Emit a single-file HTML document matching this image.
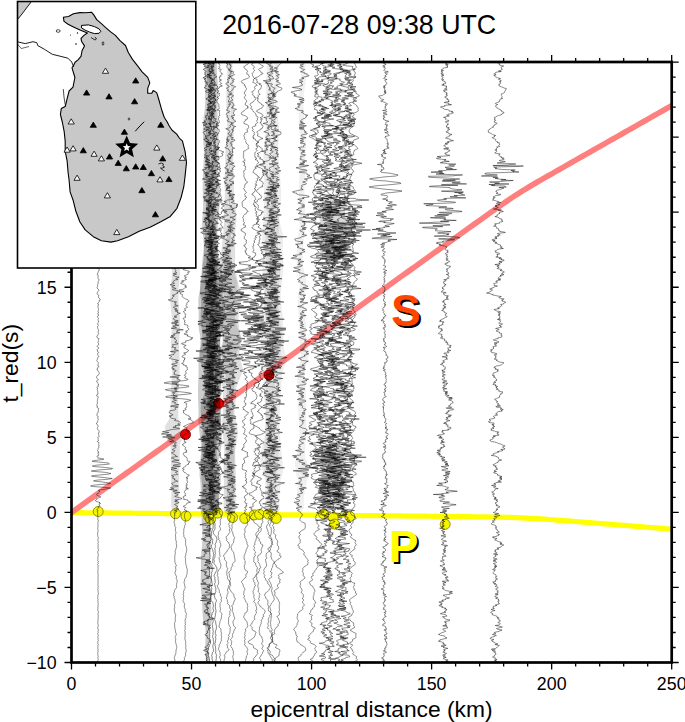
<!DOCTYPE html><html><head><meta charset="utf-8"><style>html,body{margin:0;padding:0;background:#fff;}svg{display:block;}text{font-family:"Liberation Sans",sans-serif;}</style></head><body>
<svg width="685" height="722" viewBox="0 0 685 722">
<defs><clipPath id="pc"><rect x="71.5" y="62.0" width="600.2" height="600.5"/></clipPath><clipPath id="mc"><rect x="17.5" y="1.5" width="178.3" height="266.5"/></clipPath></defs>
<g clip-path="url(#pc)"><polyline points="69.5,512.58 73.3,512.62 77.1,512.66 80.9,512.70 84.7,512.73 88.5,512.77 92.3,512.81 96.1,512.85 99.9,512.89 103.7,512.93 107.5,512.97 111.3,513.01 115.1,513.04 118.9,513.08 122.7,513.12 126.5,513.16 130.3,513.20 134.1,513.24 137.9,513.28 141.7,513.32 145.5,513.35 149.3,513.39 153.1,513.43 156.9,513.47 160.7,513.51 164.5,513.55 168.3,513.59 172.1,513.63 175.9,513.66 179.7,513.70 183.5,513.74 187.3,513.78 191.1,513.82 194.9,513.86 198.7,513.90 202.5,513.94 206.3,513.97 210.1,514.01 213.9,514.05 217.7,514.09 221.5,514.13 225.3,514.17 229.1,514.21 232.9,514.25 236.7,514.29 240.5,514.32 244.3,514.36 248.1,514.40 251.9,514.44 255.7,514.48 259.5,514.52 263.3,514.56 267.1,514.60 270.9,514.63 274.7,514.67 278.5,514.71 282.3,514.75 286.1,514.79 289.9,514.83 293.7,514.87 297.5,514.91 301.3,514.94 305.1,514.98 308.9,515.02 312.7,515.06 316.5,515.10 320.3,515.14 324.1,515.18 327.9,515.22 331.7,515.25 335.5,515.29 339.3,515.33 343.1,515.37 346.9,515.41 350.7,515.45 354.5,515.49 358.3,515.53 362.1,515.56 365.9,515.60 369.7,515.64 373.5,515.68 377.3,515.72 381.1,515.76 384.9,515.80 388.7,515.84 392.5,515.87 396.3,515.91 400.1,515.95 403.9,515.99 407.7,516.03 411.5,516.07 415.3,516.11 419.1,516.15 422.9,516.19 426.7,516.22 430.5,516.26 434.3,516.30 438.1,516.34 441.9,516.38 445.7,516.42 449.5,516.46 453.3,516.51 457.1,516.55 460.9,516.59 464.7,516.63 468.5,516.68 472.3,516.73 476.1,516.78 479.9,516.83 483.7,516.88 487.5,516.94 491.3,517.01 495.1,517.08 498.9,517.16 502.7,517.25 506.5,517.36 510.3,517.47 514.1,517.60 517.9,517.75 521.7,517.91 525.5,518.09 529.3,518.28 533.1,518.49 536.9,518.72 540.7,518.96 544.5,519.21 548.3,519.47 552.1,519.74 555.9,520.02 559.7,520.30 563.5,520.59 567.3,520.88 571.1,521.17 574.9,521.47 578.7,521.77 582.5,522.07 586.3,522.37 590.1,522.67 593.9,522.97 597.7,523.27 601.5,523.58 605.3,523.88 609.1,524.18 612.9,524.49 616.7,524.79 620.5,525.10 624.3,525.40 628.1,525.71 631.9,526.01 635.7,526.31 639.5,526.62 643.3,526.92 647.1,527.23 650.9,527.53 654.7,527.84 658.5,528.14 662.3,528.45 666.1,528.75 669.9,529.06 673.7,529.36" fill="none" stroke="#ffff00" stroke-width="5.2"/>
<polyline points="69.5,513.94 73.3,511.22 77.1,508.50 80.9,505.78 84.7,503.06 88.5,500.34 92.3,497.62 96.1,494.90 99.9,492.18 103.7,489.46 107.5,486.74 111.3,484.02 115.1,481.30 118.9,478.58 122.7,475.86 126.5,473.14 130.3,470.42 134.1,467.70 137.9,464.98 141.7,462.26 145.5,459.54 149.3,456.82 153.1,454.10 156.9,451.38 160.7,448.66 164.5,445.94 168.3,443.22 172.1,440.50 175.9,437.78 179.7,435.06 183.5,432.34 187.3,429.62 191.1,426.90 194.9,424.18 198.7,421.46 202.5,418.74 206.3,416.02 210.1,413.30 213.9,410.58 217.7,407.86 221.5,405.14 225.3,402.42 229.1,399.70 232.9,396.98 236.7,394.26 240.5,391.54 244.3,388.82 248.1,386.10 251.9,383.38 255.7,380.66 259.5,377.94 263.3,375.22 267.1,372.50 270.9,369.78 274.7,367.06 278.5,364.34 282.3,361.62 286.1,358.90 289.9,356.18 293.7,353.46 297.5,350.74 301.3,348.02 305.1,345.30 308.9,342.58 312.7,339.86 316.5,337.14 320.3,334.42 324.1,331.70 327.9,328.98 331.7,326.26 335.5,323.54 339.3,320.82 343.1,318.10 346.9,315.38 350.7,312.66 354.5,309.94 358.3,307.22 362.1,304.50 365.9,301.78 369.7,299.06 373.5,296.34 377.3,293.62 381.1,290.90 384.9,288.18 388.7,285.46 392.5,282.74 396.3,280.02 400.1,277.30 403.9,274.58 407.7,271.86 411.5,269.14 415.3,266.42 419.1,263.70 422.9,260.98 426.7,258.26 430.5,255.54 434.3,252.82 438.1,250.10 441.9,247.38 445.7,244.66 449.5,241.94 453.3,239.22 457.1,236.50 460.9,233.78 464.7,231.06 468.5,228.34 472.3,225.62 476.1,222.90 479.9,220.19 483.7,217.47 487.5,214.76 491.3,212.06 495.1,209.36 498.9,206.68 502.7,204.02 506.5,201.39 510.3,198.80 514.1,196.27 517.9,193.80 521.7,191.39 525.5,189.05 529.3,186.76 533.1,184.51 536.9,182.29 540.7,180.09 544.5,177.91 548.3,175.74 552.1,173.57 555.9,171.40 559.7,169.24 563.5,167.08 567.3,164.92 571.1,162.76 574.9,160.60 578.7,158.44 582.5,156.28 586.3,154.12 590.1,151.96 593.9,149.81 597.7,147.65 601.5,145.49 605.3,143.33 609.1,141.17 612.9,139.01 616.7,136.85 620.5,134.70 624.3,132.54 628.1,130.38 631.9,128.22 635.7,126.06 639.5,123.90 643.3,121.74 647.1,119.58 650.9,117.43 654.7,115.27 658.5,113.11 662.3,110.95 666.1,108.79 669.9,106.63 673.7,104.47" fill="none" stroke="#ff7f7f" stroke-width="5.6"/>
<circle cx="98.2" cy="511.5" r="5.0" fill="#f4f400" stroke="#7a7a00" stroke-width="0.8"/>
<circle cx="175.5" cy="513.7" r="5.0" fill="#f4f400" stroke="#7a7a00" stroke-width="0.8"/>
<circle cx="186" cy="516.1" r="5.0" fill="#f4f400" stroke="#7a7a00" stroke-width="0.8"/>
<circle cx="208.8" cy="516.6" r="5.0" fill="#f4f400" stroke="#7a7a00" stroke-width="0.8"/>
<circle cx="210.5" cy="519.3" r="5.0" fill="#f4f400" stroke="#7a7a00" stroke-width="0.8"/>
<circle cx="217.6" cy="513.1" r="5.0" fill="#f4f400" stroke="#7a7a00" stroke-width="0.8"/>
<circle cx="232.5" cy="517.5" r="5.0" fill="#f4f400" stroke="#7a7a00" stroke-width="0.8"/>
<circle cx="244.7" cy="518.4" r="5.0" fill="#f4f400" stroke="#7a7a00" stroke-width="0.8"/>
<circle cx="254.3" cy="514.9" r="5.0" fill="#f4f400" stroke="#7a7a00" stroke-width="0.8"/>
<circle cx="259.6" cy="514.4" r="5.0" fill="#f4f400" stroke="#7a7a00" stroke-width="0.8"/>
<circle cx="268.4" cy="514" r="5.0" fill="#f4f400" stroke="#7a7a00" stroke-width="0.8"/>
<circle cx="276.2" cy="518.4" r="5.0" fill="#f4f400" stroke="#7a7a00" stroke-width="0.8"/>
<circle cx="323.6" cy="514" r="5.0" fill="#f4f400" stroke="#7a7a00" stroke-width="0.8"/>
<circle cx="333.2" cy="517.5" r="5.0" fill="#f4f400" stroke="#7a7a00" stroke-width="0.8"/>
<circle cx="334.5" cy="524.1" r="5.0" fill="#f4f400" stroke="#7a7a00" stroke-width="0.8"/>
<circle cx="349.8" cy="516.6" r="5.0" fill="#f4f400" stroke="#7a7a00" stroke-width="0.8"/>
<circle cx="445.2" cy="524.3" r="5.0" fill="#f4f400" stroke="#7a7a00" stroke-width="0.8"/>
<circle cx="185.5" cy="434.5" r="5" fill="#ee0000" stroke="#700000" stroke-width="0.9"/>
<circle cx="218.5" cy="403.3" r="5" fill="#ee0000" stroke="#700000" stroke-width="0.9"/>
<circle cx="269" cy="375" r="5" fill="#ee0000" stroke="#700000" stroke-width="0.9"/>
</g>
<g clip-path="url(#pc)" fill="none">
<path d="M98.9,62l-0.8,0.5 0.1,0.5-0.1,0.5-0.8,0.5-0.4,0.5 0.2,0.5 0.6,0.5 0.6,0.5 0.4,0.5-0.1,0.5-0.4,0.5-0.4,0.5 0.6,0.5-0.2,0.5-0.3,0.5 0.4,0.5 0.3,0.5-0.7,0.5-0.4,0.5-0.3,0.5 0,0.5 0.3,0.5 0.6,0.5 0.3,0.5-0.6,0.5 0.1,0.5-0.1,0.5-0.4,0.5 0,0.5 0,0.5-0.4,0.5 0.7,0.5 0.3,0.5 0.5,0.5-0.2,0.5-0.5,0.5 0.1,0.5 0.7,0.5 0,0.5-0.5,0.5-0.2,0.5-0.1,0.5 0.3,0.5 0.1,0.5-0.2,0.5 0.6,0.5-0.5,0.5 0.5,0.5 0.3,0.5-0.3,0.5 0,0.5-0.6,0.5 0,0.5 0.6,0.5-0.3,0.5-0.3,0.5 0.1,0.5 0.3,0.5-0.6,0.5 0,0.5 0.7,0.5 0.2,0.5 0.1,0.5-0.5,0.5-0.4,0.5 0.3,0.5-0.2,0.5 0.5,0.5 0.8,0.5-0.5,0.5-0.8,0.5-0.1,0.5 0.3,0.5 0.5,0.5-0.7,0.5 0.4,0.5-0.4,0.5-0.3,0.5 0,0.5 0.6,0.5-0.4,0.5 0.4,0.5-0.4,0.5 0,0.5 0.2,0.5-0.1,0.5-0.4,0.5-0.3,0.5 0.6,0.5 0.2,0.5 0,0.5-0.1,0.5 0.4,0.5-0.1,0.5 0,0.5-0.3,0.5 0,0.5-0.6,0.5-0.2,0.5 0.4,0.5-0.4,0.5-0.2,0.5 0.2,0.5 0.5,0.5-0.3,0.5 0.1,0.5 0.8,0.5-0.2,0.5-0.3,0.5-0.2,0.5 0,0.5-0.6,0.5-0.1,0.5 0.3,0.5 0.2,0.5 0.4,0.5-0.3,0.5 0.5,0.5-0.4,0.5-0.2,0.5 0,0.5-0.1,0.5 0,0.5-0.5,0.5 0,0.5 0.6,0.5 0.3,0.5 0.7,0.5 0.4,0.5 0,0.5-0.2,0.5-0.5,0.5 0,0.5 0.1,0.5-0.6,0.5-0.1,0.5-0.6,0.5 0.5,0.5 0.4,0.5 0.7,0.5 0.1,0.5-0.4,0.5-0.3,0.5 0.1,0.5 0.9,0.5 0.3,0.5-0.5,0.5-0.1,0.5 0.2,0.5-0.5,0.5 0.4,0.5 0.2,0.5 0.1,0.5-0.6,0.5 0.1,0.5-0.3,0.5 0,0.5 0.3,0.5 0,0.5-0.8,0.5 0.2,0.5 0.8,0.5-0.6,0.5-0.3,0.5-0.1,0.5-0.7,0.5 0.8,0.5-0.4,0.5-0.2,0.5 1.1,0.5 0,0.5-0.6,0.5 0.5,0.5 0.3,0.5-0.2,0.5 0.1,0.5-0.5,0.5 0,0.5 0.7,0.5-0.1,0.5-0.3,0.5 0.2,0.5 0,0.5-0.1,0.5 0.1,0.5 0.6,0.5-0.7,0.5-0.1,0.5-0.2,0.5-0.2,0.5 0.8,0.5-0.6,0.5-0.1,0.5 0.2,0.5-0.1,0.5-0.1,0.5-0.1,0.5 0.1,0.5-0.4,0.5-0.3,0.5 0.8,0.5 0.2,0.5-0.2,0.5 0.6,0.5 0.6,0.5 0.5,0.5-0.5,0.5 0.1,0.5-0.6,0.5-0.1,0.5-0.1,0.5 0.2,0.5-0.1,0.5-0.8,0.5-0.4,0.5 0.3,0.5 0.2,0.5 0.1,0.5 0.4,0.5 0.2,0.5 0.1,0.5-0.6,0.5 0.1,0.5 0.3,0.5 0.1,0.5 0.1,0.5-0.3,0.5-0.7,0.5-0.1,0.5 0.3,0.5-0.1,0.5-0.7,0.5 0.2,0.5 0.6,0.5 0.3,0.5-0.2,0.5 0.1,0.5 0,0.5 0,0.5-0.6,0.5 0,0.5 0.3,0.5-0.3,0.5 0,0.5 0.3,0.5 0,0.5 0.1,0.5 0,0.5 0.4,0.5 0,0.5-0.7,0.5-0.2,0.5 0.7,0.5 0.1,0.5 0,0.5 0.6,0.5-0.6,0.5-0.2,0.5 0.6,0.5-0.3,0.5-0.5,0.5-0.1,0.5 0.4,0.5 0.3,0.5-0.1,0.5 0.3,0.5 0.2,0.5 0.1,0.5-0.1,0.5-0.6,0.5-0.4,0.5-0.6,0.5 0.2,0.5 0.4,0.5-0.1,0.5-0.1,0.5-0.6,0.5 0.3,0.5 0.4,0.5-0.1,0.5 0.2,0.5-0.1,0.5 0.5,0.5 0.2,0.5 0.1,0.5-0.2,0.5 0.1,0.5 0.1,0.5 0.3,0.5 0,0.5-0.1,0.5 0.1,0.5-0.1,0.5 0.2,0.5-0.5,0.5 0.1,0.5-0.2,0.5 0.2,0.5 0.2,0.5-0.3,0.5 0.1,0.5-0.2,0.5 0.4,0.5 0.2,0.5-0.6,0.5 0.1,0.5-0.1,0.5-0.1,0.5-0.1,0.5 0.5,0.5-0.1,0.5-0.3,0.5-0.3,0.5 0.5,0.5 0,0.5-0.2,0.5 0,0.5-0.3,0.5 0.2,0.5 0,0.5 0.2,0.5 0.6,0.5-0.4,0.5-0.2,0.5 0.5,0.5-0.3,0.5-0.2,0.5-0.1,0.5-0.2,0.5-0.2,0.5-0.3,0.5 0.4,0.5 0,0.5 0.5,0.5-0.1,0.5-0.5,0.5-0.1,0.5 0.9,0.5-0.1,0.5-0.3,0.5-0.3,0.5-0.4,0.5 0.3,0.5 0.6,0.5-0.7,0.5-0.5,0.5-0.3,0.5-0.3,0.5 1.2,0.5 0.3,0.5-0.1,0.5 0,0.5-0.3,0.5 0.5,0.5 0.2,0.5 0,0.5-0.4,0.5 0.2,0.5 0.1,0.5-0.1,0.5-0.7,0.5-0.8,0.5-0.4,0.5 0.2,0.5 0.5,0.5 0.6,0.5 0.3,0.5 0,0.5 0.4,0.5-0.1,0.5-0.2,0.5-0.2,0.5 0.6,0.5 0.2,0.5-0.6,0.5 0.2,0.5 0,0.5-0.2,0.5-0.1,0.5-0.4,0.5 0.3,0.5 0,0.5 0.2,0.5-0.3,0.5 0.1,0.5 0.4,0.5-0.1,0.5 0.1,0.5-0.2,0.5 0.3,0.5 0.5,0.5-0.1,0.5-0.5,0.5 0.5,0.5 0.2,0.5-0.3,0.5-0.1,0.5 0,0.5-0.2,0.5-0.3,0.5 0,0.5 0,0.5-0.3,0.5 0.1,0.5 1,0.5-0.2,0.5-0.7,0.5-0.5,0.5-0.6,0.5 0.5,0.5 0.6,0.5 0.5,0.5-0.6,0.5 0.7,0.5 0.8,0.5-0.1,0.5-0.1,0.5-0.2,0.5-0.7,0.5-0.2,0.5 0,0.5 0,0.5-0.3,0.5 0,0.5-0.7,0.5 0.3,0.5 1.1,0.5-0.3,0.5 0,0.5-0.3,0.5 0.1,0.5-0.1,0.5 0.1,0.5 0.8,0.5 0.3,0.5-0.1,0.5-0.2,0.5-0.5,0.5 0.1,0.5-0.2,0.5 0,0.5-0.4,0.5 0.3,0.5 0.3,0.5-0.6,0.5 0,0.5-0.1,0.5 0,0.5 0,0.5-0.3,0.5-0.3,0.5 0.1,0.5 0.4,0.5 0.3,0.5 0.7,0.5 0.1,0.5 0.2,0.5-0.4,0.5-0.4,0.5-0.3,0.5-0.4,0.5-0.5,0.5 0.3,0.5 0.2,0.5 0.4,0.5 0.3,0.5 1,0.5-0.3,0.5-0.1,0.5-0.5,0.5 0.3,0.5 0.7,0.5 0.4,0.5 0.5,0.5 0.2,0.5 0.2,0.5-1.3,0.5-0.2,0.5 0.3,0.5-0.3,0.5-0.5,0.5-0.6,0.5 0.2,0.5-0.5,0.5 1,0.5 0,0.5-0.2,0.5 0.1,0.5-0.7,0.5-0.1,0.5 0.4,0.5 0.2,0.5 0.6,0.5-0.1,0.5-0.3,0.5-0.3,0.5 0.2,0.5-0.2,0.5-0.1,0.5-0.1,0.5 0.7,0.5-0.6,0.5-0.5,0.5 1,0.5-0.2,0.5-0.2,0.5 0.6,0.5-0.8,0.5-0.7,0.5 0.3,0.5 0.4,0.5 0.2,0.5 0.4,0.5 0,0.5-0.5,0.5 0.3,0.5 0,0.5 0,0.5 0.3,0.5 0,0.5-0.6,0.5-0.3,0.5 0.1,0.5 0,0.5 0,0.5 0,0.5 0.6,0.5-0.6,0.5-0.2,0.5 0.4,0.5-0.4,0.5 0.1,0.5 0.3,0.5-0.4,0.5 0.3,0.5 0.6,0.5 0.1,0.5-0.1,0.5-0.3,0.5-0.4,0.5 0.4,0.5 0.4,0.5 0.2,0.5-0.5,0.5-0.2,0.5 0.1,0.5-0.5,0.5-0.9,0.5 0.1,0.5 0.5,0.5-0.4,0.5 0.7,0.5 1.2,0.5 0.3,0.5-0.6,0.5 0.3,0.5-0.5,0.5 0.3,0.5-0.4,0.5-0.5,0.5 0.2,0.5 0.2,0.5 0.1,0.5 0.7,0.5-0.4,0.5-0.1,0.5-0.7,0.5-0.7,0.5 0,0.5 0.5,0.5 0.9,0.5 0.5,0.5-0.7,0.5-0.7,0.5-0.3,0.5 0.1,0.5-0.1,0.5-0.2,0.5 1,0.5 0.4,0.5 0.2,0.5-0.9,0.5-0.2,0.5 0.3,0.5-0.2,0.5 0.2,0.5 0.1,0.5 0.5,0.5 0.3,0.5-0.2,0.5-0.8,0.5-0.6,0.5 0.4,0.5-0.1,0.5-0.3,0.5-0.1,0.5-0.4,0.5 0.5,0.5 0.2,0.5 0.5,0.5 0.3,0.5-0.1,0.5 0.2,0.5-0.3,0.5 0.1,0.5 0.2,0.5-0.5,0.5 0.4,0.5 1,0.5-0.8,0.5-0.7,0.5-0.2,0.5 0.2,0.5-1.1,0.5 0.4,0.5 0.8,0.5 0.1,0.5 0.3,0.5 0.1,0.5 0.4,0.5 0.4,0.5 0.3,0.5-0.2,0.5-0.3,0.5 0,0.5-0.8,0.5-0.5,0.5-0.2,0.5-0.7,0.5-0.3,0.5 0.2,0.5 0.1,0.5 0.5,0.5 0.5,0.5 0.4,0.5 0.2,0.5-1.1,0.5-0.7,0.5 0.1,0.5 0.8,0.5 0,0.5 0.5,0.5 0,0.5 0.6,0.5 0,0.5 0.4,0.5-1.1,0.5-0.1,0.5 0.4,0.5-0.4,0.5-1,0.5 0.8,0.5 0,0.5-0.2,0.5-0.1,0.5 0.1,0.5 0.2,0.5 0.4,0.5-0.2,0.5 0.2,0.5 0,0.5-0.5,0.5 0.4,0.5 0.5,0.5-1.1,0.5-0.4,0.5-0.6,0.5 0.7,0.5 1.2,0.5 0.4,0.5-0.2,0.5-0.4,0.5-0.3,0.5-0.4,0.5 0.6,0.5-0.1,0.5-0.3,0.5-0.2,0.5 0,0.5 0.6,0.5-0.5,0.5-0.3,0.5 0.4,0.5-0.2,0.5-0.3,0.5 0.3,0.5-0.3,0.5 0.2,0.5 0.6,0.5-1,0.5 0.6,0.5 0.8,0.5 0.6,0.5 0.2,0.5-0.6,0.5 0.2,0.5-0.1,0.5-0.1,0.5-0.1,0.5-0.4,0.5 0.2,0.5-0.2,0.5-0.8,0.5 0.2,0.5-0.2,0.5 0,0.5-0.2,0.5 1,0.5 0.3,0.5-0.2,0.5-0.1,0.5-0.3,0.5 0.4,0.5 0.4,0.5 0,0.5 0,0.5-0.6,0.5-0.4,0.5 0.3,0.5-0.3,0.5 0.1,0.5-0.7,0.5-0.7,0.5 0.9,0.5 0.3,0.5 0.6,0.5 0.1,0.5-0.1,0.5 0.2,0.5 0.1,0.5-0.5,0.5-0.3,0.5-0.3,0.5 0.7,0.5 0.1,0.5 0.6,0.5 0.4,0.5 0.4,0.5 0,0.5-0.3,0.5 0,0.5 0.3,0.5-0.9,0.5 0,0.5 0.6,0.5-0.4,0.5 0.3,0.5 0.3,0.5 0,0.5-0.5,0.5-0.9,0.5 0.4,0.5 0.1,0.5 0.1,0.5-0.2,0.5 0.4,0.5 0,0.5-1,0.5-0.1,0.5 0.2,0.5 1.4,0.5 0.1,0.5-0.1,0.5-0.6,0.5 0.3,0.5 0.5,0.5-0.2,0.5-0.4,0.5 0,0.5 0.7,0.5-0.7,0.5-0.5,0.5 0,0.5-0.3,0.5 0.2,0.5 0,0.5-0.3,0.5 0.3,0.5 0.2,0.5-0.5,0.5 1.2,0.5-0.2,0.5-1,0.5 0.6,0.5 0.6,0.5-0.1,0.5-0.2,0.5-1.6,0.5 0,0.5 0.5,0.5 0.5,0.5-0.4,0.5 3.7,0.5 2.6,0.5-0.9,0.5-4.4,0.5-3.4,0.5-3.1,0.5 0.6,0.5 5.9,0.5 4.8,0.5 5.1,0.5 0.3,0.5 0.6,0.5-4.1,0.5-7.3,0.5-3.7,0.5-2,0.5 1,0.5 6.5,0.5 5.9,0.5 3.8,0.5 3,0.5-1.1,0.5-6.4,0.5-6.7,0.5-3.5,0.5-3.5,0.5 3.3,0.5 6.7,0.5 5.3,0.5 1.9,0.5 2.4,0.5-1.7,0.5-4.6,0.5-5.2,0.5-4.9,0.5-3,0.5 1.4,0.5 5.4,0.5 5.9,0.5 3.1,0.5 5,0.5-2.6,0.5-4.4,0.5-7.3,0.5-3.4,0.5-1.1,0.5 4.2,0.5 4.4,0.5 3.7,0.5 3.8,0.5 1.1,0.5-3.7,0.5-5.5,0.5-6.4,0.5-3.2,0.5-1.4,0.5 2.1,0.5 7.2,0.5 6.5,0.5 4.4,0.5-2.3,0.5-2.7,0.5-2.8,0.5-4.2,0.5-0.5,0.5 1.7,0.5-0.3,0.5-0.1,0.5-0.7,0.5-0.6,0.5 0,0.5-1.4,0.5-0.4,0.5 0.7,0.5 0.4,0.5 0.8,0.5 1.8,0.5 0.8,0.5-1.8,0.5-0.9,0.5-1.5,0.5 0.4,0.5-0.1,0.5-1,0.5-0.5,0.5 0,0.5 0.6,0.5 2.3,0.5 1.6,0.5-0.8,0.5 1.3,0.5-1,0.5-0.7,0.5 0.9,0.5 0.1,0.5-0.8,0.5-0.4,0.5 0.6,0.5-1.2,0.5 0.2,0.5-0.1,0.5-0.7,0.5-0.5,0.5 0.2,0.5 0.9,0.5 0,0.5-0.9,0.5 0.2,0.5 0.3,0.5-0.4,0.5 0.6,0.5 0.2,0.5-0.3,0.5-0.1,0.5-0.1,0.5 0.2,0.5 0.1,0.5 0.1,0.5 0.1,0.5 0,0.5-0.2,0.5-0.2,0.5 0.2,0.5 0.2,0.5 0.3,0.5-0.1,0.5 0.1,0.5-0.2,0.5-0.2,0.5-0.1,0.5 0.1,0.5 0.2,0.5 0,0.5 0,0.5-0.2,0.5-0.1,0.5 0.1,0.5-0.1,0.5 0.1,0.5 0.1,0.5-0.4,0.5 0.2,0.5 0.2,0.5 0.1,0.5-0.1,0.5-0.1,0.5 0.1,0.5 0,0.5-0.3,0.5 0.1,0.5-0.2,0.5-0.2,0.5 0.2,0.5 0.1,0.5 0,0.5 0.3,0.5-0.2,0.5 0.1,0.5 0.4,0.5 0.1,0.5-0.2,0.5 0,0.5-0.2,0.5-0.1,0.5-0.1,0.5 0,0.5 0.3,0.5 0.4,0.5 0.1,0.5-0.4,0.5-0.5,0.5 0.1,0.5 0.3,0.5 0.1,0.5-0.1,0.5-0.2,0.5 0,0.5 0.1,0.5 0.2,0.5 0,0.5-0.2,0.5 0.2,0.5 0.2,0.5 0.1,0.5-0.1,0.5-0.5,0.5-0.1,0.5 0.1,0.5-0.2,0.5-0.1,0.5 0.5,0.5 0.1,0.5 0,0.5 0,0.5 0,0.5-0.1,0.5 0,0.5 0.1,0.5-0.4,0.5 0,0.5 0,0.5 0.3,0.5-0.2,0.5-0.3,0.5 0,0.5 0.5,0.5 0.4,0.5-0.3,0.5-0.4,0.5 0,0.5 0.5,0.5-0.3,0.5-0.3,0.5 0.3,0.5 0.2,0.5 0.1,0.5-0.3,0.5-0.1,0.5 0.1,0.5-0.1,0.5 0.1,0.5 0,0.5 0.1,0.5-0.3,0.5 0,0.5 0.2,0.5 0,0.5-0.3,0.5 0,0.5 0.3,0.5 0,0.5 0.4,0.5-0.1,0.5-0.1,0.5-0.2,0.5 0,0.5 0,0.5 0.1,0.5 0,0.5 0.1,0.5-0.2,0.5 0,0.5 0,0.5-0.1,0.5 0.3,0.5 0,0.5-0.2,0.5-0.1,0.5 0.1,0.5-0.1,0.5 0.1,0.5-0.1,0.5 0,0.5 0,0.5 0.2,0.5 0.4,0.5-0.1,0.5-0.5,0.5-0.1,0.5-0.1,0.5 0.4,0.5 0.1,0.5-0.3,0.5 0,0.5 0.1,0.5 0,0.5 0.1,0.5 0.2,0.5-0.1,0.5 0.1,0.5 0.1,0.5-0.2,0.5-0.1,0.5-0.2,0.5 0,0.5 0.2,0.5-0.2,0.5-0.1,0.5-0.1,0.5 0,0.5 0,0.5 0.2,0.5 0.2,0.5 0,0.5-0.3,0.5 0.2,0.5 0,0.5-0.1,0.5 0.1,0.5 0.1,0.5 0,0.5 0.1,0.5 0.2,0.5-0.3,0.5-0.2,0.5 0,0.5 0.2,0.5-0.1,0.5-0.1,0.5-0.1,0.5 0.1,0.5-0.2,0.5 0,0.5 0,0.5 0.2,0.5 0.1,0.5 0.2,0.5 0.3,0.5 0,0.5-0.5,0.5 0,0.5 0.1,0.5-0.1,0.5 0.2,0.5 0,0.5-0.2,0.5 0.2,0.5 0.1,0.5-0.1,0.5-0.1,0.5 0,0.5 0,0.5-0.1,0.5 0.1,0.5-0.1,0.5-0.1,0.5 0,0.5 0.1,0.5-0.1,0.5 0,0.5-0.1,0.5 0.2,0.5 0.1,0.5 0.1,0.5 0,0.5 0,0.5-0.1,0.5-0.2,0.5-0.2,0.5 0,0.5 0.1,0.5 0.3,0.5 0.2,0.5-0.1,0.5 0,0.5-0.1,0.5-0.1,0.5 0.1,0.5 0,0.5-0.1,0.5-0.2,0.5 0,0.5 0.1,0.5 0.1,0.5 0.4,0.5-0.1,0.5-0.4,0.5-0.1,0.5 0.1,0.5-0.1,0.5 0.3,0.5 0,0.5-0.1,0.5 0.2,0.5 0.1,0.5-0.2,0.5-0.1,0.5-0.3,0.5 0,0.5 0,0.5 0,0.5 0.5,0.5 0.2,0.5-0.5,0.5-0.1,0.5 0.3,0.5-0.1,0.5-0.1,0.5-0.1,0.5 0.1,0.5-0.1,0.5 0.3,0.5 0.1,0.5-0.1,0.5-0.2,0.5 0.1,0.5 0.1,0.5-0.2,0.5-0.2,0.5-0.1,0.5 0.2,0.5 0.2,0.5 0,0.5-0.3,0.5 0.1,0.5 0.4,0.5 0,0.5-0.3,0.5-0.1,0.5-0.1,0.5 0.3,0.5 0.3,0.5-0.1,0.5-0.4,0.5 0.1,0.5 0,0.5 0,0.5 0,0.5 0.2,0.5 0.1,0.5-0.1,0.5" stroke="#000" stroke-width="0.45"/>
<polygon points="171.2,62 171.0,66 170.8,71 170.6,76 170.6,80 170.7,84 171.0,89 171.1,94 171.2,98 171.3,102 171.3,107 171.1,112 170.7,116 170.2,120 169.7,125 169.7,130 170.0,134 170.6,138 171.1,143 171.3,148 171.5,152 171.6,156 171.9,161 172.3,166 172.6,170 172.6,174 172.5,179 172.2,184 172.0,188 171.9,192 172.0,197 172.1,202 172.0,206 171.7,210 171.5,215 171.5,220 171.8,224 172.2,228 172.5,233 172.5,238 172.3,242 171.9,246 171.6,251 171.3,256 171.3,260 171.5,264 171.9,269 172.0,274 171.7,278 171.1,282 170.6,287 170.3,292 170.2,296 170.4,300 170.6,305 171.0,310 171.5,314 171.8,318 172.0,323 171.9,328 171.6,332 171.3,336 170.9,341 170.8,346 170.9,350 171.1,354 171.4,359 171.7,364 171.9,368 172.0,372 171.8,377 171.6,382 171.3,386 171.0,390 170.7,395 170.6,400 170.6,404 170.4,408 170.0,413 169.5,418 167.5,422 165.0,426 165.4,431 166.0,436 166.8,440 170.2,444 170.8,449 170.9,454 171.0,458 171.0,462 170.9,467 170.8,472 170.8,476 170.9,480 171.1,485 171.4,490 171.5,494 171.3,498 171.1,503 171.6,508 173.2,512 175.2,516 175.3,521 175.3,526 175.3,530 175.4,534 175.7,539 176.0,544 176.2,548 176.3,552 176.2,557 176.1,562 176.0,566 175.9,570 175.8,575 175.6,580 175.5,584 175.4,588 175.3,593 175.3,598 175.3,602 175.3,606 175.2,611 175.1,616 175.0,620 174.8,624 174.7,629 174.8,634 174.9,638 175.1,642 175.2,647 175.4,652 175.4,656 175.5,660 175.4,664 175.4,664 175.5,660 175.4,656 175.4,652 175.2,647 175.1,642 174.9,638 174.8,634 174.7,629 174.8,624 175.0,620 175.1,616 175.2,611 175.3,606 175.3,602 175.3,598 175.3,593 175.4,588 175.5,584 175.6,580 175.8,575 175.9,570 176.0,566 176.1,562 176.2,557 176.3,552 176.2,548 176.0,544 175.7,539 175.4,534 175.3,530 175.3,526 175.3,521 175.2,516 176.8,512 177.9,508 178.6,503 179.0,498 179.2,494 179.3,490 179.1,485 179.0,480 179.0,476 179.1,472 179.4,467 179.6,462 179.7,458 179.7,454 179.7,449 179.8,444 181.8,440 181.0,436 180.4,431 180.0,426 178.9,422 178.3,418 178.3,413 178.2,408 178.1,404 178.1,400 178.2,395 178.5,390 178.8,386 179.1,382 179.3,377 179.5,372 179.6,368 179.7,364 179.6,359 179.4,354 179.1,350 179.0,346 179.1,341 179.4,336 179.8,332 180.1,328 180.1,323 180.0,318 179.6,314 179.2,310 178.8,305 178.5,300 178.3,296 178.4,292 178.7,287 179.2,282 179.7,278 180.0,274 179.9,269 179.5,264 179.3,260 179.3,256 179.6,251 179.9,246 180.2,242 180.4,238 180.5,233 180.2,228 179.7,224 179.4,220 179.3,215 179.6,210 179.8,206 179.9,202 179.9,197 179.8,192 179.8,188 180.0,184 180.3,179 180.4,174 180.3,170 180.0,166 179.6,161 179.3,156 179.2,152 179.1,148 178.8,143 178.3,138 177.7,134 177.3,130 177.4,125 177.8,120 178.4,116 178.8,112 178.9,107 178.9,102 178.8,98 178.7,94 178.5,89 178.3,84 178.1,80 178.1,76 178.3,71 178.5,66 178.7,62" fill="#000" fill-opacity="0.12" stroke="none"/>
<path d="M170.3,62l6,0.75 2.9,0.75-3.1,0.75 0,0.75-1.4,0.75 0.4,0.75-2,0.75 4.3,0.75 1.2,0.75-6.8,0.75 2.5,0.75-0.6,0.75 4.7,0.75-1.8,0.75 0.5,0.75-1.9,0.75 2.2,0.75-0.1,0.75-0.2,0.75-0.1,0.75-3.9,0.75 4.5,0.75-4.2,0.75-0.4,0.75 1.5,0.75 2.4,0.75 1.1,0.75-1.3,0.75 0.1,0.75-0.3,0.75-3.9,0.75 1.4,0.75-0.8,0.75-1.7,0.75 0.8,0.75 4.4,0.75-3.9,0.75-2.7,0.75 3,0.75-0.6,0.75-1,0.75 0.1,0.75 1.9,0.75-1.4,0.75-0.4,0.75 1.4,0.75 0.7,0.75 2.4,0.75 1.7,0.75-1.3,0.75 4.3,0.75-7,0.75-0.8,0.75 0.3,0.75 3.4,0.75-0.3,0.75-1,0.75-2,0.75 2.3,0.75-1.3,0.75 0,0.75 3.6,0.75 0.4,0.75-2.2,0.75-2.1,0.75 0.8,0.75-3.2,0.75-1.7,0.75 0.3,0.75 2.9,0.75-0.2,0.75-1.5,0.75-1.3,0.75 0.4,0.75-2.4,0.75 2.9,0.75 2.8,0.75-3,0.75-3,0.75 4.4,0.75 1.9,0.75 0.3,0.75-0.4,0.75-0.6,0.75 0.3,0.75-1.6,0.75 1.9,0.75-2,0.75 1.3,0.75 2.3,0.75-1.4,0.75-3.1,0.75-0.5,0.75 6.3,0.75-2.5,0.75-0.8,0.75-1,0.75 2.4,0.75-0.8,0.75 0.2,0.75 0.9,0.75 1,0.75 2,0.75-2.5,0.75 0.9,0.75-8.4,0.75 1.8,0.75 3.5,0.75-0.8,0.75 3.4,0.75 1.6,0.75 1.4,0.75 0.4,0.75 2,0.75-3.7,0.75-1.9,0.75 0.5,0.75 0.5,0.75-1.6,0.75-0.6,0.75 1.5,0.75 1,0.75-2.1,0.75-0.2,0.75 1.2,0.75-0.4,0.75 1.8,0.75-3.7,0.75-0.4,0.75 3.1,0.75-2.7,0.75 1.3,0.75-3.7,0.75 5.2,0.75 2.9,0.75-5.8,0.75 0.1,0.75 1.8,0.75 0.6,0.75-5.2,0.75 3,0.75 1.2,0.75 0.1,0.75 1,0.75-0.6,0.75 1.2,0.75-0.3,0.75 5.3,0.75-3,0.75 1.7,0.75-3.1,0.75-0.8,0.75-1.7,0.75 2.2,0.75-0.5,0.75-2.4,0.75 7.7,0.75-5.3,0.75-2.3,0.75-1.6,0.75 1.8,0.75 0.7,0.75-0.4,0.75 2.2,0.75-3.9,0.75 2.6,0.75-0.2,0.75-2.6,0.75-0.1,0.75 1.4,0.75 2.2,0.75-1.1,0.75-0.3,0.75-0.5,0.75 1.7,0.75-3.7,0.75-0.3,0.75 2.3,0.75 0.5,0.75 2.8,0.75-1,0.75-1.7,0.75-2.2,0.75 3.8,0.75-2.9,0.75 3.5,0.75 0.7,0.75 1.6,0.75-2.9,0.75 4.2,0.75-2.5,0.75-3.7,0.75-1.7,0.75-4.8,0.75 5.1,0.75 1.3,0.75-3.4,0.75 1,0.75-1.7,0.75 8.7,0.75-5.3,0.75 2.3,0.75 1.3,0.75-1.6,0.75 1.8,0.75 1.1,0.75 2,0.75-2.3,0.75 0.5,0.75-8.2,0.75 0.2,0.75-0.3,0.75 3.6,0.75 0.1,0.75 1.2,0.75 0.8,0.75 0.1,0.75-2.6,0.75 1.9,0.75 0.1,0.75 0.6,0.75 3.5,0.75-5.8,0.75 2.5,0.75 0,0.75 0.5,0.75-0.1,0.75 0.3,0.75-0.7,0.75 1.1,0.75-0.7,0.75-4.6,0.75-1.6,0.75 2.9,0.75-1,0.75 4.9,0.75 1.1,0.75-4.4,0.75 4.3,0.75-0.4,0.75-3,0.75 3.5,0.75 1.8,0.75-5.1,0.75-0.2,0.75-1.8,0.75 3.9,0.75-1.4,0.75 1.5,0.75-2.6,0.75 0.4,0.75-2.3,0.75-2.5,0.75 4.5,0.75 2.9,0.75-8.7,0.75 5.9,0.75-1.5,0.75-0.3,0.75 4,0.75 0.2,0.75 0,0.75 0.2,0.75-5.3,0.75 7.2,0.75-0.5,0.75-4.1,0.75 0.4,0.75-1.9,0.75 3.4,0.75 0.3,0.75-0.1,0.75-1.2,0.75 0.6,0.75-1.8,0.75-0.7,0.75 0.7,0.75 1,0.75-0.5,0.75-0.2,0.75 1.4,0.75-3.4,0.75 3.1,0.75-3.4,0.75 0.9,0.75 1.4,0.75 3.7,0.75-1.9,0.75-1.5,0.75 2.4,0.75-3.9,0.75-0.1,0.75-1.2,0.75-0.3,0.75 2,0.75-2.5,0.75-2.1,0.75 4.9,0.75-2.5,0.75-0.6,0.75 2.5,0.75 1.8,0.75-3.9,0.75 0.8,0.75 5.4,0.75 1.6,0.75-3.2,0.75 1.3,0.75-2,0.75-1.1,0.75-2.6,0.75 1.9,0.75-1.4,0.75-0.5,0.75 0.5,0.75-1.3,0.75-3.4,0.75 0.8,0.75 4.2,0.75 3.4,0.75-2.2,0.75 1.3,0.75 0.4,0.75-1.5,0.75 3.6,0.75-2.9,0.75-2.1,0.75 1.2,0.75 2.4,0.75-2.1,0.75 3.2,0.75-2.7,0.75 2.8,0.75-1,0.75 3.5,0.75-2.8,0.75-0.2,0.75-1.3,0.75-2,0.75 2.6,0.75-2.5,0.75-1,0.75 0.6,0.75 0.4,0.75 4,0.75-3.7,0.75 3.7,0.75-7,0.75 5.6,0.75-1.9,0.75 3.9,0.75-6.1,0.75 2.2,0.75 1.5,0.75-5.4,0.75 5.7,0.75 6.5,0.75-6.5,0.75 0.9,0.75-1.5,0.75 3.8,0.75-4.9,0.75-1.8,0.75 1.8,0.75-4,0.75 2.4,0.75-3.3,0.75 5.3,0.75-1.4,0.75 1.6,0.75 0.6,0.75 0.7,0.75-2,0.75 0,0.75 2.9,0.75 0.1,0.75-5.6,0.75 0.9,0.75-0.3,0.75-1.2,0.75 4.3,0.75-1.1,0.75-0.8,0.75 2.3,0.75 1.9,0.75-8.1,0.75 5.2,0.75-0.9,0.75-0.9,0.75 0.2,0.75-5.1,0.75 2.2,0.75 0.6,0.75-1.3,0.75-1,0.75 2.3,0.75 4.2,0.75 2.7,0.75-3.2,0.75 1.1,0.75 1.2,0.75-2.8,0.75-3.2,0.75 2.2,0.75 3.1,0.75-4.4,0.75 0.2,0.75-1.2,0.75 2.8,0.75-1.7,0.75 3.3,0.75 0.4,0.75-2,0.75-0.3,0.75 1,0.75-1.2,0.75 1.2,0.75 5.3,0.75-3.8,0.75-6.6,0.75 8.8,0.75-1.9,0.75 0.6,0.75 3,0.75-0.7,0.75-0.6,0.75-0.7,0.75-6.5,0.75 5.4,0.75-1.6,0.75 1.1,0.75 1.9,0.75-1.4,0.75-1.1,0.75-2,0.75 3.1,0.75-2.9,0.75 2,0.75 0,0.75-0.5,0.75-3.5,0.75 2.2,0.75-0.8,0.75-0.8,0.75 1.7,0.75 2.5,0.75-4.4,0.75 2.4,0.75-2,0.75 0.4,0.75 3,0.75-2.9,0.75-1.5,0.75 3.4,0.75-0.9,0.75 0.6,0.75 3.6,0.75-5.8,0.75-2.6,0.75 7.8,0.75-3.3,0.75 0.3,0.75 0.5,0.75-1,0.75-5,0.75 0.3,0.75-1,0.75 0.2,0.75 2,0.75 1.5,0.75-0.2,0.75-3.6,0.75 2.1,0.75-0.7,0.75 1,0.75 4.4,0.75-0.4,0.75-0.9,0.75 4.6,0.75 0.6,0.75 1,0.75-2.5,0.75-0.5,0.75 2.7,0.75-5.4,0.75 1.1,0.75-3.2,0.75 5.2,0.75 1.6,0.75-8.1,0.75-2.2,0.75-3.4,0.75-3.6,0.75 6.4,0.75-4.3,0.75-3.1,0.75 9.9,0.75-4.7,0.75 5.8,0.75-9.8,0.75 12.2,0.75-7,0.75 2.1,0.75 2.7,0.75 1,0.75-3.9,0.75 6.4,0.75 0.4,0.75-2.2,0.75 0.1,0.75 2,0.75-3.6,0.75 3.2,0.75 0,0.75-1.5,0.75-1.3,0.75-1,0.75 2.7,0.75-0.4,0.75-0.4,0.75-2.7,0.75 0.9,0.75 1.5,0.75 1.7,0.75-0.3,0.75 2.3,0.75-5.2,0.75-1,0.75 2.8,0.75 0.3,0.75 4.7,0.75-6.7,0.75-0.5,0.75 5.5,0.75 2.7,0.75 0.7,0.75-6.5,0.75-1.3,0.75 7.4,0.75-6.6,0.75-2.3,0.75 5.2,0.75-5.7,0.75 1.5,0.75 3.9,0.75 1.4,0.75-2.5,0.75 1.2,0.75 0.8,0.75 0.4,0.75-5.9,0.75-0.2,0.75 2.2,0.75-1.1,0.75-0.2,0.75 2.6,0.75-1.2,0.75 2.6,0.75 1.3,0.75-3.1,0.75-1.5,0.75-1.6,0.75 0.8,0.75 0.3,0.75 5.4,0.75-0.2,0.75-7,0.75-0.3,0.75 3.2,0.75-4.4,0.75 7.9,0.75-4.1,0.75 0.3,0.75 6.5,0.75-5.4,0.75 2.1,0.75 1.4,0.75-0.9,0.75-2.6,0.75 2.1,0.75 3.6,0.75 1.8,0.75-2,0.75-5.3,0.75 2.6,0.75-2.7,0.75 4.3,0.75-0.4,0.75-2.6,0.75-1.5,0.75 1.3,0.75 1.4,0.75 0.8,0.75-2.2,0.75 1,0.75 2.2,0.75-1.5,0.75-3,0.75 2.5,0.75-1.6,0.75-0.5,0.75 0,0.75-0.9,0.75 0.9,0.75-0.2,0.75-0.2,0.75 0.3,0.75-0.2,0.75-0.1,0.75-0.1,0.75 0.2,0.75 0.1,0.75-0.7,0.75 0.2,0.75 0,0.75 0.6,0.75 0,0.75-0.1,0.75 0.2,0.75 0.7,0.75 0.2,0.75-0.3,0.75 0,0.75-0.1,0.75 0,0.75 0.3,0.75 0.1,0.75 0.5,0.75-0.6,0.75-0.2,0.75 0,0.75 0,0.75 0.2,0.75-0.1,0.75 0.2,0.75-0.2,0.75 0,0.75 0.5,0.75 0,0.75 0.3,0.75 0.1,0.75-0.3,0.75 0.3,0.75 0.1,0.75 0,0.75 0.1,0.75-0.2,0.75-0.3,0.75-0.3,0.75-0.2,0.75-0.2,0.75-0.4,0.75 0,0.75 0.2,0.75-0.1,0.75 0.2,0.75-0.4,0.75-0.2,0.75 0,0.75 0.1,0.75-0.2,0.75 0,0.75 0.1,0.75 0.2,0.75-0.1,0.75-0.1,0.75 0.2,0.75 0.2,0.75 0.3,0.75 0.3,0.75 0.5,0.75 0.1,0.75-1.1,0.75 0.4,0.75 0,0.75 0,0.75 0.2,0.75-0.3,0.75-0.1,0.75-0.4,0.75-0.1,0.75 0.1,0.75 0.4,0.75 0.2,0.75 0.5,0.75 0.3,0.75 0,0.75-0.4,0.75 0.2,0.75 0.6,0.75 0.2,0.75-0.1,0.75 0.2,0.75-0.2,0.75-0.2,0.75-0.4,0.75 0,0.75 0.1,0.75 0.2,0.75 0,0.75-0.3,0.75-0.6,0.75-0.5,0.75-0.3,0.75-0.7,0.75 0.2,0.75-0.3,0.75-0.3,0.75-0.3,0.75 0.2,0.75-0.2,0.75 0.2,0.75 0.5,0.75-0.1,0.75 0,0.75 0.5,0.75 0.3,0.75 0,0.75 0.2,0.75-0.3,0.75 0.4,0.75-0.1,0.75-0.5,0.75-0.2,0.75-0.1,0.75 0.1,0.75 0.2,0.75 0,0.75-0.5,0.75 0,0.75 0.1,0.75 0.3,0.75-0.2,0.75 0.3,0.75 0.2,0.75 0.5,0.75 0.3,0.75-0.1,0.75-0.3,0.75 0.3,0.75-0.3,0.75 0,0.75-0.1,0.75 0,0.75 0.2,0.75-0.2,0.75-0.3,0.75-0.3,0.75-0.2,0.75 0.1,0.75 0.2,0.75 0.1,0.75-0.1,0.75-0.1,0.75 0.4,0.75 0.2,0.75 0.1,0.75 0.1,0.75 0.1,0.75 0.1,0.75 0.1,0.75 0.5,0.75 0,0.75 0,0.75-0.4,0.75-0.4,0.75-0.6,0.75 0.8,0.75 0.1,0.75 0,0.75-0.4,0.75 0.5,0.75-0.2,0.75 0,0.75 0.2,0.75 0.5,0.75 0,0.75 0,0.75 0.3,0.75 0.1,0.75 0.2,0.75-0.3,0.75-0.3,0.75-0.2,0.75 0,0.75-0.2,0.75 0.1,0.75-0.1,0.75-0.2,0.75-0.3,0.75-0.4,0.75 0.1,0.75-0.5,0.75-0.4,0.75 0.2,0.75 0.2,0.75 0.2,0.75 0.1,0.75-0.2,0.75 0,0.75 0.1,0.75-0.2,0.75" stroke="#000" stroke-width="0.45"/>
<path d="M181.8,62l1.7,0.75-0.3,0.75-1.6,0.75-0.6,0.75-0.4,0.75-0.5,0.75 1.1,0.75 1.3,0.75 0.7,0.75-1.4,0.75 0.5,0.75 3.8,0.75-2.6,0.75 0.8,0.75 1.4,0.75-2.3,0.75 0,0.75 1.2,0.75 0.7,0.75-0.7,0.75-1.2,0.75-1.6,0.75 1.2,0.75 0.2,0.75-0.8,0.75 0.3,0.75 1.8,0.75-0.8,0.75-0.8,0.75 1,0.75 0.9,0.75 0.4,0.75-0.5,0.75-0.2,0.75-0.8,0.75 0.7,0.75 0.6,0.75 0.3,0.75 1.3,0.75 2.2,0.75-1.7,0.75-1.3,0.75-2.3,0.75 2,0.75 1.9,0.75-0.6,0.75 1.3,0.75 0,0.75 1,0.75-3,0.75-0.1,0.75-0.3,0.75-1.9,0.75 0.6,0.75 0.3,0.75 0,0.75-1.7,0.75 1.2,0.75-2.5,0.75-0.6,0.75 1.7,0.75 1,0.75 1.3,0.75-1.1,0.75-1.2,0.75 3.1,0.75-0.6,0.75-3.3,0.75 0,0.75-0.7,0.75 1.8,0.75-1.3,0.75 2.4,0.75-1.9,0.75 4.2,0.75 0.5,0.75-1.1,0.75-2.3,0.75 0.7,0.75 1,0.75-3.2,0.75 2.9,0.75-2.3,0.75 0.7,0.75-0.3,0.75-0.4,0.75 0,0.75-0.9,0.75 0.8,0.75-1.9,0.75 1.1,0.75-0.7,0.75 1.3,0.75 0,0.75 0.9,0.75 0.3,0.75 0.7,0.75 2.2,0.75 0.2,0.75 1.7,0.75 1.2,0.75 1,0.75-0.6,0.75-0.9,0.75 1.8,0.75-3.4,0.75-1.5,0.75 1.5,0.75-2.5,0.75-1.5,0.75-1.1,0.75-1.2,0.75-1.2,0.75-0.6,0.75 2.5,0.75 2.6,0.75-1,0.75-0.7,0.75-0.9,0.75-1.5,0.75-0.4,0.75-0.5,0.75-0.2,0.75 2.3,0.75-2,0.75-0.5,0.75 1,0.75 3.3,0.75 1.1,0.75 1,0.75-1.5,0.75-0.2,0.75 1.5,0.75 0.1,0.75-0.2,0.75-2.9,0.75 1.1,0.75 1.2,0.75-3.5,0.75 0.4,0.75 1.4,0.75-0.5,0.75 2.3,0.75 0.1,0.75-1.3,0.75 0.9,0.75 0.8,0.75 2.7,0.75-1.1,0.75-0.1,0.75 2.3,0.75-0.1,0.75 2.1,0.75-3.1,0.75-2.3,0.75 2.6,0.75-1.6,0.75 1,0.75 2,0.75 1.6,0.75 3.7,0.75-1.3,0.75 0,0.75-2.9,0.75-2.3,0.75-1,0.75-2.9,0.75-1.2,0.75 2.5,0.75 0,0.75-0.5,0.75 2.1,0.75-0.2,0.75-0.2,0.75-0.4,0.75 1.1,0.75-1.8,0.75 3,0.75-0.5,0.75-2.7,0.75 0.1,0.75-0.6,0.75 3.2,0.75-1,0.75-3.2,0.75 0.1,0.75 0.8,0.75-1.3,0.75 0.4,0.75-2.6,0.75 3.4,0.75 0.9,0.75-0.2,0.75-0.3,0.75-1,0.75 1.1,0.75-0.7,0.75 1.7,0.75 3.6,0.75-2.1,0.75 0.3,0.75-1.6,0.75 3.6,0.75-0.8,0.75-0.9,0.75-0.7,0.75-1,0.75-2.3,0.75-0.8,0.75 0.5,0.75 0.6,0.75 0.1,0.75-1.1,0.75 1.1,0.75 0.6,0.75 0.2,0.75-1.1,0.75-4.2,0.75 1.3,0.75 1.3,0.75 2,0.75-0.2,0.75 1.9,0.75 0.9,0.75-0.7,0.75 1.8,0.75 0.6,0.75 3,0.75-1.8,0.75 0.2,0.75-1.4,0.75-0.5,0.75-0.1,0.75-2.3,0.75-0.1,0.75 1.3,0.75 2.7,0.75-1.8,0.75-2,0.75-1.8,0.75-0.2,0.75 0.2,0.75-0.7,0.75-0.8,0.75-0.3,0.75 1.5,0.75 2.2,0.75 1.3,0.75-1.4,0.75 1.5,0.75-1.4,0.75-1.4,0.75 0.5,0.75-0.8,0.75 2.3,0.75 0.3,0.75-3.1,0.75 1,0.75 2.7,0.75-3.8,0.75 1.3,0.75-0.1,0.75-0.1,0.75 0.8,0.75-1.1,0.75-0.8,0.75 0.7,0.75-1.1,0.75 1.3,0.75 1.1,0.75 3.6,0.75-0.2,0.75-1.5,0.75-0.8,0.75-0.6,0.75-3.8,0.75 0.3,0.75 3,0.75 2.7,0.75 0.5,0.75-2.1,0.75 0.8,0.75-0.2,0.75-2,0.75-1.8,0.75 0.4,0.75 1.8,0.75-1.9,0.75 0.6,0.75 1.3,0.75-1.9,0.75-3.1,0.75 2.1,0.75-1.6,0.75-1.5,0.75 1.6,0.75 2.4,0.75 1.7,0.75-1.4,0.75 1.9,0.75-1.7,0.75-0.9,0.75-1,0.75-4,0.75 1.1,0.75 3.9,0.75-4.3,0.75 0.9,0.75-0.5,0.75 2.4,0.75-0.1,0.75-0.7,0.75 0.5,0.75 0.9,0.75 1.3,0.75 1.3,0.75 2.1,0.75 0.4,0.75 0.9,0.75-1.3,0.75-1.1,0.75 0.1,0.75 0,0.75-0.2,0.75-1,0.75 1,0.75 0.9,0.75-1.6,0.75-1.7,0.75 0.5,0.75 1.1,0.75-1.9,0.75-0.7,0.75 1,0.75 0.2,0.75 1.3,0.75-0.4,0.75-0.2,0.75-0.3,0.75 1.1,0.75-1.2,0.75-1.9,0.75 0.8,0.75 1,0.75 0.4,0.75-1,0.75 1.1,0.75-0.2,0.75-0.4,0.75-0.2,0.75 3.3,0.75-0.2,0.75 0.7,0.75-0.8,0.75 1,0.75 0.7,0.75-0.6,0.75-0.5,0.75-2.4,0.75 1.6,0.75-0.2,0.75-2.4,0.75-0.5,0.75 4,0.75-1.2,0.75 2.1,0.75 1.8,0.75 2.2,0.75-2.2,0.75 0.7,0.75-2.5,0.75-3.7,0.75 0.7,0.75-0.4,0.75-3.8,0.75-0.1,0.75 2.7,0.75 1.8,0.75-2.2,0.75-0.3,0.75 0.4,0.75 1.4,0.75 1.1,0.75 1.6,0.75 0.5,0.75-1.4,0.75-0.2,0.75-3.4,0.75 1.7,0.75 0,0.75-1.9,0.75-1.3,0.75-0.2,0.75 1.4,0.75 1.9,0.75-1.3,0.75 1,0.75-1.5,0.75 0.2,0.75 0.2,0.75-1.1,0.75-1.2,0.75 2.3,0.75-0.6,0.75 3.2,0.75-0.7,0.75 1.6,0.75-0.5,0.75 0.5,0.75 0.2,0.75-1.2,0.75-0.2,0.75-0.8,0.75 0.8,0.75 0.2,0.75-1.3,0.75-0.2,0.75-0.6,0.75 1.6,0.75-0.7,0.75-0.7,0.75 1.6,0.75 2,0.75-0.6,0.75-4.2,0.75-9.7,0.75-7,0.75-2.5,0.75 5.3,0.75 6.4,0.75 7.7,0.75 5.4,0.75-0.2,0.75-4.6,0.75-8,0.75-7.4,0.75-3.3,0.75 2.3,0.75 6.8,0.75 7.9,0.75 6.2,0.75 2.8,0.75-5,0.75-7.9,0.75-8,0.75-4.7,0.75 0.3,0.75 6.5,0.75 9.2,0.75 6.5,0.75 2.5,0.75-1.9,0.75-3.3,0.75-1.4,0.75 2.3,0.75 0.4,0.75-0.6,0.75 0,0.75 0.3,0.75 0.1,0.75-0.5,0.75-1.4,0.75 1.4,0.75-0.6,0.75-2.6,0.75 1.1,0.75-1.1,0.75 1,0.75 0.6,0.75 1,0.75 1.7,0.75 2,0.75-0.3,0.75 1.5,0.75 0.5,0.75-2.9,0.75 3,0.75 0.5,0.75 1,0.75 1.1,0.75-0.8,0.75-2.8,0.75-1.9,0.75-1.4,0.75-1.7,0.75-1.7,0.75 1.9,0.75 1.8,0.75-0.5,0.75-0.2,0.75 0.8,0.75-0.2,0.75 1.4,0.75-0.2,0.75-0.7,0.75-2.4,0.75-1.1,0.75-1.1,0.75 0.8,0.75-1.4,0.75 0.8,0.75 0.7,0.75 1.1,0.75-0.8,0.75 0.4,0.75-0.2,0.75 1.9,0.75-2,0.75-0.3,0.75-1.4,0.75 0.1,0.75 1.3,0.75 0.9,0.75 0.9,0.75-0.2,0.75-0.8,0.75 1.2,0.75 1.1,0.75-1.3,0.75 1.4,0.75-3,0.75-1,0.75 0.2,0.75 0.8,0.75 0,0.75 1.1,0.75 1.4,0.75 0,0.75 0.7,0.75-0.1,0.75 0,0.75 0.4,0.75 2.6,0.75-0.7,0.75-1.4,0.75 0.9,0.75-2.3,0.75-0.7,0.75-0.2,0.75-1.3,0.75-1.4,0.75-0.6,0.75 1.8,0.75-1.6,0.75 0.4,0.75 0.4,0.75 0.6,0.75 1.6,0.75 0.9,0.75 0.6,0.75 2.2,0.75-1.3,0.75-0.4,0.75-1.7,0.75 2,0.75-1.5,0.75 0.9,0.75-0.4,0.75 0.2,0.75 0.4,0.75-0.1,0.75-1.2,0.75 0,0.75 1.2,0.75-1.7,0.75 0.7,0.75 0.7,0.75-1.6,0.75 2.8,0.75-2.2,0.75-1.1,0.75-0.2,0.75-0.4,0.75-0.1,0.75 0.7,0.75 0.5,0.75-0.8,0.75 1.1,0.75-2.1,0.75-0.9,0.75 1,0.75 0,0.75-0.5,0.75 4.5,0.75-0.2,0.75 1.1,0.75 1.7,0.75-3.4,0.75-0.5,0.75-0.3,0.75-0.7,0.75-2.2,0.75 0.2,0.75 2.2,0.75-0.5,0.75-0.8,0.75-0.1,0.75 1.8,0.75 0.9,0.75-1.4,0.75-0.5,0.75-0.3,0.75-0.6,0.75 0.6,0.75-0.5,0.75 0,0.75 0.1,0.75 0.3,0.75 0.1,0.75 0.7,0.75-0.1,0.75-0.1,0.75-0.3,0.75 0,0.75 0.2,0.75-0.1,0.75 0.1,0.75-0.5,0.75-0.1,0.75-0.1,0.75-0.3,0.75-0.3,0.75-0.2,0.75 0.1,0.75-0.2,0.75 0.1,0.75 0,0.75-0.4,0.75 0,0.75 0.4,0.75 0,0.75 0.1,0.75-0.1,0.75 0.8,0.75 0.5,0.75 0.2,0.75 0.1,0.75 0.3,0.75-0.2,0.75 0,0.75 0.3,0.75-0.2,0.75 0,0.75 0.1,0.75 0.2,0.75 0.2,0.75 0.5,0.75-0.1,0.75 0,0.75 0.3,0.75 0.1,0.75-0.5,0.75 0,0.75-0.1,0.75-0.5,0.75 0.1,0.75 0,0.75-0.3,0.75-0.3,0.75-0.1,0.75 0,0.75 0.3,0.75 0,0.75-0.2,0.75 0.4,0.75-0.3,0.75 0.3,0.75-0.4,0.75 0.7,0.75-0.1,0.75 0.2,0.75 0.6,0.75-0.1,0.75-0.1,0.75 0.5,0.75 0.1,0.75 0.1,0.75 0,0.75 0.2,0.75-0.5,0.75 0.1,0.75 0.2,0.75-0.2,0.75-0.4,0.75-0.2,0.75-0.1,0.75-0.2,0.75-0.6,0.75-0.6,0.75-0.3,0.75 0,0.75 0,0.75-0.5,0.75-0.1,0.75 0.2,0.75 0.2,0.75 0.2,0.75 0.1,0.75 0.2,0.75 0.1,0.75 0.1,0.75-0.1,0.75-0.7,0.75-0.1,0.75-0.1,0.75-0.6,0.75 0.2,0.75 0,0.75-0.3,0.75-0.3,0.75 0.5,0.75 0,0.75-0.1,0.75-0.3,0.75 0.1,0.75 0.1,0.75-0.1,0.75-0.3,0.75 0.2,0.75 0.3,0.75 0.6,0.75 0.3,0.75 0.3,0.75-0.2,0.75-0.1,0.75-0.2,0.75 0.2,0.75 0.2,0.75 0.3,0.75 0.4,0.75-0.1,0.75 0,0.75 0.1,0.75 0.5,0.75 0.6,0.75 0.1,0.75-0.3,0.75-0.2,0.75-0.1,0.75 0.4,0.75-0.3,0.75-0.6,0.75-0.1,0.75-0.1,0.75-0.2,0.75 0.2,0.75 0.2,0.75-0.2,0.75 0,0.75 0.3,0.75-0.5,0.75-0.1,0.75 0.3,0.75-0.1,0.75 0.1,0.75 0.2,0.75-0.3,0.75-0.5,0.75 0.4,0.75 0.2,0.75 0,0.75-0.2,0.75 0.2,0.75-0.2,0.75 0.2,0.75-0.1,0.75-0.2,0.75 0,0.75 0,0.75 0.2,0.75 0.2,0.75 0.4,0.75-0.2,0.75 0.3,0.75-0.2,0.75 0.1,0.75 0,0.75 0.1,0.75 0.1,0.75-0.1,0.75-0.2,0.75 0.1,0.75 0.4,0.75 0.1,0.75 0.1,0.75-0.4,0.75-0.1,0.75 0.1,0.75-0.4,0.75 0,0.75 0.3,0.75-0.5,0.75-0.3,0.75-0.7,0.75 0.1,0.75 0.1,0.75 0,0.75-0.6,0.75 0.1,0.75-0.3,0.75 0.4,0.75 0,0.75" stroke="#000" stroke-width="0.45"/>
<polygon points="204.5,62 204.6,66 204.6,71 204.6,76 204.7,80 204.8,84 204.9,89 205.1,94 205.2,98 205.2,102 204.9,107 204.4,112 203.8,116 203.4,120 203.0,125 202.8,130 202.8,134 203.1,138 203.4,143 203.7,148 203.9,152 203.8,156 203.6,161 203.4,166 203.1,170 202.9,174 202.7,179 202.7,184 202.7,188 202.7,192 202.9,197 203.1,202 203.2,206 203.0,210 202.6,215 202.2,220 202.1,224 202.3,228 202.8,233 203.3,238 203.6,242 203.9,246 204.1,251 203.9,256 203.5,260 202.9,264 202.3,269 202.0,274 201.7,278 201.2,282 200.4,287 199.4,292 198.7,296 198.3,300 198.4,305 198.6,310 198.7,314 198.6,318 198.5,323 198.7,328 199.3,332 200.1,336 200.5,341 200.3,346 199.7,350 198.9,354 198.5,359 198.5,364 198.5,368 198.6,372 198.4,377 198.2,382 198.1,386 198.0,390 198.0,395 198.1,400 198.3,404 198.5,408 198.5,413 198.4,418 198.5,422 198.7,426 199.3,431 199.9,436 200.5,440 200.9,444 201.1,449 200.9,454 200.5,458 200.1,462 199.7,467 199.5,472 199.6,476 200.1,480 200.6,485 200.8,490 200.8,494 200.4,498 200.1,503 200.2,508 201.0,512 201.6,516 201.7,521 201.9,526 202.1,530 202.3,534 202.4,539 202.2,544 201.8,548 201.3,552 201.0,557 200.9,562 201.0,566 201.0,570 200.9,575 200.7,580 200.7,584 200.9,588 201.3,593 201.7,598 202.1,602 202.2,606 202.4,611 202.7,616 203.1,620 204.5,624 205.5,629 205.7,634 205.5,638 205.4,642 205.3,647 205.3,652 205.5,656 205.7,660 205.7,664 209.4,664 209.4,660 209.2,656 209.1,652 209.0,647 209.1,642 209.3,638 209.4,634 209.8,629 211.1,624 212.1,620 211.7,616 211.4,611 211.2,606 211.1,602 210.7,598 210.3,593 209.9,588 209.7,584 209.7,580 209.9,575 210.0,570 210.0,566 209.9,562 210.0,557 210.3,552 210.8,548 211.2,544 211.4,539 211.3,534 211.1,530 210.9,526 210.7,521 210.6,516 210.9,512 211.5,508 212.1,503 212.6,498 213.1,494 213.3,490 213.1,485 212.8,480 212.4,476 212.5,472 212.8,467 213.3,462 213.9,458 214.4,454 214.7,449 214.7,444 214.4,440 213.9,436 213.4,431 213.0,426 212.8,422 212.9,418 213.1,413 213.2,408 213.2,404 213.1,400 213.0,395 213.0,390 213.1,386 213.2,382 213.4,377 213.6,372 213.5,368 213.5,364 213.5,359 213.9,354 214.7,350 215.3,346 215.5,341 215.1,336 214.3,332 213.7,328 213.5,323 213.6,318 213.7,314 213.6,310 213.4,305 213.3,300 213.7,296 214.4,292 215.4,287 216.2,282 216.7,278 217.0,274 217.0,269 216.3,264 215.5,260 214.5,256 213.4,251 212.8,246 212.4,242 211.9,238 211.3,233 210.7,228 210.3,224 210.3,220 210.5,215 210.8,210 210.9,206 210.6,202 210.3,197 210.0,192 209.8,188 209.7,184 209.6,179 209.6,174 209.7,170 209.8,166 210.0,161 210.0,156 210.0,152 209.7,148 209.3,143 209.0,138 208.7,134 208.7,130 208.8,125 209.1,120 209.5,116 210.1,112 210.5,107 210.8,102 210.8,98 210.6,94 210.4,89 210.2,84 210.1,80 210.0,76 209.9,71 209.8,66 209.8,62" fill="#000" fill-opacity="0.2" stroke="none"/>
<path d="M209.5,62l-6,0.75 3.5,0.75-4,0.75 2.3,0.75-0.5,0.75-0.6,0.75 4.1,0.75-2.5,0.75-1.5,0.75-1.1,0.75 1.7,0.75 0.7,0.75 0.5,0.75-1.3,0.75 0.1,0.75 0.6,0.75-0.7,0.75 1.6,0.75-0.4,0.75-1.5,0.75-1.6,0.75 3,0.75-1.8,0.75 1.6,0.75-0.3,0.75-0.7,0.75 2.8,0.75-1.8,0.75 1.8,0.75 0.2,0.75-2,0.75 0.7,0.75-0.7,0.75-1.6,0.75 1.2,0.75 1.9,0.75 1.6,0.75-2.6,0.75-0.5,0.75-0.1,0.75 4,0.75 0.3,0.75-1.4,0.75-0.5,0.75 2.1,0.75 1.1,0.75-3.2,0.75-0.1,0.75-2,0.75 1,0.75 2.5,0.75-1.1,0.75 2.8,0.75-1.2,0.75 2,0.75-4,0.75-0.9,0.75 1.3,0.75 0.3,0.75 0.2,0.75-0.5,0.75-0.1,0.75 0.4,0.75-2.2,0.75 3.5,0.75-0.9,0.75-0.6,0.75-0.9,0.75-0.3,0.75 0.1,0.75 0.2,0.75-2.3,0.75 1.1,0.75-1.1,0.75 1.4,0.75 0,0.75-0.2,0.75-1.6,0.75-0.9,0.75 2,0.75-3.6,0.75 4.5,0.75 0.2,0.75-4,0.75 2.9,0.75-0.5,0.75 2.6,0.75-2.8,0.75-1.4,0.75 0.4,0.75 2.9,0.75-1.2,0.75-2.3,0.75-0.4,0.75 0.7,0.75 0.6,0.75 0.2,0.75 1.1,0.75-0.2,0.75 0.9,0.75 0.4,0.75 0.1,0.75-3.3,0.75 1.6,0.75-0.4,0.75 1.2,0.75 2.8,0.75-1.7,0.75 1.6,0.75 0.9,0.75 1,0.75-2.4,0.75-0.7,0.75-2,0.75-1.2,0.75 0.4,0.75 2,0.75-2.3,0.75 0.9,0.75 0.8,0.75-0.3,0.75 0,0.75-0.3,0.75-1.2,0.75 3.1,0.75-1.4,0.75-1.9,0.75 2.3,0.75-0.9,0.75 2.5,0.75-2.6,0.75 0.4,0.75 1.5,0.75 2.1,0.75-1.7,0.75-1,0.75 0.9,0.75 4,0.75-3.5,0.75 4.5,0.75-8.1,0.75 1.6,0.75-0.4,0.75-3.5,0.75 1.3,0.75 0.4,0.75 1.2,0.75-0.4,0.75 4,0.75-2.5,0.75-0.7,0.75 2.5,0.75 0.2,0.75-1.6,0.75-2.5,0.75-1.7,0.75 4.1,0.75 1.2,0.75 2.3,0.75-5.7,0.75 1.6,0.75 4,0.75-3.6,0.75-1.5,0.75 5.4,0.75-3.6,0.75 1.8,0.75 1.6,0.75-3,0.75-2.4,0.75 1.1,0.75 2.9,0.75-1.9,0.75-0.5,0.75-2.1,0.75 4.9,0.75-0.5,0.75-1.8,0.75-0.5,0.75-3.4,0.75 2.9,0.75-1.6,0.75 0.1,0.75 3.4,0.75 2.1,0.75-3.8,0.75 5.5,0.75-2.9,0.75 1,0.75-1.2,0.75-0.6,0.75 2.3,0.75 1.1,0.75 0.9,0.75-5,0.75-0.9,0.75 0.9,0.75 2.2,0.75 0,0.75 0,0.75-6.6,0.75 3.1,0.75 3.1,0.75-2.4,0.75 1.6,0.75 0.7,0.75-1.8,0.75-2.6,0.75 2.7,0.75-3.3,0.75 1.8,0.75 0.3,0.75-2.8,0.75 3.8,0.75-0.8,0.75-1.1,0.75 1.2,0.75-0.4,0.75 3.4,0.75-0.6,0.75-2.6,0.75 2.5,0.75-3.7,0.75-1.3,0.75 0.2,0.75 1.8,0.75-4.6,0.75 0.6,0.75 1.7,0.75 7.7,0.75 0.6,0.75-2.6,0.75 0.7,0.75 1.3,0.75-6.7,0.75 1.9,0.75 0.2,0.75 1.6,0.75-3.3,0.75 8.2,0.75-5.7,0.75-0.1,0.75-0.5,0.75 3.7,0.75-0.6,0.75 2.6,0.75-5.8,0.75 3,0.75 1.6,0.75 0.1,0.75-2,0.75-2.3,0.75 2.1,0.75 1.5,0.75-1.4,0.75 5.6,0.75 4.5,0.75-9.7,0.75-1.4,0.75-1.5,0.75 1.1,0.75 0.8,0.75 0.7,0.75-1.6,0.75 1.3,0.75 5.2,0.75 5.9,0.75-1.9,0.75 0.2,0.75-10.8,0.75 5,0.75-2.3,0.75 0.9,0.75 3.1,0.75 0.5,0.75-6,0.75 5.7,0.75-2.8,0.75 5.2,0.75-4.3,0.75 3,0.75-1.8,0.75-2.4,0.75-0.2,0.75-5.2,0.75-5.2,0.75 6.1,0.75 2.9,0.75-0.4,0.75 3.9,0.75-4.9,0.75 5,0.75-5.1,0.75-2.1,0.75 2.7,0.75-2.9,0.75 2.9,0.75 7.4,0.75-9.9,0.75 3.3,0.75 1.7,0.75-6.5,0.75 4.2,0.75-1,0.75 3.2,0.75 5.2,0.75-6.6,0.75 5.1,0.75 3.7,0.75-2,0.75-0.6,0.75-8.7,0.75 1.3,0.75-5.3,0.75 5.7,0.75-6.8,0.75 1.6,0.75 6,0.75-3.2,0.75-3.3,0.75 0.7,0.75 2.9,0.75 4.4,0.75-3.1,0.75-3.2,0.75 0.7,0.75-1.4,0.75-6.4,0.75 10.6,0.75-3.9,0.75 9.1,0.75-4.5,0.75-5.7,0.75 3.4,0.75 2.9,0.75-6.5,0.75 5,0.75-2.7,0.75 1.6,0.75-1.1,0.75-3.3,0.75 2.4,0.75 3.6,0.75-6,0.75 0.2,0.75-5,0.75 8,0.75-4,0.75-3.6,0.75-0.1,0.75 4.1,0.75-0.6,0.75 12.1,0.75-0.2,0.75-5.3,0.75 1.8,0.75-3.2,0.75-4.7,0.75 5.7,0.75-2.2,0.75-3,0.75 7.1,0.75 1.1,0.75-0.1,0.75 10.8,0.75-7.6,0.75-4.2,0.75-6.4,0.75-0.1,0.75 0.9,0.75 2.7,0.75 6.4,0.75-2.5,0.75-1.9,0.75 0.8,0.75 3,0.75 2.8,0.75-1.1,0.75 5.1,0.75-8.7,0.75-6.2,0.75 0.7,0.75 4.1,0.75-0.3,0.75-2,0.75 10.3,0.75-11,0.75 2.3,0.75 0.7,0.75 2.2,0.75-0.9,0.75-1.3,0.75 2.1,0.75-3.3,0.75-14.6,0.75 4.7,0.75 5.2,0.75-6.3,0.75 0.3,0.75 4.9,0.75 1.5,0.75 3.2,0.75 2.9,0.75-6.7,0.75-2,0.75 0.9,0.75 9.2,0.75-7.4,0.75 7,0.75 1.7,0.75-6.2,0.75 3.2,0.75 1.3,0.75-3.5,0.75-0.1,0.75 1.1,0.75-2.6,0.75 3.3,0.75 2.3,0.75-3.6,0.75 4,0.75-2.8,0.75 4.5,0.75-4.9,0.75-3.7,0.75-2.1,0.75 7,0.75-6,0.75 3.5,0.75 4.1,0.75-4.9,0.75-3.3,0.75 10.6,0.75 2,0.75-11.8,0.75-0.2,0.75-1.3,0.75 3.7,0.75-0.8,0.75-0.3,0.75 11,0.75-4.3,0.75 5.8,0.75 0.1,0.75 2.3,0.75-7.9,0.75-2.2,0.75 1.4,0.75-4.8,0.75-5.5,0.75 4.6,0.75-2.2,0.75 2.2,0.75-5,0.75 0.4,0.75 8,0.75 2.5,0.75 1.8,0.75 3.7,0.75-13.3,0.75 0.9,0.75-0.3,0.75 1.2,0.75 2.1,0.75 2.9,0.75-2,0.75 0.7,0.75-2.2,0.75 6.8,0.75-0.2,0.75-12.2,0.75 4.9,0.75 0.7,0.75-2.8,0.75 6.5,0.75-2.5,0.75-0.2,0.75 4.7,0.75-6.4,0.75 2,0.75-7,0.75 7.2,0.75-7.1,0.75 1.5,0.75 1.1,0.75-0.4,0.75-3.3,0.75 1.4,0.75 1,0.75 5,0.75-0.5,0.75-3.6,0.75 4.2,0.75-1.1,0.75-2,0.75 5.4,0.75-4.3,0.75 3.2,0.75-7.3,0.75 4.1,0.75-5,0.75 8.6,0.75-1,0.75-1.1,0.75 0.7,0.75 1.2,0.75-0.5,0.75 0.6,0.75-2.3,0.75-0.6,0.75 4.3,0.75-3.4,0.75 2.8,0.75-12.2,0.75 9,0.75-0.5,0.75 2.9,0.75 0.7,0.75-6.5,0.75 0.1,0.75 8.1,0.75 0.8,0.75-4.4,0.75 2,0.75-0.4,0.75-6.2,0.75 2.3,0.75 7,0.75-4.2,0.75-0.4,0.75 2.1,0.75-2.9,0.75-2.1,0.75-9.6,0.75 2.2,0.75 2.4,0.75 2.8,0.75 4.2,0.75-0.8,0.75-4,0.75 5.4,0.75-4.6,0.75 1.7,0.75-4,0.75 9,0.75-4.6,0.75-4.1,0.75 2.5,0.75 5,0.75-1,0.75 4.4,0.75-7.3,0.75-0.3,0.75 0.5,0.75 1.2,0.75-1.3,0.75 3.9,0.75-2.9,0.75 3.5,0.75 2.9,0.75-3.7,0.75 1.2,0.75 1.1,0.75 1.7,0.75-4.7,0.75 7.3,0.75-3.4,0.75-1.6,0.75-1.9,0.75-4.3,0.75-1.1,0.75 3.2,0.75-0.2,0.75-6.4,0.75 2.2,0.75 9.2,0.75-3.6,0.75-2.1,0.75 1.3,0.75 0.8,0.75 2.4,0.75-2.9,0.75-0.1,0.75-9.2,0.75 7.7,0.75 2.6,0.75-4.1,0.75-3.1,0.75 4.7,0.75 0.9,0.75-2.4,0.75-1.1,0.75-3.6,0.75 1.5,0.75-3.3,0.75 7.8,0.75-1.9,0.75-0.8,0.75 1.1,0.75 2.9,0.75-0.4,0.75-0.6,0.75 6.3,0.75-5.8,0.75 1.3,0.75 2.1,0.75-2.1,0.75 5.2,0.75-3.9,0.75 3.3,0.75-2.4,0.75-0.1,0.75-0.7,0.75-0.4,0.75-2.1,0.75-3.2,0.75-3.3,0.75 10.2,0.75-2,0.75-1.2,0.75-0.1,0.75 4.5,0.75-0.2,0.75-7.5,0.75 6.9,0.75-2.3,0.75-1.3,0.75-4.3,0.75 5.4,0.75 2.3,0.75-5.2,0.75 5.4,0.75-4.3,0.75-1,0.75-0.4,0.75-3.5,0.75 4.7,0.75-2.4,0.75 2,0.75 4.8,0.75 0.1,0.75-1.3,0.75-2.2,0.75 0.7,0.75-1,0.75 1.1,0.75-0.3,0.75 0.3,0.75 3.1,0.75-6.4,0.75-2.3,0.75 7.3,0.75-5.4,0.75 2.1,0.75 0.5,0.75-1.8,0.75-0.6,0.75-0.1,0.75 0.6,0.75-2.3,0.75-6.2,0.75 2.8,0.75 5.9,0.75 4.3,0.75-3.2,0.75 4.9,0.75-5.9,0.75 5.2,0.75-1,0.75-4.2,0.75-0.7,0.75 3.8,0.75 0.8,0.75-2,0.75 7.5,0.75-8.5,0.75-0.7,0.75-4.5,0.75 2.7,0.75 3.4,0.75-2.2,0.75 1.6,0.75-1.4,0.75-0.2,0.75 2.5,0.75 2.8,0.75-3.5,0.75 2.9,0.75-3.6,0.75-2,0.75-1.6,0.75 1.3,0.75-1,0.75 1.6,0.75 2.1,0.75-5.4,0.75 7.5,0.75 4.3,0.75-5.7,0.75 2.2,0.75 0,0.75-6.2,0.75 2.9,0.75 4.3,0.75-1.9,0.75-1.2,0.75-1.7,0.75 3.7,0.75 5.8,0.75-1.4,0.75-11.1,0.75 1.5,0.75 2.4,0.75 0.4,0.75-5.2,0.75 8.8,0.75-1.4,0.75-8.2,0.75 10.6,0.75-0.9,0.75-3.2,0.75 3.6,0.75-6.1,0.75 1.1,0.75 0.7,0.75-0.6,0.75 1.2,0.75 2.1,0.75-0.6,0.75-1.4,0.75-2.2,0.75 0.2,0.75-1,0.75 3.4,0.75-1.9,0.75 4.4,0.75-2.4,0.75 0.4,0.75 1.4,0.75 0.1,0.75 0.4,0.75 4.5,0.75-2.6,0.75-4.8,0.75 0.9,0.75-4.1,0.75 1.1,0.75-2,0.75 3.6,0.75-3.3,0.75 6.9,0.75 0.1,0.75-1.1,0.75 1.6,0.75 0,0.75-2.5,0.75 0.8,0.75-0.7,0.75-1,0.75 0,0.75 0.8,0.75-1.9,0.75-0.6,0.75-0.6,0.75 2.4,0.75-0.3,0.75 0.6,0.75-0.4,0.75 1.6,0.75 0.3,0.75 0.8,0.75-1,0.75 1.7,0.75-1.6,0.75-1,0.75 0,0.75 0.2,0.75-0.6,0.75-1.2,0.75-1.2,0.75-0.3,0.75 2.7,0.75-0.5,0.75-3.5,0.75 0.4,0.75 3.2,0.75 0.4,0.75 1,0.75-1.2,0.75-2.6,0.75 1.4,0.75-0.2,0.75 0.9,0.75 0.5,0.75-1.3,0.75 1.3,0.75-0.6,0.75-0.8,0.75 1.9,0.75-1.2,0.75 0.2,0.75 2.8,0.75" stroke="#000" stroke-width="0.5"/>
<polygon points="206.9,62 206.7,66 206.7,71 206.8,76 207.1,80 207.6,84 207.9,89 208.1,94 208.1,98 207.8,102 207.4,107 206.9,112 206.5,116 206.3,120 206.1,125 206.0,130 205.9,134 205.8,138 205.7,143 205.8,148 205.9,152 206.0,156 206.0,161 206.0,166 205.9,170 205.9,174 205.9,179 205.8,184 205.8,188 205.8,192 205.9,197 206.0,202 205.9,206 205.8,210 205.6,215 205.5,220 205.5,224 205.5,228 205.3,233 204.9,238 204.3,242 203.8,246 203.4,251 202.8,256 202.5,260 202.1,264 201.8,269 201.4,274 200.8,278 200.2,282 200.0,287 200.0,292 200.6,296 201.1,300 201.2,305 200.9,310 200.6,314 200.6,318 201.0,323 201.6,328 202.1,332 202.1,336 201.7,341 201.0,346 200.4,350 200.0,354 200.2,359 201.1,364 202.5,368 203.9,372 205.1,377 205.9,382 206.0,386 205.2,390 203.7,395 202.3,400 201.2,404 200.7,408 200.8,413 201.2,418 201.8,422 202.2,426 202.5,431 202.7,436 202.6,440 202.3,444 202.0,449 201.6,454 201.4,458 201.3,462 201.1,467 200.9,472 201.1,476 201.7,480 202.2,485 202.2,490 201.9,494 201.6,498 201.6,503 201.8,508 203.3,512 208.4,516 209.0,521 210.0,526 210.9,530 211.4,534 211.3,539 210.9,544 210.4,548 209.9,552 209.4,557 209.1,562 209.1,566 209.4,570 209.9,575 210.0,580 209.8,584 209.4,588 209.1,593 209.2,598 209.6,602 210.0,606 210.2,611 210.0,616 209.9,620 209.8,624 209.8,629 209.8,634 209.8,638 209.8,642 209.9,647 210.0,652 210.1,656 210.1,660 210.1,664 210.1,664 210.1,660 210.1,656 210.0,652 209.9,647 209.8,642 209.8,638 209.8,634 209.8,629 209.8,624 209.9,620 210.0,616 210.2,611 210.0,606 209.6,602 209.2,598 209.1,593 209.4,588 209.8,584 210.0,580 209.9,575 209.4,570 209.1,566 209.1,562 209.4,557 209.9,552 210.4,548 210.9,544 211.3,539 211.4,534 210.9,530 210.0,526 209.0,521 208.4,516 212.8,512 213.9,508 213.8,503 213.9,498 214.3,494 214.8,490 214.9,485 214.5,480 214.0,476 214.0,472 214.3,467 214.6,462 214.9,458 215.2,454 215.6,449 216.1,444 216.5,440 216.7,436 216.7,431 216.5,426 216.2,422 215.7,418 215.4,413 215.5,408 216.1,404 217.3,400 218.8,395 220.3,390 221.2,386 221.1,382 220.4,377 219.2,372 217.9,368 216.6,364 215.8,359 215.6,354 216.0,350 216.7,346 217.4,341 217.9,336 217.9,332 217.5,328 217.0,323 216.6,318 216.6,314 217.0,310 217.4,305 217.3,300 216.9,296 216.4,292 216.4,287 216.7,282 216.8,278 216.3,274 215.5,269 214.7,264 214.0,260 213.2,256 212.7,251 212.7,246 213.1,242 213.5,238 213.8,233 213.8,228 213.7,224 213.6,220 213.5,215 213.6,210 213.6,206 213.6,202 213.3,197 213.1,192 212.9,188 212.8,184 212.8,179 212.7,174 212.5,170 212.4,166 212.3,161 212.1,156 211.9,152 211.7,148 211.7,143 211.7,138 211.7,134 211.8,130 211.9,125 212.0,120 212.2,116 212.6,112 213.1,107 213.4,102 213.7,98 213.6,94 213.4,89 213.0,84 212.5,80 212.2,76 212.0,71 212.0,66 212.1,62" fill="#000" fill-opacity="0.2" stroke="none"/>
<path d="M209.2,62l2.5,0.75-3.8,0.75 2.7,0.75-0.4,0.75-2.8,0.75 1.5,0.75-0.5,0.75 1,0.75 1.2,0.75-1.6,0.75 0.1,0.75-0.4,0.75 3.6,0.75-1.7,0.75-0.3,0.75-0.6,0.75-2,0.75 3.9,0.75-3.3,0.75-1.7,0.75 4.6,0.75-1.3,0.75 2.5,0.75-0.5,0.75-1.1,0.75 0.8,0.75 0.2,0.75-1.4,0.75 0.2,0.75-1.1,0.75 1.1,0.75-1.2,0.75-0.6,0.75 0.6,0.75 4.4,0.75-2.5,0.75-2.9,0.75 4.4,0.75-4.1,0.75 2.8,0.75-1.6,0.75 0.7,0.75 0.6,0.75 0.9,0.75 0.2,0.75-4,0.75 1.3,0.75-0.5,0.75 2.2,0.75 0.1,0.75-3,0.75 1.6,0.75-0.3,0.75 2.2,0.75-1.8,0.75-0.7,0.75-0.4,0.75 0.1,0.75 0.5,0.75 2.8,0.75-5,0.75 1.3,0.75 1.6,0.75-3.4,0.75 3.9,0.75 1.1,0.75-0.9,0.75-1.9,0.75 4.7,0.75-2.9,0.75-1.2,0.75 2.5,0.75-3.9,0.75 1.4,0.75-1.4,0.75 2,0.75 0.1,0.75-0.5,0.75-0.1,0.75 1,0.75-1.2,0.75 0.6,0.75-1.1,0.75 2.1,0.75-0.9,0.75 1.4,0.75-3.7,0.75 1.3,0.75 0.1,0.75-2.8,0.75 2.6,0.75-0.4,0.75 1.7,0.75-0.6,0.75-1.2,0.75 2.6,0.75-2.4,0.75 0.3,0.75-3.6,0.75-0.7,0.75 0.2,0.75 1.4,0.75 0.6,0.75 1.7,0.75-0.2,0.75-2.7,0.75 2.8,0.75 3.2,0.75-1.1,0.75-4.3,0.75 0.7,0.75-1.3,0.75 3.5,0.75 1,0.75 1,0.75-2.3,0.75 0.4,0.75 0.1,0.75 2.4,0.75-2.2,0.75 0,0.75 0.8,0.75 0.6,0.75-1.4,0.75-1.3,0.75-0.2,0.75-1.2,0.75-1,0.75 1.7,0.75 0,0.75 2,0.75-1.7,0.75-3,0.75 3.3,0.75 2.4,0.75-1.2,0.75-4.5,0.75 3.9,0.75-0.2,0.75 1.2,0.75-1.5,0.75 1.1,0.75-1.3,0.75 1,0.75 2.2,0.75-1.6,0.75-1.7,0.75-3.3,0.75-0.1,0.75 0.4,0.75 1.9,0.75-2,0.75 4.4,0.75 4.4,0.75-1.5,0.75-1.9,0.75 4.4,0.75-2.4,0.75 0.5,0.75 0.1,0.75-0.8,0.75-2.5,0.75-1.2,0.75 5.4,0.75-5.7,0.75 3.1,0.75-2.6,0.75 4.2,0.75 1.3,0.75-2.3,0.75-2.6,0.75 1,0.75 4.4,0.75-0.3,0.75-2.6,0.75-1,0.75 1,0.75-2,0.75 0.2,0.75 0.3,0.75-0.6,0.75 2,0.75 0.3,0.75-3,0.75-4.9,0.75 4.4,0.75-0.5,0.75-0.7,0.75 3,0.75 5.3,0.75-5.6,0.75 1,0.75-2.1,0.75-2.3,0.75-0.6,0.75 3.1,0.75-3.2,0.75 6.9,0.75-4.2,0.75 0.8,0.75 0.5,0.75-4.5,0.75 5.3,0.75-1.3,0.75-1.2,0.75 1.4,0.75-0.9,0.75-0.4,0.75-2.7,0.75 3,0.75 1.8,0.75-2.4,0.75 3,0.75-2.3,0.75 1.3,0.75-0.9,0.75-1.2,0.75 1.8,0.75-0.7,0.75-2.3,0.75-2.7,0.75-3.8,0.75 3.9,0.75 1.3,0.75 0.1,0.75 1.1,0.75 6.1,0.75 0.1,0.75 1.8,0.75-0.6,0.75-4.6,0.75 1.8,0.75-0.5,0.75 1.6,0.75-4.2,0.75 0.1,0.75 4.1,0.75-4.9,0.75 1.9,0.75-0.6,0.75-3.8,0.75 1.2,0.75-0.8,0.75-0.4,0.75-0.8,0.75 5.1,0.75-1.2,0.75 4.4,0.75 0.7,0.75-5.1,0.75 6.5,0.75-3.8,0.75 1.4,0.75-0.7,0.75-1.3,0.75-1.8,0.75-3.2,0.75-1,0.75 2.5,0.75 1,0.75-0.4,0.75-0.5,0.75 3.8,0.75-1.8,0.75 1.5,0.75-0.2,0.75 2.7,0.75-5.5,0.75 0,0.75-0.8,0.75 6,0.75-2.6,0.75-3.2,0.75 4.2,0.75-8.4,0.75 7,0.75 0.9,0.75-1.4,0.75-1.9,0.75 1.8,0.75 6.1,0.75-8,0.75 4.4,0.75-0.6,0.75 5.1,0.75-1.6,0.75 0.2,0.75-4,0.75 5,0.75-3.4,0.75 3.9,0.75-7.7,0.75 0.3,0.75 1.3,0.75-3,0.75 1.1,0.75-1.7,0.75 5.5,0.75 0.1,0.75 3,0.75-0.9,0.75 2.8,0.75 0.6,0.75-3.8,0.75-4.5,0.75-0.6,0.75-2.2,0.75-6.3,0.75 1.2,0.75 8.8,0.75 2.4,0.75-3.1,0.75 0.2,0.75 2.2,0.75-5.2,0.75 9.1,0.75-3.3,0.75-8.1,0.75 2.5,0.75-0.9,0.75 8.9,0.75-8.4,0.75 3.8,0.75 9.1,0.75-1.2,0.75-1.5,0.75-6,0.75-3.9,0.75-2.2,0.75 6,0.75-6.3,0.75 2.3,0.75-0.1,0.75 4.8,0.75-7.3,0.75 6.8,0.75-5.7,0.75-0.5,0.75-2.7,0.75 5.7,0.75-0.4,0.75 3,0.75 0.2,0.75 2.1,0.75 5.9,0.75-4.7,0.75 0.6,0.75-4,0.75-0.8,0.75 3.9,0.75 5.3,0.75-12.3,0.75 5,0.75-0.4,0.75 6.2,0.75-0.9,0.75-4.6,0.75-6.8,0.75-2.1,0.75 11.5,0.75-4.3,0.75 1.3,0.75 4.4,0.75-0.7,0.75 8.8,0.75-8.5,0.75-0.6,0.75-6.2,0.75-7.7,0.75 7.2,0.75 0.3,0.75-1.2,0.75 8.3,0.75-2.3,0.75-1.8,0.75-8.7,0.75 3.8,0.75-3.5,0.75 10.5,0.75 2.1,0.75-6.6,0.75 9.1,0.75-14.5,0.75 2.8,0.75-10.2,0.75 0.8,0.75 11.6,0.75 0.7,0.75 7.8,0.75-7.1,0.75 1.6,0.75-8.1,0.75 6.6,0.75 5.1,0.75-3,0.75 7.9,0.75 0.5,0.75-4.1,0.75-6,0.75-0.7,0.75-5.3,0.75 9.5,0.75 1.3,0.75-4.8,0.75 0.3,0.75-8.5,0.75 12.2,0.75-9.5,0.75 2.6,0.75 9.7,0.75-6.8,0.75-5.7,0.75-1.2,0.75 5.6,0.75 4.3,0.75-2.3,0.75-0.9,0.75 0.7,0.75 0.5,0.75-9.3,0.75 0.6,0.75 13.8,0.75-5.6,0.75-2.9,0.75 8,0.75 1,0.75-1.9,0.75 3.2,0.75-11.5,0.75 1,0.75-5,0.75 13.8,0.75-10.9,0.75-0.1,0.75 9.2,0.75-1.5,0.75-5.4,0.75 7.3,0.75 1,0.75-5.2,0.75 2.2,0.75-0.1,0.75-2.9,0.75-5.2,0.75 1.9,0.75 0.4,0.75 2.2,0.75 3,0.75-0.7,0.75 0.9,0.75-0.5,0.75-2.3,0.75 1.3,0.75-8.1,0.75 0.1,0.75 2.3,0.75 0.8,0.75 6.8,0.75 0,0.75-1.9,0.75-1.7,0.75 3.8,0.75 2.1,0.75 0.8,0.75-4.3,0.75 0.5,0.75-6.1,0.75 5.8,0.75 8,0.75-11.2,0.75 4.8,0.75-1.7,0.75-7.7,0.75-3.8,0.75 5.1,0.75 10.2,0.75 2.7,0.75 0.5,0.75-3.4,0.75 2.3,0.75-8.1,0.75 5,0.75-2.9,0.75 0.4,0.75 7.7,0.75-0.7,0.75-14.2,0.75 3,0.75-1.2,0.75 1.2,0.75 7.7,0.75-10.6,0.75 6,0.75 6.9,0.75-5,0.75 8,0.75-4.7,0.75-2.9,0.75 1.3,0.75-4.6,0.75 1.9,0.75 1.6,0.75-14.9,0.75 11.9,0.75-9.2,0.75 0.5,0.75 10,0.75-1.3,0.75-0.9,0.75-4.6,0.75 2.8,0.75 2.4,0.75-4.1,0.75 6.4,0.75-2.9,0.75 1.7,0.75-11.2,0.75-1.5,0.75 7.1,0.75 2,0.75 3.2,0.75-2.9,0.75-2.9,0.75-2.2,0.75 4.8,0.75-2.6,0.75 4.1,0.75-5.8,0.75 0.6,0.75-2.6,0.75 0,0.75 4.5,0.75-2.1,0.75 3.1,0.75 3.7,0.75-6,0.75-6.2,0.75 3.9,0.75-1.3,0.75 4,0.75-6.1,0.75 0.9,0.75 3,0.75-2.6,0.75 2.7,0.75-0.8,0.75 1.2,0.75 3.5,0.75-2,0.75-3.5,0.75 5.4,0.75-1.7,0.75 3.1,0.75-0.5,0.75 1.4,0.75-3.3,0.75 4.6,0.75 1.1,0.75 0,0.75-0.1,0.75-2.6,0.75 1.2,0.75 1.9,0.75-8.3,0.75 2,0.75-1.9,0.75 5.9,0.75 3.2,0.75 1.1,0.75-5.3,0.75 0.5,0.75 1.8,0.75 8.1,0.75-9.8,0.75-2,0.75-3.7,0.75 1.2,0.75-5.5,0.75 6.2,0.75 0.9,0.75 0.1,0.75-0.3,0.75 7.5,0.75-5.4,0.75-4.1,0.75-6.3,0.75 12,0.75-4.3,0.75 0.6,0.75 3.4,0.75 0.5,0.75 5.5,0.75-4.2,0.75 0,0.75-0.6,0.75 0.9,0.75-3.2,0.75-2.4,0.75-0.3,0.75-1.4,0.75 1.4,0.75-2.2,0.75 6.1,0.75-1.3,0.75 0.4,0.75 0.1,0.75-0.2,0.75-0.3,0.75 0.2,0.75 0.3,0.75 0.3,0.75 0.4,0.75-0.2,0.75 0.4,0.75 0.2,0.75 0.3,0.75 0,0.75-0.3,0.75 0,0.75-0.6,0.75 0.5,0.75-0.2,0.75-0.2,0.75-0.1,0.75 0.1,0.75-0.1,0.75 0,0.75-0.3,0.75 0.4,0.75 0.1,0.75 0.4,0.75 0.1,0.75 0.1,0.75 0.4,0.75 0.4,0.75 0.4,0.75 0,0.75-0.6,0.75-0.8,0.75-0.2,0.75-0.4,0.75-0.2,0.75 0.3,0.75-0.3,0.75-0.4,0.75 0.2,0.75 0.5,0.75 0.3,0.75 0,0.75-0.2,0.75 0.2,0.75 0,0.75 0.3,0.75-0.2,0.75 0,0.75 0.2,0.75 0.1,0.75 0,0.75 0.1,0.75-0.2,0.75 0,0.75 0.2,0.75-0.6,0.75 0,0.75 0.1,0.75 0.4,0.75 0.3,0.75 0,0.75-0.2,0.75-0.2,0.75 0.3,0.75 0.2,0.75-0.2,0.75-0.6,0.75 0,0.75-0.1,0.75-0.3,0.75 0.2,0.75 0.3,0.75 0,0.75 0,0.75 0,0.75-0.2,0.75-0.1,0.75 0.4,0.75 0.4,0.75 0.3,0.75 0.1,0.75 0,0.75 0.4,0.75 0.1,0.75 0.1,0.75-0.4,0.75 0.1,0.75-0.7,0.75-0.2,0.75-0.2,0.75-0.1,0.75-0.2,0.75-0.1,0.75 0,0.75 0.4,0.75 0.2,0.75 0.3,0.75-0.2,0.75 0.4,0.75 0.2,0.75-0.1,0.75 0.3,0.75 0,0.75-0.3,0.75 0.2,0.75 0.2,0.75-0.2,0.75 0,0.75 0.1,0.75-0.5,0.75-0.2,0.75-0.9,0.75-0.8,0.75-0.7,0.75-0.6,0.75 0.1,0.75-0.2,0.75-0.2,0.75 0.1,0.75-0.1,0.75 0.3,0.75 0,0.75 0,0.75 0.3,0.75 0.3,0.75 0,0.75 0.1,0.75 0.5,0.75 0.3,0.75 0.4,0.75-0.1,0.75 0.3,0.75 0,0.75 0,0.75-0.2,0.75-0.5,0.75-0.2,0.75-0.3,0.75-0.1,0.75-0.2,0.75 0,0.75-0.1,0.75 0.1,0.75 0.3,0.75-0.3,0.75 0.4,0.75 0.5,0.75 0,0.75 0.3,0.75 0.3,0.75 0.5,0.75-0.1,0.75 0.1,0.75-0.2,0.75 0.3,0.75-0.3,0.75 0,0.75 0.2,0.75-0.2,0.75 0.2,0.75-0.4,0.75 0.3,0.75 0.5,0.75 0.3,0.75-0.1,0.75 0.1,0.75 0.1,0.75 0,0.75-0.5,0.75-0.5,0.75-0.2,0.75-0.2,0.75-0.1,0.75-0.6,0.75 0.1,0.75-0.1,0.75-0.5,0.75-0.6,0.75 0.1,0.75 0.1,0.75 0.2,0.75 0.8,0.75-0.2,0.75-0.4,0.75 0.3,0.75 0.5,0.75 0.2,0.75 0.1,0.75 0.3,0.75 0,0.75 0.1,0.75 0,0.75 0.1,0.75 0.2,0.75 0.5,0.75" stroke="#000" stroke-width="0.5"/>
<polygon points="209.4,62 209.3,66 209.2,71 209.3,76 209.4,80 209.5,84 209.7,89 209.8,94 209.9,98 209.9,102 209.9,107 209.7,112 209.4,116 209.0,120 208.6,125 208.5,130 208.6,134 208.9,138 209.5,143 210.1,148 210.6,152 210.7,156 210.6,161 210.2,166 209.8,170 209.4,174 209.0,179 208.6,184 208.3,188 208.0,192 207.9,197 207.8,202 207.9,206 207.8,210 207.7,215 207.6,220 207.6,224 207.8,228 208.1,233 208.4,238 208.6,242 208.6,246 208.3,251 207.6,256 206.8,260 206.1,264 205.6,269 205.3,274 205.0,278 205.0,282 205.0,287 204.8,292 204.7,296 204.9,300 205.4,305 206.0,310 206.3,314 206.3,318 206.1,323 205.9,328 205.7,332 205.6,336 205.7,341 206.1,346 206.5,350 206.8,354 206.5,359 205.8,364 204.9,368 204.0,372 203.5,377 203.8,382 204.7,386 205.7,390 206.4,395 206.7,400 206.7,404 206.7,408 206.9,413 207.1,418 207.4,422 207.4,426 207.0,431 206.3,436 205.3,440 204.5,444 204.1,449 204.3,454 205.0,458 206.0,462 207.2,467 208.3,472 209.1,476 209.3,480 209.1,485 208.8,490 208.4,494 208.3,498 208.4,503 208.5,508 209.7,512 213.7,516 213.4,521 212.8,526 212.1,530 211.3,534 210.9,539 211.1,544 211.6,548 212.3,552 212.6,557 212.5,562 212.2,566 212.1,570 212.1,575 212.2,580 212.2,584 212.1,588 212.0,593 212.2,598 212.3,602 212.5,606 212.5,611 212.4,616 212.4,620 212.4,624 212.6,629 212.9,634 213.3,638 213.5,642 213.5,647 213.2,652 212.9,656 212.7,660 212.6,664 212.6,664 212.7,660 212.9,656 213.2,652 213.5,647 213.5,642 213.3,638 212.9,634 212.6,629 212.4,624 212.4,620 212.4,616 212.5,611 212.5,606 212.3,602 212.2,598 212.0,593 212.1,588 212.2,584 212.2,580 212.1,575 212.1,570 212.2,566 212.5,562 212.6,557 212.3,552 211.6,548 211.1,544 210.9,539 211.3,534 212.1,530 212.8,526 213.4,521 213.7,516 218.0,512 219.1,508 219.1,503 219.2,498 219.5,494 220.0,490 220.5,485 220.8,480 220.7,476 220.1,472 219.1,467 218.1,462 217.2,458 216.7,454 216.7,449 217.2,444 218.1,440 219.2,436 220.2,431 220.7,426 220.8,422 220.7,418 220.4,413 220.3,408 220.4,404 220.4,400 220.2,395 219.5,390 218.6,386 217.7,382 217.5,377 218.0,372 218.9,368 219.9,364 220.7,359 221.0,354 220.8,350 220.4,346 220.1,341 220.0,336 220.2,332 220.4,328 220.7,323 220.9,318 220.9,314 220.7,310 220.1,305 219.7,300 219.5,296 219.7,292 219.9,287 220.0,282 219.6,278 219.0,274 218.4,269 218.0,264 217.8,260 217.7,256 217.5,251 217.5,246 217.3,242 217.0,238 216.6,233 216.2,228 215.8,224 215.7,220 215.6,215 215.6,210 215.6,206 215.4,202 215.3,197 215.3,192 215.4,188 215.6,184 215.9,179 216.1,174 216.4,170 216.7,166 216.9,161 216.9,156 216.6,152 216.1,148 215.4,143 214.8,138 214.4,134 214.3,130 214.4,125 214.7,120 215.1,116 215.3,112 215.5,107 215.5,102 215.5,98 215.4,94 215.2,89 215.0,84 214.8,80 214.6,76 214.5,71 214.5,66 214.6,62" fill="#000" fill-opacity="0.2" stroke="none"/>
<path d="M212.4,62l-4.6,0.75 6.5,0.75-2.1,0.75-1,0.75 0.5,0.75 2.2,0.75-3.1,0.75 1.4,0.75-1.3,0.75 1.2,0.75 1.7,0.75-2.8,0.75-1.5,0.75 2.1,0.75-0.9,0.75-0.7,0.75-3.1,0.75 2.3,0.75 0.8,0.75-0.6,0.75 0.6,0.75 2.1,0.75 1,0.75-0.9,0.75-0.1,0.75-1.3,0.75 1.5,0.75 1,0.75-2.5,0.75 3.4,0.75 1.5,0.75-7.4,0.75 2.6,0.75 2.3,0.75-3.2,0.75 0.8,0.75 1.7,0.75-4.1,0.75 3.4,0.75 0.6,0.75-1.1,0.75 1.2,0.75-0.9,0.75 0.5,0.75 3.2,0.75-0.7,0.75-0.4,0.75-3.1,0.75 2.5,0.75 2.3,0.75-0.3,0.75-0.8,0.75-0.2,0.75 1,0.75-0.5,0.75-2.2,0.75 0.8,0.75-0.4,0.75-3.2,0.75-0.6,0.75 0.4,0.75 3.2,0.75-3.1,0.75 4.8,0.75-1.5,0.75-1.5,0.75 0.9,0.75-1.6,0.75 0.5,0.75-0.6,0.75 0.2,0.75 1.1,0.75 1.1,0.75-2.3,0.75 1.2,0.75-4.2,0.75 3.9,0.75-1,0.75 0.4,0.75 1.5,0.75 2.3,0.75-6.8,0.75 2.1,0.75 0.1,0.75-0.5,0.75 0.6,0.75 1.2,0.75 0.2,0.75-1.3,0.75 1.5,0.75-2.1,0.75 0.5,0.75-0.1,0.75-2.4,0.75 2.6,0.75 3.4,0.75-1,0.75-1.3,0.75 3.9,0.75-2.8,0.75-3,0.75 1.3,0.75 3,0.75-1.9,0.75 0.1,0.75-0.4,0.75-0.6,0.75-2.7,0.75 3,0.75-3.5,0.75 3.8,0.75 1.6,0.75 0.8,0.75 5.3,0.75-1.7,0.75 0.2,0.75-1.3,0.75-6,0.75 1.3,0.75 3.4,0.75-1.7,0.75-1.6,0.75-1.1,0.75 2.5,0.75-0.7,0.75-0.4,0.75-1.6,0.75 3.8,0.75-2.2,0.75 2,0.75 1,0.75-1,0.75-2.7,0.75 1.5,0.75-2,0.75 1.5,0.75-1.3,0.75 2.5,0.75-0.6,0.75-0.4,0.75-0.2,0.75-0.1,0.75-1.9,0.75 0.1,0.75 5,0.75-4.5,0.75 3,0.75 1.5,0.75-2.2,0.75-3.2,0.75 1.6,0.75 1.5,0.75-1.4,0.75 0.3,0.75-1.2,0.75-3.8,0.75 2.6,0.75 1,0.75-1.7,0.75 2.4,0.75-1.9,0.75 1.4,0.75 3.8,0.75-4.5,0.75-2,0.75 1.2,0.75 1.7,0.75-4.2,0.75 1.6,0.75-3.1,0.75 2.5,0.75 4.3,0.75-5.1,0.75 0.5,0.75 1,0.75 3.4,0.75-0.7,0.75-1.4,0.75 0.9,0.75 2.6,0.75-4.8,0.75-0.1,0.75 0.7,0.75 3.2,0.75-2.1,0.75 0.6,0.75-0.5,0.75-0.8,0.75 0.5,0.75 0.4,0.75-0.1,0.75-1.1,0.75 4,0.75-1.7,0.75 1.5,0.75-2.3,0.75 5.7,0.75-4.4,0.75-1.5,0.75 1.6,0.75-2,0.75 3.6,0.75-0.3,0.75-2.4,0.75-3.1,0.75-0.1,0.75-1.2,0.75-0.2,0.75 1.9,0.75-1.4,0.75 1.7,0.75 2.6,0.75-1.5,0.75 3.5,0.75-1.2,0.75-0.5,0.75 0.5,0.75-0.7,0.75 2.7,0.75-3.5,0.75-1.8,0.75 3.2,0.75-3,0.75 4.1,0.75-0.6,0.75-0.2,0.75-0.8,0.75 1.2,0.75-6.4,0.75 8.4,0.75-2.8,0.75 6.9,0.75-0.3,0.75-0.8,0.75-1,0.75-3.5,0.75-1.5,0.75-6.5,0.75 6.5,0.75 5.7,0.75-9.5,0.75 4,0.75-4.3,0.75 3.9,0.75-0.6,0.75 6.9,0.75-4.8,0.75 3.7,0.75-0.5,0.75-1.4,0.75 0.7,0.75-0.5,0.75 0.5,0.75-1,0.75-4.5,0.75-0.2,0.75 5.3,0.75-2,0.75 3.6,0.75 0.5,0.75-3.7,0.75-2.8,0.75 3.6,0.75-3,0.75 4.4,0.75-6.6,0.75 3.7,0.75 1.6,0.75-1,0.75 3.3,0.75 5.6,0.75-9.8,0.75-1.3,0.75 1.1,0.75-2,0.75 3.2,0.75-1.5,0.75 1.4,0.75-3.4,0.75-7.5,0.75 6.1,0.75 5.4,0.75-4.5,0.75 4.7,0.75-0.9,0.75 5.3,0.75-5.2,0.75 1.2,0.75 2,0.75-8.8,0.75 4.5,0.75-11.5,0.75-0.9,0.75 4.6,0.75 5.7,0.75 1.6,0.75 2.5,0.75-1.4,0.75 3.3,0.75 1.2,0.75-4.8,0.75 1,0.75-2.2,0.75 11.1,0.75-7.4,0.75 5.9,0.75-3,0.75-3.8,0.75 1.8,0.75-11.6,0.75 5.3,0.75 6.9,0.75-3.5,0.75 4.7,0.75-1.1,0.75-3.9,0.75-7.3,0.75 2.4,0.75 2.2,0.75 1.4,0.75-0.4,0.75 9.3,0.75-8.4,0.75-1.3,0.75-0.5,0.75 8.1,0.75 2.7,0.75-5.6,0.75-0.1,0.75-2.4,0.75-3.7,0.75 5.5,0.75-7.2,0.75-1.9,0.75 3,0.75 3.7,0.75-3,0.75 1.1,0.75 2.1,0.75-3.3,0.75 0.3,0.75 5.5,0.75-4,0.75-3.7,0.75 2.6,0.75 5.6,0.75-5,0.75 2.9,0.75-1.5,0.75 0.5,0.75 0.9,0.75 3,0.75-0.3,0.75-2.5,0.75-2.8,0.75 1.2,0.75 5.8,0.75-2.7,0.75-5.9,0.75 10.9,0.75-5.5,0.75 1.9,0.75-8.8,0.75-2.1,0.75 5.4,0.75-2.4,0.75 0.5,0.75 1,0.75 5.8,0.75-3,0.75-4.2,0.75 0.1,0.75 2,0.75-4.4,0.75 0.4,0.75 1.9,0.75-3,0.75 3.2,0.75 7.9,0.75-5.8,0.75 3.2,0.75-2.6,0.75 1.9,0.75 1.2,0.75 0.9,0.75 4.4,0.75 1.3,0.75 3.2,0.75-2.7,0.75-2.6,0.75 0.7,0.75-9.3,0.75 4.2,0.75-7.2,0.75 8.4,0.75 0.1,0.75-2.6,0.75-1.6,0.75 4.4,0.75-6.3,0.75-0.2,0.75 2.7,0.75-6.6,0.75 3,0.75-0.2,0.75 0.8,0.75-4.6,0.75 6.1,0.75 2.1,0.75 2.2,0.75 0.2,0.75-5.9,0.75 3.3,0.75-4.9,0.75-0.2,0.75 2.5,0.75 2.8,0.75-11.6,0.75-0.1,0.75 11.9,0.75-10,0.75-4.4,0.75 14.9,0.75-2.5,0.75 1.9,0.75 5.3,0.75 3.8,0.75-4.8,0.75-8.6,0.75 0.1,0.75-1.4,0.75-3.3,0.75 7.5,0.75-4.1,0.75 4.1,0.75 5.7,0.75-6,0.75 6.8,0.75-12.5,0.75 6.3,0.75-3.8,0.75-3.7,0.75 5.3,0.75 7.9,0.75 0.2,0.75-3.6,0.75-4.4,0.75 3.5,0.75-4.7,0.75 6.3,0.75-4,0.75-1.5,0.75 4.9,0.75-1,0.75-6.6,0.75 5,0.75-6.1,0.75 5.1,0.75-0.3,0.75 4.2,0.75-5.1,0.75 3.3,0.75-0.3,0.75-5.8,0.75 2.5,0.75 5.1,0.75-6,0.75-2.6,0.75 3.9,0.75-3.2,0.75 3.9,0.75-1.2,0.75 4,0.75-1,0.75-4.2,0.75-0.8,0.75 0.7,0.75-0.2,0.75 10.4,0.75-0.6,0.75-1.6,0.75 3.2,0.75-2.9,0.75-3.8,0.75-2.2,0.75 3.2,0.75-1.7,0.75 0.5,0.75 13,0.75-15.5,0.75-2.5,0.75 0.9,0.75-3.8,0.75 0.7,0.75 1.1,0.75 9.1,0.75-6.8,0.75 2.2,0.75-3.9,0.75-0.2,0.75 6.6,0.75-10,0.75-0.5,0.75-1.2,0.75 6.6,0.75 2.6,0.75 2.9,0.75-3.2,0.75 2.8,0.75 0.4,0.75-2.5,0.75 3.1,0.75-6.6,0.75-1.4,0.75 0.3,0.75-0.2,0.75-1.1,0.75 4.7,0.75 1.3,0.75 2.8,0.75-7.5,0.75 2.6,0.75 2.9,0.75 3.2,0.75-7.7,0.75 1.9,0.75 0.3,0.75 2.7,0.75-0.4,0.75-1.3,0.75 4.1,0.75 1.6,0.75-5.6,0.75 4.4,0.75-1.1,0.75-3.4,0.75 5.5,0.75-3.5,0.75 1.7,0.75-1.5,0.75-1.7,0.75 0.7,0.75-0.3,0.75 0.4,0.75-3.3,0.75-2.1,0.75-1,0.75 5.7,0.75 1.2,0.75-1.6,0.75-2.3,0.75 7,0.75-3.1,0.75 5.7,0.75-3.5,0.75-1.2,0.75-5.1,0.75 8.7,0.75-3.5,0.75-0.6,0.75-0.2,0.75-0.1,0.75 0.3,0.75 0.2,0.75 4.3,0.75-4.7,0.75 4.9,0.75-1.6,0.75 5.3,0.75-11,0.75-1.9,0.75 6.1,0.75-2.5,0.75 6.1,0.75-1,0.75-5,0.75-1.2,0.75 3.3,0.75 0.4,0.75-3.8,0.75 3.2,0.75 0.5,0.75-2.8,0.75 1.1,0.75 4.4,0.75 0,0.75-0.7,0.75 4.6,0.75 0.3,0.75-7.4,0.75 1.6,0.75-2.1,0.75-2.3,0.75 3.9,0.75 1.6,0.75-3.2,0.75-2.8,0.75 3.9,0.75-0.2,0.75 1.8,0.75-2,0.75-2,0.75 0.5,0.75 0.4,0.75-0.5,0.75 0.2,0.75-0.4,0.75 0,0.75-0.6,0.75-0.3,0.75 0.1,0.75 0.4,0.75 0.3,0.75 0.1,0.75 0.1,0.75 0.3,0.75 0.1,0.75-0.4,0.75 0,0.75 0.2,0.75-0.3,0.75-0.1,0.75-0.2,0.75-0.4,0.75-0.3,0.75-0.2,0.75-0.1,0.75-0.3,0.75-0.2,0.75 0.4,0.75-0.2,0.75-0.5,0.75 0.1,0.75 0.4,0.75 0.5,0.75 0.7,0.75 0.1,0.75 0,0.75-0.3,0.75 0,0.75 0.1,0.75 0.2,0.75-0.4,0.75-0.8,0.75-0.1,0.75-0.2,0.75 0.4,0.75 0.1,0.75 0.5,0.75 0.4,0.75 0.2,0.75 0.2,0.75 0,0.75 0.4,0.75-0.1,0.75 0.5,0.75-0.1,0.75-0.3,0.75-0.2,0.75 0.2,0.75-0.5,0.75-0.1,0.75 0,0.75 0.1,0.75-0.1,0.75-0.2,0.75-0.1,0.75-0.4,0.75-0.6,0.75 0.1,0.75 0.5,0.75 0,0.75-0.3,0.75 0.1,0.75-0.1,0.75 0.5,0.75 0,0.75-0.1,0.75 0,0.75-0.3,0.75-0.4,0.75 0.1,0.75 0,0.75-0.2,0.75 0,0.75 0,0.75-0.3,0.75 0.4,0.75-0.1,0.75 0.1,0.75-0.2,0.75 0.4,0.75 0.3,0.75-0.1,0.75 0.2,0.75 0.2,0.75 0,0.75-0.7,0.75-0.5,0.75 0.1,0.75 0.3,0.75 0.3,0.75-0.1,0.75-0.3,0.75 0.2,0.75 0,0.75-0.3,0.75 0,0.75 0.1,0.75-0.1,0.75-0.1,0.75-0.3,0.75-0.1,0.75-0.3,0.75 0.3,0.75 0.1,0.75 0.1,0.75 0.2,0.75 0.7,0.75 0.5,0.75 0.5,0.75 0.1,0.75 0.1,0.75 0.3,0.75 0.2,0.75-0.3,0.75-0.2,0.75-0.1,0.75 0.1,0.75 0.2,0.75 0.3,0.75 0,0.75-0.3,0.75-0.4,0.75-0.9,0.75-0.1,0.75 0.2,0.75-0.5,0.75 0,0.75 0.2,0.75 0.4,0.75 0.3,0.75 0.2,0.75 0.2,0.75 0.3,0.75-0.1,0.75-0.1,0.75-0.5,0.75-0.2,0.75-0.1,0.75 0.4,0.75 0,0.75-0.2,0.75 0.2,0.75 0.3,0.75 0.2,0.75-0.3,0.75 0.3,0.75 0.2,0.75-0.2,0.75-0.2,0.75 0.1,0.75 0.1,0.75-0.1,0.75-0.3,0.75-0.1,0.75 0.1,0.75 0.4,0.75 0.1,0.75 0.1,0.75 0,0.75 0.1,0.75 0.4,0.75-0.1,0.75-0.1,0.75-0.3,0.75-0.2,0.75-0.2,0.75 0,0.75-0.1,0.75 0.3,0.75 0.1,0.75 0.3,0.75-0.3,0.75 0.3,0.75-0.1,0.75-0.8,0.75-0.4,0.75 0,0.75-0.1,0.75-0.4,0.75 0.1,0.75 0.2,0.75 0.2,0.75-0.2,0.75 0.1,0.75 0.2,0.75 0.2,0.75 0.1,0.75-0.1,0.75 0,0.75 0.2,0.75" stroke="#000" stroke-width="0.5"/>
<polygon points="212.4,62 212.2,66 212.2,71 212.4,76 212.7,80 213.0,84 213.1,89 213.0,94 212.8,98 212.5,102 212.2,107 212.1,112 212.1,116 212.3,120 212.5,125 212.5,130 212.6,134 212.8,138 212.9,143 212.8,148 212.6,152 212.4,156 212.2,161 212.1,166 212.0,170 211.9,174 211.8,179 211.8,184 212.2,188 212.8,192 213.3,197 213.3,202 212.8,206 212.1,210 211.6,215 211.1,220 210.8,224 210.4,228 210.1,233 210.0,238 210.1,242 210.3,246 210.3,251 209.9,256 209.5,260 209.2,264 209.0,269 208.7,274 208.3,278 208.0,282 207.8,287 207.8,292 208.5,296 209.6,300 210.5,305 210.8,310 210.4,314 209.9,318 209.3,323 208.6,328 207.9,332 207.2,336 206.6,341 206.3,346 206.3,350 206.7,354 207.4,359 208.3,364 209.0,368 209.2,372 208.9,377 208.5,382 208.1,386 207.8,390 207.7,395 207.8,400 208.2,404 208.6,408 208.9,413 209.2,418 209.3,422 209.3,426 209.6,431 210.0,436 210.5,440 210.5,444 210.0,449 209.1,454 208.3,458 207.9,462 208.0,467 208.5,472 209.0,476 209.2,480 209.3,485 209.2,490 209.2,494 209.3,498 209.7,503 210.2,508 211.8,512 215.7,516 215.7,521 215.4,526 214.8,530 214.2,534 213.9,539 213.8,544 214.1,548 214.4,552 214.8,557 215.1,562 215.3,566 215.6,570 215.9,575 216.3,580 216.5,584 216.5,588 216.2,593 215.7,598 215.3,602 215.0,606 215.0,611 215.0,616 215.1,620 215.4,624 215.6,629 215.6,634 215.3,638 215.1,642 215.0,647 214.9,652 215.0,656 215.1,660 215.1,664 215.1,664 215.1,660 215.0,656 214.9,652 215.0,647 215.1,642 215.3,638 215.6,634 215.6,629 215.4,624 215.1,620 215.0,616 215.0,611 215.0,606 215.3,602 215.7,598 216.2,593 216.5,588 216.5,584 216.3,580 215.9,575 215.6,570 215.3,566 215.1,562 214.8,557 214.4,552 214.1,548 213.8,544 213.9,539 214.2,534 214.8,530 215.4,526 215.7,521 215.7,516 218.9,512 219.3,508 218.9,503 218.7,498 218.7,494 218.9,490 219.1,485 219.2,480 219.1,476 218.8,472 218.5,467 218.5,462 219.0,458 220.0,454 221.0,449 221.7,444 221.8,440 221.5,436 221.2,431 221.1,426 221.2,422 221.2,418 221.1,413 220.8,408 220.5,404 220.2,400 220.2,395 220.4,390 220.8,386 221.3,382 221.8,377 222.2,372 222.1,368 221.5,364 220.7,359 220.1,354 219.8,350 219.9,346 220.3,341 221.0,336 221.8,332 222.6,328 223.4,323 224.0,318 224.7,314 225.1,310 225.0,305 224.2,300 223.2,296 222.6,292 222.6,287 222.9,282 222.8,278 222.1,274 221.2,269 220.3,264 219.5,260 218.8,256 218.1,251 217.7,246 217.5,242 217.3,238 217.4,233 217.6,228 217.9,224 218.2,220 218.5,215 219.0,210 219.6,206 220.0,202 219.9,197 219.4,192 218.7,188 218.3,184 218.2,179 218.2,174 218.2,170 218.2,166 218.3,161 218.4,156 218.6,152 218.7,148 218.6,143 218.5,138 218.3,134 218.1,130 218.0,125 217.7,120 217.5,116 217.4,112 217.4,107 217.6,102 217.9,98 218.0,94 218.0,89 217.8,84 217.5,80 217.1,76 216.9,71 216.8,66 216.9,62" fill="#000" fill-opacity="0.2" stroke="none"/>
<path d="M214.9,62l-2.8,0.75 0.4,0.75 1.5,0.75 0,0.75-0.8,0.75-2.5,0.75 2,0.75 0.3,0.75-1,0.75-0.2,0.75 1.1,0.75-0.8,0.75 1.2,0.75 0.2,0.75-1.6,0.75 3,0.75 0.3,0.75-0.8,0.75 1.9,0.75 0.4,0.75-2,0.75-0.2,0.75 0,0.75-2.4,0.75 2.1,0.75 0.2,0.75 0.6,0.75 0.3,0.75-0.9,0.75 1.9,0.75-0.1,0.75 1,0.75 0.6,0.75 0,0.75-0.4,0.75-1.6,0.75-2.8,0.75 2.7,0.75 0,0.75-1.1,0.75-0.1,0.75-1.2,0.75 1.9,0.75-0.6,0.75 0.2,0.75 1.2,0.75-2.9,0.75 1.1,0.75 0.7,0.75 0.8,0.75 0,0.75-1.2,0.75-2.9,0.75 2.9,0.75-0.9,0.75-0.9,0.75 0.9,0.75 1.8,0.75-1,0.75 1.6,0.75-1.1,0.75 0.1,0.75-2,0.75 1.7,0.75 1.4,0.75-1.3,0.75-2.4,0.75 1,0.75 0.4,0.75-2.1,0.75 1.3,0.75-0.3,0.75 1.5,0.75-1,0.75 1,0.75 2.2,0.75-1.1,0.75-0.1,0.75-0.1,0.75 2.2,0.75 1,0.75-2.1,0.75 0,0.75 2,0.75 0.9,0.75-6.5,0.75 3.9,0.75-3.3,0.75 1.5,0.75-0.7,0.75-1.7,0.75 0.2,0.75 0.6,0.75 3.6,0.75-2.3,0.75-0.6,0.75 1.9,0.75-0.3,0.75 0,0.75-0.8,0.75-1.1,0.75 0.6,0.75 3.1,0.75-2.1,0.75 0.4,0.75-1.8,0.75 2.1,0.75-2.6,0.75 1.8,0.75 0.5,0.75-1.3,0.75 1.9,0.75-0.1,0.75 0.1,0.75-1.6,0.75 1.4,0.75 1.4,0.75-0.8,0.75-1.3,0.75 0.8,0.75-0.2,0.75-1.3,0.75 1.5,0.75-1.4,0.75-2.4,0.75 6.7,0.75-5.3,0.75 2,0.75-0.3,0.75-1.2,0.75 1.6,0.75 0.8,0.75-1.2,0.75 2.9,0.75 1.1,0.75-1.9,0.75 0.4,0.75-0.3,0.75-2.1,0.75 3.9,0.75-1,0.75-1.2,0.75 1.3,0.75-2.1,0.75-2.6,0.75 0.1,0.75 1.1,0.75 1,0.75-2.9,0.75 5.7,0.75-0.4,0.75 1.8,0.75-3.8,0.75-2.9,0.75 2.2,0.75 0.2,0.75 1.8,0.75 3.1,0.75-5.5,0.75 2.5,0.75-2.5,0.75 2.9,0.75 2.6,0.75-4.8,0.75 2.6,0.75-2.9,0.75 1.2,0.75 0.3,0.75-2.5,0.75-3,0.75 4.5,0.75-3.1,0.75 1,0.75 3.5,0.75-1.8,0.75 3.2,0.75 1.1,0.75-1.5,0.75 0.1,0.75-0.1,0.75-3.9,0.75 1,0.75-2.3,0.75 8,0.75-6.3,0.75 3.6,0.75-2.6,0.75-2.4,0.75 5,0.75-2.6,0.75 3,0.75-5.8,0.75 2.7,0.75 0.2,0.75-4.1,0.75-0.7,0.75 4.6,0.75-2.1,0.75-0.4,0.75 4.6,0.75-0.8,0.75 1.9,0.75-1.9,0.75-1.9,0.75 0.2,0.75 2.4,0.75 3.1,0.75-1.2,0.75-5.9,0.75 0,0.75 0.6,0.75 1.4,0.75 0.8,0.75-0.6,0.75 2.5,0.75-3.6,0.75-1.6,0.75-0.9,0.75-0.9,0.75 0.2,0.75 3.9,0.75-0.5,0.75-4.4,0.75 9,0.75-3.4,0.75-4.3,0.75 2.6,0.75-0.2,0.75 1.4,0.75-0.2,0.75-2.8,0.75 2.9,0.75 3.7,0.75-6.1,0.75 5.2,0.75-5.7,0.75 0.4,0.75 0.4,0.75-1.5,0.75-0.7,0.75 0.7,0.75-0.4,0.75 4.3,0.75-5.4,0.75 1.3,0.75-1,0.75-1.2,0.75 2.3,0.75 3.9,0.75 0.6,0.75-0.3,0.75 2,0.75-7.3,0.75 1.2,0.75-0.5,0.75-0.2,0.75-2.9,0.75 5.8,0.75-3,0.75 3.1,0.75-2.2,0.75-1.4,0.75 0.5,0.75 4.5,0.75-2.8,0.75-0.9,0.75 7.8,0.75-4,0.75-3.2,0.75 5.8,0.75-4.8,0.75-6.6,0.75-2.7,0.75 3.3,0.75 5.4,0.75 0.9,0.75-0.6,0.75-2,0.75 4.2,0.75-1.1,0.75 4.1,0.75-7.2,0.75-0.1,0.75 1.6,0.75-4.2,0.75-4.9,0.75 9.6,0.75 2.5,0.75 4.5,0.75-11.4,0.75 3.6,0.75-8,0.75 9.1,0.75-1.9,0.75-1.7,0.75 2.3,0.75-5.1,0.75 3.4,0.75 6.4,0.75-12.2,0.75 2.5,0.75 7.3,0.75 5.1,0.75-2.9,0.75-3.2,0.75-3.9,0.75-0.9,0.75 6.4,0.75-1.6,0.75 3.1,0.75 4.6,0.75-8.9,0.75 2.4,0.75 3.4,0.75 0.8,0.75-2.4,0.75-4.7,0.75 3.2,0.75-4,0.75 7.3,0.75 2.1,0.75-12.7,0.75 5,0.75 5.8,0.75-3.2,0.75 2.6,0.75 0.8,0.75 4.4,0.75-4.2,0.75 3.7,0.75 0.3,0.75-3,0.75-3,0.75 6,0.75-1.8,0.75-8.8,0.75 6,0.75 1.9,0.75-5.8,0.75-0.7,0.75-1.9,0.75 2,0.75 0.1,0.75 4.4,0.75-5,0.75 0.3,0.75 0.7,0.75 2.5,0.75 0.1,0.75 3,0.75-6.4,0.75 5.2,0.75-13.3,0.75 12,0.75-5.6,0.75-6,0.75 1.4,0.75 1,0.75 3.6,0.75 10.4,0.75-3.1,0.75-3.2,0.75 3.8,0.75 1.2,0.75-5.4,0.75 1.8,0.75-2.3,0.75 1.4,0.75-2.3,0.75-4.3,0.75 9.9,0.75-2.1,0.75-1,0.75-1.9,0.75-0.8,0.75 0.7,0.75-4.7,0.75-3.6,0.75 4.6,0.75-3.1,0.75 9.9,0.75-7.3,0.75 7.4,0.75-2,0.75-1,0.75-3.5,0.75 2.3,0.75-3.7,0.75 4.5,0.75 2.1,0.75-1.8,0.75-3.8,0.75 7.2,0.75-9.3,0.75 4.2,0.75 0.4,0.75-2.5,0.75-5.4,0.75 0.1,0.75 6.9,0.75 7.1,0.75-4.7,0.75 7.9,0.75-16,0.75 8.9,0.75 7.9,0.75-8.3,0.75 4.6,0.75-0.1,0.75-2.3,0.75-6.2,0.75 8,0.75-2.1,0.75 1.3,0.75 3.2,0.75-2.6,0.75-1,0.75-4,0.75-2.9,0.75 5.9,0.75-5.5,0.75 0.5,0.75 3.8,0.75 3.9,0.75 5,0.75-11,0.75 8.4,0.75-6.3,0.75-2.7,0.75-1.6,0.75 0.1,0.75 2.2,0.75 1.5,0.75-0.1,0.75-0.7,0.75 1.9,0.75-2.9,0.75 10.2,0.75-7.7,0.75-2.3,0.75-0.6,0.75-3.7,0.75 4.2,0.75 2.5,0.75 3,0.75-3.6,0.75-2.9,0.75 1.5,0.75-1.6,0.75-0.6,0.75 6.3,0.75-0.1,0.75-5.5,0.75-1.6,0.75 1,0.75 3.1,0.75-2.3,0.75 1.5,0.75-4.6,0.75 4.5,0.75-1.5,0.75 3.1,0.75 0.2,0.75-6.3,0.75 0.8,0.75 4.5,0.75 0,0.75-6.3,0.75 2.4,0.75-1.9,0.75 1.6,0.75 1.8,0.75 5.1,0.75-2.7,0.75 0.4,0.75 0.3,0.75-1,0.75 1.1,0.75-5.5,0.75 9,0.75-6.7,0.75 4.8,0.75 2.5,0.75-2.5,0.75-9.1,0.75 5,0.75 0.2,0.75 2.3,0.75 0.8,0.75 2.5,0.75 0.8,0.75 3.4,0.75-2,0.75 1.8,0.75-1.8,0.75-2.5,0.75 2.3,0.75-2.1,0.75-1.8,0.75-1.6,0.75 2.5,0.75 2.7,0.75-4.7,0.75 0.9,0.75 3.4,0.75-1.7,0.75 4.9,0.75-0.1,0.75-5.2,0.75-3,0.75-3.8,0.75 0,0.75 4.7,0.75-1.4,0.75 2.6,0.75-4.5,0.75 1.5,0.75-0.2,0.75-2.8,0.75 3,0.75-9.5,0.75-0.7,0.75 8.9,0.75-7.3,0.75 6.9,0.75 0.3,0.75-4.3,0.75-2,0.75 5.8,0.75 3.7,0.75-4.6,0.75 4.8,0.75-4.6,0.75-0.1,0.75-2.5,0.75-0.3,0.75 2.4,0.75 1.2,0.75 2,0.75-4.6,0.75 10.1,0.75-3.5,0.75 1.1,0.75 1.9,0.75-6.1,0.75 3,0.75 0.5,0.75-3.7,0.75 6.3,0.75-8.6,0.75-1,0.75 2.2,0.75 0.9,0.75-1,0.75 3.5,0.75-1.2,0.75-0.4,0.75 1.3,0.75 1.2,0.75-4.7,0.75 5,0.75 1.9,0.75 1,0.75-4.2,0.75-7.4,0.75 1.2,0.75 3.4,0.75-3,0.75 0.9,0.75-1,0.75 3.9,0.75 2.5,0.75-1.9,0.75 0,0.75-2.5,0.75 0.8,0.75-5,0.75-0.7,0.75 2.2,0.75 2.2,0.75-2.5,0.75 1.3,0.75 0.3,0.75 1.3,0.75-0.6,0.75 0.4,0.75-3.3,0.75 6.4,0.75-4.4,0.75 2.5,0.75-0.6,0.75 5.4,0.75-5.7,0.75 1.8,0.75-2.7,0.75 3.4,0.75 2.7,0.75 0.3,0.75-2.5,0.75 2.4,0.75-0.4,0.75-0.6,0.75 0.9,0.75-2.5,0.75-0.8,0.75-0.5,0.75-0.3,0.75 0.1,0.75 0.1,0.75 0.1,0.75 0.1,0.75 0.5,0.75 0.4,0.75 0,0.75 0.5,0.75 0.1,0.75 0,0.75-0.1,0.75 0,0.75 0.1,0.75 0,0.75 0,0.75-0.2,0.75-0.6,0.75-0.2,0.75-0.5,0.75-0.2,0.75 0.1,0.75 0.1,0.75 0.5,0.75 0.9,0.75 0.8,0.75 0.5,0.75 0.3,0.75 0.3,0.75 0,0.75 0.2,0.75-0.3,0.75-0.4,0.75 0,0.75-0.3,0.75-0.5,0.75-0.5,0.75 0.1,0.75 0.4,0.75 0.1,0.75-0.3,0.75-0.3,0.75-0.3,0.75 0.3,0.75 0.2,0.75-0.1,0.75 0,0.75 0.1,0.75 0.3,0.75-0.4,0.75-0.2,0.75 0.2,0.75-0.1,0.75-0.1,0.75-0.3,0.75-0.4,0.75-0.2,0.75-0.3,0.75 0.6,0.75 0,0.75-0.3,0.75-0.1,0.75 0.2,0.75 0.5,0.75 0.5,0.75 0.8,0.75 0.4,0.75 0.5,0.75 0,0.75 0.1,0.75 0.1,0.75-0.1,0.75-0.6,0.75-0.6,0.75-0.5,0.75-0.1,0.75-0.4,0.75-0.5,0.75-0.2,0.75 0.3,0.75 0.6,0.75 0.1,0.75-0.2,0.75 0.2,0.75 0.1,0.75-0.2,0.75 0.3,0.75 0,0.75-0.4,0.75-0.3,0.75 0.2,0.75 0.2,0.75 0.3,0.75 0,0.75 0.4,0.75 0.3,0.75 0,0.75-0.1,0.75-0.2,0.75 0.3,0.75-0.4,0.75-0.2,0.75-0.4,0.75-0.2,0.75-0.4,0.75-0.1,0.75 0.5,0.75 0.1,0.75 0.2,0.75 0.5,0.75 0.7,0.75 0.2,0.75-0.1,0.75-0.3,0.75-0.4,0.75-0.2,0.75 0,0.75 0.3,0.75-0.3,0.75-0.1,0.75 0.2,0.75-0.1,0.75 0.2,0.75 0.1,0.75 0.3,0.75 0.1,0.75-0.3,0.75 0.1,0.75-0.3,0.75-0.3,0.75 0.2,0.75-0.1,0.75-0.2,0.75-0.1,0.75-0.3,0.75 0,0.75-0.4,0.75 0.5,0.75 0.3,0.75 0.5,0.75 0,0.75-0.1,0.75 0.3,0.75 0.1,0.75 0.1,0.75 0.5,0.75 0,0.75-0.3,0.75 0.1,0.75 0,0.75-0.4,0.75-0.3,0.75-0.2,0.75-0.1,0.75-0.1,0.75 0,0.75 0.4,0.75 0.1,0.75 0.2,0.75-0.3,0.75-0.3,0.75 0.4,0.75 0.1,0.75-0.2,0.75-0.1,0.75-0.2,0.75 0,0.75-0.1,0.75-0.4,0.75-0.1,0.75 0.3,0.75 0,0.75 0.3,0.75 0.1,0.75 0.1,0.75 0.1,0.75-0.1,0.75 0.1,0.75 0.1,0.75 0,0.75-0.3,0.75-0.1,0.75 0.7,0.75 0.1,0.75 0.5,0.75-0.3,0.75-0.2,0.75 0.1,0.75 0.1,0.75-0.3,0.75-0.1,0.75 0,0.75 0.2,0.75-0.5,0.75-0.1,0.75 0.1,0.75" stroke="#000" stroke-width="0.5"/>
<path d="M220.6,62l-0.2,0.75-2.2,0.75 1.1,0.75 0.4,0.75 0.2,0.75-0.7,0.75 0.6,0.75-1.2,0.75 0.1,0.75 2.7,0.75-0.9,0.75-0.9,0.75 0.8,0.75 0.8,0.75-0.2,0.75 1.6,0.75-0.9,0.75-1.4,0.75 0.7,0.75-2,0.75 0.9,0.75-0.2,0.75-0.4,0.75 2.3,0.75-2,0.75-0.3,0.75 1.4,0.75 0.8,0.75-0.2,0.75-1.6,0.75 1.1,0.75 1.6,0.75-3.1,0.75 0.2,0.75-0.5,0.75-1.1,0.75-1.1,0.75 1.3,0.75 1,0.75-1.3,0.75-0.8,0.75 2.8,0.75-0.9,0.75 0.1,0.75 0.5,0.75-0.9,0.75-1.6,0.75 1.5,0.75-0.2,0.75-0.9,0.75-0.7,0.75 0.4,0.75-0.4,0.75 0.7,0.75 0.7,0.75 0.4,0.75 0.4,0.75-0.1,0.75 0.2,0.75-0.5,0.75 1,0.75-0.5,0.75-0.2,0.75-1.7,0.75 2.8,0.75-0.4,0.75-0.1,0.75-0.4,0.75 0.5,0.75 0.1,0.75 0.4,0.75-1.2,0.75-0.2,0.75 0.5,0.75-0.5,0.75-0.2,0.75 0.3,0.75 0.2,0.75 0.5,0.75-0.3,0.75 0.2,0.75-1,0.75-2,0.75-0.3,0.75 1,0.75-0.3,0.75-0.8,0.75 1.8,0.75-0.4,0.75 1.9,0.75-0.4,0.75 0.9,0.75-0.8,0.75-0.2,0.75 0.1,0.75-2.1,0.75 1.4,0.75-1.5,0.75-0.7,0.75 0.6,0.75-0.1,0.75-0.2,0.75 0.4,0.75 2.2,0.75 0.8,0.75-0.6,0.75 0.7,0.75-1.1,0.75-0.2,0.75 0,0.75-0.8,0.75 0.1,0.75 0.2,0.75-0.3,0.75 1.3,0.75-2.4,0.75 2.3,0.75 0.9,0.75 2.3,0.75 1.9,0.75-1.5,0.75-1,0.75 1.6,0.75-0.4,0.75-0.1,0.75-1.5,0.75-2.6,0.75 0.5,0.75 0.1,0.75-0.1,0.75-2.6,0.75 0.2,0.75 0.9,0.75 0.1,0.75 2,0.75-0.7,0.75 0.3,0.75 0.8,0.75 0,0.75-0.5,0.75 0.2,0.75 1.3,0.75-2.3,0.75 1.7,0.75-0.6,0.75 1.1,0.75-1.5,0.75-1.2,0.75 1.6,0.75-2.4,0.75-0.2,0.75 0.2,0.75 0,0.75-1,0.75-0.2,0.75 0.8,0.75 1.6,0.75-1,0.75 0.3,0.75-1.8,0.75 3,0.75-0.2,0.75-0.8,0.75 0.1,0.75 1.2,0.75 0.6,0.75-0.7,0.75 0.5,0.75 0.5,0.75 0.6,0.75-1.3,0.75 1.2,0.75-0.9,0.75 0.1,0.75-0.2,0.75 0.9,0.75-0.8,0.75 1.1,0.75-0.3,0.75 0.6,0.75 0.8,0.75-1.1,0.75-0.9,0.75 2.2,0.75-0.2,0.75-1.4,0.75-0.2,0.75 1.1,0.75 2.5,0.75-2.7,0.75 2.7,0.75 0.1,0.75-1.2,0.75-1.1,0.75-0.7,0.75 1.9,0.75 0.8,0.75-1.4,0.75 0.3,0.75-1.8,0.75 0.7,0.75 0,0.75-0.7,0.75-3.3,0.75 1.1,0.75-0.2,0.75 0.8,0.75 1.5,0.75-0.5,0.75-1.3,0.75 1.9,0.75-0.1,0.75 0.5,0.75 0.6,0.75-0.6,0.75-1,0.75 0.7,0.75 0.4,0.75 0.5,0.75 0.6,0.75 0.8,0.75-4.6,0.75 1.8,0.75 1,0.75-1.3,0.75 0.4,0.75 0,0.75 0.9,0.75 0.4,0.75-1.2,0.75 0,0.75 1.4,0.75-1.9,0.75 1.5,0.75-1.5,0.75-0.6,0.75-0.5,0.75-1.5,0.75-0.3,0.75-0.4,0.75 1.6,0.75 0.9,0.75-2,0.75 0.3,0.75-0.4,0.75-1.5,0.75 0.2,0.75 1,0.75-1.8,0.75 1.6,0.75 1.8,0.75 0.7,0.75 0,0.75 1.2,0.75-0.1,0.75-0.1,0.75 1.9,0.75 0.3,0.75 0.6,0.75 0.9,0.75-3,0.75 0.3,0.75-3,0.75-0.7,0.75-1.4,0.75-0.3,0.75-0.8,0.75 1.6,0.75 0.7,0.75 0.5,0.75 1.2,0.75 2.1,0.75 0.8,0.75-1.8,0.75-1.2,0.75 0.5,0.75-2.4,0.75 1.2,0.75 3.4,0.75-0.5,0.75 7.7,0.75 0.9,0.75 2.1,0.75-5.6,0.75-1.2,0.75-0.8,0.75-4.1,0.75-0.8,0.75 0.9,0.75-4.9,0.75-2.2,0.75-1.1,0.75-0.5,0.75 3,0.75 0.4,0.75 1.7,0.75 5.2,0.75 3.8,0.75-0.6,0.75 2.1,0.75 1.8,0.75 1.6,0.75-1.8,0.75-4.2,0.75-1.1,0.75 2.7,0.75-5.2,0.75-2.8,0.75 0.9,0.75-1.8,0.75 2.2,0.75 0.4,0.75 0.6,0.75 3.1,0.75-2.6,0.75-1.1,0.75-0.1,0.75 4.3,0.75 4.2,0.75-1.7,0.75-4.6,0.75-0.3,0.75 3.8,0.75-0.6,0.75 0.1,0.75-1.3,0.75 4.6,0.75-3.3,0.75 5.8,0.75-5.3,0.75-8.2,0.75-3.7,0.75 4.5,0.75-2.9,0.75-0.6,0.75 4.6,0.75 1.9,0.75 1.3,0.75 2.5,0.75 1.5,0.75-0.5,0.75-4.7,0.75 4.4,0.75-0.4,0.75-5.5,0.75 0.6,0.75-0.4,0.75 2.8,0.75-2.1,0.75-3.1,0.75 0.4,0.75 0.5,0.75 1.4,0.75-2.2,0.75 1.9,0.75-3.4,0.75-3.7,0.75-0.1,0.75 0.2,0.75 2.2,0.75 6.5,0.75-3,0.75 2,0.75-1.5,0.75-1.3,0.75-0.4,0.75-4.3,0.75 1.5,0.75 1.6,0.75 0.4,0.75-3.4,0.75 4.6,0.75-3.2,0.75 0.5,0.75 2.1,0.75 0.8,0.75 0.2,0.75 0.5,0.75-1.9,0.75 1.1,0.75 3.7,0.75-0.7,0.75-1.9,0.75 4.3,0.75-4.2,0.75 4,0.75-5.3,0.75 0.1,0.75 1.7,0.75 0.8,0.75 3.1,0.75 1.7,0.75 0.7,0.75 0.4,0.75-0.9,0.75-0.6,0.75-0.7,0.75-0.4,0.75 1,0.75-2.9,0.75 2.5,0.75-5.1,0.75-0.1,0.75-1,0.75-0.2,0.75 2.1,0.75 0,0.75 3.1,0.75 2.5,0.75-3.5,0.75 1.4,0.75-0.6,0.75-0.7,0.75-0.6,0.75 2.4,0.75-1.9,0.75-3.4,0.75-1.8,0.75-1.2,0.75-0.7,0.75 0.8,0.75-1.5,0.75 4.2,0.75-2,0.75 3.5,0.75-0.7,0.75-0.2,0.75 2.5,0.75-4,0.75 0.4,0.75-2.7,0.75-0.7,0.75 4.5,0.75-1.3,0.75 0.4,0.75-0.2,0.75 3,0.75-2.7,0.75 5.2,0.75-2.4,0.75-2.6,0.75 3,0.75 0,0.75-0.9,0.75-1.8,0.75 0.6,0.75-3.7,0.75 1.6,0.75 0.2,0.75 2.1,0.75-1,0.75-2.5,0.75 1.7,0.75-0.1,0.75-1.5,0.75-0.8,0.75 0.7,0.75 0,0.75 1.1,0.75 0.8,0.75-0.7,0.75-2,0.75-0.9,0.75 0.6,0.75-4.3,0.75 1.5,0.75 0.5,0.75 2.8,0.75 0.2,0.75 2.1,0.75 1.1,0.75 0.8,0.75-0.7,0.75-0.5,0.75-0.7,0.75 1.4,0.75 0.5,0.75-1.2,0.75-1.8,0.75 1.8,0.75-0.7,0.75 2,0.75 1.2,0.75-1.9,0.75 2.9,0.75 0.3,0.75-2.7,0.75 2.8,0.75-3.1,0.75-1.4,0.75-0.8,0.75-0.9,0.75 1.1,0.75 0.1,0.75 1,0.75-0.6,0.75-0.5,0.75-0.8,0.75-2.8,0.75-1,0.75 1.5,0.75 2.3,0.75 1.2,0.75 2,0.75 0,0.75 2.8,0.75-1.4,0.75-2,0.75 0.7,0.75 0.4,0.75-0.1,0.75-1.3,0.75-0.7,0.75-0.4,0.75 1,0.75-1.7,0.75 2,0.75 0.2,0.75 0.4,0.75 0.5,0.75 1,0.75-1.2,0.75 1.4,0.75-2,0.75 2.1,0.75-0.8,0.75-0.3,0.75 1.4,0.75 1,0.75 0.9,0.75 0.7,0.75-0.2,0.75-1.8,0.75-0.7,0.75-0.7,0.75-0.7,0.75-0.5,0.75-1.8,0.75 2.8,0.75-0.7,0.75 0,0.75 1.8,0.75-1.3,0.75 1.9,0.75-0.3,0.75-0.3,0.75 1.8,0.75 0.2,0.75-1.8,0.75-1.4,0.75-0.8,0.75-0.5,0.75-0.4,0.75-0.4,0.75-0.4,0.75 1.6,0.75 0.3,0.75-1.5,0.75-0.1,0.75-2.8,0.75 3.1,0.75 2,0.75-0.6,0.75-1.7,0.75 1.6,0.75-0.5,0.75-1.2,0.75 2.5,0.75 0.1,0.75-1.7,0.75 1.6,0.75-0.3,0.75-2.6,0.75 2,0.75-0.2,0.75 0.6,0.75 3.3,0.75-1,0.75-0.6,0.75-1.1,0.75 0.2,0.75-1.4,0.75-1.4,0.75-1.5,0.75 0.8,0.75-2.4,0.75 2.9,0.75 1.2,0.75-0.3,0.75 0.5,0.75-1.8,0.75 1.1,0.75 0.5,0.75 0.3,0.75-0.6,0.75 2.5,0.75-1.8,0.75-0.7,0.75 1.2,0.75 0.4,0.75-1.2,0.75 0.3,0.75 1.5,0.75 0.3,0.75 0.2,0.75 0.1,0.75 0.1,0.75-0.4,0.75 0,0.75-0.6,0.75-0.3,0.75 0,0.75 0.1,0.75 0,0.75 0.1,0.75-0.1,0.75 0.2,0.75-0.6,0.75-0.4,0.75 0.4,0.75 0.2,0.75 0.3,0.75 0.2,0.75-0.3,0.75-0.7,0.75-0.6,0.75-0.6,0.75 0.2,0.75 0,0.75-0.1,0.75-0.5,0.75 0.1,0.75 0.2,0.75 0.3,0.75 0.4,0.75-0.5,0.75 0.2,0.75 0.8,0.75 0.4,0.75 0.3,0.75-0.3,0.75 0.8,0.75 0,0.75 0.2,0.75-0.1,0.75-0.4,0.75-0.3,0.75-0.4,0.75-0.4,0.75 0.2,0.75 0.1,0.75-0.3,0.75 0,0.75 0.4,0.75-0.1,0.75 0.2,0.75 0,0.75 0.1,0.75 0.4,0.75-0.7,0.75-0.6,0.75 0.1,0.75 0.2,0.75 0.3,0.75 0.2,0.75 0,0.75 0.1,0.75 0.3,0.75 0.5,0.75 0.1,0.75 0.1,0.75 0,0.75-0.2,0.75-0.1,0.75-0.5,0.75-0.5,0.75-0.7,0.75-0.4,0.75-0.4,0.75-0.6,0.75-0.1,0.75 0.3,0.75 0.2,0.75-0.7,0.75 0,0.75 0.5,0.75 0.5,0.75 0,0.75-0.2,0.75 0.1,0.75 0.2,0.75-0.1,0.75 0.4,0.75 0.1,0.75-0.1,0.75-0.4,0.75-0.2,0.75-0.6,0.75-0.1,0.75 0.2,0.75 0.6,0.75 0.1,0.75 0.6,0.75 0.4,0.75 0,0.75 0.2,0.75-0.2,0.75 0.5,0.75 0.8,0.75-0.1,0.75 0.2,0.75 0,0.75 0.6,0.75 0.4,0.75-0.1,0.75-0.3,0.75-0.2,0.75 0.4,0.75 0.1,0.75-0.5,0.75-0.5,0.75-0.6,0.75 0.1,0.75 0.5,0.75-0.5,0.75 0,0.75 0.2,0.75 0.1,0.75 0.2,0.75-0.1,0.75-0.2,0.75-0.2,0.75 0.2,0.75 0.6,0.75 0.8,0.75 0.4,0.75-0.1,0.75-0.4,0.75 0.1,0.75 0,0.75-0.3,0.75 0,0.75-0.4,0.75-0.1,0.75-0.8,0.75-0.1,0.75 0.1,0.75-0.3,0.75-0.3,0.75 0,0.75-0.2,0.75 0,0.75-0.1,0.75 0.3,0.75 0.8,0.75 0.9,0.75-0.1,0.75-0.1,0.75 0,0.75 0.3,0.75 0.1,0.75 0.3,0.75-0.3,0.75-0.3,0.75 0.3,0.75 0.4,0.75-0.2,0.75-0.1,0.75-0.1,0.75 0,0.75 0.2,0.75-0.3,0.75-0.4,0.75-0.3,0.75-0.2,0.75-0.2,0.75-0.9,0.75-0.1,0.75 0.3,0.75-0.4,0.75-0.3,0.75-0.2,0.75 0.1,0.75 0.1,0.75 0.7,0.75 0.1,0.75 0.5,0.75 0.1,0.75-0.2,0.75 0.3,0.75 0.2,0.75-0.4,0.75-0.5,0.75 0.1,0.75 0.4,0.75 0.4,0.75 0.4,0.75-0.2,0.75-0.1,0.75-0.1,0.75 0.4,0.75-0.2,0.75" stroke="#000" stroke-width="0.45"/>
<polygon points="226.9,62 227.2,66 227.3,71 227.2,76 227.0,80 226.7,84 226.5,89 226.4,94 226.3,98 226.3,102 226.4,107 226.6,112 226.9,116 227.1,120 227.1,125 227.0,130 226.8,134 226.5,138 226.1,143 225.7,148 225.3,152 225.2,156 225.3,161 225.3,166 225.1,170 224.7,174 224.4,179 224.4,184 224.6,188 224.8,192 224.8,197 224.5,202 224.1,206 223.9,210 223.9,215 223.9,220 223.9,224 223.7,228 223.3,233 222.8,238 222.2,242 221.8,246 221.3,251 220.3,256 219.7,260 219.7,264 219.9,269 220.1,274 219.9,278 219.7,282 219.3,287 218.5,292 217.6,296 217.0,300 216.6,305 216.5,310 216.7,314 217.2,318 218.2,323 219.7,328 221.4,332 222.5,336 222.4,341 221.4,346 219.9,350 218.4,354 217.0,359 215.8,364 215.4,368 216.7,372 219.0,377 221.1,382 222.5,386 223.2,390 223.0,395 222.9,400 223.0,404 223.0,408 222.9,413 222.5,418 222.1,422 222.1,426 222.5,431 223.1,436 223.6,440 223.9,444 224.1,449 224.1,454 224.1,458 223.9,462 223.6,467 223.5,472 223.6,476 223.9,480 224.0,485 223.9,490 223.6,494 223.5,498 223.5,503 223.5,508 224.4,512 228.4,516 228.0,521 227.7,526 227.5,530 227.5,534 227.7,539 227.8,544 227.9,548 227.9,552 227.8,557 227.7,562 227.7,566 227.9,570 228.3,575 228.7,580 228.8,584 228.5,588 227.9,593 227.3,598 227.0,602 226.9,606 227.1,611 227.5,616 228.0,620 228.4,624 228.6,629 228.6,634 228.4,638 228.2,642 228.1,647 227.9,652 227.9,656 227.9,660 227.9,664 227.9,664 227.9,660 227.9,656 227.9,652 228.1,647 228.2,642 228.4,638 228.6,634 228.6,629 228.4,624 228.0,620 227.5,616 227.1,611 226.9,606 227.0,602 227.3,598 227.9,593 228.5,588 228.8,584 228.7,580 228.3,575 227.9,570 227.7,566 227.7,562 227.8,557 227.9,552 227.9,548 227.8,544 227.7,539 227.5,534 227.5,530 227.7,526 228.0,521 228.4,516 232.8,512 234.0,508 234.0,503 234.0,498 234.1,494 234.4,490 234.5,485 234.4,480 234.1,476 234.0,472 234.1,467 234.4,462 234.6,458 234.6,454 234.6,449 234.4,444 234.1,440 233.6,436 233.0,431 232.6,426 232.6,422 233.0,418 233.4,413 233.5,408 233.5,404 233.4,400 233.5,395 233.7,390 234.5,386 234.8,382 234.4,377 233.8,372 233.4,368 233.8,364 235.0,359 236.4,354 237.9,350 239.4,346 240.4,341 240.5,336 239.4,332 237.7,328 236.2,323 235.2,318 234.7,314 234.5,310 234.6,305 235.0,300 235.6,296 236.5,292 237.3,287 237.7,282 237.3,278 236.1,274 234.6,269 233.1,264 231.7,260 230.8,256 230.3,251 230.3,246 230.4,242 230.7,238 230.9,233 231.1,228 231.0,224 230.7,220 230.4,215 230.2,210 230.2,206 230.2,202 230.3,197 230.2,192 229.9,188 229.5,184 229.3,179 229.4,174 229.6,170 229.7,166 229.5,161 229.3,156 229.2,152 229.4,148 229.8,143 230.2,138 230.4,134 230.5,130 230.6,125 230.5,120 230.3,116 229.9,112 229.7,107 229.5,102 229.4,98 229.5,94 229.6,89 229.7,84 229.9,80 230.0,76 230.1,71 229.9,66 229.6,62" fill="#000" fill-opacity="0.12" stroke="none"/>
<path d="M228.5,62l-0.2,0.75-2,0.75 1.9,0.75-1.4,0.75 0.1,0.75 0,0.75-0.1,0.75 0.7,0.75 1.2,0.75 0.6,0.75-0.6,0.75 0.9,0.75 2.4,0.75-1.6,0.75 0.7,0.75-0.1,0.75-1.6,0.75-0.8,0.75 1.4,0.75 0.5,0.75-2.4,0.75 1.8,0.75-2.4,0.75 0.2,0.75 0.6,0.75-0.5,0.75 1.1,0.75-2.4,0.75-0.9,0.75 1.6,0.75 0.2,0.75 1.5,0.75 0.4,0.75-1.4,0.75-1.5,0.75 1.2,0.75 0.9,0.75-1.2,0.75 1.8,0.75 0.1,0.75 0.8,0.75 0.6,0.75-2,0.75 1.8,0.75-1,0.75-1.8,0.75 1.6,0.75-0.1,0.75 0.6,0.75-0.3,0.75-0.4,0.75-1,0.75 1,0.75 0,0.75 0.2,0.75 1.7,0.75-2.4,0.75 1.6,0.75-0.8,0.75-1.6,0.75 0.4,0.75-0.3,0.75-0.2,0.75-1.3,0.75 1.7,0.75 1.9,0.75-0.7,0.75-2.4,0.75-0.2,0.75-0.5,0.75 0.9,0.75 0.9,0.75-1.3,0.75 0.9,0.75 1.1,0.75-0.3,0.75 0.5,0.75-1.7,0.75 0.4,0.75 2.5,0.75 2.2,0.75 0,0.75-1.1,0.75-1.2,0.75 0.2,0.75 0.3,0.75-0.2,0.75-1.3,0.75-3.2,0.75 1.8,0.75 1.7,0.75 0.1,0.75 0.7,0.75-0.4,0.75-1.5,0.75-0.1,0.75 1.4,0.75 1.2,0.75-1.8,0.75-1.4,0.75-0.3,0.75 1,0.75-1.9,0.75 3.2,0.75-2.7,0.75 2.1,0.75-2.8,0.75 1.6,0.75-0.6,0.75-1.1,0.75 1.6,0.75 0.3,0.75-1.1,0.75-1.9,0.75 1.1,0.75 2.9,0.75-0.1,0.75 0.4,0.75 1.1,0.75 0,0.75 0,0.75-1.6,0.75 2.3,0.75-3.2,0.75-0.1,0.75 0.7,0.75-0.3,0.75 2.7,0.75-1.6,0.75-1.5,0.75 0.5,0.75 1.2,0.75-1,0.75 0.8,0.75-2.9,0.75 0.6,0.75 0.6,0.75 0.3,0.75-1.6,0.75 0.5,0.75-2,0.75 1.1,0.75 3,0.75-2.1,0.75 2,0.75-1.6,0.75 2,0.75-3.8,0.75 1.4,0.75 2,0.75 0.2,0.75-2.1,0.75 0.1,0.75 1.3,0.75-4.8,0.75 2.9,0.75 1.2,0.75-0.9,0.75-1.9,0.75-0.7,0.75 2.4,0.75-1.5,0.75 3,0.75 0.6,0.75-2.7,0.75 4,0.75 0.2,0.75-3.7,0.75 1.4,0.75-1.1,0.75-0.8,0.75 5.8,0.75-2.1,0.75 0.4,0.75-2.4,0.75 2.1,0.75 1.2,0.75-0.3,0.75-0.8,0.75 0.8,0.75 1.9,0.75 0,0.75 0.8,0.75-5.5,0.75-1.1,0.75-2.7,0.75 2.5,0.75-1.1,0.75-1.1,0.75 1.7,0.75 3.2,0.75 3,0.75-1.9,0.75 2.1,0.75 0.2,0.75 0.7,0.75-7.3,0.75-2.8,0.75 4.2,0.75-3.4,0.75 2.2,0.75-0.1,0.75 1.6,0.75 1.2,0.75-2.2,0.75-5,0.75 3,0.75-3.2,0.75 1.2,0.75 3,0.75 4.2,0.75-4.8,0.75 1.7,0.75 5.2,0.75-0.8,0.75-0.9,0.75 1.5,0.75-0.6,0.75-3.3,0.75-0.4,0.75 2.6,0.75 0.8,0.75-1.7,0.75-1.3,0.75 3.4,0.75-4.1,0.75-0.9,0.75-0.5,0.75 3.9,0.75-3.4,0.75 2,0.75-6.8,0.75 3.7,0.75-2.4,0.75-0.8,0.75 2.7,0.75 2.2,0.75-0.6,0.75 3,0.75-1.6,0.75-0.2,0.75-2.3,0.75 1.2,0.75 4.1,0.75-0.4,0.75-1.5,0.75-2.8,0.75-2.8,0.75 4.6,0.75-0.4,0.75-2.4,0.75 2.1,0.75-1.1,0.75 1.1,0.75-1.8,0.75-2.4,0.75 1.1,0.75-0.8,0.75 0.9,0.75 1,0.75 0.8,0.75 2.3,0.75-2.2,0.75 0,0.75-2,0.75 0.4,0.75 7.9,0.75-1.6,0.75-2.9,0.75 3.4,0.75-6.2,0.75 3.3,0.75 3.2,0.75-7.2,0.75 7.8,0.75-1.3,0.75-7.2,0.75 10.7,0.75-3.3,0.75 2.4,0.75-1.1,0.75-6.1,0.75 5.3,0.75-0.2,0.75-2.9,0.75 1.1,0.75-3.9,0.75 0.7,0.75 3.8,0.75 2,0.75-11.8,0.75-0.7,0.75 7.2,0.75 1.3,0.75 4.3,0.75-6,0.75 1.7,0.75-8.6,0.75 5.9,0.75-0.7,0.75-5.9,0.75 1,0.75 6.3,0.75-2.5,0.75-6.3,0.75 5.8,0.75 10.5,0.75 0.6,0.75-5,0.75 6,0.75-4,0.75 2.4,0.75-9,0.75 2.7,0.75 6.2,0.75-5,0.75-1.2,0.75-7.8,0.75 7.2,0.75 1.8,0.75 3.3,0.75 9.5,0.75-3.8,0.75-10.9,0.75 7.3,0.75-6,0.75 4.6,0.75-1.4,0.75-2.1,0.75-2.2,0.75 5.5,0.75 3.7,0.75-3.4,0.75-4.2,0.75-2.2,0.75-2.2,0.75 12.9,0.75-16.9,0.75-9.9,0.75 3.7,0.75 5.1,0.75 4.3,0.75 1.4,0.75-11,0.75 9.8,0.75-10.3,0.75 10.1,0.75 0,0.75-2,0.75-2.9,0.75-4.5,0.75 15.8,0.75-2.7,0.75-3.8,0.75 6.2,0.75-4.5,0.75 2.7,0.75 2.4,0.75-3.2,0.75 2.2,0.75 0.2,0.75-4.1,0.75-2.1,0.75 1.7,0.75-1.4,0.75 4.9,0.75 3.7,0.75-6.2,0.75 3.7,0.75 1.3,0.75-6.9,0.75 4.7,0.75-3.2,0.75 4.3,0.75 4.2,0.75-6,0.75-0.3,0.75 1.8,0.75-6.6,0.75 10.4,0.75 3.4,0.75-10.7,0.75 3.9,0.75-2.9,0.75-10.3,0.75-2.3,0.75 15,0.75 3.9,0.75-5.4,0.75 1.8,0.75 2,0.75 5.9,0.75-13.6,0.75 2.5,0.75 1,0.75 5.4,0.75-14.1,0.75 7.9,0.75 4.1,0.75-11.6,0.75 5,0.75-1.9,0.75-1.9,0.75 0.7,0.75 6.1,0.75 5.9,0.75-6.3,0.75-1.9,0.75-5,0.75 4.4,0.75-0.3,0.75 4.4,0.75-12.4,0.75 13.4,0.75-2.8,0.75-10.8,0.75 3.9,0.75-1.7,0.75 6.7,0.75-4,0.75 1.7,0.75 2.7,0.75 0.6,0.75 4.6,0.75-3,0.75-8,0.75 13.9,0.75 0.6,0.75 1.1,0.75-7.8,0.75 1.3,0.75 1.1,0.75 2.3,0.75-0.9,0.75 0.9,0.75-4.3,0.75 4.2,0.75 3,0.75-3.4,0.75-1.4,0.75 4.2,0.75-3.6,0.75 1.6,0.75 0.3,0.75 1.8,0.75 2.4,0.75-1.6,0.75-7,0.75-3.6,0.75 3.8,0.75-2.4,0.75 1.1,0.75-4.4,0.75 8.6,0.75-3.1,0.75-0.8,0.75-1.1,0.75 3,0.75-5.1,0.75 5.5,0.75-2.5,0.75 5.5,0.75 0.5,0.75-5.6,0.75-0.9,0.75 2,0.75 3,0.75-1.6,0.75 0.9,0.75-4.3,0.75-4.9,0.75 9.3,0.75-4.8,0.75-1.5,0.75 12.2,0.75-6,0.75-3.9,0.75 5.3,0.75-4.3,0.75 4.9,0.75-3.6,0.75-5.6,0.75 1.3,0.75-2.3,0.75 6.1,0.75-5.9,0.75 0.7,0.75 4.4,0.75 1.7,0.75-5.1,0.75 3.2,0.75 1.9,0.75 0.7,0.75-0.4,0.75-3.4,0.75 3.4,0.75 1.5,0.75-1.2,0.75-2.6,0.75 1.6,0.75-0.3,0.75 3.1,0.75-2.5,0.75 6.7,0.75-0.9,0.75-2,0.75-3.3,0.75 0.2,0.75-0.9,0.75 7.6,0.75-11.1,0.75 8,0.75 0.6,0.75-2.5,0.75-0.2,0.75 0.5,0.75 0.9,0.75-2.2,0.75 0.3,0.75 3,0.75-4.4,0.75 3.7,0.75-3.6,0.75-4,0.75 4.6,0.75-1.7,0.75-1.7,0.75 2.6,0.75-0.7,0.75-0.2,0.75-0.6,0.75-6.6,0.75 3.7,0.75-3.9,0.75 4.9,0.75-1.5,0.75 4.9,0.75 0.6,0.75-2.1,0.75 5,0.75-4.9,0.75 4.6,0.75-2.6,0.75-1.7,0.75-3.5,0.75 6,0.75-8.3,0.75 0.8,0.75 1.4,0.75 2.2,0.75 5.5,0.75-3.9,0.75-4.5,0.75 4.2,0.75 3,0.75 2.6,0.75 1.9,0.75-4.6,0.75 4.7,0.75-5.6,0.75-0.9,0.75 0.1,0.75-0.9,0.75 2.9,0.75-3.1,0.75-1.9,0.75-6.6,0.75 5,0.75 1.8,0.75 3.6,0.75-2.7,0.75 0.6,0.75 0.6,0.75 0.4,0.75 2.6,0.75 1,0.75-0.5,0.75 3,0.75 1.6,0.75-9.1,0.75-4.3,0.75 1.6,0.75 2.1,0.75 5,0.75-3.3,0.75 3.9,0.75 2.6,0.75-4.4,0.75-0.5,0.75 8.8,0.75-12.7,0.75 2.6,0.75-0.4,0.75-4,0.75 7.5,0.75-3,0.75-2.2,0.75-0.8,0.75 3.6,0.75-0.9,0.75 3.2,0.75-4.4,0.75 1,0.75 1.9,0.75 0.3,0.75 0.1,0.75 0.2,0.75-0.4,0.75-0.6,0.75-0.2,0.75 0.2,0.75 0.1,0.75 0.1,0.75-0.2,0.75-0.7,0.75-0.5,0.75 0.3,0.75 0.4,0.75-0.2,0.75 0.2,0.75 0.5,0.75 0.2,0.75-0.5,0.75-0.1,0.75 0.2,0.75 0.3,0.75 0,0.75-0.5,0.75-0.5,0.75-0.8,0.75-0.4,0.75-0.9,0.75-0.7,0.75 0.1,0.75 0.4,0.75-0.2,0.75 0.5,0.75-0.3,0.75 0.5,0.75 1.1,0.75 0.6,0.75 0,0.75 0.6,0.75 0.3,0.75-0.1,0.75-0.4,0.75 0.5,0.75-0.6,0.75-0.5,0.75-0.4,0.75-0.8,0.75-0.4,0.75-0.1,0.75-1,0.75-0.8,0.75-0.3,0.75-0.7,0.75-0.4,0.75-0.3,0.75 0.8,0.75 0.8,0.75-0.4,0.75-0.1,0.75 0.5,0.75 0.7,0.75 0.3,0.75 0.8,0.75-0.3,0.75-0.2,0.75 0,0.75 0.1,0.75 0,0.75 0.4,0.75 0.2,0.75 0.7,0.75-0.2,0.75-0.3,0.75 0,0.75-0.3,0.75-0.2,0.75 0.1,0.75 0,0.75 0,0.75 0,0.75 0.5,0.75 0.2,0.75 0,0.75-0.2,0.75 0.2,0.75 0.5,0.75 0.9,0.75 0.7,0.75-0.2,0.75 0.6,0.75-0.2,0.75 0.2,0.75-0.5,0.75-0.7,0.75-0.4,0.75 0.2,0.75-0.3,0.75-0.4,0.75-0.2,0.75-0.4,0.75 0.3,0.75 0.4,0.75 0,0.75 0.2,0.75-0.4,0.75-0.6,0.75-0.1,0.75-0.1,0.75-0.1,0.75-0.5,0.75 0.1,0.75 0.1,0.75 0.8,0.75-0.1,0.75 0,0.75 0.7,0.75-0.1,0.75-0.6,0.75 1,0.75 0.7,0.75 0.8,0.75-0.1,0.75 0,0.75 0,0.75 0.2,0.75 0.8,0.75-0.2,0.75-0.8,0.75 0.1,0.75 0.1,0.75 0.2,0.75-0.7,0.75 0.1,0.75 0.7,0.75-0.7,0.75-0.4,0.75-0.4,0.75-0.2,0.75 0.2,0.75 0.2,0.75-0.5,0.75 0.1,0.75 0.2,0.75-0.3,0.75 0.1,0.75 0.4,0.75 0.2,0.75 0.3,0.75 0.4,0.75 0.8,0.75-0.4,0.75-0.3,0.75 0.3,0.75 0,0.75-0.1,0.75-0.2,0.75 0,0.75-0.1,0.75-0.8,0.75-0.6,0.75 0.2,0.75 0.6,0.75-0.6,0.75-0.3,0.75 0.1,0.75 0,0.75-0.5,0.75-0.3,0.75-0.1,0.75 0.5,0.75 0.1,0.75-0.8,0.75-0.4,0.75 0.4,0.75 0.3,0.75 0,0.75-0.2,0.75 0.8,0.75 0.6,0.75 0.3,0.75-0.9,0.75-1.2,0.75-0.9,0.75-0.4,0.75-0.2,0.75-0.7,0.75-0.5,0.75 0.3,0.75 0.2,0.75 0.2,0.75-0.3,0.75-0.5,0.75 0,0.75-0.1,0.75-0.5,0.75 0.1,0.75 0.2,0.75 0.2,0.75" stroke="#000" stroke-width="0.45"/>
<polygon points="229.5,62 229.6,66 229.9,71 230.1,76 230.4,80 230.5,84 230.6,89 230.6,94 230.5,98 230.4,102 230.3,107 230.4,112 230.5,116 230.6,120 230.6,125 230.5,130 230.1,134 229.7,138 229.4,143 229.2,148 229.2,152 229.1,156 229.1,161 229.0,166 229.0,170 228.9,174 228.8,179 228.7,184 228.7,188 228.7,192 228.8,197 229.0,202 229.3,206 229.6,210 229.8,215 229.6,220 229.0,224 228.1,228 227.5,233 227.2,238 227.0,242 226.7,246 226.1,251 224.7,256 223.1,260 221.4,264 219.9,269 218.8,274 218.5,278 219.6,282 221.5,287 223.1,292 223.7,296 223.3,300 222.3,305 221.4,310 220.8,314 220.6,318 220.7,323 221.2,328 222.1,332 223.0,336 223.2,341 222.7,346 221.8,350 221.5,354 222.2,359 223.5,364 224.7,368 225.4,372 225.6,377 225.6,382 226.1,386 226.9,390 226.9,395 226.7,400 226.2,404 225.7,408 225.6,413 226.2,418 227.3,422 228.3,426 228.7,431 228.6,436 227.9,440 227.1,444 226.5,449 226.2,454 226.2,458 226.4,462 226.6,467 226.8,472 226.9,476 227.0,480 227.0,485 226.9,490 226.8,494 226.7,498 226.7,503 226.8,508 227.8,512 231.3,516 231.3,521 231.5,526 231.7,530 231.9,534 231.8,539 231.4,544 231.0,548 230.7,552 230.6,557 230.6,562 230.6,566 230.6,570 230.5,575 230.4,580 230.4,584 230.4,588 230.6,593 230.8,598 230.9,602 230.9,606 230.8,611 230.9,616 231.1,620 231.5,624 231.8,629 232.0,634 232.0,638 231.9,642 231.7,647 231.4,652 231.2,656 231.2,660 231.3,664 231.3,664 231.2,660 231.2,656 231.4,652 231.7,647 231.9,642 232.0,638 232.0,634 231.8,629 231.5,624 231.1,620 230.9,616 230.8,611 230.9,606 230.9,602 230.8,598 230.6,593 230.4,588 230.4,584 230.4,580 230.5,575 230.6,570 230.6,566 230.6,562 230.6,557 230.7,552 231.0,548 231.4,544 231.8,539 231.9,534 231.7,530 231.5,526 231.3,521 231.3,516 234.9,512 235.8,508 235.7,503 235.7,498 235.8,494 235.9,490 236.0,485 236.0,480 235.9,476 235.8,472 235.6,467 235.4,462 235.2,458 235.2,454 235.5,449 236.1,444 236.9,440 237.6,436 237.7,431 237.3,426 236.3,422 235.2,418 234.6,413 234.7,408 235.2,404 235.7,400 235.9,395 235.9,390 236.9,386 238.5,382 240.4,377 242.2,372 242.7,368 241.5,364 240.2,359 239.5,354 239.8,350 240.7,346 241.2,341 241.0,336 240.1,332 239.2,328 238.7,323 238.6,318 238.8,314 239.4,310 240.3,305 241.3,300 241.7,296 241.1,292 239.5,287 237.6,282 235.9,278 234.9,274 234.6,269 234.8,264 235.1,260 235.2,256 235.1,251 235.2,246 235.1,242 235.1,238 235.1,233 235.5,228 236.0,224 236.4,220 236.4,215 235.9,210 235.3,206 234.7,202 234.3,197 234.1,192 233.9,188 233.8,184 233.7,179 233.6,174 233.5,170 233.4,166 233.3,161 233.2,156 233.1,152 233.0,148 233.1,143 233.4,138 233.7,134 234.0,130 234.1,125 234.1,120 233.9,116 233.7,112 233.6,107 233.6,102 233.6,98 233.6,94 233.6,89 233.5,84 233.3,80 233.0,76 232.7,71 232.4,66 232.2,62" fill="#000" fill-opacity="0.12" stroke="none"/>
<path d="M230.2,62l-1.3,0.75 1.2,0.75-1.1,0.75 2.2,0.75-1.2,0.75 1.4,0.75-1,0.75-0.2,0.75 0.9,0.75-2.6,0.75 0.8,0.75 2,0.75 2.4,0.75-0.2,0.75-0.8,0.75 1.2,0.75 0.5,0.75-1.6,0.75-3.1,0.75 1.7,0.75-0.5,0.75 0.6,0.75 2.9,0.75-0.4,0.75-1.6,0.75 1.4,0.75-0.6,0.75-1.1,0.75-1.7,0.75 0,0.75 0.9,0.75 2.6,0.75 1.8,0.75-1.5,0.75-1.2,0.75 0.3,0.75-0.2,0.75-1.7,0.75-0.6,0.75-0.6,0.75 1.1,0.75 0.3,0.75-1.5,0.75 2.4,0.75 1.1,0.75-1.6,0.75-0.7,0.75 0,0.75 0.4,0.75 0.8,0.75 0.1,0.75-2,0.75-1.2,0.75 3,0.75 0.2,0.75 1.3,0.75-0.3,0.75 0.7,0.75-2,0.75 1,0.75-1.9,0.75 1.7,0.75 3.5,0.75-2.3,0.75-0.3,0.75 0.2,0.75-0.5,0.75-0.6,0.75 0.5,0.75 0.6,0.75 0.9,0.75-3.9,0.75 0.2,0.75 2.1,0.75-1.6,0.75 1.8,0.75 0.2,0.75 0.3,0.75 1.7,0.75-1.4,0.75-0.9,0.75-2.3,0.75 1,0.75-0.7,0.75 1.3,0.75 2.8,0.75-2.2,0.75 0.1,0.75-0.1,0.75-1.9,0.75 2,0.75-1.5,0.75 1.1,0.75-0.7,0.75-1.3,0.75-0.6,0.75 1.5,0.75-0.2,0.75-0.9,0.75-0.6,0.75 3.1,0.75-1.4,0.75-1,0.75 3.9,0.75-0.5,0.75-2,0.75-2,0.75 1,0.75-1.1,0.75 1.8,0.75-1,0.75 0.1,0.75 1.2,0.75 0.1,0.75 2.1,0.75-2.7,0.75 0.2,0.75 0.8,0.75-1.2,0.75 1.5,0.75-1.3,0.75-0.2,0.75-0.1,0.75 1.6,0.75-2.8,0.75 1.7,0.75-2.3,0.75 1.3,0.75-2.3,0.75-0.1,0.75 1.7,0.75-1.4,0.75 2.2,0.75 0.3,0.75 2.6,0.75-4.5,0.75 2.3,0.75 1,0.75 2.2,0.75-1.3,0.75-0.8,0.75-1.2,0.75 1.3,0.75-0.5,0.75-2.3,0.75 1.9,0.75-2,0.75-1.8,0.75 4.4,0.75 0.4,0.75-4.5,0.75 5.9,0.75-1,0.75-0.6,0.75-0.5,0.75-1.3,0.75-0.4,0.75-1.7,0.75 1,0.75 3.6,0.75-1.4,0.75 1.6,0.75-4,0.75 2,0.75-2.7,0.75-1,0.75-1.1,0.75 2.6,0.75-3.3,0.75 0.2,0.75 0.6,0.75 4.4,0.75-1.8,0.75-1.1,0.75 0.1,0.75 2.6,0.75 3.5,0.75-5.9,0.75 4,0.75-0.7,0.75 1.4,0.75-2.3,0.75-0.1,0.75 1.5,0.75 1.2,0.75-0.6,0.75-2.3,0.75 1.3,0.75 3.5,0.75 2,0.75-2.2,0.75 2,0.75-1.9,0.75 1,0.75-3.3,0.75 0.2,0.75-2.6,0.75 2.3,0.75 0.7,0.75-1.6,0.75-0.8,0.75 3.6,0.75 0.5,0.75 0.4,0.75-1.7,0.75 0.2,0.75-4.8,0.75 3.4,0.75-0.8,0.75 2.7,0.75-2.3,0.75-0.5,0.75-1.6,0.75 2.2,0.75 1.3,0.75-0.5,0.75-2.5,0.75 0.5,0.75 0.5,0.75-3.7,0.75 3.8,0.75 2.2,0.75-4.5,0.75 1.7,0.75 1.3,0.75-3.7,0.75 1.3,0.75 1.2,0.75 2.5,0.75-1,0.75 2.2,0.75-2.2,0.75 0.4,0.75-0.3,0.75-2.1,0.75 1.1,0.75-0.1,0.75 2,0.75-2.8,0.75 1.4,0.75-2.2,0.75 5.4,0.75-2.7,0.75-6.4,0.75 6.4,0.75-5.8,0.75-0.1,0.75-0.9,0.75-0.6,0.75 2,0.75 2.8,0.75-4.3,0.75 4,0.75-8.1,0.75 6.5,0.75-3.1,0.75-3.1,0.75 5,0.75 0.8,0.75 0.1,0.75-2.8,0.75 5.9,0.75-9.3,0.75-0.9,0.75 8,0.75-2.7,0.75-4.1,0.75 1.2,0.75 10.8,0.75-0.8,0.75 2.9,0.75-7.4,0.75 5.7,0.75-4.9,0.75-1.8,0.75 0.1,0.75-3.9,0.75 3.7,0.75 1.3,0.75-10,0.75 7,0.75-2.8,0.75 6.8,0.75-6.8,0.75-3.4,0.75 5.8,0.75 1.6,0.75-9,0.75 7.2,0.75-3.6,0.75 3.4,0.75-4,0.75-1.2,0.75 0.8,0.75 1.6,0.75 2.6,0.75-0.5,0.75 0.1,0.75 0.1,0.75 9.2,0.75-3.3,0.75-11.3,0.75 6.6,0.75 5.6,0.75-3.4,0.75 1.6,0.75-3.6,0.75 11.6,0.75 4.7,0.75-2,0.75 9.2,0.75-3.8,0.75-12.1,0.75 7.9,0.75-12.4,0.75 8.7,0.75 9.7,0.75-8,0.75-7,0.75 0.2,0.75-1,0.75 0,0.75-0.9,0.75 8.9,0.75 3.2,0.75-9.4,0.75 8.3,0.75 2.7,0.75-13.7,0.75 3.3,0.75-2.3,0.75 0.2,0.75 1.4,0.75 1.1,0.75 2.7,0.75-7.7,0.75-3.3,0.75-10.5,0.75 9.1,0.75 0.7,0.75-10.3,0.75 3,0.75 12,0.75 3.1,0.75 6.3,0.75-14.6,0.75 12.1,0.75-4.9,0.75-4.3,0.75-1.3,0.75 6.7,0.75-4.4,0.75 1.5,0.75 0.2,0.75-1.9,0.75 0.7,0.75-1.9,0.75-4,0.75-2.8,0.75 0.3,0.75 3.2,0.75 4.6,0.75-1.7,0.75 3.1,0.75 8,0.75-2.4,0.75 0.7,0.75 2.3,0.75 5.3,0.75-11.8,0.75-0.3,0.75 8.7,0.75-1.1,0.75-1.6,0.75-1.3,0.75 0.4,0.75-8.3,0.75-0.5,0.75 2.4,0.75-3.7,0.75-0.1,0.75 4.6,0.75-7.9,0.75 4.9,0.75-13.1,0.75 3.2,0.75 4.5,0.75-1.7,0.75 13.7,0.75-1.4,0.75 5.2,0.75 1.2,0.75 1,0.75 1.6,0.75-7.9,0.75 7,0.75-16.1,0.75 7.5,0.75-1.9,0.75-0.2,0.75 4.6,0.75-0.7,0.75-7.1,0.75 7.4,0.75-5.6,0.75 6.7,0.75-3,0.75 0.3,0.75 4.4,0.75-6,0.75 0,0.75 1.3,0.75-8.9,0.75 11.6,0.75-4.6,0.75-3.2,0.75 4.7,0.75-2,0.75 2.6,0.75-2.5,0.75 3.5,0.75-7.5,0.75 2.8,0.75-4.9,0.75 7.3,0.75-0.6,0.75 2.7,0.75 2.1,0.75-5.3,0.75 1.7,0.75-4.8,0.75 1.3,0.75-4.9,0.75-2.8,0.75 4,0.75 3.8,0.75 3.4,0.75 4.3,0.75-6,0.75 1,0.75-2.2,0.75-1,0.75-0.1,0.75-1.1,0.75-2.6,0.75 1.1,0.75 2.5,0.75-1.2,0.75 3.2,0.75 1.1,0.75-1.1,0.75-2.4,0.75 3.7,0.75-2.5,0.75 3.2,0.75-1.3,0.75 0,0.75 3,0.75-2.6,0.75-0.4,0.75 6.6,0.75-6,0.75 0.2,0.75-3.2,0.75-2.6,0.75 0.1,0.75 0.2,0.75-1.3,0.75 3,0.75-1.4,0.75 0.5,0.75 6.8,0.75 0.5,0.75-5.9,0.75 1.8,0.75-3.6,0.75 3.8,0.75 1.2,0.75-2.3,0.75-2.3,0.75 0.6,0.75-2.3,0.75 10.5,0.75-8,0.75 2.6,0.75 2.5,0.75-3.6,0.75-0.2,0.75 6,0.75-5.5,0.75 3.7,0.75-5.8,0.75 5.5,0.75-4.9,0.75 7.7,0.75-4.7,0.75-1.7,0.75-3.4,0.75 6.6,0.75 1.5,0.75-1.4,0.75-0.6,0.75-3.7,0.75-1.8,0.75 7.4,0.75-3.6,0.75 1.8,0.75-1.1,0.75-2.3,0.75 3.6,0.75-5.5,0.75 3.8,0.75-1.5,0.75-4.5,0.75 3.5,0.75-4.2,0.75 3.8,0.75 1.1,0.75 0.9,0.75-0.1,0.75-1.7,0.75-0.4,0.75-2.8,0.75-2,0.75 5.2,0.75-3,0.75 0.6,0.75 3,0.75-4.5,0.75-3,0.75 5.6,0.75-7,0.75-2.1,0.75 12.5,0.75-4.3,0.75 0.3,0.75 5.5,0.75 3.4,0.75-6.1,0.75-2.8,0.75 6.9,0.75-0.8,0.75-4.9,0.75 3,0.75-0.8,0.75 1.3,0.75 0.8,0.75-2,0.75-0.4,0.75-2.4,0.75-0.5,0.75 3.8,0.75 3.5,0.75 0,0.75-3.7,0.75 1.6,0.75-2.8,0.75-1.9,0.75 3.5,0.75 0.6,0.75 2.4,0.75-1.3,0.75-4.1,0.75 3,0.75 0.1,0.75 1,0.75-2.2,0.75 2.6,0.75 1.6,0.75 0.2,0.75-2.8,0.75 1.1,0.75 0.5,0.75-1.2,0.75-3.5,0.75-0.2,0.75-0.2,0.75 3.7,0.75-0.9,0.75-2.9,0.75-1.2,0.75 0.5,0.75 4,0.75-2.3,0.75-4.5,0.75 5.2,0.75-0.8,0.75-0.4,0.75 0.3,0.75-1.8,0.75 6.9,0.75-3.1,0.75 5.2,0.75-0.1,0.75-1.9,0.75-5,0.75-0.6,0.75-0.6,0.75 1.4,0.75 4.6,0.75-5,0.75 2,0.75-0.7,0.75 1.4,0.75 1.1,0.75 1,0.75 0,0.75-0.5,0.75-0.2,0.75 0.1,0.75-0.2,0.75 0,0.75-0.3,0.75-0.6,0.75-0.3,0.75-0.5,0.75-0.4,0.75-0.1,0.75 0,0.75 0.3,0.75 0,0.75-0.3,0.75-0.1,0.75-0.3,0.75 0.3,0.75 0.4,0.75 0.4,0.75 0.2,0.75 0.2,0.75-0.1,0.75 0.5,0.75 0.3,0.75 0.3,0.75 0.7,0.75-0.1,0.75-0.3,0.75-0.6,0.75 0.1,0.75-0.1,0.75 0.1,0.75-0.3,0.75-0.8,0.75-0.6,0.75 0,0.75-0.5,0.75-0.5,0.75-0.1,0.75 0.3,0.75 0.3,0.75 0.1,0.75 0,0.75 0.8,0.75 0.9,0.75 0.2,0.75 0.2,0.75 0.1,0.75 0.2,0.75 0.2,0.75 0,0.75 0.1,0.75 0.1,0.75 0.3,0.75 0.2,0.75-0.1,0.75 0.2,0.75-0.3,0.75-0.7,0.75-0.6,0.75-1,0.75-0.4,0.75 0.8,0.75-0.3,0.75-0.7,0.75-0.8,0.75-0.1,0.75 0.3,0.75-0.2,0.75-0.5,0.75-0.6,0.75-1,0.75-0.4,0.75 0.5,0.75 0.3,0.75-0.1,0.75 0.1,0.75 0.1,0.75 0.3,0.75 0.1,0.75 0.7,0.75-0.2,0.75-0.4,0.75 0,0.75-0.2,0.75 0.1,0.75 0.2,0.75 0.3,0.75 0,0.75 0.3,0.75-0.7,0.75-0.5,0.75 0.2,0.75-0.1,0.75 0.1,0.75 0.5,0.75 0.8,0.75 0.1,0.75 0.4,0.75 1,0.75 0.9,0.75 0.4,0.75 0,0.75 0.2,0.75 0.1,0.75 0.1,0.75 1,0.75 0.1,0.75-0.2,0.75-0.8,0.75-0.2,0.75 0,0.75-0.6,0.75-0.2,0.75 0.2,0.75-1.1,0.75-0.6,0.75 0.2,0.75 0.4,0.75 0.1,0.75 0,0.75 0,0.75-0.3,0.75-0.1,0.75 0.3,0.75 0.5,0.75 0.4,0.75 0.1,0.75 0.3,0.75 0.1,0.75 0.1,0.75 0.6,0.75 0.2,0.75-0.1,0.75-0.1,0.75-0.7,0.75-0.5,0.75-0.2,0.75-0.1,0.75-0.1,0.75 0.4,0.75 0.3,0.75-0.1,0.75 0.3,0.75 0.9,0.75 0.9,0.75-0.1,0.75-0.6,0.75-0.7,0.75-0.1,0.75-0.4,0.75 0.1,0.75-0.3,0.75-0.7,0.75-0.2,0.75 0.1,0.75-0.4,0.75 0.4,0.75-0.3,0.75-0.7,0.75-0.6,0.75-0.5,0.75 0.4,0.75 0.6,0.75 0.2,0.75-0.3,0.75 0,0.75 0.3,0.75-0.6,0.75-0.6,0.75 0.1,0.75 0.9,0.75 0.1,0.75 0.7,0.75 0.2,0.75 0.2,0.75 0.3,0.75 0.3,0.75-0.2,0.75 0.5,0.75-0.3,0.75 0.2,0.75-0.5,0.75-0.3,0.75-0.1,0.75 0.4,0.75-0.1,0.75 0,0.75 0.5,0.75-0.1,0.75 0.2,0.75 0.5,0.75-0.4,0.75-0.8,0.75" stroke="#000" stroke-width="0.45"/>
<path d="M246.4,62l1.7,0.75 0.1,0.75-0.4,0.75-1.9,0.75-0.5,0.75-1.4,0.75-0.4,0.75 1.2,0.75 0.1,0.75 0.8,0.75 1.3,0.75 0.7,0.75 0,0.75-1,0.75 0.3,0.75-0.3,0.75 1.9,0.75 0.1,0.75 0.5,0.75 0.4,0.75-0.9,0.75-1.6,0.75-2.1,0.75-2.2,0.75-0.7,0.75-0.8,0.75 0.6,0.75 0.2,0.75 1.7,0.75 0.8,0.75-0.6,0.75 1.7,0.75-0.7,0.75 1,0.75 0.3,0.75 0.5,0.75-0.7,0.75-0.7,0.75-0.4,0.75 0.1,0.75-1,0.75 0,0.75 0.9,0.75 0.8,0.75-0.5,0.75-0.5,0.75-0.7,0.75 0.8,0.75 0,0.75 0.7,0.75 0.8,0.75 0.5,0.75-0.2,0.75-1.1,0.75-0.1,0.75-0.4,0.75 0,0.75 1.4,0.75 1.8,0.75-1.3,0.75 1.4,0.75-1.5,0.75-1.3,0.75-1,0.75-0.4,0.75-1.2,0.75-1.3,0.75 0,0.75-0.5,0.75 0.4,0.75 2,0.75 2.1,0.75 1,0.75 1,0.75-0.5,0.75 0.4,0.75-2.3,0.75 0.5,0.75-1.4,0.75-0.4,0.75-0.2,0.75 0.1,0.75 2.3,0.75 1.6,0.75 0.9,0.75-0.2,0.75 0.5,0.75-0.9,0.75-0.1,0.75-1.3,0.75 0.6,0.75 0,0.75 0.8,0.75-2.3,0.75-1.1,0.75 0.1,0.75-0.1,0.75-1,0.75 0.4,0.75 0.2,0.75 0.3,0.75-0.4,0.75 0.9,0.75 0.4,0.75 0.8,0.75-0.7,0.75 0.6,0.75-0.2,0.75 0.6,0.75 1.3,0.75 0.6,0.75-0.2,0.75-0.2,0.75 0.2,0.75 0.6,0.75-1.4,0.75-1,0.75-0.9,0.75-2.1,0.75-0.3,0.75 0.6,0.75-0.1,0.75-0.4,0.75 0.3,0.75 0.1,0.75-0.4,0.75 0.4,0.75-0.3,0.75 0.7,0.75 0.6,0.75 0.5,0.75-1.3,0.75-1.2,0.75 2.2,0.75-0.9,0.75 0.9,0.75-0.2,0.75-1,0.75 1.9,0.75 0,0.75-0.1,0.75-0.3,0.75 0.6,0.75-0.6,0.75-1.5,0.75 0.3,0.75-0.6,0.75 0.7,0.75 0.1,0.75-0.2,0.75-0.2,0.75 0.2,0.75 0,0.75 0.3,0.75 0.5,0.75-0.2,0.75 1.2,0.75-0.2,0.75 0.9,0.75 1.2,0.75-0.6,0.75-1,0.75-1.2,0.75 0,0.75 0.2,0.75-0.9,0.75 0.7,0.75-0.8,0.75-0.8,0.75 0.7,0.75 1,0.75-0.1,0.75 0.9,0.75 0.7,0.75-1,0.75-0.7,0.75-0.1,0.75 0.6,0.75-0.6,0.75 1.7,0.75 0.1,0.75-1.1,0.75 0.1,0.75-1.3,0.75-1.1,0.75-0.3,0.75-0.9,0.75 0.3,0.75 0,0.75 0.1,0.75 0.4,0.75-0.8,0.75 0.8,0.75 0.6,0.75 2.2,0.75 0.4,0.75 0.3,0.75 1.3,0.75 0.8,0.75-1.7,0.75 0.1,0.75-0.4,0.75-1.5,0.75-0.6,0.75-0.9,0.75 0.1,0.75-0.5,0.75-0.3,0.75 0.9,0.75-0.1,0.75 0.2,0.75-0.6,0.75 0.7,0.75 0.7,0.75 0,0.75-1.3,0.75 0.2,0.75 2.2,0.75-0.4,0.75 0.7,0.75-2.2,0.75-0.8,0.75-1.7,0.75-0.1,0.75 0.1,0.75 2.1,0.75 0.3,0.75 1.7,0.75 0.3,0.75-0.1,0.75 0.2,0.75-0.9,0.75-0.8,0.75 0.6,0.75-0.5,0.75 0.8,0.75 0.8,0.75 1.3,0.75-0.9,0.75 0,0.75 0.6,0.75-0.4,0.75-1.1,0.75 0.1,0.75-1.6,0.75 1.5,0.75 0.4,0.75-0.1,0.75 1.5,0.75-0.6,0.75 0.1,0.75-1.7,0.75 1.1,0.75-0.8,0.75 1.6,0.75-0.7,0.75 1.3,0.75 0.9,0.75 2,0.75 0.3,0.75-2.3,0.75 4.1,0.75 0.8,0.75-3.2,0.75-1.5,0.75-1.1,0.75-8.3,0.75 1.7,0.75-1.3,0.75 4.7,0.75 6.9,0.75-2.5,0.75 1,0.75 6.8,0.75-3.2,0.75-3.5,0.75 0.5,0.75-7.1,0.75-6.9,0.75-0.9,0.75 6.3,0.75 0.4,0.75 0.5,0.75 8.1,0.75-11.4,0.75 5.2,0.75-4.4,0.75 1.5,0.75 11.2,0.75-10.6,0.75 3.6,0.75-6.3,0.75 2.1,0.75 1.3,0.75 1.7,0.75-2.3,0.75 6.7,0.75-5.3,0.75 15.2,0.75-4.4,0.75-4.9,0.75 0.5,0.75-8,0.75-3.3,0.75-1.6,0.75-0.7,0.75 8,0.75-16,0.75 15.5,0.75-3.4,0.75 8.5,0.75-6.4,0.75-2.1,0.75 5.6,0.75 3.2,0.75 2,0.75 2,0.75 2.2,0.75-4.8,0.75-7.1,0.75 12.8,0.75 0.7,0.75-6.7,0.75 6.8,0.75-1.4,0.75-7.6,0.75-10.3,0.75 12,0.75 5.2,0.75-8,0.75 3.9,0.75-4.8,0.75-1.7,0.75-5.3,0.75 6.7,0.75 0.9,0.75-5.8,0.75 8.1,0.75 8.5,0.75-14.3,0.75 19,0.75-17.3,0.75 8.3,0.75 10.6,0.75-10.5,0.75 1.2,0.75-1.1,0.75-5,0.75-3.1,0.75 7.2,0.75 8.9,0.75-9.1,0.75-1.3,0.75 2.2,0.75-3.1,0.75-2.4,0.75 5.4,0.75-2.4,0.75-11.9,0.75 17.7,0.75-13.7,0.75 7.2,0.75 1.1,0.75-7.6,0.75-0.1,0.75 1.4,0.75 7.4,0.75 0.3,0.75-5.4,0.75 0.7,0.75 6.6,0.75-9.6,0.75-1.2,0.75 14.1,0.75-8.7,0.75 0.3,0.75-8.1,0.75 3.2,0.75 6.5,0.75-10.9,0.75-5.9,0.75 11.9,0.75-6.4,0.75 5.2,0.75 5.4,0.75-2.1,0.75 5,0.75-8.7,0.75 4.8,0.75-10.1,0.75 7,0.75 2.7,0.75 9.5,0.75-13,0.75 9.9,0.75-8.7,0.75-2.4,0.75-2.2,0.75 8.2,0.75-0.1,0.75-0.1,0.75-0.9,0.75-5.4,0.75 3.3,0.75 7.2,0.75 2.2,0.75-8,0.75-1.2,0.75-2.7,0.75 0.8,0.75-4,0.75-1.2,0.75 3.9,0.75 2.7,0.75-3,0.75 0.4,0.75 0.8,0.75 0.3,0.75 1.6,0.75-0.1,0.75 0.7,0.75-2,0.75-0.1,0.75 0.7,0.75 1.2,0.75 0.8,0.75-0.5,0.75-0.5,0.75 1,0.75-0.4,0.75-1.3,0.75 1.2,0.75-0.7,0.75 0.3,0.75-0.5,0.75 0.7,0.75-1,0.75 0.8,0.75-0.4,0.75 0.6,0.75-1.7,0.75 1,0.75-0.3,0.75 0.9,0.75-0.8,0.75-0.2,0.75 0.4,0.75-2,0.75 1.2,0.75-0.4,0.75-0.5,0.75-0.2,0.75-0.3,0.75 0.6,0.75 0.1,0.75 1.4,0.75-1,0.75 0.1,0.75-0.6,0.75-1.9,0.75 0.1,0.75 0.5,0.75-0.6,0.75 2.2,0.75 0.2,0.75 0.7,0.75 2.1,0.75 0.5,0.75-1,0.75-0.5,0.75-0.5,0.75-1.3,0.75-0.6,0.75 0.1,0.75 0.7,0.75-0.5,0.75-0.5,0.75-1.9,0.75-0.2,0.75 0.7,0.75 0.1,0.75 0.6,0.75 0.9,0.75 0.3,0.75-1.4,0.75-0.6,0.75-0.3,0.75 1.3,0.75 0.8,0.75 0.5,0.75-0.5,0.75-0.2,0.75 0.4,0.75-0.8,0.75-0.3,0.75-0.4,0.75 1.6,0.75 1,0.75 1,0.75-0.9,0.75-0.9,0.75-0.6,0.75 0.9,0.75 1,0.75-0.4,0.75 0,0.75-0.3,0.75-1.1,0.75-0.3,0.75-1,0.75 0.5,0.75 0.1,0.75-0.3,0.75 0.2,0.75-1.9,0.75 0.8,0.75-1.5,0.75 2.1,0.75 1.3,0.75 1.8,0.75 1.3,0.75-1,0.75 0.5,0.75-0.1,0.75 0.2,0.75 0.8,0.75-3,0.75-0.4,0.75-1.4,0.75 0.2,0.75 1,0.75-0.5,0.75 0.4,0.75 0.3,0.75-1.2,0.75-0.4,0.75-1.3,0.75 1,0.75-0.4,0.75 0.2,0.75-0.9,0.75 0.3,0.75 0,0.75 2,0.75 2.3,0.75 0,0.75-0.3,0.75-1,0.75 0.3,0.75 0.5,0.75-0.1,0.75-0.6,0.75 0.8,0.75-1,0.75 0.6,0.75 1.2,0.75-0.6,0.75-1.1,0.75 1.7,0.75-0.8,0.75 0.9,0.75-0.6,0.75-0.8,0.75-0.7,0.75-1.2,0.75-1.6,0.75 2.1,0.75-0.7,0.75 1.9,0.75 0.8,0.75-0.5,0.75 0.1,0.75 0,0.75 1.1,0.75 1,0.75 0,0.75-1.2,0.75-1.4,0.75-0.2,0.75-1.1,0.75 0.3,0.75 0.9,0.75 0.3,0.75 0.5,0.75-1.1,0.75-0.2,0.75 0.4,0.75-0.1,0.75 2.2,0.75-0.8,0.75 0.6,0.75-1.4,0.75 1,0.75-2.1,0.75 0.9,0.75 0.9,0.75 0,0.75-1.9,0.75 0.9,0.75-0.1,0.75-1,0.75 0.8,0.75 0.4,0.75 0.5,0.75 1.4,0.75 0,0.75-0.8,0.75 0.1,0.75 0.5,0.75 0.4,0.75 0.1,0.75 0,0.75-0.2,0.75-0.3,0.75 0.2,0.75 0.3,0.75 0,0.75-0.5,0.75-0.9,0.75-0.6,0.75 0,0.75-0.7,0.75 0,0.75 0,0.75-0.1,0.75 0.2,0.75 0.1,0.75-0.3,0.75-0.6,0.75 0,0.75 0.3,0.75 0.5,0.75-0.1,0.75-0.2,0.75 0.5,0.75 0.7,0.75 0.3,0.75-0.1,0.75 0.4,0.75 0.5,0.75 0.1,0.75-0.2,0.75 0.2,0.75 0.7,0.75 0.1,0.75 0,0.75-0.4,0.75-0.3,0.75-0.4,0.75-0.4,0.75-0.5,0.75-0.1,0.75 0.2,0.75-0.5,0.75-0.5,0.75 0,0.75-0.3,0.75-0.4,0.75-0.2,0.75 0.1,0.75-0.2,0.75 0,0.75 0.4,0.75 0,0.75 0.8,0.75 0,0.75-0.3,0.75 0.3,0.75-0.1,0.75-0.2,0.75-0.5,0.75 0.1,0.75-0.3,0.75 0.3,0.75 0.1,0.75-0.1,0.75 0.5,0.75 0.9,0.75 1.5,0.75 0.5,0.75-0.6,0.75-0.3,0.75-1,0.75-0.5,0.75 0.4,0.75 0.2,0.75-0.2,0.75-1,0.75-1,0.75-0.3,0.75-0.9,0.75-0.7,0.75-0.5,0.75 0.1,0.75 0.7,0.75 0.5,0.75 0.3,0.75 0,0.75 0.2,0.75 0.6,0.75 0.3,0.75 0.4,0.75 0.5,0.75-0.7,0.75-0.1,0.75-0.4,0.75 0,0.75 0,0.75-0.1,0.75-0.2,0.75 0.5,0.75 0.3,0.75 0.1,0.75-0.8,0.75 0.4,0.75 0.5,0.75 0.5,0.75 0.3,0.75 0.4,0.75-0.1,0.75 0.9,0.75 0.7,0.75 0.1,0.75 0,0.75 0.2,0.75 0.2,0.75-0.4,0.75-0.2,0.75 0.3,0.75 0.2,0.75-0.4,0.75-0.1,0.75-0.1,0.75-1.1,0.75-1.2,0.75 0,0.75 0,0.75-0.6,0.75-0.3,0.75-0.3,0.75 0.4,0.75 0.6,0.75 0.3,0.75 0.3,0.75 1.1,0.75 0.5,0.75 0.3,0.75 0,0.75 0.2,0.75 0.2,0.75 0.4,0.75-0.3,0.75-0.3,0.75-0.3,0.75-0.7,0.75-0.8,0.75-0.3,0.75 0.8,0.75-0.3,0.75-0.3,0.75-0.6,0.75 0.2,0.75-0.5,0.75 0.3,0.75 0.6,0.75-0.6,0.75-0.4,0.75 0.3,0.75 0.4,0.75 0,0.75-0.5,0.75-0.3,0.75 0.7,0.75-0.2,0.75 0.3,0.75-0.1,0.75-0.8,0.75 0.7,0.75 1,0.75 0.5,0.75 0.7,0.75 0.3,0.75 0.5,0.75-0.3,0.75-0.4,0.75-0.2,0.75 0,0.75 0.3,0.75 0.3,0.75-0.2,0.75-0.2,0.75-0.8,0.75 0,0.75-0.2,0.75-0.1,0.75-0.1,0.75-0.4,0.75-0.1,0.75-0.5,0.75 0.3,0.75 0.1,0.75-0.6,0.75" stroke="#000" stroke-width="0.45"/>
<path d="M253.7,62l0,0.75-1.5,0.75-0.3,0.75-0.1,0.75 1.6,0.75 0.8,0.75 0.5,0.75-1.4,0.75 0,0.75 0.6,0.75 0.7,0.75-0.3,0.75-0.9,0.75-0.2,0.75-0.9,0.75-0.5,0.75 0.8,0.75-0.1,0.75 0.8,0.75-0.4,0.75 0.8,0.75 0.8,0.75-1,0.75-0.2,0.75 0.5,0.75-0.8,0.75-0.3,0.75 1.7,0.75 1.4,0.75 0.6,0.75 0.9,0.75-2.1,0.75-0.4,0.75-0.4,0.75 0.4,0.75 0.6,0.75-0.9,0.75-0.5,0.75-0.9,0.75-1.5,0.75 0.9,0.75 0.5,0.75-0.6,0.75 0.6,0.75 0.2,0.75 1.4,0.75-0.5,0.75 2.3,0.75-0.8,0.75-0.2,0.75-1,0.75-0.8,0.75-0.3,0.75-1.2,0.75-1.4,0.75-0.2,0.75-0.5,0.75 0.6,0.75 0.8,0.75 0,0.75-0.4,0.75-0.3,0.75 1.5,0.75 0.1,0.75 0.8,0.75 0.1,0.75 1.2,0.75 0.9,0.75 0.3,0.75 0.4,0.75 0,0.75 0,0.75 1.8,0.75 0.4,0.75-1,0.75-0.1,0.75 0.6,0.75-1,0.75 0,0.75 0.8,0.75-0.1,0.75-0.7,0.75-1.4,0.75 0.6,0.75 0,0.75-2.4,0.75-1.3,0.75-0.2,0.75 0.8,0.75 0.4,0.75-0.7,0.75 0,0.75 1.2,0.75 0.9,0.75-0.8,0.75 0.7,0.75 0.2,0.75-1.5,0.75 0.4,0.75-1.1,0.75 1.6,0.75-1,0.75 2.4,0.75 0,0.75 0.4,0.75 2,0.75-0.2,0.75 0,0.75-1.5,0.75 0,0.75 0.3,0.75-0.5,0.75 2.1,0.75-0.8,0.75-0.3,0.75-1.3,0.75 0.9,0.75 0.8,0.75-1.2,0.75-0.8,0.75-0.3,0.75-0.2,0.75-0.1,0.75 0,0.75 0.1,0.75 0.1,0.75-0.1,0.75 1.7,0.75-0.2,0.75-1.4,0.75 2.2,0.75 0.7,0.75-0.3,0.75 1.1,0.75-0.8,0.75-0.5,0.75-0.9,0.75 0.2,0.75 0.8,0.75-2.7,0.75 1.5,0.75-0.2,0.75-2,0.75-0.2,0.75-0.2,0.75-0.4,0.75-0.5,0.75 1.7,0.75 0.3,0.75 1.2,0.75 1.3,0.75-0.1,0.75 1.7,0.75 0.7,0.75-2.6,0.75 0.3,0.75 0.3,0.75 0.1,0.75-1.5,0.75-0.4,0.75 0.8,0.75-0.9,0.75-0.4,0.75 1.8,0.75-1.7,0.75 0,0.75 0.4,0.75-0.9,0.75-0.8,0.75 1.9,0.75-0.8,0.75-0.4,0.75-0.1,0.75-1.3,0.75-0.1,0.75-1.5,0.75 0.3,0.75 1.6,0.75 0.7,0.75 0.6,0.75-0.1,0.75 0.8,0.75 0.1,0.75-0.6,0.75-1.3,0.75 1,0.75-0.2,0.75-1.2,0.75 0.2,0.75-0.5,0.75 1.9,0.75-1.2,0.75 2.1,0.75 0.4,0.75-1.2,0.75 0.1,0.75 0,0.75 0.2,0.75 0.5,0.75 1.2,0.75-1.7,0.75 0.4,0.75 1,0.75-0.3,0.75-0.8,0.75 1.5,0.75 0.4,0.75 0.4,0.75 0.1,0.75-1.3,0.75 0.6,0.75-0.4,0.75 0.6,0.75-1.1,0.75-0.5,0.75 1.1,0.75-3.1,0.75-1.2,0.75 0.4,0.75-0.8,0.75-0.7,0.75 0.8,0.75 1.4,0.75 1.4,0.75 1.3,0.75 2.9,0.75-0.9,0.75 0.6,0.75 0.2,0.75-1.3,0.75-1.1,0.75-1.8,0.75 0.3,0.75 1,0.75-2,0.75 1,0.75-0.4,0.75-0.9,0.75-0.4,0.75 1.1,0.75-1,0.75-0.4,0.75-0.2,0.75 0.4,0.75 0.1,0.75-1.2,0.75 0.6,0.75-0.6,0.75 0.7,0.75 0.5,0.75-0.2,0.75-0.1,0.75-1,0.75 1.3,0.75 2,0.75-0.7,0.75 0.6,0.75-0.2,0.75-1.3,0.75 0.2,0.75-2.1,0.75 0.1,0.75 0.4,0.75-0.1,0.75 3.2,0.75 2.1,0.75-2.4,0.75-0.8,0.75 6.1,0.75-3,0.75 2.1,0.75-1.5,0.75-6.4,0.75 1.3,0.75-6,0.75-1.7,0.75-4.8,0.75-3.9,0.75 3.4,0.75-6.1,0.75 9.2,0.75 8.9,0.75-2.4,0.75-0.3,0.75 8.7,0.75 0.7,0.75-8.4,0.75-0.6,0.75 12.4,0.75 6.4,0.75-11.3,0.75 8.1,0.75-1.1,0.75 1.9,0.75-7.7,0.75-1.2,0.75 4.7,0.75 4.9,0.75-6.5,0.75-11.6,0.75-8.7,0.75 13.2,0.75-3,0.75 1,0.75 1.2,0.75 3,0.75 4.6,0.75-1.7,0.75 7.4,0.75-8.5,0.75 0.7,0.75-3.6,0.75 7.8,0.75 0,0.75-3.3,0.75-3.5,0.75 2.9,0.75-1.7,0.75 3.1,0.75 2.2,0.75 5,0.75-5.3,0.75-0.8,0.75 1.2,0.75-2.2,0.75 1.1,0.75-5.5,0.75 12.8,0.75-19.3,0.75 2.8,0.75 4.7,0.75 6.1,0.75-2.7,0.75 4.4,0.75-2.9,0.75-8.3,0.75 0.1,0.75 4,0.75 6.5,0.75-7.3,0.75 6.9,0.75-11.6,0.75-4.1,0.75 1.4,0.75-8.5,0.75 9.8,0.75-2.4,0.75 8.1,0.75 0.6,0.75 2.2,0.75 6.9,0.75-12.5,0.75 11,0.75-6,0.75 2,0.75-11.6,0.75 12.9,0.75 5.1,0.75-19.1,0.75 0.8,0.75 1.3,0.75-6.3,0.75 6.8,0.75-3.3,0.75-0.2,0.75 14.4,0.75-8.3,0.75 0.5,0.75-1,0.75 2.5,0.75 1.1,0.75 0.5,0.75 4.5,0.75 6.5,0.75 8.4,0.75-11.5,0.75 9.1,0.75-2.4,0.75-6.2,0.75 0.7,0.75-9.6,0.75 3.4,0.75-0.4,0.75 2.2,0.75-11.7,0.75 2.7,0.75 0.1,0.75-1.3,0.75 6.1,0.75 3.8,0.75-3.3,0.75 3.5,0.75 8.9,0.75-5.5,0.75-9.5,0.75 3.5,0.75 1.2,0.75-2.7,0.75 0.7,0.75-3.5,0.75 1.7,0.75-1.1,0.75 9.1,0.75-6.2,0.75 2.1,0.75-5.5,0.75 2.2,0.75-3.5,0.75 0.1,0.75-3.1,0.75-2.4,0.75 2.3,0.75-1.2,0.75 0.5,0.75 2.7,0.75 0.1,0.75-0.9,0.75-0.1,0.75 1.3,0.75 0,0.75 0.7,0.75 2.2,0.75-0.5,0.75 2.1,0.75 1.5,0.75 0.6,0.75-0.3,0.75-3.5,0.75-0.1,0.75-1.3,0.75 0.3,0.75 1.2,0.75-2.1,0.75 0.3,0.75-0.3,0.75-1.7,0.75 0.9,0.75 0.2,0.75 0.2,0.75 2.4,0.75 0.7,0.75-0.3,0.75 0.7,0.75-0.1,0.75 0.9,0.75 0,0.75-0.4,0.75-0.2,0.75 0.1,0.75-1.1,0.75-0.8,0.75-1.1,0.75-1.7,0.75 0.1,0.75-1.4,0.75 3,0.75 1.2,0.75 1.4,0.75-1.7,0.75 1.1,0.75-0.5,0.75-2,0.75-1.6,0.75-0.7,0.75 0.6,0.75-0.1,0.75 0.4,0.75 1.1,0.75-0.3,0.75 0.2,0.75 0.6,0.75-0.4,0.75 0.1,0.75-2.3,0.75 2.2,0.75-1.9,0.75-0.8,0.75 0,0.75 0.5,0.75 0.3,0.75-0.1,0.75-0.8,0.75 1.9,0.75 1.2,0.75 1,0.75-0.4,0.75 0.7,0.75-1.5,0.75 0.4,0.75-1.7,0.75-1.1,0.75-0.2,0.75-0.8,0.75-0.4,0.75 0.1,0.75 1.1,0.75 2.7,0.75 2.7,0.75-0.7,0.75 1.1,0.75 0.8,0.75-0.3,0.75 0.9,0.75-0.9,0.75-1.3,0.75 0.7,0.75-0.8,0.75 0.8,0.75 0.4,0.75 2.2,0.75-1,0.75 0.7,0.75 0.8,0.75-0.3,0.75-2.4,0.75-1.7,0.75 1.6,0.75-0.6,0.75-1.8,0.75 0.3,0.75 0.5,0.75 0.7,0.75-0.4,0.75 0.5,0.75 2.2,0.75 0.6,0.75-0.1,0.75 1.7,0.75-2,0.75-0.9,0.75 0.5,0.75-0.3,0.75-0.9,0.75-2.9,0.75 0.6,0.75-1.3,0.75 0.4,0.75-0.8,0.75 1.4,0.75 1.9,0.75-0.1,0.75-1.2,0.75-0.7,0.75 0.9,0.75 0.2,0.75-0.7,0.75-0.8,0.75-1.1,0.75 2.4,0.75-1.4,0.75-0.6,0.75-0.6,0.75 2.3,0.75-0.3,0.75-1,0.75-1.1,0.75 0.3,0.75-1.3,0.75-0.3,0.75 0.5,0.75 1.1,0.75-0.3,0.75-0.4,0.75 0,0.75 2.8,0.75 1.4,0.75 1.9,0.75-1.9,0.75 1,0.75-0.1,0.75-1.7,0.75-1.1,0.75-1,0.75-1.2,0.75-2.5,0.75 0.2,0.75 0.1,0.75 1.9,0.75 1.1,0.75 1.1,0.75 0.7,0.75-1.7,0.75 1.5,0.75 1.7,0.75 0.9,0.75-1.2,0.75-0.6,0.75-1.4,0.75-0.5,0.75 0.1,0.75-0.4,0.75 1,0.75-1.1,0.75-3.1,0.75 2.5,0.75-0.4,0.75-0.5,0.75 1.3,0.75 0.8,0.75 0.9,0.75 0,0.75-1.7,0.75-0.3,0.75 0.1,0.75-0.6,0.75-1.2,0.75-0.4,0.75 0.5,0.75 0.3,0.75 1.1,0.75 1.4,0.75 0.5,0.75 0.1,0.75 0.4,0.75 0.9,0.75 1.4,0.75 1.1,0.75 0.2,0.75 0.9,0.75 0.7,0.75 1.2,0.75 0.7,0.75-0.1,0.75-0.1,0.75 0,0.75-0.8,0.75-0.5,0.75-0.8,0.75-0.7,0.75-0.3,0.75-0.5,0.75-0.5,0.75-0.4,0.75 0.1,0.75-0.4,0.75-0.2,0.75 0,0.75-0.4,0.75-0.3,0.75-0.5,0.75-0.1,0.75 0,0.75 0.1,0.75-0.2,0.75-1,0.75 0.1,0.75 0.7,0.75-0.1,0.75-0.4,0.75-0.1,0.75 0.3,0.75 0.4,0.75 0.8,0.75 0.2,0.75-0.7,0.75-0.3,0.75 0.4,0.75 0.4,0.75-0.4,0.75-1,0.75-0.2,0.75 0.1,0.75-0.1,0.75 0.2,0.75-0.2,0.75-0.2,0.75 0.5,0.75 1.4,0.75 0.2,0.75-0.3,0.75 0.5,0.75 0.4,0.75 0.3,0.75 0.8,0.75 0,0.75-0.2,0.75-0.4,0.75 0,0.75 0.1,0.75 0.3,0.75 0.1,0.75-0.6,0.75-0.3,0.75-0.2,0.75-0.8,0.75-0.3,0.75-0.2,0.75-1.2,0.75-0.9,0.75 0.5,0.75 0.6,0.75-0.6,0.75 0.4,0.75 1.1,0.75 0.1,0.75-0.1,0.75 0.2,0.75 0.5,0.75-0.7,0.75-0.1,0.75-0.4,0.75-0.3,0.75 0.1,0.75-0.3,0.75-0.7,0.75-0.1,0.75 0.2,0.75 0.2,0.75-0.2,0.75 0.7,0.75 0.2,0.75-0.4,0.75-0.1,0.75 0.4,0.75 0.1,0.75 0.4,0.75 0.6,0.75-0.8,0.75-0.6,0.75 0.4,0.75 0.8,0.75 0.4,0.75 0.5,0.75 0.2,0.75-0.2,0.75 0.5,0.75 0.3,0.75-0.3,0.75 0.4,0.75 0.2,0.75-1.2,0.75 0.1,0.75 0.5,0.75 0.1,0.75 0,0.75-0.8,0.75-0.2,0.75-0.5,0.75-0.3,0.75-0.1,0.75-0.1,0.75 0.2,0.75 0.3,0.75-0.7,0.75-0.8,0.75-0.7,0.75-0.4,0.75-0.1,0.75-0.4,0.75-1,0.75-0.6,0.75 0.6,0.75 0.7,0.75 0.7,0.75-0.3,0.75 0.3,0.75 0,0.75 0.8,0.75 2,0.75 0.9,0.75 0.1,0.75-0.4,0.75-0.2,0.75-0.2,0.75-0.3,0.75-0.4,0.75-0.2,0.75-1,0.75-1,0.75-1.1,0.75-1.1,0.75-1.2,0.75-0.9,0.75 0.4,0.75 0.5,0.75 1.8,0.75 1.6,0.75 0.9,0.75 0.2,0.75 0.1,0.75 0,0.75 1.4,0.75 1.3,0.75 1.3,0.75 0.1,0.75-0.2,0.75-0.3,0.75 0.7,0.75 0,0.75-0.8,0.75-0.9,0.75-0.1,0.75-0.8,0.75-0.6,0.75-0.9,0.75-0.2,0.75 0.3,0.75-0.2,0.75-0.9,0.75-0.3,0.75 0.8,0.75-0.4,0.75" stroke="#000" stroke-width="0.45"/>
<path d="M258.4,62l0.5,0.75 0.2,0.75 1.1,0.75 0.7,0.75 2.2,0.75 0.1,0.75-0.5,0.75-1.3,0.75-2.2,0.75-0.8,0.75 0.6,0.75 1.1,0.75 1,0.75-0.2,0.75 2,0.75-0.3,0.75-2,0.75-0.9,0.75-0.9,0.75-1.1,0.75-2.5,0.75-0.9,0.75 2.7,0.75 0,0.75-0.3,0.75 0.8,0.75-1,0.75 1.6,0.75 2.5,0.75-1.4,0.75 2.3,0.75 0.3,0.75-0.5,0.75-0.3,0.75-0.2,0.75-0.1,0.75-1.5,0.75-0.6,0.75 0,0.75 0.1,0.75-0.5,0.75 0.7,0.75 1.3,0.75-1.4,0.75-1.1,0.75 0.6,0.75-0.1,0.75-1.2,0.75 1.6,0.75-0.8,0.75-0.8,0.75 1.3,0.75 0.1,0.75 0.5,0.75 1.7,0.75 1.2,0.75-0.3,0.75 2.2,0.75-0.7,0.75-0.2,0.75-0.6,0.75-1.5,0.75-1.6,0.75-1.1,0.75-1.4,0.75 0.1,0.75 1.4,0.75 1.6,0.75 1.8,0.75 0.4,0.75 1.3,0.75-0.6,0.75-0.2,0.75-2.2,0.75 0.4,0.75 1.9,0.75-1.9,0.75 0.9,0.75-0.4,0.75 0.3,0.75-1.5,0.75 1.4,0.75 0.6,0.75-0.6,0.75 1.6,0.75 0.2,0.75-0.6,0.75 0.2,0.75-1.9,0.75 0.2,0.75-1.8,0.75-0.7,0.75-1.6,0.75 0,0.75 1,0.75 0.2,0.75-0.2,0.75-0.9,0.75 1.5,0.75 1.6,0.75 1.1,0.75 1.8,0.75-2.3,0.75-1.5,0.75-0.6,0.75-0.4,0.75 0.9,0.75-1.7,0.75-1,0.75 0.8,0.75 0.6,0.75 0.7,0.75 1.5,0.75 0.2,0.75 1.4,0.75 1,0.75-0.8,0.75 0.3,0.75-0.2,0.75-2.1,0.75-0.6,0.75-2.1,0.75 1.2,0.75 0.5,0.75-1.4,0.75 0.4,0.75 2.5,0.75 0.6,0.75-1.4,0.75 2.9,0.75 0.1,0.75 1.3,0.75 0.9,0.75-1.1,0.75 0.7,0.75-3.4,0.75-1.2,0.75-1.5,0.75-1.2,0.75 0.9,0.75 2.6,0.75 0.7,0.75 1.7,0.75-0.2,0.75 1.7,0.75 0.6,0.75-2.7,0.75 0.5,0.75 1.6,0.75-1.7,0.75 1.5,0.75-1.7,0.75-0.3,0.75-0.1,0.75-1.2,0.75 0.3,0.75-2.2,0.75 1.1,0.75 1.6,0.75 0.6,0.75 1,0.75-0.2,0.75 0.1,0.75-0.9,0.75-0.1,0.75 0.9,0.75-2.9,0.75-0.7,0.75-1.1,0.75-0.5,0.75-0.9,0.75-0.8,0.75 1,0.75 0.4,0.75 0.7,0.75 1.4,0.75-0.2,0.75 1.4,0.75 0.6,0.75-0.6,0.75 0.8,0.75-0.9,0.75-2.6,0.75-0.1,0.75-0.9,0.75 0.2,0.75-2.1,0.75 0.7,0.75 0.6,0.75 0.7,0.75 0.9,0.75 0.2,0.75-0.2,0.75 0.2,0.75-0.5,0.75-0.1,0.75 0.1,0.75 3,0.75 1.4,0.75 1.2,0.75-2.5,0.75 1.2,0.75-1.3,0.75 0.1,0.75-2.5,0.75-0.5,0.75 0.6,0.75-1.5,0.75-0.6,0.75 3.1,0.75-0.6,0.75-1.1,0.75 0.7,0.75-1.5,0.75-0.1,0.75 0.2,0.75 2,0.75 0.4,0.75-0.7,0.75-1,0.75 1.1,0.75 1.8,0.75 0.7,0.75-1,0.75-0.6,0.75-0.5,0.75-1.7,0.75-0.9,0.75 2.5,0.75 0.5,0.75 1.4,0.75-1.5,0.75-0.4,0.75 0.4,0.75 0.1,0.75 0.4,0.75-0.2,0.75-1,0.75 0.4,0.75-0.2,0.75-0.2,0.75 0.3,0.75-1.6,0.75 0.7,0.75 0.3,0.75 0.8,0.75 0.5,0.75-0.1,0.75 0.7,0.75 1.4,0.75-1.4,0.75 1.9,0.75-0.6,0.75 0.6,0.75-1.4,0.75 1.4,0.75 1.1,0.75-0.4,0.75 2.6,0.75-2.4,0.75 0.9,0.75 0.2,0.75-3.5,0.75-0.8,0.75-4.1,0.75 9.1,0.75 1.9,0.75-2.1,0.75-6.7,0.75 1.8,0.75 2.5,0.75-3.1,0.75 8.5,0.75 0.5,0.75 5.6,0.75-4.1,0.75-3.7,0.75-8.6,0.75-5.2,0.75 1.5,0.75 2.2,0.75 1.4,0.75 2.7,0.75-0.3,0.75 1.2,0.75 6.5,0.75 0.9,0.75-19.3,0.75 13.2,0.75 3.7,0.75-2.9,0.75 2.9,0.75-1,0.75 2.7,0.75-11.4,0.75 11,0.75-1.6,0.75-9.9,0.75 4.4,0.75-9.1,0.75 11,0.75-9.2,0.75 10.4,0.75-2.8,0.75-0.3,0.75 0.3,0.75-0.2,0.75-4.2,0.75 4.8,0.75-1.1,0.75-5.7,0.75 4.5,0.75 2.1,0.75-1.1,0.75 2,0.75-1.2,0.75-6.4,0.75 0.6,0.75 1.2,0.75-4.5,0.75-2,0.75 8.5,0.75-0.1,0.75 1,0.75-4.9,0.75-4.9,0.75-4.1,0.75 10.3,0.75 2.5,0.75-5,0.75 5.2,0.75 0.9,0.75 0.7,0.75-11.3,0.75 2.6,0.75 5.9,0.75 2.6,0.75-2.2,0.75-4.5,0.75-0.6,0.75-0.7,0.75 8.1,0.75-6.8,0.75-5.2,0.75 11.5,0.75-4.4,0.75 10.7,0.75-0.5,0.75-3.6,0.75-6.5,0.75-0.1,0.75 2.2,0.75 4.8,0.75-4.4,0.75 4,0.75-9.5,0.75 11.8,0.75-10.1,0.75 3.2,0.75 2.6,0.75-4.6,0.75 3,0.75 4.3,0.75-4.7,0.75-0.6,0.75 6.4,0.75-1,0.75-8.1,0.75 5.8,0.75-3.7,0.75-6.5,0.75 15.9,0.75 3.1,0.75-7.8,0.75 5.7,0.75 2,0.75-10.6,0.75-2.1,0.75-9.4,0.75 3.9,0.75 6.4,0.75 10.4,0.75-4,0.75 10.2,0.75-3,0.75-4.8,0.75-0.2,0.75-0.7,0.75-5.5,0.75-4.3,0.75 11.1,0.75 4,0.75-11.4,0.75 2.6,0.75 7.1,0.75 0.9,0.75-7.7,0.75 1.4,0.75-3,0.75 7.5,0.75-2.2,0.75 5.3,0.75 1.3,0.75-3.7,0.75 0.8,0.75-4.9,0.75-2.3,0.75 1.3,0.75-1.6,0.75 0.1,0.75 1.8,0.75-0.5,0.75-2.4,0.75-0.5,0.75 2.2,0.75-3.2,0.75 1.2,0.75 0.3,0.75-0.3,0.75 0.5,0.75-0.1,0.75 0.9,0.75 1.9,0.75-3.1,0.75 0.8,0.75-1.3,0.75-1.2,0.75 0.8,0.75 0.8,0.75-1.8,0.75 0.8,0.75-1,0.75 0.8,0.75-2.6,0.75 1.6,0.75 1.2,0.75 1.7,0.75 0.8,0.75 0.5,0.75 0.6,0.75-0.8,0.75-0.7,0.75-1.3,0.75 1.4,0.75-1.6,0.75 2.5,0.75 0.5,0.75 0.1,0.75-1.1,0.75-0.3,0.75 0.9,0.75-1.1,0.75-0.2,0.75-1.4,0.75-2.4,0.75 1.5,0.75 0.3,0.75 0.7,0.75 1,0.75 2.1,0.75-1.6,0.75-0.6,0.75-0.9,0.75-1.1,0.75 0.5,0.75-1.6,0.75 1.1,0.75 1.6,0.75 0.1,0.75 1.6,0.75-0.8,0.75 2.2,0.75-0.7,0.75-0.5,0.75 1.6,0.75-0.4,0.75-0.7,0.75-3,0.75-1.9,0.75-2.1,0.75-2,0.75-0.3,0.75 0.4,0.75 0.4,0.75 0.9,0.75 2.1,0.75 0.6,0.75 2,0.75 0,0.75 0.8,0.75 1.1,0.75 1.1,0.75 2.9,0.75-0.6,0.75-1.2,0.75-1.5,0.75-2,0.75-3.9,0.75 0.1,0.75 0.9,0.75 0.6,0.75 0.6,0.75 1.9,0.75 0.9,0.75-0.2,0.75 2.1,0.75 1,0.75-0.3,0.75-3.2,0.75 0.2,0.75-1.7,0.75 0,0.75 1.2,0.75 0,0.75-1.9,0.75-1.4,0.75 2.1,0.75-0.3,0.75 1.1,0.75-0.9,0.75-0.1,0.75-0.5,0.75 1,0.75-0.3,0.75-0.8,0.75-0.9,0.75 0.1,0.75-2,0.75 0.5,0.75-1.6,0.75 0.5,0.75 1.2,0.75 1.5,0.75 0.9,0.75 0.1,0.75 0.3,0.75 0.5,0.75 0.3,0.75 1.1,0.75-1.2,0.75-0.6,0.75 0.5,0.75 0.8,0.75-1.1,0.75-1.4,0.75-1.9,0.75 0.1,0.75-1.1,0.75-2,0.75 2.1,0.75-1.3,0.75 2.6,0.75 2,0.75 0.3,0.75 2.6,0.75 0.3,0.75-0.6,0.75-1.3,0.75-2.3,0.75 0.6,0.75-1.5,0.75 0.3,0.75 2.2,0.75 1.5,0.75 0.5,0.75-0.9,0.75-0.5,0.75 0.7,0.75 0.3,0.75-0.1,0.75 0.5,0.75 0.6,0.75 0.6,0.75-0.6,0.75 0.3,0.75-0.2,0.75 0.6,0.75-0.5,0.75 2,0.75-0.3,0.75 0.8,0.75-0.4,0.75-1.8,0.75-1.3,0.75 0.4,0.75-1.8,0.75 0.1,0.75-0.3,0.75 1.1,0.75 0.9,0.75-0.9,0.75 1.6,0.75 0.8,0.75-0.7,0.75 0.2,0.75-1.4,0.75-1.3,0.75-0.2,0.75-0.7,0.75-0.5,0.75 1.8,0.75 0.5,0.75 0.8,0.75 0.7,0.75 1.2,0.75-0.1,0.75-0.2,0.75-0.6,0.75 0.4,0.75 0.3,0.75-0.4,0.75-0.1,0.75 0.7,0.75-0.1,0.75-1.1,0.75-0.6,0.75 0.1,0.75 0,0.75 0.1,0.75-0.5,0.75-0.9,0.75-1.4,0.75-0.4,0.75 0.6,0.75 0.2,0.75-1.4,0.75-0.9,0.75-0.4,0.75-0.4,0.75-0.1,0.75 0.1,0.75 0.7,0.75 0.3,0.75 0.8,0.75 1.1,0.75 0.4,0.75 0.2,0.75-0.4,0.75 0.6,0.75 1.2,0.75-0.1,0.75-0.2,0.75 1.1,0.75 1.4,0.75-0.1,0.75-0.9,0.75 0.1,0.75-0.3,0.75-0.2,0.75-0.4,0.75-0.2,0.75 0.3,0.75 0.4,0.75-0.3,0.75-0.5,0.75-0.2,0.75-1,0.75-1.6,0.75-0.2,0.75-0.4,0.75 0,0.75 0.5,0.75 0.1,0.75-0.2,0.75 0.4,0.75-0.6,0.75 0.6,0.75 0.6,0.75 0.4,0.75 0.4,0.75 0.3,0.75-0.1,0.75 0.5,0.75 0.5,0.75-0.9,0.75-1,0.75 0.2,0.75 0.3,0.75-0.7,0.75-0.1,0.75-0.1,0.75-0.8,0.75-0.7,0.75-0.5,0.75-0.4,0.75 0.1,0.75 0.4,0.75 0,0.75 0.1,0.75 0,0.75 0.6,0.75 0.2,0.75 0.1,0.75 0.6,0.75 0.2,0.75-0.4,0.75-0.1,0.75-0.2,0.75 0,0.75 0.1,0.75 0.3,0.75 0.6,0.75-0.4,0.75 0.4,0.75-0.7,0.75 0.1,0.75 0.4,0.75 0.8,0.75 0.1,0.75 0.5,0.75-0.6,0.75-0.5,0.75 0.5,0.75-0.1,0.75-0.5,0.75-0.3,0.75 0.6,0.75 0.4,0.75-0.7,0.75-0.7,0.75-0.2,0.75 0.1,0.75 0.9,0.75 0.8,0.75 0.2,0.75 0.3,0.75 1.3,0.75 0.9,0.75 0.7,0.75 0.7,0.75 0.9,0.75 0.5,0.75 0,0.75-0.6,0.75 0,0.75-0.8,0.75-0.7,0.75 0.3,0.75 0.6,0.75-1.2,0.75-0.3,0.75 0.4,0.75-0.9,0.75-0.8,0.75-0.1,0.75 0.4,0.75-0.3,0.75-0.2,0.75 0.2,0.75-0.5,0.75-0.5,0.75 0.1,0.75-0.3,0.75-0.5,0.75-0.1,0.75 0.3,0.75-0.3,0.75-0.3,0.75 0.2,0.75 0,0.75 0.1,0.75 0.4,0.75 0,0.75-0.2,0.75 1,0.75 1.1,0.75 0.1,0.75 0,0.75 0.4,0.75 0.3,0.75 0.2,0.75 0.2,0.75-0.2,0.75-0.5,0.75-0.4,0.75-0.1,0.75 0.6,0.75 0.7,0.75 0.1,0.75-0.1,0.75-0.8,0.75-0.3,0.75 0.4,0.75 0.8,0.75 0.5,0.75-0.5,0.75-0.5,0.75 0.2,0.75-0.8,0.75-0.4,0.75-0.4,0.75-0.2,0.75-0.8,0.75-0.6,0.75 0.2,0.75 0.3,0.75 0.5,0.75 0.3,0.75-0.1,0.75-0.4,0.75 0,0.75-0.7,0.75" stroke="#000" stroke-width="0.45"/>
<polygon points="266.8,62 266.8,66 266.7,71 266.5,76 266.2,80 266.1,84 266.2,89 266.3,94 266.3,98 266.1,102 265.9,107 265.8,112 265.8,116 265.7,120 265.6,125 265.4,130 265.2,134 264.9,138 264.5,143 264.1,148 263.7,152 263.4,156 263.3,161 263.3,166 263.6,170 263.9,174 264.2,179 264.2,184 264.1,188 264.0,192 263.9,197 263.8,202 263.7,206 263.6,210 263.5,215 263.3,220 263.0,224 262.6,228 262.4,233 262.2,238 262.2,242 262.4,246 262.7,251 263.0,256 263.1,260 263.0,264 262.7,269 262.4,274 262.4,278 262.7,282 263.3,287 263.9,292 264.1,296 263.9,300 263.2,305 262.4,310 261.6,314 260.9,318 260.4,323 260.2,328 260.3,332 260.5,336 260.8,341 260.8,346 260.5,350 260.1,354 259.9,359 260.6,364 261.8,368 263.0,372 263.7,377 263.7,382 263.5,386 263.4,390 263.6,395 264.3,400 265.2,404 265.8,408 266.0,413 265.9,418 265.7,422 265.5,426 265.5,431 265.0,436 264.3,440 262.9,444 261.7,449 260.6,454 260.3,458 260.8,462 261.8,467 263.0,472 264.3,476 265.1,480 265.1,485 265.1,490 265.0,494 265.0,498 264.9,503 264.9,508 265.8,512 269.3,516 269.1,521 268.8,526 268.4,530 268.3,534 268.3,539 268.5,544 268.6,548 268.5,552 268.4,557 268.2,562 268.1,566 268.0,570 267.7,575 267.5,580 267.4,584 267.6,588 267.9,593 268.2,598 268.5,602 268.6,606 268.6,611 268.5,616 268.3,620 268.3,624 268.4,629 268.7,634 269.1,638 269.5,642 269.6,647 269.4,652 268.9,656 268.3,660 267.9,664 267.9,664 268.3,660 268.9,656 269.4,652 269.6,647 269.5,642 269.1,638 268.7,634 268.4,629 268.3,624 268.3,620 268.5,616 268.6,611 268.6,606 268.5,602 268.2,598 267.9,593 267.6,588 267.4,584 267.5,580 267.7,575 268.0,570 268.1,566 268.2,562 268.4,557 268.5,552 268.6,548 268.5,544 268.3,539 268.3,534 268.4,530 268.8,526 269.1,521 269.3,516 272.9,512 273.9,508 273.9,503 274.0,498 274.0,494 274.1,490 274.1,485 274.1,480 275.1,476 275.8,472 275.3,467 274.3,462 273.8,458 274.1,454 275.2,449 276.3,444 276.3,440 275.7,436 274.8,431 274.5,426 274.7,422 274.9,418 275.0,413 274.8,408 274.2,404 273.3,400 272.6,395 272.4,390 272.5,386 272.7,382 272.7,377 273.0,372 273.6,368 274.2,364 274.8,359 275.0,354 275.3,350 275.6,346 275.5,341 275.2,336 274.9,332 274.8,328 274.9,323 275.4,318 276.0,314 276.7,310 277.5,305 278.1,300 278.2,296 277.9,292 277.3,287 276.6,282 276.3,278 276.3,274 276.4,269 276.7,264 276.8,260 276.6,256 276.2,251 275.6,246 275.2,242 275.0,238 274.8,233 274.8,228 274.7,224 274.5,220 274.3,215 273.9,210 273.6,206 273.2,202 272.9,197 272.6,192 272.4,188 272.1,184 271.6,179 271.0,174 270.3,170 269.7,166 269.3,161 269.1,156 269.1,152 269.3,148 269.6,143 269.9,138 270.1,134 270.3,130 270.4,125 270.4,120 270.4,116 270.4,112 270.4,107 270.5,102 270.6,98 270.5,94 270.4,89 270.2,84 270.3,80 270.4,76 270.6,71 270.6,66 270.5,62" fill="#000" fill-opacity="0.07" stroke="none"/>
<path d="M269.2,62l-1.9,0.75-0.8,0.75 2.6,0.75-0.5,0.75 1.3,0.75-0.3,0.75 2.1,0.75 0.6,0.75-2.3,0.75 0.1,0.75 3.1,0.75-1.7,0.75-0.6,0.75-2.1,0.75-1.9,0.75 1.2,0.75 0.8,0.75 1.1,0.75-1.8,0.75 0.5,0.75 0.6,0.75 1.2,0.75-1.4,0.75-0.4,0.75-5.4,0.75 3.1,0.75 0.4,0.75-0.4,0.75 1.5,0.75-0.5,0.75 1.6,0.75-1.2,0.75 0.9,0.75 1.5,0.75-1.1,0.75 1.5,0.75-1.9,0.75 2.1,0.75 1,0.75 0.3,0.75 0.1,0.75 0.1,0.75-4.6,0.75 1.7,0.75-0.6,0.75-0.3,0.75-0.9,0.75 2.6,0.75-1.9,0.75 1,0.75-0.5,0.75-0.2,0.75 2.9,0.75-0.7,0.75 0.9,0.75-2.6,0.75 0.1,0.75-0.1,0.75-0.5,0.75 0.9,0.75 0.4,0.75 3.9,0.75-1,0.75-2.2,0.75-0.1,0.75 0.5,0.75-0.8,0.75-3.2,0.75 5.2,0.75-3,0.75-0.2,0.75 0.8,0.75-2,0.75-4.1,0.75 2.8,0.75 0.4,0.75-1,0.75 0.6,0.75 0.7,0.75 0.8,0.75-2.4,0.75-2.6,0.75 4.1,0.75 0.5,0.75 2.1,0.75-1.8,0.75 1.6,0.75-2.5,0.75 2,0.75 0.4,0.75-1.7,0.75-1.8,0.75-2.1,0.75 2.6,0.75 2.5,0.75-1.2,0.75 1.6,0.75 0.4,0.75-3.2,0.75-0.9,0.75 0.5,0.75 1.8,0.75-2.1,0.75 3.5,0.75 0.8,0.75-2.4,0.75-3,0.75 1.8,0.75-1.7,0.75 1.1,0.75 1.6,0.75-3,0.75 3.9,0.75-1.7,0.75 0.4,0.75-1.4,0.75 2.1,0.75-2.3,0.75-3.7,0.75 4.2,0.75-1.5,0.75 0.3,0.75 0.4,0.75 2.6,0.75 2,0.75 1,0.75-2.1,0.75 5,0.75-4.1,0.75 0.4,0.75-1,0.75-1.9,0.75-4.3,0.75 1.6,0.75 0.5,0.75-0.7,0.75-4.6,0.75 1.6,0.75 2.7,0.75 2,0.75-1.8,0.75 0.5,0.75 2.2,0.75 1.8,0.75-6.5,0.75 3.1,0.75 2.8,0.75-2.5,0.75 1.9,0.75-2.2,0.75 2.2,0.75-1.1,0.75 1.5,0.75-0.1,0.75 3.2,0.75-3.3,0.75-0.9,0.75 5.7,0.75-0.3,0.75-2.8,0.75-0.3,0.75 0.1,0.75 0.4,0.75 4.7,0.75-1.2,0.75 0.1,0.75-5.6,0.75 7.8,0.75 1,0.75-6.1,0.75 2.8,0.75 2.9,0.75-4,0.75-4.3,0.75-3.2,0.75 7.8,0.75-4.8,0.75 3.4,0.75 0.3,0.75 1.5,0.75-6.2,0.75-1.5,0.75 4.3,0.75-6.2,0.75 6.6,0.75-0.3,0.75-2.1,0.75 1.8,0.75-1.8,0.75 2.6,0.75-2.3,0.75 0.4,0.75-3.4,0.75-0.2,0.75 4,0.75 2.7,0.75-1.3,0.75 0.5,0.75 4.5,0.75 3.6,0.75-9,0.75 4.6,0.75 1,0.75-5.7,0.75-0.3,0.75 5.4,0.75-1.4,0.75-9.7,0.75 2.1,0.75-3.2,0.75 3.3,0.75 10.1,0.75-5,0.75-0.5,0.75-3.1,0.75 0.9,0.75 0.4,0.75-5.3,0.75 2.2,0.75 2.7,0.75-1.5,0.75 4.1,0.75-4.9,0.75 0.1,0.75-3.6,0.75-2.1,0.75 8.1,0.75-2,0.75-1.6,0.75 7.7,0.75-1.9,0.75-0.8,0.75 0.5,0.75 0.6,0.75 4.3,0.75-2.3,0.75-4.3,0.75 6.2,0.75-3.3,0.75 0,0.75 3.6,0.75-0.8,0.75-7.4,0.75 3.3,0.75-6.4,0.75 5,0.75-7.9,0.75 10.5,0.75-3.8,0.75-4.9,0.75 6,0.75 1.2,0.75 1.7,0.75 10.2,0.75-9.8,0.75 3.9,0.75 4.5,0.75-5.3,0.75-0.3,0.75 2.5,0.75-4.7,0.75-1.2,0.75-1.1,0.75 3.7,0.75-0.5,0.75-3.5,0.75-2.6,0.75-1.2,0.75 10.2,0.75-3.6,0.75 10.6,0.75-11.5,0.75-2.1,0.75-4,0.75 11.3,0.75-3.6,0.75-5.3,0.75 3,0.75-2.9,0.75 7.8,0.75-1.6,0.75 1.4,0.75-4.2,0.75-5,0.75-7.1,0.75 2.7,0.75-0.6,0.75 0.3,0.75 5.4,0.75-1.5,0.75 0.8,0.75-1.9,0.75 0.6,0.75-3.8,0.75 9.3,0.75-4.6,0.75-0.6,0.75 2.5,0.75-0.3,0.75-4.4,0.75 2.4,0.75 1.3,0.75 0,0.75 10,0.75-3.3,0.75 2.6,0.75-9.1,0.75 5.2,0.75-4.1,0.75 2.1,0.75-0.4,0.75-0.1,0.75 9.8,0.75-9.6,0.75-1.4,0.75 9.9,0.75-4.2,0.75 2.8,0.75 3.2,0.75-5.2,0.75-1.3,0.75 6,0.75 0.6,0.75-4.5,0.75-2.1,0.75 2.5,0.75-1.8,0.75 1.7,0.75-10.5,0.75-1.3,0.75 4.3,0.75 1.4,0.75-4.9,0.75 12.7,0.75-9,0.75 6.9,0.75-7.8,0.75 4.2,0.75 5.4,0.75-3.9,0.75-7.1,0.75 2.6,0.75-2.7,0.75 3.3,0.75 2.9,0.75-3.7,0.75 3.3,0.75-2.8,0.75-4,0.75-6.6,0.75 9.1,0.75-1.5,0.75-0.8,0.75-1.7,0.75-1.9,0.75 9.1,0.75-3.5,0.75-5.1,0.75 6.5,0.75-5.2,0.75 2,0.75-6.9,0.75 10.2,0.75 4.4,0.75-11.6,0.75 6.8,0.75 6.7,0.75 3.5,0.75-9.5,0.75 1.7,0.75 6.4,0.75-10.6,0.75 9.3,0.75-7.3,0.75-1.1,0.75 1.6,0.75-1.3,0.75-0.2,0.75-2.2,0.75 0.1,0.75 0.6,0.75 0.8,0.75 2.6,0.75 3.8,0.75 0.7,0.75-4.7,0.75 4.7,0.75-0.1,0.75-3,0.75-11.8,0.75 7.1,0.75 4.3,0.75-5.8,0.75-1.1,0.75 3.7,0.75-3.5,0.75 3.1,0.75 2.3,0.75 4.3,0.75-1.8,0.75-5.9,0.75 7.1,0.75-5.3,0.75-3.6,0.75 2.6,0.75 9.2,0.75-4.8,0.75 1.5,0.75-0.2,0.75 1.8,0.75-2.6,0.75 2.3,0.75-3.5,0.75 0.4,0.75-4.4,0.75-0.5,0.75 3.7,0.75-5,0.75 3.4,0.75-0.7,0.75-0.5,0.75-1.6,0.75 3.5,0.75-2.2,0.75 3.7,0.75-1.1,0.75-3.9,0.75-0.1,0.75-0.1,0.75-1.9,0.75 1.5,0.75 2.4,0.75-5.2,0.75 0.1,0.75-2.6,0.75 4.4,0.75 0.1,0.75 1.5,0.75 2.7,0.75-4.3,0.75 1.5,0.75-1.1,0.75 3.6,0.75 3.5,0.75-1.5,0.75-0.7,0.75 1.3,0.75 0.4,0.75-1.8,0.75-3.3,0.75 2,0.75 0,0.75 1.5,0.75 3.8,0.75 0.4,0.75-7.4,0.75 2.1,0.75 3.4,0.75 0.6,0.75 1.7,0.75 1.5,0.75-4.2,0.75 3.1,0.75-4,0.75 5.3,0.75-4.5,0.75 0,0.75 3.9,0.75-0.3,0.75-4.1,0.75 2.1,0.75-2.5,0.75 1.3,0.75-0.9,0.75-1.7,0.75 1.6,0.75-4.6,0.75 6.8,0.75-2,0.75-0.6,0.75-4.2,0.75 2.7,0.75 1.6,0.75 2.7,0.75-2.8,0.75 0,0.75-2,0.75 1.3,0.75-2.9,0.75-1.4,0.75 2.2,0.75 3.1,0.75 0.6,0.75 0.3,0.75-2.5,0.75 2.8,0.75 0.3,0.75-5.5,0.75 4.2,0.75-1.2,0.75 2.3,0.75-4,0.75 0.9,0.75 2.7,0.75-3,0.75 9.9,0.75-6.3,0.75 3.4,0.75 5.9,0.75-2,0.75-5,0.75-2,0.75 1.6,0.75-6.2,0.75 5.2,0.75 1.3,0.75 0,0.75-1.6,0.75-4.1,0.75 1.6,0.75-9.3,0.75-0.7,0.75 5.9,0.75 2.5,0.75-3.3,0.75 2.8,0.75-2,0.75 2.2,0.75-0.5,0.75 5.3,0.75-5,0.75-0.2,0.75 0,0.75-2,0.75-0.1,0.75-3.3,0.75-1.7,0.75-6.1,0.75 12.6,0.75 1.9,0.75-2.8,0.75 3.2,0.75-3.1,0.75 5.6,0.75 0.4,0.75-7.4,0.75 5.8,0.75-7.8,0.75 1.5,0.75-1.7,0.75 1.3,0.75 2.1,0.75 1.5,0.75 5.9,0.75-5.1,0.75 0.6,0.75-2.1,0.75 1.7,0.75-2.3,0.75 1.1,0.75 3.5,0.75 0.3,0.75-0.7,0.75 0.4,0.75 1.7,0.75-0.6,0.75-6.5,0.75 2.3,0.75 2.9,0.75 1.7,0.75-2.8,0.75 3.3,0.75-1.6,0.75-8.4,0.75-0.2,0.75 6.6,0.75-0.8,0.75 4.5,0.75-4.3,0.75 0,0.75 1.3,0.75-4.4,0.75 5.6,0.75-1.1,0.75 1.9,0.75-0.4,0.75-5.2,0.75 5.9,0.75-1.1,0.75-1.7,0.75 2.5,0.75-1,0.75-5,0.75-2.8,0.75 0.7,0.75 2,0.75 1.8,0.75-2.9,0.75 5.5,0.75 0.9,0.75-4,0.75-1.5,0.75 4.6,0.75-0.7,0.75-0.1,0.75-0.5,0.75-0.3,0.75 0,0.75 0.9,0.75 0.5,0.75-1.2,0.75-0.7,0.75-0.4,0.75 0.5,0.75 0.1,0.75 0,0.75-0.9,0.75-0.5,0.75-0.4,0.75-0.1,0.75 0.2,0.75 0.3,0.75 0.2,0.75 0.4,0.75 0.2,0.75 0.1,0.75 0.7,0.75-0.1,0.75-0.4,0.75 0.4,0.75 1.1,0.75 0.1,0.75-0.8,0.75-0.1,0.75 0.9,0.75 1.6,0.75 0.2,0.75-0.7,0.75 0.6,0.75 0.3,0.75 0.3,0.75 0.2,0.75 0.7,0.75-0.6,0.75-0.8,0.75 0,0.75-0.3,0.75-0.7,0.75-0.3,0.75 0.3,0.75-0.1,0.75-1,0.75-0.9,0.75-0.9,0.75-0.9,0.75-0.5,0.75 0.1,0.75-0.2,0.75-0.3,0.75 0.7,0.75 0.2,0.75-0.2,0.75-0.9,0.75-0.2,0.75 0.3,0.75 0.2,0.75 0.2,0.75 0,0.75 0.4,0.75 0,0.75 0.1,0.75-0.1,0.75-0.3,0.75-1.1,0.75-0.5,0.75-0.1,0.75-0.7,0.75-0.1,0.75 0.6,0.75-0.1,0.75-0.4,0.75 0,0.75 0.1,0.75 0.7,0.75 0.3,0.75-0.6,0.75-0.1,0.75 0.9,0.75 0.5,0.75 0,0.75 0.1,0.75 1.1,0.75 1,0.75 0,0.75-0.2,0.75 0.5,0.75 1.1,0.75 0.2,0.75 0.3,0.75 0.6,0.75 0.2,0.75-0.8,0.75-0.4,0.75 0,0.75-0.9,0.75-0.7,0.75-1,0.75-1.3,0.75-0.2,0.75-0.4,0.75-0.2,0.75 0.2,0.75 0.8,0.75 0.1,0.75-0.1,0.75 1,0.75 0.8,0.75 0.3,0.75 0.2,0.75-0.1,0.75 0.2,0.75-0.3,0.75-0.2,0.75 0.6,0.75 0.2,0.75 0.1,0.75 0.2,0.75 0,0.75-0.5,0.75 0.3,0.75 0,0.75 0.1,0.75 1.2,0.75 0.7,0.75 0.8,0.75-0.2,0.75-1,0.75-0.4,0.75 0.5,0.75-0.6,0.75-0.7,0.75-0.4,0.75-0.1,0.75 0,0.75 0.5,0.75-0.1,0.75-0.4,0.75 0.1,0.75-0.7,0.75 0.2,0.75 0.7,0.75-0.1,0.75-0.7,0.75-0.2,0.75 0.3,0.75 0.6,0.75 0.8,0.75 0.7,0.75-0.1,0.75 0.5,0.75 0.7,0.75 0.3,0.75 0.5,0.75 0.1,0.75 0,0.75 0.1,0.75 0.4,0.75-0.1,0.75 0.2,0.75 0,0.75 0.1,0.75 0,0.75-0.2,0.75-0.8,0.75-0.9,0.75-1.2,0.75-0.5,0.75 0.1,0.75-0.1,0.75-0.2,0.75-0.2,0.75-0.5,0.75 0.4,0.75-0.7,0.75-0.4,0.75 0.5,0.75 0.1,0.75-0.1,0.75 0.5,0.75 0.7,0.75 0.5,0.75 0.4,0.75 0.5,0.75 0.5,0.75 0.6,0.75 0.2,0.75 0.5,0.75-0.1,0.75 0.2,0.75 0.6,0.75 0.5,0.75 0,0.75" stroke="#000" stroke-width="0.45"/>
<polygon points="269.6,62 269.7,66 269.8,71 269.7,76 269.7,80 269.7,84 269.7,89 269.7,94 269.6,98 269.5,102 269.4,107 269.6,112 270.0,116 270.2,120 270.1,125 269.8,130 269.5,134 269.4,138 269.5,143 269.8,148 269.9,152 269.8,156 269.6,161 269.3,166 269.0,170 268.8,174 268.6,179 268.2,184 267.5,188 266.8,192 266.2,197 266.0,202 266.3,206 266.9,210 267.5,215 267.8,220 267.7,224 267.2,228 266.3,233 265.4,238 264.7,242 264.4,246 264.6,251 265.2,256 265.8,260 266.2,264 266.4,269 266.2,274 265.8,278 265.3,282 264.8,287 264.4,292 264.2,296 264.1,300 264.1,305 264.4,310 264.8,314 265.3,318 265.9,323 266.5,328 267.0,332 267.1,336 266.8,341 266.4,346 266.0,350 265.7,354 265.5,359 265.9,364 266.5,368 267.1,372 267.2,377 266.7,382 266.2,386 265.8,390 265.6,395 265.5,400 265.4,404 265.3,408 265.2,413 265.1,418 265.1,422 265.2,426 265.3,431 264.8,436 264.6,440 264.4,444 264.7,449 265.0,454 265.1,458 264.9,462 264.4,467 264.3,472 265.4,476 266.7,480 267.0,485 267.1,490 267.1,494 267.2,498 267.4,503 267.9,508 269.5,512 273.7,516 274.2,521 274.3,526 274.0,530 273.4,534 272.8,539 272.2,544 272.0,548 272.0,552 272.1,557 272.3,562 272.4,566 272.4,570 272.2,575 271.9,580 271.8,584 271.8,588 271.9,593 271.9,598 271.8,602 271.7,606 271.7,611 271.8,616 272.0,620 272.2,624 272.3,629 272.2,634 272.0,638 271.7,642 271.6,647 271.7,652 272.0,656 272.4,660 272.6,664 272.6,664 272.4,660 272.0,656 271.7,652 271.6,647 271.7,642 272.0,638 272.2,634 272.3,629 272.2,624 272.0,620 271.8,616 271.7,611 271.7,606 271.8,602 271.9,598 271.9,593 271.8,588 271.8,584 271.9,580 272.2,575 272.4,570 272.4,566 272.3,562 272.1,557 272.0,552 272.0,548 272.2,544 272.8,539 273.4,534 274.0,530 274.3,526 274.2,521 273.7,516 276.7,512 276.9,508 276.4,503 276.2,498 276.1,494 276.1,490 276.0,485 275.7,480 276.2,476 277.2,472 277.9,467 278.4,462 278.6,458 278.5,454 278.2,449 277.8,444 276.6,440 275.5,436 274.6,431 274.2,426 274.1,422 274.1,418 274.2,413 274.3,408 274.4,404 274.5,400 274.6,395 274.8,390 275.2,386 275.7,382 276.2,377 277.1,372 278.3,368 279.5,364 280.5,359 280.6,354 280.8,350 281.2,346 281.5,341 281.7,336 281.6,332 281.1,328 280.4,323 279.7,318 279.1,314 278.7,310 278.4,305 278.3,300 278.3,296 278.5,292 278.8,287 279.2,282 279.7,278 280.1,274 280.2,269 279.9,264 279.4,260 278.7,256 278.1,251 277.7,246 277.7,242 278.1,238 278.8,233 279.3,228 279.4,224 279.1,220 278.3,215 277.2,210 276.1,206 275.4,202 275.2,197 275.4,192 275.8,188 276.0,184 276.0,179 275.9,174 275.8,170 275.7,166 275.7,161 275.5,156 275.3,152 275.0,148 274.6,143 274.4,138 274.4,134 274.7,130 274.9,125 274.9,120 274.6,116 274.2,112 273.9,107 273.9,102 273.9,98 273.9,94 273.8,89 273.7,84 273.7,80 273.7,76 273.6,71 273.5,66 273.4,62" fill="#000" fill-opacity="0.07" stroke="none"/>
<path d="M268.6,62l3.4,0.75-1.8,0.75-0.2,0.75 0.4,0.75 0.2,0.75 2.2,0.75-0.6,0.75 0.4,0.75 0.2,0.75-0.5,0.75 2.2,0.75 1.2,0.75-4.7,0.75 1.1,0.75 0.7,0.75-1.7,0.75-1.8,0.75 0.6,0.75 2.6,0.75-0.1,0.75 1,0.75 0.8,0.75-3.2,0.75-1.5,0.75 1.4,0.75-2.1,0.75-2.6,0.75-1,0.75 6.3,0.75 1,0.75-1.8,0.75 0.8,0.75 0.4,0.75 1.2,0.75 2.2,0.75-1.1,0.75-0.4,0.75-0.5,0.75 0.4,0.75 0.4,0.75-2.6,0.75-0.8,0.75 3.3,0.75-1.8,0.75 0.6,0.75 2.7,0.75-2,0.75-0.3,0.75-0.4,0.75-2.6,0.75-1.4,0.75-0.8,0.75 1.7,0.75-4.4,0.75 1.6,0.75 0.4,0.75 1.9,0.75-1.3,0.75 2.9,0.75 1.3,0.75 0.6,0.75 2,0.75-5.1,0.75 2.8,0.75-2.2,0.75-0.4,0.75 2.5,0.75-2.2,0.75 1.4,0.75 3.9,0.75-3.7,0.75 3.9,0.75-4.3,0.75 3.1,0.75-5.1,0.75 2.5,0.75 0.3,0.75-0.3,0.75 0.3,0.75-1.2,0.75 1.6,0.75-0.3,0.75-2.3,0.75 0.1,0.75 7.3,0.75-7.6,0.75 2.4,0.75-0.8,0.75-0.2,0.75 0.5,0.75 4.5,0.75-1.6,0.75-3,0.75 2.7,0.75-1.3,0.75 2.2,0.75-2.1,0.75-1.8,0.75 6,0.75-0.2,0.75-1.6,0.75-3.4,0.75-6.1,0.75 0.5,0.75 1.5,0.75 1.8,0.75-0.3,0.75 3.1,0.75-1.6,0.75 1,0.75-0.2,0.75 1.4,0.75-1.7,0.75 5.2,0.75-5.7,0.75-0.3,0.75 1.5,0.75-2.2,0.75 3.1,0.75-0.3,0.75-0.5,0.75-2.7,0.75 0.7,0.75 0.6,0.75 0.8,0.75 1.6,0.75 0.9,0.75 0.4,0.75-0.7,0.75 2.4,0.75-0.7,0.75-0.7,0.75-0.7,0.75 0.5,0.75 3.6,0.75-4,0.75-1.8,0.75 1.9,0.75-0.9,0.75-2.3,0.75-1.4,0.75-0.4,0.75 0.9,0.75-0.3,0.75-0.6,0.75 2.3,0.75 1.8,0.75-1.1,0.75-2,0.75 3.2,0.75-0.7,0.75 1.2,0.75-2.5,0.75 1.3,0.75 1.4,0.75-2.5,0.75-1.4,0.75-0.1,0.75 0.2,0.75 3.8,0.75-2.8,0.75 1.7,0.75 0.1,0.75 3.2,0.75 3.5,0.75-9.5,0.75 3.3,0.75-1.6,0.75 4.6,0.75-10.5,0.75 3.8,0.75 3.2,0.75-2,0.75 0,0.75-5.2,0.75 4.3,0.75-0.2,0.75 7,0.75-5.1,0.75-0.9,0.75-2,0.75 4.1,0.75-4,0.75 1,0.75-1.3,0.75 6.5,0.75 0.9,0.75-5.3,0.75 1.3,0.75 3.7,0.75-1.1,0.75-2.2,0.75 2.4,0.75 1.4,0.75-3.5,0.75-2,0.75 1.5,0.75-2.8,0.75-1,0.75 2.3,0.75 2.5,0.75 0.7,0.75-3.7,0.75-1.3,0.75 1.5,0.75 1.9,0.75 1.9,0.75-3,0.75 0.1,0.75 1.4,0.75-1.9,0.75 4.5,0.75 2.1,0.75 1.3,0.75-2.3,0.75-4,0.75-2.4,0.75 0.7,0.75-1.7,0.75-0.6,0.75-0.7,0.75 0.3,0.75 4.3,0.75-1.7,0.75 0.7,0.75 0.3,0.75-4.1,0.75-2.7,0.75 1,0.75-0.7,0.75 7.7,0.75-0.1,0.75-5.2,0.75 2.4,0.75 5.3,0.75 1.8,0.75 0.1,0.75-0.9,0.75 0.1,0.75-9.5,0.75-5.4,0.75 5.2,0.75 6.5,0.75-1.8,0.75 3,0.75 1.4,0.75-1.4,0.75-4.9,0.75 1.4,0.75 3.8,0.75-0.5,0.75-1.5,0.75 0.1,0.75 5.2,0.75-1.4,0.75-11.5,0.75-0.5,0.75 1.1,0.75 6,0.75 1.1,0.75 1.8,0.75 8.7,0.75-4.2,0.75-6,0.75 1.1,0.75-1.9,0.75 4.1,0.75-13.7,0.75 5.8,0.75 2,0.75 5.4,0.75-1.4,0.75 4.6,0.75 0.9,0.75-10.3,0.75 3,0.75 0,0.75 1.8,0.75-6.8,0.75 3.9,0.75-3,0.75 1.2,0.75-7.4,0.75 9.9,0.75 0.6,0.75-4.9,0.75 4.5,0.75 4.2,0.75 5.1,0.75-10.6,0.75 1.9,0.75-2.9,0.75 4.6,0.75-7.3,0.75 2.2,0.75 2.9,0.75-0.6,0.75-1.1,0.75-0.6,0.75-1.3,0.75 6.6,0.75-1.3,0.75-3.3,0.75 6.3,0.75-0.6,0.75 0.3,0.75-0.6,0.75-6.5,0.75 4.7,0.75-3.2,0.75 1.1,0.75-3.5,0.75 1.7,0.75-2.2,0.75-7.4,0.75 3.1,0.75-5.3,0.75 5.6,0.75-8.4,0.75 9.8,0.75-5.5,0.75 4.5,0.75 3.6,0.75 2.9,0.75-4.7,0.75 3,0.75 2.7,0.75-5.3,0.75 1.5,0.75-0.4,0.75 6.8,0.75 2.1,0.75 3.2,0.75-3.4,0.75-1.3,0.75-10.1,0.75 5.1,0.75-0.5,0.75 6.3,0.75-6.9,0.75-2.5,0.75 2.9,0.75-1.5,0.75-0.4,0.75 0.7,0.75 8.3,0.75 1.8,0.75-7.1,0.75 1.7,0.75 2.4,0.75-5.7,0.75 1.2,0.75-7.9,0.75-4.1,0.75 4.3,0.75 6.5,0.75-3.5,0.75-1.5,0.75 9.6,0.75 5,0.75-7.7,0.75 4.9,0.75 3.4,0.75-10.1,0.75 1,0.75-3.8,0.75-2.3,0.75 1.4,0.75 10.2,0.75 0.9,0.75-1.3,0.75 7.2,0.75-9,0.75 0.2,0.75 2,0.75-5.2,0.75-1.8,0.75 0.4,0.75-3.2,0.75 4.9,0.75 0.7,0.75-2.4,0.75-5.3,0.75 6.2,0.75-2.3,0.75 3.7,0.75 2.7,0.75 3.5,0.75-2.4,0.75-10.7,0.75 5.8,0.75 0.6,0.75 6.7,0.75 8.3,0.75-3.3,0.75-3.4,0.75-5.7,0.75-2.4,0.75 1.2,0.75 3.5,0.75 5.4,0.75-2.1,0.75-2.1,0.75-0.2,0.75 1.7,0.75 2.1,0.75-1.2,0.75-11.3,0.75-2.9,0.75 7.4,0.75 0.1,0.75 1.7,0.75 1.6,0.75-5,0.75 1.8,0.75-4.8,0.75 5.2,0.75-3.1,0.75-0.5,0.75-2.1,0.75 5.3,0.75-1.3,0.75-1.8,0.75-4.9,0.75 2.4,0.75 4.3,0.75-2.6,0.75-0.6,0.75-0.5,0.75-2.9,0.75 1.9,0.75-5.8,0.75 9.6,0.75 3.3,0.75 0.1,0.75 2.3,0.75-0.8,0.75 4,0.75-6.1,0.75-2.5,0.75 1.7,0.75-4.9,0.75-0.5,0.75 4.1,0.75-7.9,0.75 5.2,0.75-3.4,0.75 3.4,0.75 1.5,0.75-0.3,0.75-3,0.75 4.3,0.75 1.7,0.75 2.8,0.75-5.2,0.75-5.4,0.75-1.4,0.75-1.6,0.75 4,0.75-0.3,0.75-4.2,0.75 4.6,0.75 6.2,0.75-4.4,0.75 3.2,0.75-2.4,0.75-0.8,0.75-2.7,0.75-2.5,0.75 2.4,0.75 4.6,0.75 3.6,0.75-3.6,0.75-0.3,0.75 0,0.75-3.8,0.75 0.5,0.75 4.5,0.75 0.5,0.75-3.3,0.75-3.1,0.75 2,0.75-0.7,0.75 1.9,0.75-1.4,0.75 1.3,0.75 2.5,0.75-1,0.75-3.1,0.75 3.4,0.75 0.4,0.75 3.8,0.75-6,0.75 1.9,0.75-1.7,0.75-2.3,0.75-0.3,0.75 5.1,0.75 1.3,0.75-4,0.75-0.7,0.75 2.9,0.75-4.3,0.75 0.4,0.75 4.9,0.75-4.7,0.75 2.2,0.75-3.9,0.75 1.9,0.75-0.6,0.75 1.2,0.75 5.3,0.75 7.2,0.75-3.2,0.75-4.2,0.75 2.2,0.75-11.4,0.75 5.7,0.75-4,0.75-2.2,0.75 1.8,0.75 0.2,0.75-3.4,0.75 4.1,0.75-4.4,0.75 10.2,0.75 2.3,0.75 7.2,0.75-5.2,0.75-4.8,0.75-2.7,0.75 1.8,0.75-1.4,0.75-6.2,0.75-0.3,0.75 9.9,0.75-0.6,0.75-6.4,0.75 7.8,0.75-4.3,0.75-1.1,0.75 0.9,0.75 2.7,0.75-2.3,0.75 0.9,0.75 2.8,0.75-6.4,0.75 3.5,0.75 1.2,0.75 3,0.75-1.5,0.75 2.5,0.75-0.2,0.75-0.1,0.75-7.3,0.75-0.1,0.75-0.2,0.75 4.8,0.75-1.3,0.75-0.1,0.75 0,0.75-0.3,0.75 2.8,0.75-3.9,0.75 2.6,0.75-0.5,0.75-3,0.75 3.9,0.75-1.6,0.75-0.7,0.75-2,0.75 4,0.75-2.5,0.75-0.9,0.75 5.9,0.75-3.4,0.75 0.9,0.75 0.7,0.75 1.7,0.75-6.6,0.75-1.7,0.75 6.5,0.75-2.1,0.75 1.9,0.75 1.8,0.75 0.2,0.75-6.9,0.75-1.3,0.75-3.8,0.75 5.8,0.75 0.1,0.75 1.7,0.75 5.7,0.75-5.4,0.75-0.5,0.75 1,0.75 2.5,0.75-6,0.75 0.6,0.75 4.5,0.75-1.9,0.75 1.8,0.75 0.9,0.75 1.3,0.75-0.3,0.75-1.2,0.75-0.7,0.75-0.4,0.75 0.1,0.75-0.1,0.75-0.3,0.75-0.9,0.75-0.1,0.75 0,0.75-0.2,0.75-0.9,0.75 0,0.75 0,0.75-0.2,0.75 0.9,0.75 0.7,0.75 0,0.75 0,0.75 0.3,0.75-0.1,0.75 0,0.75-0.2,0.75 0.3,0.75-0.5,0.75 0,0.75-0.4,0.75-0.2,0.75 0.2,0.75 0.4,0.75 0.5,0.75 0.5,0.75-0.3,0.75 0.3,0.75 0.4,0.75 0.2,0.75-0.4,0.75-0.4,0.75 0,0.75-0.5,0.75-0.6,0.75-0.4,0.75-0.4,0.75-1.2,0.75-1,0.75 0.4,0.75 0.9,0.75 0.3,0.75 0.4,0.75 1.3,0.75 0.3,0.75 0,0.75-0.1,0.75-0.1,0.75-0.1,0.75-0.3,0.75 1,0.75-0.1,0.75 0,0.75 0.9,0.75 0.8,0.75 0.9,0.75 0.7,0.75-0.8,0.75-0.9,0.75-0.2,0.75-0.2,0.75 0,0.75-0.3,0.75-0.2,0.75-0.5,0.75-0.5,0.75 0.3,0.75-0.4,0.75-0.9,0.75 0.6,0.75 1.2,0.75-0.4,0.75 0,0.75-0.6,0.75-0.2,0.75 0.7,0.75 0.1,0.75-1.1,0.75-1.4,0.75-0.5,0.75 0.3,0.75 0.1,0.75 0.7,0.75 0.6,0.75 0.2,0.75 0.2,0.75 0.5,0.75 0.2,0.75-0.3,0.75 0.4,0.75 0.7,0.75-0.3,0.75-0.1,0.75-0.1,0.75-0.5,0.75 0.3,0.75 0.4,0.75 0.2,0.75 0,0.75 0.5,0.75 0.1,0.75 0.3,0.75 0.7,0.75 0.1,0.75 0.3,0.75-0.1,0.75 0.2,0.75-0.7,0.75-0.4,0.75-0.6,0.75-0.8,0.75-0.5,0.75 0,0.75-0.9,0.75-0.1,0.75-0.6,0.75 0.2,0.75 0,0.75 0.4,0.75 0.3,0.75 0.3,0.75-0.3,0.75-0.3,0.75 0.2,0.75 0.7,0.75 0.2,0.75 0.1,0.75-0.2,0.75 0.8,0.75-0.9,0.75-0.2,0.75 0.1,0.75-0.1,0.75-0.4,0.75 0.4,0.75-0.2,0.75-0.4,0.75 0.1,0.75 0.1,0.75 0.2,0.75-0.2,0.75 0.1,0.75 0.4,0.75-0.1,0.75 0.3,0.75 0.7,0.75 0.2,0.75-0.3,0.75-0.6,0.75 0.7,0.75 0.6,0.75-0.3,0.75-0.5,0.75 0.1,0.75 0,0.75-0.1,0.75 0.3,0.75 0.4,0.75-0.2,0.75-0.1,0.75-0.1,0.75-0.4,0.75 0,0.75-0.4,0.75-1.5,0.75-0.6,0.75 0,0.75 0.8,0.75-1.1,0.75-1,0.75-0.8,0.75 0.2,0.75 0.4,0.75 1.2,0.75 1,0.75 0.3,0.75 0,0.75-0.3,0.75-0.2,0.75 1,0.75 1.7,0.75 0.4,0.75 0.5,0.75 0.4,0.75 0.7,0.75 0.6,0.75 0.3,0.75-0.4,0.75-0.6,0.75-0.6,0.75-0.5,0.75-1.5,0.75" stroke="#000" stroke-width="0.45"/>
<polygon points="274.0,62 274.3,66 274.7,71 274.9,76 274.7,80 274.2,84 273.4,89 272.6,94 272.1,98 271.9,102 272.1,107 272.7,112 273.2,116 273.7,120 274.1,125 274.2,130 274.1,134 273.8,138 273.4,143 273.1,148 272.9,152 272.8,156 272.8,161 272.8,166 272.8,170 272.8,174 272.8,179 272.8,184 272.6,188 272.4,192 272.0,197 271.4,202 270.6,206 269.6,210 268.8,215 268.3,220 268.5,224 269.2,228 270.0,233 270.4,238 270.1,242 269.5,246 269.1,251 269.2,256 269.5,260 269.7,264 269.6,269 269.1,274 268.5,278 268.0,282 267.4,287 267.0,292 266.6,296 266.7,300 267.2,305 267.8,310 268.2,314 268.4,318 268.5,323 268.7,328 268.9,332 269.0,336 269.0,341 269.1,346 269.5,350 270.2,354 270.9,359 271.7,364 272.1,368 272.4,372 272.5,377 272.3,382 272.3,386 272.1,390 271.9,395 271.5,400 271.2,404 270.9,408 270.7,413 270.6,418 270.5,422 270.5,426 270.4,431 269.8,436 269.3,440 268.8,444 269.1,449 269.6,454 270.1,458 270.6,462 271.0,467 271.7,472 272.6,476 273.2,480 272.9,485 272.5,490 272.1,494 272.0,498 272.1,503 272.3,508 273.2,512 276.2,516 276.0,521 275.6,526 275.1,530 274.7,534 274.5,539 274.7,544 275.1,548 275.5,552 275.7,557 275.8,562 275.9,566 276.0,570 276.3,575 276.8,580 277.4,584 277.7,588 277.5,593 277.2,598 276.8,602 276.8,606 276.8,611 276.8,616 276.5,620 276.2,624 275.9,629 275.9,634 276.2,638 276.4,642 276.6,647 276.5,652 276.3,656 276.1,660 276.0,664 276.0,664 276.1,660 276.3,656 276.5,652 276.6,647 276.4,642 276.2,638 275.9,634 275.9,629 276.2,624 276.5,620 276.8,616 276.8,611 276.8,606 276.8,602 277.2,598 277.5,593 277.7,588 277.4,584 276.8,580 276.3,575 276.0,570 275.9,566 275.8,562 275.7,557 275.5,552 275.1,548 274.7,544 274.5,539 274.7,534 275.1,530 275.6,526 276.0,521 276.2,516 279.2,512 279.8,508 279.6,503 279.5,498 279.6,494 280.0,490 280.4,485 280.7,480 281.9,476 283.0,472 283.0,467 282.6,462 282.1,458 281.6,454 281.1,449 280.7,444 280.3,440 279.9,436 279.6,431 279.5,426 279.5,422 279.6,418 279.7,413 279.9,408 280.2,404 280.5,400 280.9,395 281.1,390 281.3,386 281.3,382 281.5,377 282.4,372 283.9,368 285.3,364 285.9,359 285.2,354 284.4,350 283.9,346 283.7,341 283.7,336 283.5,332 283.2,328 283.0,323 282.8,318 282.6,314 282.1,310 281.4,305 280.9,300 280.8,296 281.0,292 281.5,287 281.9,282 282.4,278 282.9,274 283.3,269 283.4,264 283.1,260 282.8,256 282.7,251 282.8,246 283.1,242 283.1,238 282.5,233 281.3,228 280.2,224 279.5,220 279.5,215 279.9,210 280.4,206 280.8,202 281.1,197 281.1,192 280.9,188 280.6,184 280.3,179 279.9,174 279.6,170 279.2,166 278.9,161 278.6,156 278.3,152 278.3,148 278.5,143 278.9,138 279.1,134 279.1,130 278.9,125 278.4,120 277.9,116 277.2,112 276.6,107 276.3,102 276.4,98 276.9,94 277.6,89 278.2,84 278.7,80 278.8,76 278.5,71 278.1,66 277.8,62" fill="#000" fill-opacity="0.07" stroke="none"/>
<path d="M282.6,62l-1.7,0.75-0.2,0.75-0.5,0.75-1.3,0.75-1.1,0.75 0.4,0.75-0.9,0.75-3.2,0.75 3.4,0.75-0.7,0.75-0.2,0.75-1.9,0.75 3.8,0.75-2.9,0.75 1.3,0.75 0.4,0.75 2.2,0.75-3,0.75 0.3,0.75 1.8,0.75 0.1,0.75-1.1,0.75-1.9,0.75 0.4,0.75 2.6,0.75-2.2,0.75 1.7,0.75 1.5,0.75 0.8,0.75-2.5,0.75-2.1,0.75 2.1,0.75 0,0.75 2.7,0.75 1.4,0.75-0.6,0.75-0.1,0.75-1.9,0.75-1.9,0.75-0.6,0.75-0.3,0.75-3.5,0.75 2.4,0.75-2.8,0.75 2.5,0.75-3,0.75-0.1,0.75-2.7,0.75 1.2,0.75-0.6,0.75 3.9,0.75 2.7,0.75 0.8,0.75-3.2,0.75-2.3,0.75-1.6,0.75-0.7,0.75 1.1,0.75 3.4,0.75 2.8,0.75 1.5,0.75-0.1,0.75-3.1,0.75 2.1,0.75-2.2,0.75 0.2,0.75 4.1,0.75-5.3,0.75 1.9,0.75-0.7,0.75-3.9,0.75 2.1,0.75 0.1,0.75 3.1,0.75-0.6,0.75-1.1,0.75-0.7,0.75-1.9,0.75 0.9,0.75 1.9,0.75-1,0.75-1.4,0.75 1.3,0.75-0.4,0.75 2.7,0.75-0.6,0.75-0.3,0.75-1,0.75 0.3,0.75 2.8,0.75 1,0.75-3,0.75 4.8,0.75-0.3,0.75 1.2,0.75-1,0.75-0.2,0.75-3.8,0.75-0.9,0.75 1.6,0.75-1.8,0.75-2.9,0.75 3.1,0.75-1.1,0.75 3,0.75-3.8,0.75-1,0.75 1,0.75 0.2,0.75-2,0.75-3.4,0.75 3.3,0.75 0.9,0.75 4.4,0.75 0.8,0.75-0.1,0.75-2.8,0.75 2.9,0.75-0.4,0.75-1.2,0.75 1.4,0.75-1.9,0.75 2.9,0.75-1.8,0.75 1,0.75 0.4,0.75-3.2,0.75 1.1,0.75-1.4,0.75 2.3,0.75-2.2,0.75-3.2,0.75 1.9,0.75-0.9,0.75 0.3,0.75-3.7,0.75 7.2,0.75 1.7,0.75-0.7,0.75 1.1,0.75 1.1,0.75-4.7,0.75 2,0.75-0.3,0.75 4.3,0.75-2.1,0.75-3.3,0.75 3,0.75-0.4,0.75-6.5,0.75 0.9,0.75-1.1,0.75 5.5,0.75 1.6,0.75-1.8,0.75-0.6,0.75 3.3,0.75-3.1,0.75 0.5,0.75 0.6,0.75-4,0.75 5.3,0.75-1.1,0.75 1.4,0.75-3.5,0.75 0.6,0.75 2.8,0.75-6.1,0.75 1.3,0.75-3.7,0.75 0.1,0.75 7.2,0.75-3.7,0.75-0.5,0.75 2.7,0.75-2.5,0.75 2.6,0.75-1,0.75 1.9,0.75-3.9,0.75 1.7,0.75 3.8,0.75-4.2,0.75-1.1,0.75 4.5,0.75-1.2,0.75-3.3,0.75 3.8,0.75 3.3,0.75-2,0.75-0.8,0.75-1.9,0.75-1.7,0.75 4.3,0.75-0.4,0.75-0.9,0.75 2.8,0.75-2.2,0.75 2.1,0.75-2.4,0.75 0.7,0.75-3.8,0.75 2.7,0.75 4.2,0.75-5.9,0.75 1.6,0.75-0.1,0.75-7.3,0.75-0.5,0.75 8.2,0.75-4.9,0.75-5,0.75 6.7,0.75-0.2,0.75 2.5,0.75-0.6,0.75-6.4,0.75 8.8,0.75-1.3,0.75-3.2,0.75 1.4,0.75-9.4,0.75 4.9,0.75 4.1,0.75-2.9,0.75-0.6,0.75 3.2,0.75 1.9,0.75-3.9,0.75 1.7,0.75 2.7,0.75-2.5,0.75 12.5,0.75-11.4,0.75-1.3,0.75 3.3,0.75-2.7,0.75-5.6,0.75 4.4,0.75 1.3,0.75 5.6,0.75-14.2,0.75 9,0.75 0.1,0.75-4.6,0.75 1.1,0.75 3.2,0.75 2.4,0.75-0.8,0.75 4.2,0.75-10.9,0.75 1.5,0.75-0.5,0.75 2.3,0.75-7.9,0.75 4.9,0.75-7,0.75 18.7,0.75-4.9,0.75 3.3,0.75-2,0.75 2.6,0.75 1.6,0.75-6.5,0.75-3.2,0.75 5.5,0.75-5.5,0.75 0.5,0.75 7.8,0.75-1,0.75 3.2,0.75 0.2,0.75-5.5,0.75-4.1,0.75-3.4,0.75 1.3,0.75 8.5,0.75-13.1,0.75 6.7,0.75-1.1,0.75 1.6,0.75-3.8,0.75 5.3,0.75-0.5,0.75 4.4,0.75-2.4,0.75-8.5,0.75 4.8,0.75-0.4,0.75 5.1,0.75-8.9,0.75 0.6,0.75 3.2,0.75 3.4,0.75-2.5,0.75-2.8,0.75-0.9,0.75 8.3,0.75 2,0.75-3.2,0.75 0.6,0.75-2.5,0.75-1.3,0.75 3.9,0.75-0.6,0.75-7.2,0.75 9.4,0.75-7.5,0.75 4.8,0.75-5.7,0.75-6.5,0.75 8.8,0.75-2,0.75 6,0.75-8.8,0.75 0.7,0.75 2.7,0.75-0.4,0.75 6.4,0.75 5.5,0.75-20,0.75 8.7,0.75 0.3,0.75 1.9,0.75 2.5,0.75-2.2,0.75 0.6,0.75-7.9,0.75-5.3,0.75 5.3,0.75 0.3,0.75 7.9,0.75 0.6,0.75 1.7,0.75-5,0.75-1.3,0.75-1.9,0.75 9.4,0.75-3.4,0.75 2.3,0.75-6.6,0.75 5.5,0.75 7,0.75-12.7,0.75-0.6,0.75-4.8,0.75 10.8,0.75 1.6,0.75-8.6,0.75 6.9,0.75 1.7,0.75-9.5,0.75 0.5,0.75 4.9,0.75 11.5,0.75-11,0.75 10.9,0.75-3.7,0.75-9.6,0.75 1.5,0.75 0.6,0.75 3.4,0.75 6.5,0.75-8.2,0.75-4.2,0.75 1.1,0.75 7.7,0.75-7.8,0.75 0.4,0.75 4.7,0.75 1.1,0.75 9.4,0.75-5.1,0.75 0,0.75-10.1,0.75 2.3,0.75 5.8,0.75 1.5,0.75-11,0.75 2,0.75 5.2,0.75-7.1,0.75 2.3,0.75 2.3,0.75 3.5,0.75-3.8,0.75-0.4,0.75-3.3,0.75-4.6,0.75 9.4,0.75-8.2,0.75 6.3,0.75 2.9,0.75-9.9,0.75 7,0.75-1,0.75-6.6,0.75-3,0.75 12.1,0.75-0.5,0.75-2,0.75-5.3,0.75 0.9,0.75-1.5,0.75 2.5,0.75 7.8,0.75-1.5,0.75 3.4,0.75-6.1,0.75-3.3,0.75-0.5,0.75 1,0.75 1.2,0.75 5.2,0.75 6.1,0.75-7.3,0.75-0.9,0.75 1,0.75-2,0.75-0.4,0.75 2.4,0.75 5.3,0.75-7.7,0.75-1.6,0.75 4.4,0.75-3.9,0.75-0.9,0.75 6,0.75-1.7,0.75 1.5,0.75-0.1,0.75-1.7,0.75-1.2,0.75 3.7,0.75-1.9,0.75 1.4,0.75-1.3,0.75 2.8,0.75-2.3,0.75-0.4,0.75-2,0.75-1.3,0.75 4,0.75-2.7,0.75 7.1,0.75-11.6,0.75-1,0.75 2.4,0.75 0.4,0.75 5.9,0.75 1.4,0.75-4.1,0.75 4.2,0.75-0.4,0.75-1.7,0.75 6,0.75-8.9,0.75-2.5,0.75 0.9,0.75 2.1,0.75-0.2,0.75 0.5,0.75-5.4,0.75 6.1,0.75-3.5,0.75-0.8,0.75 0.7,0.75 1.4,0.75 1.1,0.75-1.3,0.75 3.1,0.75-1.8,0.75 0.5,0.75 4.3,0.75-5.4,0.75 3,0.75 2.6,0.75-2.3,0.75-6.7,0.75 3.7,0.75 0.1,0.75 3.7,0.75-6.6,0.75 0.4,0.75 3.3,0.75-3.7,0.75 1.4,0.75 2.1,0.75-6.4,0.75 9.7,0.75-2.9,0.75 2.2,0.75-0.3,0.75 3.7,0.75-6.7,0.75-2.5,0.75 1,0.75-0.1,0.75 1.8,0.75 1.9,0.75-3,0.75 3,0.75-3,0.75-5.4,0.75 1.6,0.75-0.3,0.75 4.3,0.75-0.6,0.75 6,0.75-1.5,0.75-10.8,0.75 5.3,0.75 3.1,0.75-2.1,0.75-4.2,0.75 3.2,0.75-0.3,0.75 6.9,0.75-7.6,0.75 0.3,0.75-1.3,0.75 3.4,0.75-8.8,0.75 2.5,0.75 3.6,0.75-0.5,0.75 3.2,0.75 1.2,0.75 1.7,0.75-4.9,0.75 6.5,0.75-6.5,0.75 0.6,0.75 1.8,0.75-5.9,0.75 7.5,0.75 3,0.75 0.4,0.75-6.6,0.75 0.8,0.75 10.1,0.75-12.3,0.75 5.5,0.75-1.8,0.75-0.6,0.75-5,0.75 2.9,0.75-3.4,0.75 3.5,0.75 0.9,0.75 6,0.75-4.4,0.75-1.2,0.75 4.8,0.75-4.1,0.75 2.9,0.75-4.6,0.75 2.2,0.75 0.2,0.75-1.8,0.75 10.4,0.75-2.1,0.75-3.3,0.75-1.3,0.75-3,0.75 1.3,0.75-2.5,0.75 0.5,0.75 0.8,0.75 0.4,0.75 0.4,0.75-0.3,0.75 4.6,0.75-2.3,0.75-4.8,0.75 1,0.75 1.2,0.75 2.1,0.75-4.3,0.75 0.5,0.75 4.2,0.75-2.5,0.75 3.2,0.75 0.9,0.75-0.9,0.75-0.1,0.75-4.5,0.75 0.3,0.75 1.6,0.75-1.9,0.75 2.4,0.75 2.3,0.75-3.2,0.75 2.8,0.75-2,0.75 1.6,0.75-4.4,0.75 1.3,0.75 2.7,0.75-1.6,0.75 0.7,0.75-2.3,0.75-0.8,0.75-0.7,0.75-1.7,0.75-1,0.75 1.2,0.75 0.3,0.75-0.9,0.75 0.4,0.75-0.1,0.75-0.1,0.75 0.9,0.75 1.2,0.75 0.8,0.75 0,0.75-0.5,0.75-0.6,0.75 0.4,0.75 0.9,0.75-0.2,0.75 0,0.75 0.7,0.75 0,0.75-0.5,0.75 0.1,0.75-0.2,0.75-0.2,0.75 0.7,0.75 0.7,0.75 0.9,0.75 0.2,0.75-0.7,0.75 0.1,0.75 0.3,0.75 0.5,0.75 0.7,0.75 0.6,0.75 0.1,0.75 0.1,0.75-0.1,0.75-0.3,0.75 0,0.75 0.4,0.75 0,0.75 0.8,0.75 0,0.75 0.3,0.75-0.2,0.75-0.3,0.75-0.8,0.75-0.7,0.75 0.4,0.75 1.7,0.75 0.7,0.75 0.7,0.75-0.4,0.75-0.4,0.75 1.5,0.75 0.2,0.75-1,0.75-0.8,0.75-1.4,0.75-0.6,0.75-1.1,0.75-1,0.75-1,0.75-0.6,0.75 1,0.75 1,0.75 0.5,0.75-0.1,0.75 0.1,0.75 0.9,0.75 1.5,0.75 1.3,0.75 0.6,0.75 0.9,0.75 1.1,0.75 0.7,0.75 0,0.75-2,0.75-1.8,0.75-0.9,0.75-0.1,0.75 0.7,0.75-0.2,0.75-0.6,0.75 0.6,0.75 1.5,0.75-0.2,0.75-1,0.75 0.6,0.75 0.1,0.75-0.6,0.75-0.5,0.75-1.2,0.75-0.2,0.75 0.1,0.75 0.3,0.75 0.7,0.75-0.8,0.75-1.6,0.75-1,0.75-0.6,0.75-0.5,0.75 1.2,0.75 0.1,0.75-0.6,0.75 0,0.75 0,0.75 0.7,0.75 0.9,0.75 0.5,0.75 0.2,0.75 0.6,0.75 0.6,0.75 0.3,0.75 0.4,0.75 0.4,0.75 0.2,0.75-0.1,0.75 0.3,0.75-0.3,0.75-0.3,0.75 0.3,0.75 0,0.75-0.3,0.75 0.3,0.75 0.1,0.75 0,0.75-0.4,0.75-0.2,0.75 0.2,0.75 0.2,0.75 0.5,0.75-0.4,0.75-1.1,0.75-1.1,0.75-0.4,0.75 0.9,0.75 0.7,0.75 0.2,0.75 0.3,0.75 0.4,0.75 0.2,0.75 0,0.75 0.1,0.75-0.8,0.75-1,0.75 0.3,0.75 0.2,0.75-0.9,0.75-1.3,0.75-0.5,0.75-0.4,0.75-0.5,0.75-0.1,0.75-0.1,0.75-0.4,0.75 0.2,0.75 0.7,0.75-1.2,0.75-1.6,0.75-0.6,0.75-0.8,0.75-0.4,0.75 0,0.75 0.4,0.75 0.6,0.75 0.4,0.75 0.8,0.75 0.2,0.75 0,0.75 0.4,0.75 1.5,0.75 2.1,0.75 0,0.75-0.6,0.75-0.8,0.75 0.3,0.75 1.8,0.75 1.4,0.75 1.1,0.75-0.1,0.75-0.2,0.75-0.5,0.75 0,0.75 0,0.75-0.1,0.75-0.2,0.75-0.2,0.75-1.1,0.75-1.5,0.75-0.8,0.75-0.6,0.75-1.1,0.75 0.5,0.75 1.2,0.75 0.4,0.75 0.1,0.75-0.1,0.75" stroke="#000" stroke-width="0.45"/>
<polygon points="300.4,62 300.6,66 300.9,71 301.0,76 300.9,80 300.4,84 299.6,89 298.9,94 298.4,98 298.3,102 298.4,107 298.6,112 298.6,116 298.7,120 298.8,125 299.1,130 299.6,134 300.2,138 300.6,143 300.6,148 300.3,152 299.9,156 299.6,161 299.6,166 299.6,170 299.5,174 299.2,179 298.9,184 298.8,188 298.8,192 298.9,197 299.0,202 299.1,206 299.2,210 299.3,215 299.4,220 299.4,224 299.3,228 298.7,233 298.0,238 297.4,242 297.0,246 296.8,251 296.5,256 296.4,260 296.7,264 297.5,269 298.6,274 299.5,278 299.8,282 299.5,287 298.7,292 297.9,296 297.6,300 297.8,305 298.2,310 298.5,314 298.7,318 298.9,323 298.9,328 298.9,332 299.0,336 299.4,341 300.1,346 300.9,350 301.1,354 300.5,359 299.4,364 298.1,368 297.3,372 297.1,377 297.4,382 297.8,386 298.1,390 298.2,395 298.2,400 298.2,404 298.2,408 298.3,413 298.5,418 298.9,422 299.3,426 299.5,431 299.4,436 299.0,440 298.3,444 297.7,449 297.3,454 297.0,458 294.7,462 295.3,467 296.0,472 296.4,476 297.7,480 297.9,485 297.2,490 296.6,494 296.3,498 296.4,503 297.0,508 301.0,512 301.3,516 301.4,521 301.2,526 301.0,530 300.9,534 300.9,539 301.0,544 301.1,548 301.3,552 301.6,557 302.0,562 302.2,566 302.0,570 301.6,575 301.4,580 301.4,584 301.5,588 301.4,593 301.1,598 300.9,602 300.9,606 301.1,611 301.4,616 301.4,620 301.4,624 301.3,629 301.3,634 301.4,638 301.5,642 301.6,647 301.4,652 301.2,656 301.1,660 301.2,664 301.2,664 301.1,660 301.2,656 301.4,652 301.6,647 301.5,642 301.4,638 301.3,634 301.3,629 301.4,624 301.4,620 301.4,616 301.1,611 300.9,606 300.9,602 301.1,598 301.4,593 301.5,588 301.4,584 301.4,580 301.6,575 302.0,570 302.2,566 302.0,562 301.6,557 301.3,552 301.1,548 301.0,544 300.9,539 300.9,534 301.0,530 301.2,526 301.4,521 301.3,516 301.0,512 304.1,508 303.8,503 303.8,498 304.4,494 305.2,490 306.0,485 307.3,480 308.9,476 308.4,472 307.7,467 307.2,462 305.3,458 305.2,454 305.3,449 305.6,444 305.9,440 306.4,436 306.6,431 306.5,426 306.2,422 305.9,418 305.8,413 305.8,408 305.9,404 305.9,400 305.9,395 305.8,390 305.5,386 305.0,382 304.6,377 304.8,372 305.6,368 306.8,364 307.9,359 308.4,354 308.1,350 307.3,346 306.5,341 306.1,336 305.9,332 305.9,328 305.7,323 305.5,318 305.2,314 304.8,310 304.3,305 304.0,300 304.3,296 305.1,292 305.9,287 306.2,282 305.8,278 304.9,274 303.8,269 302.9,264 302.6,260 302.6,256 302.9,251 303.1,246 303.5,242 304.0,238 304.7,233 305.2,228 305.4,224 305.3,220 305.2,215 305.1,210 305.0,206 304.8,202 304.6,197 304.5,192 304.5,188 304.6,184 304.9,179 305.1,174 305.2,170 305.1,166 305.2,161 305.4,156 305.8,152 306.1,148 306.0,143 305.5,138 304.9,134 304.4,130 304.1,125 303.9,120 303.9,116 303.8,112 303.6,107 303.4,102 303.5,98 303.9,94 304.6,89 305.4,84 305.8,80 305.9,76 305.8,71 305.5,66 305.2,62" fill="#000" fill-opacity="0.06" stroke="none"/>
<path d="M301.2,62l1.2,0.75 0.5,0.75 0.6,0.75-3.4,0.75 1.5,0.75 1.6,0.75-3.6,0.75 1,0.75 1.3,0.75 2.7,0.75-0.9,0.75-1.2,0.75-2.1,0.75 3.9,0.75-0.2,0.75 3.2,0.75-0.8,0.75 2.7,0.75-1.1,0.75-4.2,0.75-2.1,0.75 2.2,0.75-3.5,0.75-1.1,0.75 2.1,0.75 1.4,0.75-3.6,0.75 2.6,0.75-0.6,0.75 1.2,0.75 0,0.75-2.2,0.75-3.2,0.75-4.7,0.75 6.4,0.75 2.1,0.75 1.1,0.75-4.4,0.75-3.5,0.75-3,0.75 0.7,0.75 3,0.75-0.8,0.75 2.5,0.75-2.6,0.75 1.9,0.75 4.2,0.75 2.4,0.75 1.5,0.75-4.7,0.75 5.1,0.75-2,0.75-2.1,0.75 3.4,0.75-3.2,0.75-3.4,0.75 3.5,0.75-1.2,0.75-1.6,0.75 1.8,0.75-1.2,0.75-3.2,0.75 2.3,0.75 0,0.75 5.8,0.75 0,0.75-1.9,0.75 2.1,0.75 0.2,0.75 1.3,0.75 3,0.75-2.3,0.75 1.1,0.75-1.2,0.75-0.3,0.75-2.7,0.75-0.6,0.75-0.8,0.75-1,0.75 2.5,0.75-2,0.75 4.2,0.75-4.6,0.75-0.9,0.75 7.1,0.75-2.2,0.75-5,0.75 5,0.75-4.9,0.75 4.1,0.75 1.3,0.75-0.7,0.75 2.2,0.75-1.5,0.75 2.6,0.75-0.2,0.75-4.7,0.75-1.5,0.75 0.9,0.75 1,0.75 3.4,0.75-5.8,0.75 2.6,0.75 0.5,0.75-3.4,0.75 3.5,0.75-1.6,0.75-1.9,0.75 4.9,0.75 0.3,0.75-1.5,0.75-0.2,0.75 0.3,0.75-5.6,0.75 1.9,0.75 0.3,0.75-1,0.75 5.2,0.75-2.4,0.75 2.4,0.75-3.6,0.75-0.1,0.75 1,0.75 3.6,0.75-1.5,0.75-3.6,0.75 0.1,0.75 0.8,0.75-1.6,0.75 0.7,0.75 3.3,0.75 3,0.75-4.1,0.75 2.1,0.75-4.5,0.75 3.7,0.75-4.9,0.75 9.6,0.75-2.5,0.75-6.4,0.75-3.7,0.75 2.6,0.75 2.1,0.75 6,0.75 0.1,0.75-6.7,0.75-1.3,0.75 7.4,0.75 1.1,0.75-0.6,0.75 3.1,0.75-2.1,0.75-0.7,0.75 4.7,0.75-3.2,0.75-4.2,0.75 3.1,0.75-0.6,0.75-1.3,0.75-2.9,0.75 2.4,0.75 1.4,0.75-0.5,0.75-3.8,0.75-0.8,0.75 1,0.75-1.3,0.75 0.4,0.75-0.1,0.75 1.8,0.75-4,0.75-3.5,0.75-3.2,0.75 0.5,0.75 3.8,0.75-0.1,0.75 1.5,0.75 7.8,0.75 3,0.75 0.2,0.75-6.7,0.75 1.6,0.75-6.4,0.75 1.8,0.75 2.5,0.75-1.7,0.75 0.2,0.75-2.6,0.75 3.3,0.75 2.5,0.75 1,0.75-3,0.75 3,0.75-1.4,0.75-4.8,0.75 0.1,0.75-2.1,0.75 3.7,0.75 1.4,0.75-2.1,0.75 0.6,0.75-1.9,0.75 5.3,0.75 4.1,0.75 1.2,0.75-5.6,0.75 2.6,0.75-6.2,0.75-1,0.75-4.4,0.75 7.6,0.75 0.9,0.75 2.5,0.75-1.3,0.75 0.1,0.75 1.5,0.75-1.7,0.75 0.8,0.75-3.3,0.75 0.6,0.75 4.6,0.75-4.2,0.75 3.5,0.75-5.4,0.75-0.5,0.75 1.5,0.75 2,0.75-0.2,0.75 0.9,0.75-1.9,0.75 4.5,0.75-1.7,0.75-3.5,0.75-0.4,0.75-3.1,0.75-3.4,0.75 0.5,0.75 0.3,0.75 2.2,0.75 5.3,0.75-1.8,0.75 1.6,0.75-7.1,0.75 2.5,0.75-0.9,0.75 1.6,0.75-1.6,0.75 2.2,0.75 1.5,0.75 3.8,0.75-2.6,0.75 1.9,0.75 1.1,0.75-2.9,0.75-2.6,0.75 2.3,0.75-2.9,0.75-6,0.75 3.4,0.75 0.1,0.75-4.8,0.75-0.3,0.75 9.6,0.75-2.2,0.75-0.8,0.75 5.8,0.75-2.9,0.75-2.3,0.75 1.6,0.75-2.5,0.75 4.7,0.75-0.4,0.75-2,0.75-6.3,0.75 1,0.75 3.9,0.75 1.6,0.75-3.1,0.75-4.1,0.75 6.4,0.75-0.6,0.75 4.3,0.75 1.2,0.75 3.7,0.75-2.2,0.75-4.3,0.75 0.1,0.75-2,0.75-1,0.75-1.2,0.75 2.3,0.75-0.3,0.75-1,0.75 4.3,0.75-0.9,0.75-0.1,0.75 2.2,0.75 2.3,0.75 1.6,0.75-1.5,0.75-3.5,0.75 5.8,0.75-8.6,0.75 0.6,0.75 1.6,0.75 1.6,0.75-4.5,0.75 2,0.75-2.2,0.75 0.7,0.75 5.9,0.75-2.6,0.75 1.4,0.75-0.3,0.75 0.8,0.75-4.8,0.75 3.8,0.75-2.1,0.75 0.5,0.75-2.4,0.75 7.9,0.75-2.5,0.75-2.4,0.75-1.1,0.75-0.3,0.75-4,0.75 5.4,0.75 0.1,0.75 3,0.75-0.2,0.75 0.9,0.75-4.8,0.75 0.2,0.75 1.7,0.75-3.6,0.75 1.1,0.75-0.7,0.75 5.5,0.75-3.8,0.75-2.1,0.75 2.6,0.75-3.3,0.75 2.4,0.75-0.8,0.75-2.7,0.75 3.3,0.75 1.1,0.75-2.3,0.75 1.8,0.75 1.1,0.75-3,0.75 2.3,0.75 0.6,0.75-3.3,0.75 1.7,0.75 4.1,0.75 0.6,0.75 0.1,0.75-3.4,0.75-1.8,0.75-3,0.75 5.8,0.75-2.5,0.75 3.9,0.75-1.2,0.75-0.1,0.75-5.7,0.75 2.1,0.75 1.7,0.75 4,0.75-0.5,0.75-1.6,0.75 6.2,0.75-1.3,0.75-0.2,0.75-2.6,0.75-1.5,0.75 0.3,0.75-0.5,0.75-0.2,0.75-1.3,0.75-0.8,0.75 2.1,0.75-4.3,0.75 3.4,0.75 4.7,0.75-1.6,0.75-0.8,0.75 3,0.75-2,0.75-2.9,0.75 1.2,0.75-2,0.75-1.2,0.75-3.6,0.75 2.5,0.75-0.2,0.75 1.9,0.75 5.8,0.75-2.3,0.75-0.8,0.75-0.4,0.75-1.4,0.75-1.5,0.75 2.4,0.75-4.8,0.75-3.3,0.75 8.5,0.75-2.3,0.75 3.1,0.75-2.3,0.75-4.2,0.75 1.4,0.75-2.3,0.75 5.4,0.75 1,0.75-3.5,0.75-3.5,0.75-2.7,0.75 8.5,0.75 1.3,0.75-1.6,0.75 5.5,0.75-3.1,0.75 1.3,0.75-5.1,0.75 1,0.75 2.7,0.75 0.7,0.75-0.5,0.75-5.7,0.75-3.5,0.75 2.4,0.75-1.4,0.75 5.5,0.75 2,0.75-4.4,0.75 0.9,0.75-5.2,0.75 6.2,0.75 1.5,0.75-5.2,0.75 3.8,0.75-1.9,0.75 3.3,0.75-2.4,0.75 2,0.75-1.8,0.75-3.2,0.75-1.2,0.75 7.5,0.75 1.3,0.75-1.2,0.75-5.4,0.75 0.2,0.75 2.5,0.75-3.4,0.75 3.5,0.75 0.4,0.75-0.6,0.75 0.3,0.75 0.8,0.75 2.9,0.75-0.2,0.75-2.1,0.75 0.1,0.75 0.8,0.75-2.7,0.75 3,0.75-0.6,0.75-3.1,0.75 1.4,0.75 1.2,0.75-3.9,0.75 0.4,0.75-0.9,0.75 0.6,0.75 4.2,0.75-2.4,0.75 1.3,0.75-0.4,0.75 0,0.75-0.2,0.75-1.1,0.75-0.3,0.75-2,0.75 1.6,0.75 1.7,0.75 3.2,0.75 1.1,0.75 0.6,0.75-1.1,0.75-1.1,0.75-0.2,0.75 4,0.75-4.1,0.75 1.1,0.75-1,0.75-0.5,0.75-3.3,0.75-1.1,0.75 4.7,0.75 0.6,0.75-6,0.75 0.3,0.75 0.7,0.75 1.3,0.75 1.9,0.75-1.3,0.75-2.3,0.75-1.3,0.75 1.6,0.75-0.2,0.75-1.9,0.75 0.8,0.75 1.6,0.75 1,0.75-6.1,0.75 3.3,0.75 5.4,0.75-1.9,0.75-2.3,0.75 0.4,0.75 0.4,0.75-8.4,0.75 4.2,0.75-2.8,0.75 3.1,0.75 1.6,0.75-2.4,0.75 7.2,0.75-4.4,0.75 0.2,0.75 3,0.75 3.1,0.75-3.4,0.75 1.1,0.75 7.2,0.75-4.3,0.75-0.3,0.75 12.4,0.75-19.6,0.75 7.2,0.75 3.4,0.75-15.7,0.75 6.4,0.75 7.8,0.75-0.4,0.75-4.2,0.75 6.1,0.75-4,0.75 3.7,0.75-3.2,0.75-3.1,0.75-3.6,0.75 2.7,0.75-0.3,0.75 0.1,0.75-0.5,0.75-1.4,0.75 0.9,0.75-4.7,0.75 6.8,0.75-1.7,0.75 1,0.75-1,0.75 1.8,0.75 4,0.75-7.2,0.75 4.8,0.75-3.7,0.75 1.6,0.75-1.2,0.75 2,0.75-0.4,0.75-3.2,0.75-1.6,0.75 2.2,0.75 0.2,0.75-0.4,0.75-2.5,0.75-1.6,0.75 1.2,0.75 2.5,0.75 0.8,0.75-1.4,0.75-4.3,0.75 1.3,0.75 3.5,0.75-2.1,0.75 1.7,0.75-0.2,0.75 3.4,0.75-3.2,0.75-2.5,0.75 2.1,0.75 1.2,0.75-2,0.75 1,0.75 2.2,0.75-0.2,0.75 0.6,0.75 1.4,0.75 0.2,0.75-0.4,0.75-1.1,0.75-0.5,0.75-0.2,0.75-0.2,0.75-0.3,0.75 0.1,0.75 0.6,0.75 0.9,0.75 1.7,0.75 1.8,0.75 0.5,0.75-0.3,0.75-0.1,0.75 0.3,0.75-0.1,0.75-0.2,0.75 0,0.75-0.9,0.75-1.3,0.75-1.5,0.75-0.6,0.75-1.3,0.75-0.7,0.75 1.2,0.75 0.6,0.75-0.8,0.75-0.9,0.75 0.2,0.75-0.1,0.75 0,0.75 0.8,0.75 0.3,0.75 0.2,0.75-0.2,0.75 0,0.75 0.2,0.75-0.7,0.75-1,0.75-1,0.75 0.5,0.75 1.2,0.75-0.4,0.75 0.1,0.75 1.3,0.75 1.2,0.75 1.3,0.75 0.5,0.75 0.4,0.75 0.7,0.75-0.2,0.75-0.6,0.75 0.2,0.75 1.1,0.75 0.8,0.75 0,0.75 0.5,0.75 0.7,0.75 0.5,0.75 1,0.75-0.6,0.75-0.1,0.75 0.4,0.75 0,0.75-0.3,0.75 0,0.75-1.3,0.75-1.3,0.75-0.6,0.75-1,0.75-0.8,0.75-0.2,0.75 0.4,0.75-0.2,0.75-0.5,0.75 0.7,0.75 0,0.75 0.4,0.75-0.3,0.75 0.3,0.75-0.2,0.75 0.6,0.75 1.1,0.75 0.1,0.75-0.7,0.75-1,0.75-1.1,0.75-0.9,0.75-1,0.75-0.3,0.75 0.4,0.75 0.6,0.75-0.6,0.75-0.4,0.75 0.1,0.75 0,0.75 0.6,0.75 0.7,0.75 0.2,0.75 0.5,0.75 0.1,0.75-0.6,0.75-0.3,0.75 0.2,0.75 1.2,0.75 0.6,0.75-0.2,0.75 0.3,0.75 0.4,0.75-0.8,0.75-0.9,0.75 1,0.75 0.3,0.75 0.1,0.75-0.8,0.75-0.1,0.75 0.1,0.75 0.5,0.75 0.7,0.75 0.4,0.75-0.1,0.75-1.1,0.75-0.8,0.75 0.2,0.75 0.6,0.75-0.6,0.75-0.9,0.75-1.2,0.75-1.1,0.75-0.6,0.75-0.4,0.75-0.8,0.75-0.1,0.75 0.2,0.75-0.3,0.75 0,0.75-0.2,0.75 0.1,0.75 0.2,0.75 0.7,0.75 0.1,0.75 0.1,0.75-0.4,0.75-0.6,0.75-0.2,0.75-0.1,0.75 0.2,0.75-0.8,0.75-0.4,0.75-0.7,0.75-0.9,0.75-0.6,0.75 0,0.75 0.6,0.75 0.4,0.75 1,0.75-0.1,0.75 0,0.75 0.2,0.75 0.5,0.75 0,0.75 1.1,0.75-0.8,0.75-0.1,0.75 0.2,0.75-0.3,0.75 0.3,0.75 0,0.75 0.3,0.75 1.2,0.75 1.2,0.75 0.8,0.75 0.4,0.75 1.4,0.75 1.3,0.75 1.1,0.75 1,0.75 0.1,0.75-0.1,0.75 0.3,0.75-0.3,0.75-1.3,0.75-1,0.75-0.7,0.75-0.8,0.75-0.7,0.75 0.3,0.75-1,0.75-1.1,0.75-1,0.75 0,0.75 0.2,0.75 0,0.75 0.2,0.75 0.9,0.75 0.4,0.75 0.1,0.75 1,0.75" stroke="#000" stroke-width="0.45"/>
<path d="M312.6,62l-0.7,0.75-1.2,0.75 1.1,0.75 2.2,0.75-0.5,0.75-1.5,0.75 2.2,0.75 2.3,0.75 2,0.75-0.7,0.75 0.9,0.75-0.8,0.75-0.8,0.75 0.2,0.75 0.2,0.75 0.7,0.75 0.1,0.75-1.1,0.75-2.8,0.75 0.9,0.75 0.1,0.75 0,0.75 3.6,0.75 0.6,0.75-2.5,0.75 1,0.75-2.3,0.75-1.4,0.75 1.5,0.75 0.3,0.75-2.6,0.75-1.4,0.75 0,0.75 1.2,0.75 3.3,0.75 0.7,0.75 0.6,0.75-0.8,0.75-1.5,0.75 0.9,0.75 0.6,0.75-1.6,0.75 0.8,0.75-1.8,0.75 0.5,0.75-0.5,0.75 2,0.75 1.3,0.75-1.4,0.75-0.7,0.75-1.2,0.75-0.9,0.75 1.9,0.75-1.1,0.75-1,0.75 3.1,0.75 0,0.75-1.6,0.75-0.7,0.75 0.2,0.75 0.8,0.75-0.8,0.75-0.3,0.75 3,0.75-0.2,0.75 0.9,0.75-0.6,0.75 2,0.75 4,0.75-1.2,0.75-2.4,0.75-2.5,0.75-0.8,0.75-1.5,0.75 1.1,0.75 0.4,0.75-1,0.75-0.8,0.75 4,0.75 1.1,0.75-2.1,0.75-1.2,0.75 0.5,0.75 0.4,0.75 0.8,0.75 1.4,0.75 0.4,0.75-3.9,0.75-2.9,0.75-0.5,0.75-2.2,0.75 3.4,0.75 0.3,0.75 1.4,0.75-0.4,0.75 1.5,0.75-0.4,0.75-5.7,0.75-1.6,0.75 0.9,0.75 1.5,0.75 2,0.75 0.6,0.75 0.7,0.75 2,0.75 1.2,0.75 1.6,0.75-2.4,0.75 0.6,0.75-1,0.75-1.4,0.75 1.7,0.75-0.1,0.75 0.3,0.75-1.2,0.75-0.2,0.75 1.1,0.75 0.8,0.75-2.1,0.75-0.1,0.75 1.6,0.75-1.1,0.75-1.8,0.75 2.2,0.75 1.5,0.75-2.4,0.75-0.2,0.75 2.1,0.75 1,0.75-1.5,0.75-0.2,0.75-0.6,0.75-2,0.75-0.8,0.75 3.5,0.75 0.8,0.75 0.1,0.75-2,0.75-0.7,0.75 0.5,0.75 1.6,0.75 0,0.75 0.6,0.75-0.1,0.75 0.7,0.75-1.3,0.75 1.1,0.75-1.7,0.75-1,0.75-1.6,0.75 0.1,0.75 0.6,0.75-0.6,0.75 0.2,0.75 1,0.75-0.7,0.75 1.5,0.75 3.9,0.75-0.9,0.75-1,0.75 0.2,0.75-0.2,0.75-0.6,0.75-1.5,0.75-0.5,0.75-0.9,0.75 0,0.75 0.5,0.75 0.6,0.75-0.2,0.75-1.7,0.75-0.9,0.75 0.9,0.75-1.2,0.75 1,0.75 0.1,0.75 0.4,0.75 2.5,0.75 0.6,0.75-2.7,0.75-0.8,0.75-0.9,0.75 0,0.75-0.7,0.75 1.2,0.75 1.3,0.75 0.1,0.75-0.8,0.75 2.1,0.75 2.9,0.75-0.9,0.75-0.6,0.75-0.7,0.75-0.8,0.75 0.4,0.75 1.1,0.75-0.1,0.75 0,0.75 0.1,0.75-0.7,0.75-0.8,0.75-4.3,0.75-1.4,0.75 3.8,0.75 1.2,0.75 1.2,0.75-1.8,0.75 1,0.75 0.4,0.75 0.3,0.75-1.6,0.75-0.1,0.75 1.2,0.75-0.9,0.75-0.9,0.75 2.8,0.75 0,0.75-2.3,0.75-1.7,0.75-0.3,0.75-0.4,0.75-1.3,0.75 0.4,0.75 2.1,0.75 1.5,0.75-1.5,0.75-0.5,0.75 1,0.75-1.1,0.75-1.6,0.75 0.8,0.75 0.6,0.75 1.7,0.75 0.4,0.75 1.9,0.75-0.5,0.75 1.3,0.75 2.3,0.75-1.2,0.75-1.7,0.75-1.3,0.75-3.4,0.75-2.7,0.75-1.9,0.75 0.8,0.75 0,0.75 2.3,0.75 1.2,0.75 3.8,0.75 2.1,0.75 0,0.75 0.9,0.75 0.1,0.75 0.4,0.75-1.9,0.75-1.1,0.75-1.1,0.75-1.2,0.75-2.7,0.75-0.1,0.75 2.4,0.75 5.6,0.75 2.2,0.75-0.8,0.75-0.4,0.75-0.5,0.75-1.4,0.75-1.5,0.75 0.9,0.75-0.3,0.75-0.3,0.75-1.7,0.75 0.9,0.75 0.4,0.75 2.5,0.75 1,0.75 1.3,0.75-0.4,0.75 0.4,0.75-2.6,0.75-1.4,0.75-0.6,0.75-0.9,0.75-1.6,0.75-2.7,0.75 2.1,0.75 3.1,0.75-1.8,0.75 0.6,0.75-2.1,0.75 0.2,0.75 1.2,0.75 1.5,0.75 0.4,0.75 1.8,0.75 1.2,0.75 0.9,0.75-3.2,0.75-2.3,0.75-1.6,0.75-0.7,0.75 0.5,0.75 1.4,0.75-0.6,0.75 2.3,0.75 1.4,0.75-0.2,0.75-0.3,0.75 2.3,0.75-0.7,0.75-1.7,0.75-1.7,0.75-1.7,0.75-2.2,0.75 0,0.75 1,0.75-1.7,0.75 1.2,0.75 4,0.75 0.5,0.75 3.2,0.75 1.4,0.75 0.3,0.75-2.6,0.75-1.1,0.75-1.4,0.75-0.6,0.75 0.8,0.75-4,0.75-0.9,0.75 0.8,0.75 1.2,0.75 0.6,0.75 1.4,0.75 0.4,0.75 1.6,0.75-0.7,0.75 0,0.75-1.5,0.75-0.6,0.75 1.2,0.75 1,0.75 2.7,0.75-1.1,0.75-0.5,0.75-0.4,0.75-0.1,0.75-2.2,0.75-3,0.75-1.4,0.75 0.5,0.75-0.1,0.75-0.5,0.75-1,0.75 2.6,0.75-0.1,0.75-1.7,0.75-0.6,0.75 0,0.75 1.6,0.75-0.4,0.75-0.2,0.75 1.6,0.75 6.6,0.75 2.3,0.75-1.7,0.75 0.3,0.75 1.6,0.75-2.2,0.75-2.7,0.75-1.5,0.75 0.6,0.75-1.4,0.75 4.9,0.75 3.7,0.75-0.2,0.75-0.5,0.75-1.3,0.75-1.6,0.75-0.1,0.75-1.7,0.75-0.8,0.75-1.4,0.75-1.8,0.75-1,0.75-0.8,0.75-0.6,0.75 3.4,0.75 2.7,0.75 2.9,0.75 1.9,0.75 0.3,0.75 1.7,0.75 0,0.75-0.4,0.75-3.3,0.75-3,0.75-0.3,0.75 2.4,0.75-1.6,0.75 1.8,0.75 2.7,0.75 0.6,0.75-0.3,0.75-2.3,0.75-2,0.75-1.5,0.75-2.8,0.75-3.2,0.75-0.4,0.75 1.6,0.75 4.5,0.75 1.5,0.75 0.4,0.75 1.6,0.75 1.6,0.75-3.3,0.75-2.2,0.75 1.4,0.75-1.9,0.75-0.6,0.75-2,0.75 1.7,0.75 2.5,0.75 2.6,0.75 1.1,0.75-2.1,0.75-2.1,0.75 0.4,0.75 0.8,0.75 0.8,0.75-0.7,0.75-1.2,0.75-1,0.75-3.4,0.75-0.5,0.75-1.2,0.75-0.3,0.75 3.7,0.75 1.7,0.75-0.8,0.75-1.8,0.75 0.6,0.75 0.7,0.75-0.3,0.75-0.1,0.75 1.9,0.75-0.5,0.75 1,0.75 2.2,0.75-0.5,0.75-0.7,0.75-1.4,0.75 0.1,0.75 0.1,0.75-0.7,0.75 1,0.75-0.9,0.75 1.1,0.75 1.7,0.75 0.8,0.75-0.6,0.75 0.3,0.75 0.4,0.75 2.5,0.75-1.7,0.75-4.2,0.75 0.4,0.75 1.2,0.75-1.9,0.75-2.3,0.75-4.6,0.75 0.8,0.75 2.2,0.75 0.3,0.75 2,0.75 1.7,0.75-0.4,0.75-1.2,0.75-4,0.75-0.7,0.75 0.2,0.75 2.3,0.75-0.3,0.75-2.7,0.75-0.1,0.75 0.1,0.75 2,0.75 5.3,0.75 1,0.75 2.5,0.75 1.4,0.75-0.2,0.75-3.7,0.75-3.8,0.75-0.7,0.75 1,0.75-2.8,0.75-0.7,0.75-1.4,0.75 0.3,0.75 0.3,0.75 1.2,0.75-1.4,0.75-1.6,0.75 1.9,0.75 1.5,0.75 1.8,0.75-1.6,0.75 1.4,0.75 0.7,0.75 0.9,0.75 1.4,0.75 0.4,0.75 0.1,0.75-1.4,0.75-1.1,0.75-0.5,0.75-1.1,0.75-1.7,0.75-0.2,0.75 0.9,0.75 0.9,0.75-1.9,0.75-0.3,0.75 1.6,0.75 2.5,0.75 0.3,0.75-1.3,0.75 2.6,0.75 0.2,0.75-0.4,0.75 1.2,0.75-2.2,0.75-3.6,0.75 0.2,0.75 1.1,0.75-0.9,0.75-0.8,0.75-1.3,0.75 3.2,0.75 3.2,0.75 2.8,0.75-0.5,0.75-2.6,0.75 1.6,0.75 2,0.75-0.7,0.75-4.3,0.75-2.4,0.75 0.3,0.75 0.2,0.75 0.6,0.75-1.3,0.75 0.2,0.75 1.6,0.75 1.5,0.75 2.1,0.75-0.5,0.75-2.4,0.75 0,0.75 1,0.75 1.9,0.75-0.7,0.75 0.8,0.75-0.8,0.75-0.6,0.75 2.6,0.75 1.4,0.75 0.5,0.75 0.8,0.75-0.3,0.75 1,0.75 1.3,0.75-2,0.75-4.2,0.75-0.7,0.75-0.4,0.75-0.1,0.75-1,0.75-0.7,0.75 0.1,0.75 1.8,0.75 0.5,0.75-0.8,0.75-0.4,0.75-0.4,0.75 1.4,0.75-1.2,0.75-1.1,0.75-1.1,0.75-2.1,0.75-1.9,0.75 2.4,0.75 4.3,0.75 1.3,0.75 0.5,0.75 1.3,0.75 0.2,0.75-0.5,0.75-0.8,0.75 0.7,0.75-0.8,0.75 0.3,0.75-1.1,0.75-0.6,0.75 0.8,0.75-0.5,0.75-0.6,0.75 1.1,0.75 1.2,0.75-0.1,0.75-0.4,0.75 0,0.75 0,0.75 0.4,0.75 1.2,0.75 0.3,0.75-0.1,0.75-0.3,0.75-0.9,0.75 1.1,0.75 1,0.75-1.4,0.75-1.7,0.75-0.7,0.75-0.3,0.75-1,0.75-0.6,0.75-0.1,0.75 0.8,0.75 1.5,0.75 0.2,0.75 0.7,0.75-0.6,0.75-0.4,0.75 1.2,0.75 1.4,0.75 0.4,0.75 0,0.75 1.4,0.75 0.9,0.75 0.6,0.75-0.4,0.75-1.1,0.75-0.3,0.75-0.4,0.75-0.9,0.75-0.6,0.75-0.3,0.75 0,0.75 0.1,0.75-0.8,0.75-0.9,0.75-0.4,0.75 0.7,0.75 0.5,0.75 0.9,0.75-0.4,0.75 0.9,0.75 0.5,0.75-0.4,0.75-0.7,0.75-1,0.75-0.1,0.75 0.6,0.75-0.4,0.75-0.4,0.75 0.9,0.75 0.4,0.75-0.2,0.75 0.2,0.75 0.1,0.75-0.7,0.75-0.7,0.75 0.1,0.75-1,0.75-0.9,0.75 0,0.75-0.3,0.75-0.5,0.75-1.3,0.75-0.1,0.75 0.9,0.75-0.4,0.75-1.6,0.75-0.3,0.75 0.3,0.75 0.5,0.75 0.6,0.75-0.2,0.75-1.4,0.75-1.3,0.75-0.3,0.75 0.4,0.75 0.4,0.75 0.2,0.75 0.9,0.75 1.4,0.75 0.4,0.75 0.2,0.75 0.6,0.75 0.5,0.75 0,0.75 0.5,0.75 0,0.75-0.5,0.75-0.7,0.75 0.4,0.75-0.1,0.75-0.2,0.75-0.3,0.75-0.5,0.75 0.4,0.75 0,0.75-0.4,0.75 1,0.75 0.6,0.75 0,0.75 1,0.75 0.2,0.75-1,0.75-0.6,0.75 0,0.75 0.4,0.75 0,0.75-1.2,0.75-0.8,0.75 0.3,0.75-1,0.75-1.2,0.75 0.1,0.75 0,0.75-0.3,0.75-1,0.75 0,0.75 1.8,0.75 1.2,0.75-0.9,0.75-0.6,0.75 0.6,0.75 0,0.75 0.1,0.75-0.1,0.75-1.1,0.75-0.9,0.75 1,0.75 1.2,0.75 0.2,0.75-0.2,0.75-0.3,0.75 0.2,0.75 0.6,0.75 1.7,0.75 1.4,0.75-0.9,0.75-1.1,0.75 0,0.75-0.1,0.75-0.7,0.75-1.1,0.75-0.7,0.75-0.5,0.75-0.9,0.75-0.4,0.75-0.3,0.75 0.4,0.75 0.5,0.75-1.4,0.75-0.5,0.75 1.4,0.75 1,0.75 0.6,0.75-0.5,0.75 0.6,0.75 2.3,0.75 1.5,0.75 0.7,0.75 0.9,0.75-0.4,0.75-0.6,0.75-0.5,0.75 0.6,0.75-0.5,0.75 0.7,0.75 1.2,0.75-0.1,0.75-1.1,0.75-0.4,0.75-0.4,0.75-0.3,0.75-0.3,0.75-1.1,0.75 0,0.75-0.2,0.75-2.2,0.75-0.2,0.75 1.7,0.75 0.9,0.75-1,0.75 0.1,0.75 0.1,0.75" stroke="#000" stroke-width="0.45"/>
<path d="M320.8,62l-1.9,0.75 4,0.75-2.5,0.75-0.1,0.75-1.3,0.75-4.2,0.75 3.2,0.75-1.5,0.75 4.5,0.75-5.9,0.75 2.5,0.75 1.4,0.75 2,0.75-1.3,0.75 5.1,0.75-1.5,0.75 1.2,0.75 0.8,0.75 1.1,0.75-7.2,0.75-1,0.75 0.1,0.75-2.1,0.75 1.4,0.75-3.4,0.75 8.8,0.75-3.9,0.75-0.8,0.75-2.4,0.75 4.8,0.75 0.4,0.75-3.1,0.75 0.3,0.75-3.6,0.75 1.5,0.75-1.7,0.75 1.8,0.75-0.6,0.75 1.8,0.75-2.9,0.75 1.6,0.75 0.4,0.75 1.6,0.75-0.6,0.75 0.8,0.75-0.6,0.75 4.3,0.75 0.2,0.75-0.1,0.75-1.2,0.75 3,0.75-3.3,0.75-0.7,0.75-3.5,0.75 0.4,0.75-3.3,0.75-0.1,0.75 1.7,0.75 7.9,0.75-0.8,0.75 4.4,0.75-5.5,0.75 2.5,0.75-4.2,0.75 0,0.75 2.1,0.75-0.7,0.75-4.1,0.75 5,0.75 0.2,0.75-2.9,0.75-1.6,0.75-2.6,0.75 1.8,0.75-3.6,0.75 2.5,0.75 2,0.75 0.2,0.75 0.6,0.75 5.6,0.75-3.5,0.75-4.2,0.75 2.6,0.75 2.1,0.75-2.7,0.75 1.5,0.75-1.9,0.75-0.6,0.75-2.8,0.75-0.8,0.75 4.5,0.75-0.6,0.75 0.4,0.75 0.4,0.75-1.5,0.75-1.6,0.75-2.6,0.75-1.2,0.75 0.1,0.75 4.3,0.75 0.4,0.75-0.2,0.75 3.5,0.75 2.8,0.75-6,0.75 3.6,0.75 3.5,0.75-7.4,0.75 2.4,0.75-1.6,0.75-1,0.75 5.5,0.75-2.1,0.75-2.6,0.75-2.6,0.75 4.8,0.75-0.8,0.75 4.1,0.75-1.6,0.75-0.2,0.75 0.8,0.75-3.6,0.75-3.5,0.75 0.1,0.75-1,0.75 4.6,0.75-2.8,0.75 2,0.75-0.1,0.75 6,0.75 5,0.75-5.6,0.75 0.5,0.75 1.1,0.75 3.1,0.75 0.5,0.75 4.1,0.75-5,0.75-5.1,0.75-5.5,0.75 4.4,0.75-2.2,0.75-1.7,0.75 2.8,0.75-0.1,0.75 1.8,0.75-3,0.75-3.5,0.75 3.8,0.75 5.2,0.75-1.8,0.75-0.3,0.75 1.2,0.75 9.1,0.75-3.4,0.75-7.6,0.75 1.5,0.75 0.1,0.75-1.8,0.75-3,0.75 1.9,0.75-3.6,0.75 6.2,0.75 0.5,0.75 1.4,0.75-4.5,0.75-3.3,0.75 5.4,0.75-1.1,0.75-3.9,0.75-3.5,0.75 2.4,0.75 6.1,0.75 0,0.75-1.8,0.75 1.8,0.75 3.1,0.75-4.2,0.75-0.8,0.75 1.2,0.75-6.8,0.75 9.6,0.75-5.4,0.75 5,0.75-9.3,0.75 2.6,0.75-8.3,0.75 5.4,0.75 10.1,0.75-11.1,0.75 0.9,0.75 1.5,0.75 4.3,0.75-5.8,0.75 3.2,0.75-3.5,0.75 23.4,0.75-18.6,0.75 2,0.75-5.7,0.75 6.1,0.75-4.4,0.75-9.4,0.75 27.5,0.75-17.1,0.75-1.1,0.75 5.4,0.75-15.8,0.75 10.8,0.75-5.2,0.75 2.6,0.75-0.1,0.75-11.7,0.75 11.8,0.75 6.7,0.75-5.5,0.75 6.7,0.75-2.4,0.75 7.9,0.75-9.4,0.75 1.9,0.75-0.4,0.75-1.1,0.75 10.9,0.75-7.4,0.75-3,0.75 1.1,0.75 6.7,0.75-15.5,0.75 13.4,0.75-11.2,0.75 4.9,0.75 5.6,0.75 0.9,0.75-12.5,0.75 12.1,0.75-1,0.75 11,0.75-20.4,0.75 8.9,0.75-6.4,0.75 2.2,0.75 2.8,0.75-1.5,0.75 4.1,0.75-3.3,0.75-5.1,0.75 21,0.75-10,0.75-8.3,0.75 10,0.75 2.5,0.75-2.9,0.75-0.1,0.75 7.9,0.75-12.1,0.75-1.6,0.75-2.7,0.75-1.4,0.75-1.7,0.75 5.5,0.75 5.4,0.75-5.3,0.75-1.9,0.75-5.4,0.75-0.7,0.75-2.6,0.75 17.7,0.75-7.8,0.75-2.7,0.75 5,0.75-1.4,0.75 5,0.75-3.9,0.75-6.5,0.75 2.6,0.75-1.3,0.75 1.8,0.75-5.6,0.75 12.6,0.75-3.3,0.75-1.6,0.75 0.4,0.75 0.8,0.75-4.5,0.75 3.6,0.75 5.3,0.75-0.7,0.75-7.7,0.75 2.4,0.75 0.9,0.75-6.6,0.75 1.6,0.75 1,0.75 0.7,0.75-3.2,0.75-1.6,0.75 5.7,0.75 1.2,0.75 8.6,0.75-0.2,0.75-6.6,0.75 2.7,0.75-6.7,0.75 3.6,0.75 6.3,0.75-0.3,0.75-1.6,0.75-0.1,0.75 4.1,0.75-12.1,0.75 1,0.75-3.9,0.75 7.7,0.75 0.8,0.75 7.3,0.75-5,0.75 3.2,0.75-3,0.75-0.1,0.75 1,0.75 1.3,0.75-6.1,0.75-3.4,0.75 5.4,0.75 2.9,0.75-5.1,0.75 7.6,0.75-5.9,0.75 3.3,0.75-0.1,0.75 1.4,0.75 3.5,0.75-9.4,0.75-0.1,0.75 1,0.75 2.2,0.75-3.9,0.75 6.4,0.75-5.6,0.75-1.3,0.75-1.5,0.75 5.1,0.75 1.5,0.75-11.9,0.75 10.4,0.75-3,0.75 7.1,0.75 0.6,0.75 0.2,0.75-2.8,0.75-3.2,0.75 2.6,0.75-6.8,0.75 6.9,0.75-2.1,0.75-6.9,0.75-1.1,0.75 9.9,0.75-7.2,0.75-2.7,0.75 7.2,0.75-1.9,0.75 1.1,0.75-0.8,0.75 0,0.75 0.6,0.75-1.4,0.75-10.6,0.75 6.8,0.75 4.5,0.75 1.8,0.75-5,0.75 0.4,0.75-3.8,0.75-4.4,0.75 2.6,0.75 4.4,0.75-1.8,0.75 3.7,0.75-6.5,0.75 2.8,0.75-0.9,0.75 3.4,0.75-2.3,0.75 3.4,0.75 0.4,0.75 2.8,0.75 5.5,0.75-10.4,0.75 5.2,0.75-6.5,0.75 0,0.75-2.8,0.75 2.4,0.75 6.3,0.75-3.6,0.75 7.3,0.75-6.9,0.75 3.7,0.75-1.4,0.75-3,0.75 4.2,0.75-3.2,0.75 4.2,0.75-4.3,0.75 2.9,0.75 0.1,0.75 5.1,0.75-5.7,0.75-5.2,0.75-4,0.75 5.4,0.75 4.2,0.75-3,0.75-5.6,0.75 1.5,0.75 1.8,0.75-1.3,0.75 3.3,0.75 0.3,0.75 1.7,0.75 3.1,0.75-10.7,0.75-0.5,0.75 12,0.75-5.6,0.75 2.7,0.75-1.1,0.75-7.6,0.75 1.8,0.75 5.3,0.75 1.9,0.75-1.1,0.75 1.1,0.75-4.9,0.75 0.6,0.75-2.1,0.75 3.8,0.75-4.7,0.75 2.4,0.75 1.4,0.75-6.1,0.75 13.6,0.75-9.7,0.75 2.1,0.75-1.9,0.75-0.8,0.75-6.9,0.75 8.8,0.75-0.4,0.75 0.4,0.75 0.6,0.75 3.9,0.75-4.8,0.75 0.5,0.75 5.6,0.75-6.5,0.75 2.1,0.75-1.8,0.75 5.3,0.75-5.2,0.75 4.2,0.75 1,0.75-3.3,0.75 2.5,0.75-5,0.75-4.5,0.75 5,0.75-4,0.75 2.3,0.75-0.7,0.75 6,0.75-4.9,0.75 1.3,0.75 2.9,0.75-2,0.75 4.6,0.75 1.3,0.75-3.6,0.75-2.1,0.75 1.7,0.75 4.1,0.75-6,0.75-0.2,0.75-3.5,0.75-1.7,0.75 3.5,0.75-8,0.75 10.5,0.75-2.9,0.75 1.2,0.75-5.5,0.75-3.6,0.75-6,0.75 8.1,0.75 6.8,0.75 0.7,0.75 2.1,0.75-4.2,0.75 2.6,0.75 7.8,0.75-8.4,0.75-0.2,0.75 10,0.75-5.1,0.75-2,0.75-6.8,0.75-4.7,0.75 4.3,0.75 2.8,0.75 6.2,0.75 4,0.75-7.5,0.75 3.8,0.75-5.9,0.75-0.9,0.75-0.1,0.75-3.5,0.75 1.2,0.75 17.8,0.75-13.7,0.75 12.8,0.75-9.8,0.75 4,0.75-9.8,0.75 16.2,0.75-8.7,0.75-10.5,0.75 7.9,0.75 5.9,0.75-9.5,0.75 13.6,0.75-9.3,0.75-1,0.75-9.6,0.75 5.1,0.75 7.5,0.75-6.6,0.75-2.7,0.75-1.7,0.75 4.8,0.75 11.3,0.75-4.8,0.75-3.7,0.75 11.8,0.75-4.8,0.75 8.7,0.75 0.5,0.75-8.4,0.75-8.3,0.75 3.1,0.75 9.2,0.75 1.1,0.75-3.9,0.75 3.8,0.75-4.1,0.75-9.6,0.75 9.6,0.75-4.2,0.75-1.7,0.75-3.1,0.75 10.8,0.75-7,0.75-5.4,0.75 7.8,0.75 10.8,0.75-11.7,0.75-5.2,0.75 3.1,0.75 0.6,0.75 0.4,0.75-5.3,0.75 1.1,0.75 0.4,0.75 6.4,0.75-4,0.75 3.7,0.75 12,0.75-14.7,0.75-1.9,0.75-0.2,0.75-5.3,0.75 9.6,0.75-6.6,0.75 11.3,0.75-8.9,0.75 9.7,0.75-8.3,0.75 3.3,0.75-5.1,0.75 4.7,0.75 0.4,0.75-7,0.75 0.5,0.75 0.5,0.75 0.9,0.75 0.4,0.75-0.9,0.75-0.3,0.75-3,0.75 3.1,0.75 1.2,0.75 0.4,0.75 4.4,0.75" stroke="#000" stroke-width="0.45"/>
<path d="M319.3,62l5.9,0.75-3.2,0.75-0.2,0.75 0.8,0.75 0.4,0.75 3.2,0.75-0.8,0.75 0.4,0.75 0.3,0.75-0.9,0.75 3.4,0.75 2.1,0.75-7.7,0.75 2.2,0.75 1.4,0.75-2.8,0.75-3,0.75 0.9,0.75 4.1,0.75-0.3,0.75 1.7,0.75 1.4,0.75-5.3,0.75-2.3,0.75 2.3,0.75-3.2,0.75-3.9,0.75-1.8,0.75 9.9,0.75 1.6,0.75-3.2,0.75 1.6,0.75 0.6,0.75 2,0.75 3.7,0.75-2,0.75-1.1,0.75-0.3,0.75 0.2,0.75 0.8,0.75-3.6,0.75-1.5,0.75 4.9,0.75-2.8,0.75 0.9,0.75 4.4,0.75-3.3,0.75-0.5,0.75-0.1,0.75-4.3,0.75-2,0.75-1.5,0.75 2.5,0.75-6.5,0.75 2.7,0.75 0.3,0.75 3.4,0.75-2.4,0.75 4.3,0.75 1.8,0.75 1.1,0.75 2.8,0.75-7.5,0.75 4.3,0.75-3.3,0.75-0.8,0.75 3.8,0.75-3.2,0.75 2.2,0.75 6,0.75-6,0.75 6.2,0.75-6.5,0.75 4.8,0.75-7.5,0.75 3.4,0.75 0.4,0.75-0.4,0.75 0.5,0.75-2,0.75 2.4,0.75-0.4,0.75-3.5,0.75 0.3,0.75 11.4,0.75-11.7,0.75 3.7,0.75-1.4,0.75-0.2,0.75 0.6,0.75 7.1,0.75-2.6,0.75-4.9,0.75 4,0.75-1.6,0.75 3.7,0.75-3.4,0.75-2.9,0.75 9.1,0.75-0.1,0.75-2.2,0.75-5.6,0.75-9.3,0.75 0.9,0.75 2.3,0.75 2.7,0.75-0.2,0.75 4.5,0.75-2.4,0.75 1.5,0.75-0.4,0.75 1.9,0.75-2.5,0.75 8,0.75-8.5,0.75-0.4,0.75 2.2,0.75-3.2,0.75 4.3,0.75-0.5,0.75-0.5,0.75-4.1,0.75 1,0.75 1.2,0.75 0.9,0.75 2.3,0.75 1.5,0.75 0.5,0.75-1,0.75 3.3,0.75-0.9,0.75-1.2,0.75-0.8,0.75 0.7,0.75 4.7,0.75-5.1,0.75-2.2,0.75 2.1,0.75-1.5,0.75-3.1,0.75-2,0.75-0.6,0.75 1.6,0.75-0.6,0.75-0.5,0.75 2.9,0.75 2.2,0.75-1.3,0.75-2.3,0.75 3.8,0.75-0.8,0.75 1.6,0.75-3.1,0.75 1.2,0.75 1.7,0.75-3.1,0.75-1.6,0.75-0.2,0.75 0.4,0.75 4.8,0.75-3.5,0.75 2.2,0.75-0.1,0.75 4,0.75 4.3,0.75-11.9,0.75 4.3,0.75-2,0.75 5.9,0.75-13.6,0.75 4.8,0.75 4.4,0.75-2.5,0.75 0.1,0.75-7.6,0.75 5.9,0.75-0.4,0.75 10.6,0.75-7.4,0.75-1,0.75-3,0.75 6.7,0.75-6.2,0.75 1.4,0.75-3.5,0.75 10.6,0.75 1.1,0.75-9.5,0.75 1.8,0.75 6.5,0.75-2,0.75-3.9,0.75 5,0.75 2.6,0.75-5.6,0.75-3.4,0.75 3.4,0.75-4.6,0.75-1.5,0.75 4.3,0.75 5.4,0.75 0.7,0.75-6.8,0.75-2.5,0.75 2.6,0.75 3,0.75 2.9,0.75-5.4,0.75 0.5,0.75 2.5,0.75-4.6,0.75 7.5,0.75 3.4,0.75 2.5,0.75-4.1,0.75-6.8,0.75-4.1,0.75 1.6,0.75-3.3,0.75-0.4,0.75-0.1,0.75 0.6,0.75 7,0.75-3.2,0.75 0.9,0.75 0.8,0.75-6.7,0.75-4.1,0.75 2.2,0.75-1.5,0.75 13.4,0.75-0.1,0.75-8.7,0.75 3.6,0.75 8.2,0.75 2.3,0.75-0.5,0.75-1.5,0.75 0.3,0.75-14.8,0.75-7.8,0.75 7.9,0.75 9.6,0.75-3.9,0.75 4.2,0.75 2.5,0.75-1.9,0.75-7.2,0.75 2.9,0.75 5.9,0.75-0.9,0.75-2.6,0.75 0,0.75 8.4,0.75-1.3,0.75-17.3,0.75-0.4,0.75 1.7,0.75 8.5,0.75 0.6,0.75 1.8,0.75 11.9,0.75-6.1,0.75-8.2,0.75 2.2,0.75-2,0.75 5.5,0.75-17.1,0.75 7.5,0.75 2.3,0.75 6.2,0.75-2.3,0.75 4.9,0.75 0.7,0.75-10.9,0.75 3.2,0.75 0,0.75 1.9,0.75-6.7,0.75 3.9,0.75-3,0.75 1.2,0.75-7.1,0.75 9.5,0.75 0.6,0.75-4.4,0.75 4.3,0.75 4,0.75 4.5,0.75-9.6,0.75 1.7,0.75-2.6,0.75 4,0.75-6.4,0.75 1.9,0.75 2.5,0.75-0.5,0.75-1,0.75-0.6,0.75-1.1,0.75 6,0.75-0.7,0.75-2.6,0.75 5.4,0.75-0.8,0.75-0.3,0.75-1,0.75-5.8,0.75 4.2,0.75-2.7,0.75 1,0.75-2.9,0.75 1.5,0.75-2.1,0.75-6.7,0.75 2.1,0.75-4.9,0.75 4.9,0.75-7.1,0.75 8.6,0.75-4.5,0.75 4.3,0.75 3.2,0.75 2.7,0.75-4,0.75 2.5,0.75 2,0.75-4.9,0.75 1.2,0.75 0,0.75 6.3,0.75 2.4,0.75 3.1,0.75-2.6,0.75-1.1,0.75-8.6,0.75 4.1,0.75-0.7,0.75 5.1,0.75-6.3,0.75-2.3,0.75 2.5,0.75-1.1,0.75-0.1,0.75 0.7,0.75 7,0.75 1.4,0.75-6.2,0.75 1.4,0.75 2.2,0.75-5.1,0.75 0.8,0.75-7.1,0.75-3.7,0.75 3.5,0.75 5.3,0.75-2.7,0.75-0.7,0.75 8.7,0.75 4.6,0.75-6.4,0.75 3.8,0.75 2.5,0.75-8.7,0.75 0.8,0.75-3.3,0.75-1.8,0.75 1.4,0.75 8.7,0.75 1.3,0.75-0.8,0.75 5.8,0.75-7.6,0.75-0.2,0.75 1.6,0.75-4.2,0.75-1.6,0.75 0.2,0.75-2.9,0.75 4,0.75 0.8,0.75-1.9,0.75-4.2,0.75 5.2,0.75-1.8,0.75 3.1,0.75 2.1,0.75 2.6,0.75-2.3,0.75-8.9,0.75 4.9,0.75 1.2,0.75 6.2,0.75 7.3,0.75-2.7,0.75-3.1,0.75-5.2,0.75-2.3,0.75 1,0.75 3,0.75 5.2,0.75-1.2,0.75-1.5,0.75-0.1,0.75 1.4,0.75 1.9,0.75-1.4,0.75-11.9,0.75-3.3,0.75 7.8,0.75 0.4,0.75 2.2,0.75 2.1,0.75-5.9,0.75 2.2,0.75-6.2,0.75 6.7,0.75-4.3,0.75-0.8,0.75-2.8,0.75 7.2,0.75-2,0.75-2.4,0.75-6.7,0.75 3,0.75 6,0.75-3.6,0.75-0.9,0.75-1.3,0.75-4.4,0.75 2.6,0.75-7.8,0.75 14.1,0.75 5.3,0.75 0.9,0.75 3.8,0.75-0.9,0.75 5.7,0.75-8.6,0.75-3.9,0.75 1.6,0.75-7.2,0.75-1.1,0.75 5.4,0.75-10.7,0.75 7.5,0.75-4.8,0.75 4.5,0.75 2.2,0.75 0.3,0.75-4,0.75 6,0.75 2.3,0.75 3.9,0.75-7.3,0.75-8,0.75-2.8,0.75-3.1,0.75 5.3,0.75-0.1,0.75-5.1,0.75 6.8,0.75 8.9,0.75-5.6,0.75 4.4,0.75-3.6,0.75-1.4,0.75-4.2,0.75-3.4,0.75 3.4,0.75 6.9,0.75 5.1,0.75-5.1,0.75-0.4,0.75-0.5,0.75-5.1,0.75 1,0.75 6.5,0.75 0.7,0.75-4.4,0.75-4.3,0.75 2.3,0.75-1.2,0.75 2.3,0.75-2,0.75 2.1,0.75 3.8,0.75-1.6,0.75-4.3,0.75 4.7,0.75 0.6,0.75 5.5,0.75-7.8,0.75 2.1,0.75-2.4,0.75-2.8,0.75 0.1,0.75 6.4,0.75 1.6,0.75-4.9,0.75-0.7,0.75 3.9,0.75-5,0.75 0.4,0.75 5.7,0.75-5.4,0.75 3,0.75-4.5,0.75 2.3,0.75-0.8,0.75 0.7,0.75 5.5,0.75 8.5,0.75-4,0.75-4.7,0.75 3.5,0.75-14.3,0.75 7.5,0.75-4.8,0.75-2.8,0.75 2.5,0.75 0.7,0.75-4.5,0.75 5.3,0.75-6.6,0.75 13.1,0.75 2.6,0.75 9.5,0.75-7.1,0.75-6.8,0.75-3,0.75 3.2,0.75-1.5,0.75-9.3,0.75-0.7,0.75 13.9,0.75-1.1,0.75-8.7,0.75 11.6,0.75-6,0.75-2.2,0.75 1.1,0.75 3.9,0.75-3.3,0.75 0.8,0.75 4.4,0.75-9.6,0.75 5.5,0.75 1.5,0.75 4.7,0.75-2.6,0.75 3.8,0.75 0.3,0.75-0.1,0.75-12.6,0.75 0,0.75 0,0.75 10.4,0.75-3,0.75-1.4,0.75 0.4,0.75-1.4,0.75 5.8,0.75-7.4,0.75 4.8,0.75-1.4,0.75-5.8,0.75 8.7,0.75-3,0.75-2.2,0.75-4.1,0.75 8.1,0.75-5.6,0.75-2,0.75 11.5,0.75-6.3,0.75 1.6,0.75 1.9,0.75 3,0.75-12.9,0.75-3.3,0.75 13.2,0.75-4.6,0.75 3.5,0.75 3.1,0.75 0.8,0.75-12.1,0.75-1.6,0.75-6.4,0.75 9.7,0.75 0.2,0.75 2.5,0.75 8.2,0.75-7.9,0.75-0.7,0.75 1.6,0.75 3.2,0.75-7.4,0.75 0.3,0.75 4.2,0.75-4,0.75 1.5,0.75-0.2,0.75 4.2,0.75-1.3,0.75 4,0.75-2,0.75 1.3,0.75-4.1,0.75 0.7,0.75-8.7,0.75 11.6,0.75-3,0.75-3.6,0.75 1.3,0.75 2.4,0.75 2.4,0.75-1,0.75 5.4,0.75-1.6,0.75-0.9,0.75 1.1,0.75 1.5,0.75-6.2,0.75 0.8,0.75 5,0.75-3,0.75-1,0.75 3.4,0.75-0.4,0.75-7,0.75 0,0.75 5.7,0.75 2.2,0.75-2.6,0.75 1.8,0.75-3.6,0.75 2.5,0.75-4.9,0.75 3.1,0.75-0.2,0.75-2.3,0.75 0.7,0.75 0,0.75 1.3,0.75-4.7,0.75 2.8,0.75-7.3,0.75 7.5,0.75-0.3,0.75 2.4,0.75 0.7,0.75-3,0.75 2,0.75-2.3,0.75-2,0.75 1.9,0.75-0.2,0.75-7.2,0.75 4.7,0.75-2,0.75 5.9,0.75 0.1,0.75-0.9,0.75 1.4,0.75-0.8,0.75-0.8,0.75-7.7,0.75 10.9,0.75-3.6,0.75-5.1,0.75 6.2,0.75-1.3,0.75-0.1,0.75 5.6,0.75-3.1,0.75-0.6,0.75 5.1,0.75-3.9,0.75 4.7,0.75-4.4,0.75 2.7,0.75 2.7,0.75-3,0.75-4.5,0.75-1.5,0.75 3.5,0.75-1.3,0.75 6.7,0.75-2.7,0.75-9.3,0.75 2.6,0.75 3.9,0.75 1.4,0.75-5,0.75 1.5,0.75-3.7,0.75 1.8,0.75 2.3,0.75-5.3,0.75 6.2,0.75 2.3,0.75-4.8,0.75 2.2,0.75 4.7,0.75-3.1,0.75 2,0.75-0.2,0.75 3,0.75 1.3,0.75-2.6,0.75-3.2,0.75 0.1,0.75-6.8,0.75-0.1,0.75 0.2,0.75 0.8,0.75-1.6,0.75 3.6,0.75 3.1,0.75-4.3,0.75-0.8,0.75 3.5,0.75 0.4,0.75-0.2,0.75-2.8,0.75-2.1,0.75 4.3,0.75-1.7,0.75 0.1,0.75 3.3,0.75 0.3,0.75-1.6,0.75 0.2,0.75-1.9,0.75-0.4,0.75 4.3,0.75-5.8,0.75 4.3,0.75-0.3,0.75 3.7,0.75-4,0.75 2,0.75-0.8,0.75 0.4,0.75-0.4,0.75-3.1,0.75-2.3,0.75 0.7,0.75-2.1,0.75 6.3,0.75-3.4,0.75 2,0.75-1,0.75 4,0.75-5.5,0.75 0.1,0.75 2.9,0.75-2.9,0.75-1.6,0.75 3.8,0.75-2.4,0.75 2.3,0.75 2.4,0.75-3.1,0.75-0.1,0.75 2.2,0.75 3.6,0.75 3.4,0.75-3.2,0.75-0.6,0.75-3.7,0.75-0.3,0.75-0.8,0.75-5.1,0.75 4.3,0.75 1.2,0.75 3.2,0.75 1.5,0.75-1.1,0.75 1.4,0.75-0.2,0.75-1.3,0.75-2.6,0.75 0,0.75-0.3,0.75-1.6,0.75 0.7,0.75-3,0.75 3.6,0.75-1.8,0.75-3.9,0.75 5.8,0.75 0.8,0.75-0.9,0.75-3.8,0.75 0.3,0.75 2.3,0.75 0.5,0.75 4.2,0.75-2.3,0.75-1.1,0.75" stroke="#000" stroke-width="0.45"/>
<path d="M327.5,62l2,0.75 1.2,0.75 3.6,0.75-6.6,0.75 5.5,0.75-3.4,0.75-3.8,0.75-2.9,0.75 1.3,0.75 2.2,0.75-3.3,0.75 3.8,0.75 2.8,0.75-4.6,0.75 5.5,0.75 0.6,0.75-1.2,0.75-2.6,0.75 0.6,0.75 0.4,0.75 0.5,0.75-1.3,0.75-0.2,0.75 1.3,0.75-0.7,0.75-0.1,0.75 0.3,0.75 0.5,0.75-2.2,0.75-0.3,0.75 1.8,0.75 2.1,0.75-4,0.75 2,0.75-0.7,0.75-2.2,0.75 4,0.75-2.9,0.75-3.7,0.75 9.4,0.75-0.2,0.75-7.8,0.75 6.3,0.75-2.3,0.75-2.9,0.75 1,0.75-2.7,0.75 4.8,0.75-2.5,0.75 3.8,0.75 0.9,0.75 2.1,0.75 0.3,0.75-2.3,0.75 2.4,0.75-1.9,0.75 1.4,0.75-3,0.75 6.3,0.75-3.4,0.75 0,0.75 0.8,0.75 2.9,0.75-3.1,0.75-1.4,0.75 0.9,0.75-3.2,0.75 1.4,0.75 1.2,0.75-2.7,0.75-3.1,0.75 5.6,0.75-4.6,0.75-5.6,0.75 1.8,0.75 10.4,0.75-5.4,0.75-2.4,0.75-1.5,0.75 0.6,0.75 2.4,0.75 2.6,0.75-0.2,0.75 0.3,0.75 2.9,0.75 2.5,0.75 0.8,0.75 2.1,0.75-4.1,0.75-0.8,0.75-9.9,0.75 0.1,0.75 5.4,0.75-2,0.75-2.9,0.75 7.8,0.75 0,0.75-6,0.75 0.4,0.75-2.9,0.75-1.6,0.75 4,0.75-0.9,0.75 2,0.75 0.1,0.75 0.5,0.75 2.7,0.75 3.6,0.75-7,0.75 2.3,0.75 2.8,0.75-2.2,0.75-0.9,0.75-0.9,0.75-2.1,0.75 0.3,0.75 2.8,0.75-4.1,0.75 4.2,0.75-0.5,0.75-0.1,0.75 2.5,0.75-1.7,0.75 3.6,0.75-7,0.75 1.8,0.75-0.9,0.75 0.5,0.75-1.4,0.75 2.9,0.75-2.6,0.75 4.8,0.75-2.4,0.75-0.1,0.75-3.9,0.75-0.5,0.75-1.9,0.75-2.6,0.75 2,0.75-1.1,0.75 3.4,0.75 5.6,0.75-4.9,0.75-3.5,0.75 6.9,0.75 1.9,0.75-5.9,0.75 1.4,0.75 0.9,0.75 4.8,0.75-3.8,0.75 2.7,0.75-0.6,0.75 2.5,0.75-4.9,0.75-2.2,0.75-0.8,0.75 1.7,0.75 1.3,0.75 5.3,0.75 3.1,0.75-0.3,0.75-5.1,0.75 2.4,0.75-2.7,0.75 0.8,0.75 7.4,0.75-7.1,0.75 2.3,0.75 1.1,0.75-7.5,0.75-1.1,0.75 2,0.75 0.1,0.75 0.9,0.75 0.8,0.75 2,0.75-4.1,0.75-2,0.75 4.3,0.75 2.2,0.75-7.8,0.75 4.8,0.75-2.2,0.75-1.7,0.75 1.2,0.75 4.4,0.75-0.1,0.75 0.8,0.75-4.9,0.75 3.2,0.75 2.1,0.75-0.9,0.75-4.9,0.75 11.4,0.75-0.4,0.75-4.7,0.75 6.8,0.75-10.5,0.75 4.5,0.75-6.1,0.75-5.1,0.75 8.7,0.75-4,0.75 0.1,0.75 5,0.75 1.7,0.75-5.9,0.75 1.6,0.75 4.2,0.75-1.4,0.75-4.2,0.75 7.1,0.75-1.2,0.75 10.7,0.75-14.4,0.75 8.1,0.75 1.2,0.75-7.1,0.75 11,0.75-0.7,0.75 0.7,0.75-0.1,0.75-6,0.75-6.9,0.75 13.9,0.75-3.3,0.75-13.6,0.75-2.9,0.75 2.8,0.75 1.2,0.75-2.2,0.75-1,0.75 1.7,0.75 7.8,0.75 3.3,0.75-5.3,0.75 6.9,0.75-8.5,0.75-5.9,0.75 9.5,0.75-4.4,0.75-2.3,0.75 1.9,0.75 6.7,0.75 1.8,0.75-5.4,0.75 1.9,0.75 7.3,0.75-5.9,0.75-5.7,0.75-3.8,0.75-0.2,0.75 1.1,0.75 0.3,0.75-3.2,0.75 14.7,0.75 5.5,0.75-10.6,0.75-4.5,0.75 5.9,0.75-15.2,0.75 4.4,0.75 3.5,0.75 5.3,0.75 1.7,0.75-1.9,0.75 5.1,0.75-6.2,0.75-0.4,0.75 0.4,0.75 2.7,0.75-4.1,0.75 2.9,0.75-9.1,0.75 4.6,0.75 1.3,0.75-4.7,0.75 6.7,0.75-3.6,0.75-2.8,0.75 2.9,0.75-4.4,0.75 2.8,0.75-8.1,0.75 7,0.75 1.7,0.75-9.3,0.75 10.7,0.75-4.3,0.75 8,0.75-1.7,0.75 6.2,0.75 0.7,0.75-2,0.75-7.3,0.75 3.4,0.75-8.4,0.75 3.4,0.75-0.9,0.75-0.4,0.75 2.1,0.75-1.1,0.75 6.5,0.75-5.5,0.75 1.6,0.75 1.8,0.75-3,0.75 1.8,0.75-7,0.75 0.8,0.75 5.9,0.75-5.4,0.75 5.8,0.75-4.8,0.75 6.4,0.75-3.1,0.75 0.6,0.75 6,0.75-3.7,0.75-1.2,0.75 1.9,0.75-3.6,0.75-0.9,0.75 10.7,0.75-7.6,0.75 0.6,0.75-3.7,0.75 6.4,0.75-6.6,0.75 4.4,0.75 1.8,0.75-0.9,0.75-3.1,0.75-5.5,0.75 2.7,0.75-2.2,0.75 7.4,0.75 4.1,0.75-4.7,0.75 3.8,0.75-2.4,0.75-1.7,0.75 2.3,0.75-1.5,0.75-0.7,0.75 0.4,0.75 8.9,0.75-8.4,0.75 2,0.75 3,0.75-6.8,0.75 1.4,0.75 2.6,0.75-3.3,0.75 1.4,0.75-2.4,0.75-0.3,0.75-1.4,0.75-4.3,0.75 5.4,0.75-3.7,0.75-3.3,0.75-2.8,0.75 3,0.75 2.3,0.75-3.5,0.75 11.2,0.75 0.1,0.75-2.1,0.75 1.8,0.75-1,0.75-1.9,0.75-4.6,0.75 3.6,0.75-4.1,0.75 4.1,0.75-2.6,0.75 2.5,0.75 4.4,0.75 0.3,0.75-1.2,0.75 2.2,0.75-3.2,0.75-3,0.75 5.1,0.75-4.4,0.75-7.3,0.75 6.9,0.75 0.3,0.75 4,0.75-1.5,0.75 3.3,0.75-2.1,0.75-8.9,0.75 10.9,0.75-2.8,0.75 0,0.75 4.9,0.75-6.2,0.75 1.5,0.75-4.1,0.75 6.4,0.75-0.9,0.75-0.9,0.75-9,0.75-0.9,0.75 9.4,0.75 5.7,0.75-4,0.75-3.6,0.75-0.9,0.75-4.9,0.75 8.4,0.75-3.2,0.75 1,0.75 3,0.75-1.1,0.75-1.6,0.75 1.4,0.75-0.6,0.75-4.7,0.75-1.4,0.75 6,0.75-0.2,0.75-3.2,0.75 2.2,0.75 8.9,0.75-12.7,0.75 17.3,0.75-7.9,0.75-6.9,0.75-4.9,0.75-3.5,0.75-2.2,0.75 0.3,0.75 5.5,0.75-1.7,0.75-3.1,0.75 5.2,0.75-5.5,0.75 5,0.75-1.1,0.75 6.1,0.75-4.3,0.75 3.2,0.75 8,0.75-4.5,0.75 1.9,0.75-2.6,0.75-1.8,0.75-9.6,0.75-1.6,0.75-3.6,0.75 7.6,0.75-4.6,0.75 11.4,0.75-5.5,0.75 0,0.75 4.3,0.75 4.4,0.75-2.7,0.75-1.3,0.75 6.6,0.75-6.2,0.75-2.2,0.75-2.8,0.75 0.5,0.75 2.5,0.75-6.7,0.75 1.1,0.75-4.4,0.75 6.1,0.75-3.2,0.75 9,0.75 4.8,0.75-7.5,0.75 2.8,0.75-1,0.75 1.8,0.75 3.7,0.75-4.5,0.75-3,0.75 12.3,0.75-9.7,0.75 1.3,0.75 2.8,0.75 3.8,0.75-5.9,0.75 2.7,0.75-2.3,0.75 0.4,0.75-5.8,0.75 1.2,0.75 0.5,0.75 7.5,0.75-3.1,0.75 5,0.75-8.6,0.75 10,0.75-9.9,0.75 3.5,0.75 3.6,0.75-7.9,0.75 3.4,0.75 1.9,0.75-15.4,0.75 3.5,0.75 6.1,0.75 0.1,0.75 3.6,0.75 1.5,0.75-10,0.75 11.3,0.75-0.9,0.75-5.2,0.75 6.2,0.75 1.1,0.75-6.6,0.75-1.7,0.75 5.8,0.75 0.7,0.75 8.3,0.75-13.4,0.75-3.4,0.75 1,0.75 9.4,0.75-2.8,0.75 5.7,0.75-16.9,0.75 1.8,0.75 4.6,0.75 7.5,0.75-8.9,0.75 6,0.75-1.2,0.75-2.1,0.75 0.8,0.75 4.3,0.75 2.5,0.75-9.1,0.75 7.8,0.75-1.2,0.75-2.4,0.75-4.4,0.75 10.6,0.75-6.4,0.75 2.6,0.75 8.5,0.75-1,0.75-3.9,0.75-3.9,0.75 2.1,0.75-6,0.75 1,0.75-11,0.75-2.8,0.75 9.9,0.75-0.9,0.75-3,0.75 8.6,0.75-5.6,0.75 8.2,0.75 5.1,0.75-10.9,0.75 1.7,0.75-1.3,0.75-7.7,0.75 8.3,0.75-0.7,0.75 0.4,0.75-0.9,0.75 0.9,0.75 6.8,0.75-5.4,0.75-6.8,0.75 14.5,0.75 1.7,0.75 1.9,0.75-6,0.75-1.1,0.75 3.5,0.75-0.5,0.75-4.2,0.75 2.9,0.75 1.6,0.75 4.3,0.75-8.7,0.75-1.4,0.75-10.5,0.75 2,0.75-2.5,0.75-0.9,0.75-1.9,0.75 13.6,0.75 1.5,0.75-3.1,0.75-2.8,0.75 2,0.75 2.5,0.75-1.9,0.75-2.8,0.75 3.2,0.75-3.6,0.75 0.5,0.75-2.3,0.75 1.2,0.75 0.5,0.75-1.4,0.75 4,0.75 0.8,0.75 5.7,0.75 0,0.75-1.6,0.75-1,0.75-3.3,0.75 0.3,0.75-2.8,0.75 6.5,0.75 0.8,0.75-0.8,0.75-4.3,0.75-4.7,0.75 7,0.75-2.8,0.75-0.6,0.75 1.1,0.75 4.8,0.75-1.5,0.75 1.4,0.75-6.3,0.75 5.6,0.75-4.4,0.75 1.3,0.75 0.4,0.75 1.5,0.75-2.6,0.75 3.6,0.75 3,0.75-3,0.75 2.1,0.75-2.3,0.75 1.1,0.75 7.1,0.75-2.5,0.75-0.5,0.75 0.6,0.75-2,0.75-1.3,0.75 7.3,0.75-4.6,0.75-3.9,0.75 2.6,0.75-5.7,0.75 0,0.75 6,0.75-0.6,0.75-1.3,0.75-0.7,0.75-0.8,0.75-2.4,0.75 2.6,0.75 2,0.75-2.6,0.75 2.9,0.75-2.6,0.75-3.9,0.75-2.5,0.75 1,0.75-2.9,0.75 0.8,0.75 0.5,0.75-2.2,0.75 0.1,0.75 7.5,0.75-3.8,0.75 2.3,0.75-1.7,0.75 1.6,0.75-3.4,0.75-0.6,0.75 0.4,0.75 1.8,0.75 1.9,0.75 2.7,0.75-6.1,0.75 4.1,0.75-5.3,0.75 1.4,0.75 0.3,0.75 2.4,0.75-0.7,0.75-3.8,0.75 1.7,0.75-3.3,0.75 0.7,0.75-3.1,0.75 0.7,0.75 0.1,0.75-1.9,0.75 9.3,0.75 2.4,0.75-6.5,0.75 4.5,0.75 0.5,0.75 1.2,0.75-4.5,0.75 2.9,0.75-1.9,0.75 2.8,0.75-3.2,0.75-0.8,0.75 4.5,0.75 1.1,0.75-2.5,0.75 0.6,0.75 3.3,0.75-0.3,0.75 0.7,0.75-0.1,0.75-4.7,0.75-2.9,0.75-1.1,0.75 3.4,0.75 2.4,0.75-1.4,0.75 0.2,0.75-1.4,0.75-2.7,0.75 4.1,0.75 4.5,0.75-0.1,0.75-3.8,0.75 2,0.75 1.3,0.75-2.1,0.75 0.1,0.75 4.4,0.75-5.3,0.75 2.4,0.75 1.7,0.75-8.1,0.75 0.8,0.75 2.4,0.75 4.1,0.75-3,0.75-1.4,0.75 1.3,0.75-2.7,0.75-0.4,0.75-0.2,0.75 4.8,0.75-3,0.75 0.5,0.75-3.8,0.75 2,0.75-0.8,0.75 2.5,0.75 1.1,0.75-1.6,0.75 2.7,0.75 0.9,0.75-2.8,0.75 0.8,0.75 1,0.75 1.2,0.75-4.4,0.75-2.4,0.75 3,0.75-1.2,0.75 3.4,0.75-2,0.75 4.7,0.75-0.4,0.75-3.2,0.75 2.9,0.75-0.8,0.75 0,0.75 1.9,0.75-8.8,0.75 1.2,0.75 3,0.75-2.4,0.75 2.9,0.75-0.5,0.75 3.5,0.75-5.2,0.75 3.4,0.75 0,0.75-1.4,0.75 2.7,0.75-4.1,0.75 0.8,0.75 1.6,0.75-2.6,0.75 7.1,0.75-5.6,0.75 1,0.75-1.1,0.75-0.7,0.75 4.1,0.75-3.4,0.75" stroke="#000" stroke-width="0.45"/>
<path d="M329.3,62l0.7,0.75 2.2,0.75-1.6,0.75 0.7,0.75-1.7,0.75 1.4,0.75 4,0.75-2.8,0.75 3.2,0.75 7.6,0.75 0.1,0.75 1,0.75-2.2,0.75-2.7,0.75 0.5,0.75-3.8,0.75 0.2,0.75 0.9,0.75-3,0.75 1.6,0.75-8.3,0.75 10,0.75-1.6,0.75-6.6,0.75 4.8,0.75-0.2,0.75-3.5,0.75 2,0.75-2.1,0.75-0.6,0.75 0.7,0.75 3.6,0.75-1.9,0.75 0.5,0.75-0.6,0.75-1.2,0.75 5.9,0.75 5.7,0.75-1.7,0.75-5.1,0.75 2.4,0.75-2.2,0.75 3.9,0.75-7,0.75 5.9,0.75-8.1,0.75 4.6,0.75 2.1,0.75-1.7,0.75 3.1,0.75-4.5,0.75 4.3,0.75-4.4,0.75 1.1,0.75 1.7,0.75 4,0.75-9.4,0.75-0.5,0.75 5.4,0.75-0.7,0.75-0.9,0.75 2.9,0.75 3.3,0.75-4.8,0.75-1.3,0.75 1.6,0.75-1,0.75-3.7,0.75 1.2,0.75 5.4,0.75-5.1,0.75 2.2,0.75 7,0.75-0.4,0.75 2.9,0.75-2.1,0.75 1.2,0.75 1.8,0.75-5.4,0.75-1,0.75 2.6,0.75-1,0.75 0.3,0.75-1.4,0.75-1.1,0.75-3.4,0.75 3.4,0.75-1.2,0.75-5.4,0.75 5.1,0.75-0.5,0.75 0.8,0.75-4.1,0.75 1.2,0.75 6.5,0.75-11,0.75-3,0.75 1.1,0.75-7.1,0.75 7.3,0.75 4.1,0.75 3.2,0.75 1.6,0.75-4.1,0.75 5.9,0.75 1.6,0.75-7.1,0.75 5.8,0.75-3.1,0.75 1.1,0.75-1.4,0.75-1.5,0.75 0.5,0.75 0.2,0.75 2.1,0.75-1.6,0.75-3.1,0.75 6.3,0.75-4.5,0.75-4.1,0.75 4.7,0.75-0.6,0.75 2.8,0.75 1.1,0.75-2.9,0.75-1.4,0.75 5.1,0.75-3.8,0.75 0.2,0.75 1.5,0.75-1.8,0.75 1.6,0.75 6.9,0.75-2.7,0.75 1.4,0.75-1.9,0.75 1.2,0.75-0.5,0.75 1.1,0.75-2.6,0.75-2.6,0.75-3.2,0.75 7.1,0.75-3.7,0.75-5.3,0.75-2,0.75 5.3,0.75-3,0.75-2.3,0.75 2.4,0.75-2.4,0.75 6.9,0.75-4,0.75-2.2,0.75-1.5,0.75 9.7,0.75-4.7,0.75 0.6,0.75 0.5,0.75-4.3,0.75-2.6,0.75 2.6,0.75 4.4,0.75 0.6,0.75-1.3,0.75 2.8,0.75 7.6,0.75-2,0.75-4.6,0.75 1.1,0.75-0.8,0.75 2,0.75 4.8,0.75-9.6,0.75 3.2,0.75-0.4,0.75 0.8,0.75 0.1,0.75-2.4,0.75 0.2,0.75-7.1,0.75 2.8,0.75 3.1,0.75 5.1,0.75-0.2,0.75-5.4,0.75-3.3,0.75-1.4,0.75-1.1,0.75 9.9,0.75 2.5,0.75-5.8,0.75-8.2,0.75-0.9,0.75 13.6,0.75-5.5,0.75-4.3,0.75 8.2,0.75-3.4,0.75-8.9,0.75 11.6,0.75 1.5,0.75 4.9,0.75-12.6,0.75 8.2,0.75 1.3,0.75-1.1,0.75-1.3,0.75-0.6,0.75-1.7,0.75 0.3,0.75 1.3,0.75-7.4,0.75-6.5,0.75-0.4,0.75-0.1,0.75 1.2,0.75 1.3,0.75-7.9,0.75 11.2,0.75 12.1,0.75-2.8,0.75-6.4,0.75-4.6,0.75 6.5,0.75-0.7,0.75 1,0.75-6.3,0.75-1.6,0.75 6.7,0.75-6.1,0.75 7.2,0.75-11.2,0.75-2.2,0.75 12.9,0.75-8.7,0.75-0.7,0.75 6.5,0.75-6.2,0.75 9,0.75-3.9,0.75 7.9,0.75 4.1,0.75 2,0.75-3.4,0.75-8.6,0.75-1.5,0.75 7.4,0.75 1.4,0.75-1.2,0.75-14.9,0.75-1.6,0.75 8.4,0.75-5,0.75 4.4,0.75 4.8,0.75-1.4,0.75 2.6,0.75 7.6,0.75-13.8,0.75 6.2,0.75-3.3,0.75 1.9,0.75-3.9,0.75 6.8,0.75-3.4,0.75 8.9,0.75-4.6,0.75-12.1,0.75 9.4,0.75-1.9,0.75 1.7,0.75 6.9,0.75 2.8,0.75-14.6,0.75-1,0.75-0.2,0.75 4.6,0.75-4.3,0.75 4.3,0.75-12.1,0.75 6.3,0.75 8.9,0.75 3.9,0.75-7.7,0.75-1,0.75 2.2,0.75-1.4,0.75-0.3,0.75-0.8,0.75 13.6,0.75-4,0.75-6.3,0.75-0.1,0.75 1.2,0.75 0.6,0.75 2.7,0.75-1.4,0.75-4.5,0.75-2.6,0.75 4.6,0.75-1.5,0.75-7.8,0.75-2.5,0.75 6.5,0.75 4.6,0.75-0.8,0.75-0.9,0.75 0.3,0.75 9.2,0.75-6.4,0.75-3.4,0.75-0.8,0.75 4.2,0.75-5.6,0.75 7.9,0.75-9.7,0.75 3,0.75-0.8,0.75 9.6,0.75-6.6,0.75 0,0.75 6.4,0.75 1.3,0.75-6.4,0.75 5.6,0.75-2.6,0.75-8.7,0.75 10,0.75 3.4,0.75-3,0.75-2.1,0.75 3.4,0.75-2.2,0.75 3.7,0.75 2.3,0.75-3.2,0.75 0.3,0.75 4.9,0.75-8.5,0.75 1.9,0.75-8.8,0.75 1,0.75 5.7,0.75 1.5,0.75-1,0.75-0.9,0.75-1.3,0.75 3.3,0.75 0.6,0.75-4.7,0.75-6.4,0.75 2.9,0.75 9.2,0.75-7.1,0.75-2.5,0.75-1.4,0.75 4.9,0.75 0.2,0.75 6.8,0.75-1.6,0.75-9.2,0.75 1.9,0.75 0.9,0.75-2.6,0.75 0.4,0.75 0.4,0.75-2.6,0.75-1.6,0.75 6.3,0.75 0.1,0.75 0.1,0.75 0.7,0.75 7.5,0.75-8.5,0.75-5.2,0.75 0.9,0.75-0.1,0.75 2.4,0.75 2.8,0.75 4.8,0.75-2.4,0.75-2.4,0.75 5.3,0.75-3.8,0.75-2.1,0.75-2.4,0.75-3.2,0.75 2.5,0.75-3.3,0.75 0.7,0.75 3.8,0.75-6.2,0.75-1,0.75 1.7,0.75 6.4,0.75-5.5,0.75 4.4,0.75-2,0.75 4.8,0.75 8.3,0.75-8,0.75-3.1,0.75-5.4,0.75 4.9,0.75 0,0.75 3,0.75 1.1,0.75-3.9,0.75 0.1,0.75 4.5,0.75 1.8,0.75 2.2,0.75-3.4,0.75-6.5,0.75 8.6,0.75-5.8,0.75-6.8,0.75 10.4,0.75-7.2,0.75 0.2,0.75 3.8,0.75 7.5,0.75-6.2,0.75-4.6,0.75 0.2,0.75 6.2,0.75-2.4,0.75 5,0.75-0.2,0.75 0.1,0.75 2.3,0.75-2.2,0.75 2.5,0.75-1.6,0.75-5.3,0.75 0.8,0.75 1.1,0.75 5.5,0.75-10.4,0.75 2.8,0.75-6.5,0.75 3.6,0.75 2.2,0.75-2.1,0.75 0.5,0.75-0.5,0.75 3.7,0.75 1,0.75 2.1,0.75-3.5,0.75-1.6,0.75-0.3,0.75 1,0.75 2.3,0.75 2.5,0.75-6.5,0.75 6.1,0.75-2.6,0.75-5.3,0.75 0.3,0.75-2.7,0.75-0.1,0.75 3,0.75 1.4,0.75-1.5,0.75 3.7,0.75-0.6,0.75-0.1,0.75 0,0.75 0.1,0.75-6.8,0.75 6.2,0.75-6.4,0.75 8.4,0.75-6.6,0.75 1,0.75-0.8,0.75 5.8,0.75-4.2,0.75 1.1,0.75-2.7,0.75 0.2,0.75-6.4,0.75 3.2,0.75-2.1,0.75-0.8,0.75 5.2,0.75 0.6,0.75-1.2,0.75 1.1,0.75-8.5,0.75 5.7,0.75 0.3,0.75-3.4,0.75 6.2,0.75 5.5,0.75-3.7,0.75 8.8,0.75-7.3,0.75 4.4,0.75-0.5,0.75 3.4,0.75-6.3,0.75 0.6,0.75 2.5,0.75 1.7,0.75-4.1,0.75 1.9,0.75-8.6,0.75 2.6,0.75 3.8,0.75 1.5,0.75-0.9,0.75 2.8,0.75-5.3,0.75 3.6,0.75-0.2,0.75-5.9,0.75-6.2,0.75 8.4,0.75 0.9,0.75 8.7,0.75-1.9,0.75 2.8,0.75-5.2,0.75-1.5,0.75 5.3,0.75 4.3,0.75-12.4,0.75 5.5,0.75-5.1,0.75 0.1,0.75 6.5,0.75-3,0.75-4.5,0.75 3.3,0.75 6.9,0.75-11.1,0.75 9,0.75-3.9,0.75-10.6,0.75 15.4,0.75 3.6,0.75-13.9,0.75 0,0.75-2.3,0.75 4.9,0.75 0.8,0.75 5.3,0.75-3.5,0.75-3.9,0.75-2,0.75 6.7,0.75-6.2,0.75 1.5,0.75 5.1,0.75 0.7,0.75-8,0.75 1.2,0.75 13,0.75-17.8,0.75 7.7,0.75-3.1,0.75 10.3,0.75-12.1,0.75-1.8,0.75 0.9,0.75-2.5,0.75 10.4,0.75 1.3,0.75-0.3,0.75 1.4,0.75-7.3,0.75 1.1,0.75 4.9,0.75-6.4,0.75-1,0.75-5,0.75 4.1,0.75-0.4,0.75 1.4,0.75-1,0.75-3.4,0.75 5.8,0.75-1.5,0.75 2.8,0.75-1.8,0.75-2,0.75 3.5,0.75-0.5,0.75 0.3,0.75 0.5,0.75-7,0.75 12.2,0.75-4.9,0.75 1.2,0.75-3.9,0.75 3.2,0.75-1.5,0.75-1.5,0.75 8.1,0.75-0.3,0.75 1.5,0.75-2.8,0.75" stroke="#000" stroke-width="0.45"/>
<path d="M333.6,62l1.6,0.75 1.6,0.75 3.9,0.75-1.2,0.75 1.2,0.75 1.5,0.75-1.8,0.75-1.5,0.75 3,0.75 3.1,0.75 2.8,0.75-1.7,0.75-0.6,0.75-6.8,0.75-3.1,0.75-2.2,0.75 2.8,0.75-2.3,0.75 2,0.75 1.4,0.75-1.5,0.75-0.2,0.75 4.8,0.75-1,0.75 1.3,0.75 0.4,0.75 3.5,0.75-1.1,0.75-3.8,0.75 2.9,0.75-2.1,0.75-3.3,0.75-0.4,0.75 1,0.75-3.6,0.75 6.6,0.75-0.5,0.75 6.2,0.75-0.2,0.75-4.8,0.75-1.7,0.75-0.8,0.75-0.2,0.75-0.7,0.75 3,0.75-2.3,0.75-3.2,0.75 3.7,0.75-0.7,0.75 3.4,0.75 2.8,0.75-3.7,0.75 3.3,0.75-0.4,0.75-0.2,0.75 1.6,0.75-1.7,0.75-8.9,0.75 6.7,0.75-0.3,0.75-3.6,0.75 3,0.75-2.7,0.75 1.5,0.75-2.9,0.75 8.4,0.75-4.9,0.75-1.9,0.75 2,0.75-1.2,0.75-4.3,0.75 2.2,0.75 3.9,0.75 0.8,0.75 3.9,0.75-1.8,0.75-4.8,0.75-2.2,0.75 1.8,0.75 3,0.75 6.2,0.75 2.4,0.75-7.5,0.75 6.8,0.75-10.7,0.75-2,0.75-1,0.75 4.1,0.75-5.2,0.75 4.9,0.75 2.2,0.75 0.3,0.75 1.8,0.75-3.2,0.75 0.3,0.75-0.9,0.75 7.3,0.75-9.6,0.75 5.2,0.75-1.3,0.75 5.4,0.75-1.7,0.75-2.8,0.75 2.6,0.75-2.6,0.75 2.7,0.75 4.2,0.75-5.1,0.75 2.8,0.75-1.6,0.75-2.1,0.75-1,0.75-1.2,0.75-3.3,0.75 4.7,0.75-3.6,0.75 2.7,0.75 5.5,0.75 0.9,0.75-7.8,0.75 2.1,0.75-5.9,0.75-2.6,0.75 4.7,0.75 1.8,0.75-0.7,0.75 0.9,0.75 5.4,0.75-5.8,0.75-0.9,0.75 2.1,0.75 2.7,0.75 0.3,0.75 3,0.75-3.4,0.75-1.1,0.75-3.6,0.75 4.5,0.75-4.6,0.75 7.5,0.75-6.2,0.75 1.3,0.75 2.8,0.75 4.3,0.75-7.4,0.75 0.8,0.75-6.2,0.75-3.5,0.75 4.3,0.75-1.7,0.75 0.3,0.75 4.8,0.75-0.9,0.75 0.1,0.75 0.7,0.75 5.4,0.75-8.7,0.75 1.2,0.75-1.1,0.75 0.3,0.75-1.8,0.75 3.1,0.75 1.5,0.75-0.4,0.75-1.6,0.75 0,0.75 3.1,0.75-3.5,0.75 0.7,0.75-1.6,0.75 3.4,0.75-4.4,0.75 4.9,0.75-3.3,0.75 1.7,0.75-1.5,0.75 0.7,0.75-5.4,0.75 5,0.75-1.8,0.75 6.5,0.75-2.9,0.75 0,0.75-4.3,0.75 6.3,0.75 3.6,0.75-3,0.75 0.5,0.75 2.6,0.75-1.7,0.75 3.1,0.75-11.2,0.75 4,0.75-0.2,0.75 8,0.75 3.2,0.75-3.1,0.75-4.2,0.75-6.6,0.75 2.8,0.75-9.4,0.75 7.8,0.75 5.8,0.75-3.2,0.75 1.8,0.75 5.3,0.75-6.3,0.75 1.3,0.75 1.3,0.75 16.2,0.75-10.4,0.75-1.6,0.75 5.2,0.75-3.5,0.75-5.3,0.75-0.5,0.75 8.9,0.75 1.8,0.75 1,0.75-6.2,0.75-8.1,0.75-2.7,0.75 6,0.75 7.4,0.75-1.2,0.75-4.1,0.75-2.7,0.75 1.4,0.75 3.4,0.75-4.1,0.75-9.7,0.75 4,0.75 7.2,0.75-10.9,0.75 4.8,0.75-7.1,0.75-3.7,0.75 16.1,0.75-6.5,0.75 5.8,0.75-7.7,0.75 3.8,0.75 10,0.75-3.2,0.75-3.8,0.75-0.2,0.75-9,0.75 8.9,0.75 3.6,0.75 4.2,0.75-15.9,0.75 2.4,0.75 2.9,0.75 1.3,0.75-4.3,0.75 3.7,0.75 4.8,0.75-6.1,0.75 13.1,0.75-17,0.75 7.2,0.75 5.9,0.75-2.9,0.75-4,0.75 9.2,0.75-1.1,0.75-4.5,0.75-2.4,0.75-2.7,0.75-0.1,0.75 10.8,0.75 1.6,0.75-2.7,0.75-3.8,0.75-2.8,0.75-1.3,0.75 2.7,0.75-11.5,0.75 2.8,0.75 3.1,0.75 2.1,0.75-0.6,0.75 1.7,0.75-2.2,0.75-2.3,0.75-3.2,0.75-2,0.75 4.4,0.75 3.7,0.75-0.2,0.75-8.4,0.75 8,0.75-0.7,0.75 1.5,0.75-5.4,0.75 10.3,0.75-9.7,0.75 1.5,0.75 7.1,0.75-0.5,0.75-7.3,0.75-5.7,0.75 9.1,0.75-0.4,0.75-0.6,0.75 0,0.75-2.8,0.75 3.7,0.75-1.5,0.75 3.3,0.75-3.7,0.75 1.9,0.75-5.2,0.75-1.5,0.75-2.3,0.75 5.8,0.75-1.9,0.75-1.6,0.75-3.4,0.75 6.4,0.75-0.2,0.75 6.6,0.75 0.1,0.75-2.6,0.75-3.2,0.75 8.5,0.75 4.4,0.75-6.1,0.75-3.7,0.75 0.7,0.75-4.8,0.75 4.8,0.75-4.7,0.75-1.6,0.75 4.3,0.75 4.3,0.75-5.2,0.75-4.6,0.75 4.7,0.75-2.4,0.75 1.9,0.75 5.6,0.75-3.3,0.75 2.6,0.75-1.8,0.75-5.7,0.75-0.7,0.75-3,0.75 3.6,0.75-1.1,0.75 2.6,0.75 4.2,0.75-0.8,0.75 4.6,0.75-5.8,0.75 10.6,0.75-5.2,0.75-3.1,0.75-1.2,0.75 0.4,0.75 0.2,0.75-4.2,0.75 2.3,0.75 2.7,0.75-2.3,0.75 0.3,0.75-1.4,0.75 3.8,0.75-4.5,0.75-5.9,0.75-4,0.75 6.3,0.75 6.5,0.75-5.7,0.75 4.7,0.75 1.1,0.75 3.9,0.75-0.3,0.75 1.3,0.75-3,0.75-2.8,0.75 0.6,0.75 0.3,0.75-2.3,0.75-0.8,0.75-4.8,0.75 6.5,0.75-3.8,0.75 0.4,0.75 3.3,0.75-5,0.75-0.5,0.75 0.8,0.75 1.4,0.75 0.7,0.75-2.2,0.75 5.2,0.75-13.5,0.75 3.3,0.75 5.5,0.75-1.9,0.75-0.3,0.75-0.4,0.75 7.6,0.75-5,0.75 1.9,0.75-0.2,0.75-5.3,0.75 5.6,0.75 1.1,0.75 1.8,0.75-5.6,0.75 5.4,0.75-0.2,0.75 1.9,0.75 11.7,0.75-2.2,0.75-3.7,0.75-5.1,0.75-7.2,0.75-1.9,0.75-4.2,0.75 5.2,0.75 7.3,0.75-0.9,0.75 3.9,0.75-8.2,0.75 2.6,0.75 5.9,0.75-10,0.75 3.8,0.75 8.9,0.75-3.4,0.75 0.3,0.75 2.3,0.75-3.9,0.75 2.4,0.75-8.8,0.75 12.1,0.75-6.6,0.75-5.2,0.75 8.2,0.75 2.2,0.75 1.9,0.75 4.3,0.75-8.2,0.75-4.2,0.75-1.2,0.75-4.8,0.75 0.8,0.75 5.3,0.75 5.3,0.75-5.3,0.75 4.3,0.75 4,0.75-7.7,0.75-3.3,0.75 3.6,0.75-6.6,0.75 0.7,0.75-1.3,0.75 0.5,0.75 2.8,0.75-9,0.75 4,0.75 7.6,0.75-0.7,0.75 2.3,0.75-8.3,0.75 6.4,0.75-0.7,0.75-0.8,0.75 2.2,0.75-3.1,0.75-0.9,0.75-0.7,0.75-4.4,0.75 4.9,0.75-3.8,0.75 9.2,0.75-3,0.75 9.5,0.75-7.8,0.75-5,0.75 8.9,0.75-3.8,0.75 4.3,0.75 0.4,0.75-12.5,0.75 8.2,0.75-2.4,0.75 2.3,0.75 5.9,0.75-2.8,0.75-2.9,0.75-5.5,0.75-2.5,0.75-0.4,0.75 1.3,0.75-2,0.75-6.3,0.75 2.7,0.75 7.4,0.75 6.8,0.75-3.4,0.75-1.6,0.75 4.1,0.75-3.8,0.75 2.2,0.75 2.7,0.75-11.2,0.75 5.7,0.75 3.9,0.75 1.6,0.75 1.5,0.75 1.7,0.75-1.4,0.75 1.4,0.75-10.2,0.75 3.7,0.75 2.9,0.75 2,0.75-0.2,0.75-1.8,0.75-15.1,0.75 8.6,0.75 3.9,0.75-7.1,0.75-1,0.75 12.8,0.75-10.9,0.75 4.4,0.75 3.5,0.75-1.1,0.75-1.3,0.75-0.2,0.75 10.5,0.75-7.5,0.75-5.1,0.75-5.2,0.75-1.3,0.75 5.4,0.75 0.7,0.75-12.2,0.75 5.4,0.75 7,0.75 5.2,0.75 6.1,0.75-3.7,0.75-4.6,0.75 1.5,0.75-4.3,0.75 5.2,0.75 1.1,0.75-9.8,0.75 3.9,0.75 0.5,0.75-0.4,0.75 4.4,0.75 3,0.75-12.6,0.75 5.6,0.75 5.3,0.75-7.1,0.75-5.9,0.75-2,0.75-0.3,0.75 4.4,0.75 6.2,0.75 1.7,0.75-16.8,0.75 6.4,0.75-0.9,0.75-0.8,0.75 10.7,0.75-6.2,0.75 7.2,0.75 0,0.75-1.7,0.75 11.7,0.75-7.8,0.75 5.3,0.75-8.7,0.75-2.6,0.75 6,0.75-3.9,0.75 9.5,0.75-3.2,0.75-2.3,0.75-5.3,0.75 3.8,0.75 0,0.75 2.8,0.75-3.5,0.75 4.3,0.75-7.1,0.75 7.4,0.75 1.3,0.75-3.8,0.75-0.2,0.75 0.4,0.75-2.7,0.75-0.8,0.75-1.1,0.75 6.9,0.75-5.5,0.75-0.7,0.75 4,0.75-1.6,0.75-2.4,0.75 3.2,0.75 2.9,0.75 0.9,0.75-4.3,0.75-1.8,0.75 0.5,0.75-3.7,0.75 4,0.75-1.6,0.75 3.4,0.75-6.6,0.75 1,0.75 0,0.75 3.9,0.75 6.5,0.75-5.7,0.75-0.5,0.75 1.8,0.75 1.1,0.75-1.9,0.75 4.2,0.75-4.5,0.75-2.8,0.75-1.4,0.75-1.4,0.75 0.4,0.75 3.4,0.75-1.1,0.75 1.2,0.75-1.4,0.75 0,0.75-1.5,0.75 2.2,0.75 2.9,0.75 0.8,0.75-4.5,0.75 3.9,0.75 2.5,0.75-5.1,0.75 7.2,0.75-0.7,0.75-1.9,0.75 1.6,0.75-10.2,0.75-1.3,0.75 1.9,0.75 5.8,0.75-0.5,0.75 2.4,0.75-5.4,0.75-1.6,0.75 2.2,0.75-1.4,0.75-3.6,0.75 2.8,0.75-0.1,0.75 1.4,0.75-2.2,0.75 7.3,0.75-3.7,0.75-1.1,0.75-1.5,0.75 1.3,0.75 0.7,0.75-3.6,0.75 0.3,0.75 2.5,0.75-0.4,0.75 2.7,0.75-1.5,0.75 2.1,0.75-1.2,0.75 0.2,0.75-2.7,0.75 1.1,0.75 0.8,0.75 3.2,0.75 0.6,0.75-0.5,0.75 3,0.75-0.5,0.75-4.4,0.75 2.8,0.75 2.3,0.75 2.3,0.75-4.7,0.75 1.9,0.75-0.2,0.75-7.9,0.75 2.6,0.75 4.3,0.75-0.9,0.75-2.5,0.75-1.6,0.75-1,0.75-2.2,0.75 2.8,0.75 5.4,0.75-3.6,0.75 1.4,0.75-4.4,0.75 2.7,0.75 1.1,0.75 0.9,0.75-1.1,0.75-0.9,0.75 2.6,0.75-3.2,0.75 5.3,0.75-4.4,0.75-1.5,0.75 2,0.75-0.6,0.75 0.6,0.75-2.4,0.75 4.9,0.75 1,0.75 2.2,0.75-4.2,0.75-4.7,0.75 2.2,0.75-1.3,0.75-9.7,0.75 4.8,0.75 0.5,0.75-3.2,0.75 5,0.75 0.1,0.75 4.3,0.75-4.6,0.75 3.8,0.75 1.6,0.75-4.3,0.75-2,0.75 2.4,0.75 0.6,0.75 0.2,0.75-3.9,0.75 2.7,0.75 1.2,0.75 2.1,0.75 2.7,0.75-5.2,0.75-1.1,0.75-0.6,0.75-2.8,0.75 7.3,0.75-3.8,0.75 3.7,0.75 5.3,0.75-5.6,0.75 2.8,0.75-6.3,0.75 4.6,0.75 0.6,0.75-1.4,0.75 0.4,0.75 7.7,0.75-5.4,0.75-2.6,0.75-2.6,0.75-1.1,0.75 0.9,0.75 1,0.75-0.3,0.75 0.2,0.75-1.9,0.75 4.6,0.75 3.3,0.75 3.8,0.75-7,0.75-2.7,0.75 0.5,0.75-1.2,0.75 0.9,0.75-3.8,0.75 5.8,0.75-2.3,0.75 2,0.75-0.2,0.75 3.2,0.75-3,0.75-0.4,0.75-1.7,0.75-2.8,0.75 3.9,0.75 0.3,0.75-1.2,0.75 3.4,0.75-2.7,0.75 2.2,0.75-1.8,0.75" stroke="#000" stroke-width="0.45"/>
<path d="M343.9,62l-5.8,0.75 0.7,0.75 2.7,0.75-2.2,0.75-1.9,0.75 4.4,0.75-2.1,0.75 1.9,0.75 1,0.75-2.5,0.75 2.6,0.75 6.5,0.75 1.2,0.75-2.2,0.75-3.7,0.75 2.7,0.75-0.9,0.75-0.9,0.75 0.7,0.75-1.3,0.75 4.1,0.75-4.4,0.75 2.1,0.75 5.1,0.75-3.1,0.75 0,0.75-1.3,0.75 2.6,0.75-3.2,0.75 0.8,0.75-6.9,0.75 1.5,0.75 3,0.75 3.3,0.75 0.1,0.75-0.8,0.75 5.7,0.75-8,0.75 0.6,0.75-1.4,0.75 8.1,0.75-5.7,0.75 5.4,0.75-0.4,0.75-7.5,0.75 5.1,0.75-3.2,0.75-4.2,0.75 6.2,0.75-4.8,0.75-0.3,0.75-0.7,0.75-1.1,0.75 2.5,0.75 1.7,0.75-0.5,0.75-1.8,0.75 4.5,0.75-1.8,0.75-1,0.75 2.4,0.75-0.7,0.75 3.9,0.75-2.6,0.75-3.6,0.75 4.7,0.75 0.5,0.75-0.8,0.75 3.1,0.75-2,0.75-1.7,0.75 2.9,0.75-2.3,0.75 1.8,0.75-2.4,0.75 6.7,0.75 0.1,0.75-4.7,0.75 4.2,0.75-5.5,0.75 1.4,0.75 4.5,0.75-5.1,0.75 2.1,0.75-2.6,0.75 1.4,0.75-5.8,0.75-4.5,0.75 3.1,0.75-2.8,0.75-1.1,0.75 1.1,0.75 2.5,0.75-2.7,0.75 0.8,0.75 2.7,0.75-1.4,0.75 0.3,0.75 5.1,0.75-5.3,0.75 0.4,0.75 2,0.75-0.5,0.75-0.4,0.75 3.4,0.75-0.1,0.75 6,0.75-0.6,0.75-5.1,0.75 1.7,0.75-4.4,0.75 1.4,0.75-8.3,0.75 3.6,0.75 2.8,0.75 0.1,0.75 0.9,0.75 1.7,0.75 2.1,0.75 1.3,0.75-6.5,0.75 4.8,0.75-1.5,0.75-3.3,0.75-0.1,0.75 3.1,0.75-5,0.75-1.3,0.75 0.4,0.75 1.4,0.75-0.6,0.75 3.3,0.75 4.2,0.75 0.5,0.75 3.1,0.75-5.6,0.75 0.5,0.75-3,0.75 1.2,0.75 4,0.75-6.5,0.75 2,0.75 4.3,0.75-7.6,0.75-2.3,0.75 2.8,0.75 2.3,0.75 1.3,0.75 1.4,0.75 3.6,0.75-5.1,0.75 1.3,0.75-4.8,0.75-0.1,0.75 0.8,0.75-1.6,0.75-1.8,0.75-2.8,0.75 3.3,0.75 1.4,0.75-3,0.75 4.6,0.75 1.8,0.75-11.6,0.75 12.1,0.75 3.9,0.75-0.4,0.75-5.7,0.75-1,0.75 3.7,0.75 4.8,0.75 2.5,0.75-5.8,0.75 0.4,0.75-2.1,0.75-6.5,0.75 5,0.75 0,0.75-0.5,0.75 1.7,0.75-2.3,0.75 5.4,0.75-7.1,0.75 5.6,0.75-3.1,0.75-3.5,0.75-2.1,0.75 6,0.75-5.1,0.75 0.6,0.75-2.6,0.75 7.5,0.75 7.5,0.75-4.7,0.75 1.3,0.75-6,0.75 4.3,0.75 0.3,0.75 7.8,0.75-2.5,0.75-5.3,0.75 9,0.75 1.6,0.75-10.6,0.75 8.3,0.75 0.7,0.75-3.1,0.75-7.1,0.75 7.9,0.75-5.9,0.75 4.4,0.75 0.9,0.75-0.2,0.75 2.5,0.75-1.7,0.75 2.6,0.75-8.2,0.75 1,0.75 2.4,0.75 12.1,0.75-1.7,0.75-19.1,0.75 11.6,0.75 14.9,0.75-14.3,0.75 5.9,0.75-5.1,0.75-13.9,0.75 5,0.75-1.9,0.75 6.9,0.75 8.1,0.75-17.6,0.75 1.8,0.75 4.6,0.75-2.1,0.75 2.9,0.75-2.8,0.75-6.4,0.75 0.5,0.75 9,0.75 2.2,0.75-9.1,0.75 5.1,0.75-2.7,0.75-0.6,0.75-3.7,0.75 0.3,0.75 5.1,0.75-0.3,0.75-3.4,0.75-4.6,0.75-6.5,0.75 7.9,0.75-4.6,0.75 4.3,0.75 10.7,0.75-18.4,0.75 3.4,0.75 7.2,0.75-5.1,0.75 4.5,0.75 7.4,0.75-2.3,0.75 4.5,0.75-2.2,0.75-7.6,0.75 6.4,0.75-7.7,0.75 0.3,0.75 5.1,0.75-5,0.75-5.3,0.75 6.5,0.75-7.3,0.75-1.7,0.75 9.8,0.75 0.8,0.75 4.4,0.75-1.5,0.75 3.1,0.75 0.9,0.75-10.2,0.75 9.2,0.75-3.8,0.75 1,0.75-6.1,0.75-2.5,0.75-5,0.75 5.5,0.75-3.9,0.75 4,0.75 10.2,0.75-1.8,0.75-3.4,0.75 5.7,0.75-3,0.75-1.8,0.75-0.4,0.75 8.4,0.75 1.1,0.75 6.4,0.75-10.9,0.75-4.8,0.75 3.1,0.75-6.7,0.75 3.7,0.75 3.4,0.75-0.4,0.75-0.3,0.75 1.2,0.75 2.5,0.75-6.8,0.75-1.3,0.75 0.7,0.75 1.3,0.75 3.4,0.75-9.2,0.75 7.3,0.75 0.6,0.75 3.4,0.75 2.8,0.75-2.1,0.75-3.6,0.75-3.5,0.75 4.2,0.75-0.8,0.75-1.9,0.75 1.1,0.75 1.5,0.75-3,0.75-1.8,0.75 7.6,0.75-5.6,0.75 1,0.75 6.8,0.75 1,0.75-0.3,0.75-1.5,0.75-1.5,0.75 0.4,0.75-7.2,0.75 3.7,0.75-0.2,0.75-2.9,0.75-0.4,0.75 11.2,0.75-8.2,0.75 0.4,0.75 1.5,0.75-0.4,0.75-4.1,0.75-3.7,0.75 2.9,0.75 4.9,0.75-2.5,0.75 0.7,0.75 1.1,0.75-6.8,0.75 1.1,0.75-3.9,0.75 2.2,0.75-4,0.75 1.6,0.75 0.6,0.75-2.2,0.75-3.1,0.75-2.7,0.75-3.3,0.75 0.7,0.75 7.3,0.75 0.8,0.75-0.5,0.75 3.1,0.75 9.2,0.75 0.4,0.75-4.5,0.75-0.7,0.75 5.6,0.75-1.3,0.75-2.2,0.75-1.2,0.75 5.5,0.75-1.2,0.75 0.6,0.75-0.7,0.75 2.9,0.75-2.4,0.75-10.3,0.75 7.7,0.75 0.1,0.75-4.4,0.75 2,0.75-4.3,0.75-0.1,0.75-4.7,0.75 16.2,0.75-5.8,0.75-3.1,0.75-5.1,0.75-0.3,0.75 3.8,0.75 4.4,0.75 1.2,0.75-0.6,0.75 7,0.75-0.5,0.75-4.7,0.75 7.6,0.75-6.5,0.75-6.9,0.75 0.8,0.75-1.9,0.75 4.8,0.75-2.8,0.75 8.9,0.75-1.5,0.75-1,0.75-1,0.75-8.9,0.75-2.6,0.75 5,0.75 3.7,0.75-0.7,0.75 3.7,0.75-1.3,0.75 0.7,0.75-8.4,0.75 4.5,0.75-3.3,0.75 7.3,0.75-3.9,0.75 2.8,0.75-6.8,0.75 1.1,0.75 0.1,0.75 2.7,0.75 0,0.75-1.5,0.75 3.7,0.75-2.9,0.75 5,0.75 3.8,0.75-2.6,0.75-3.4,0.75 4.4,0.75-3.9,0.75 0.4,0.75 0.3,0.75-0.9,0.75-0.3,0.75-7,0.75 4.2,0.75-6.2,0.75 3,0.75 11.2,0.75-1.4,0.75 0.2,0.75 0.6,0.75-6.3,0.75-2.1,0.75-1.4,0.75 3.3,0.75-8.5,0.75 8.4,0.75-3.9,0.75 2.5,0.75-0.6,0.75-3.3,0.75-1.8,0.75-2.9,0.75 8.3,0.75-0.7,0.75 0.6,0.75 0.3,0.75 5.7,0.75-5.8,0.75-0.9,0.75 3.3,0.75 0.3,0.75 0.6,0.75-1.5,0.75-5.8,0.75 5.3,0.75 4.7,0.75 2.6,0.75-2.5,0.75-7.5,0.75 3.6,0.75-1.7,0.75 7.6,0.75-11.1,0.75 5.4,0.75 6.2,0.75-12.2,0.75 4.6,0.75-5.1,0.75 5.2,0.75 0.6,0.75-2.6,0.75 0,0.75 7.3,0.75-8.2,0.75 7.7,0.75-3.7,0.75 4.3,0.75-0.4,0.75-7.1,0.75 4.6,0.75-5.4,0.75 13.4,0.75-8.5,0.75 3.8,0.75 1.3,0.75 4.2,0.75-13.6,0.75 7.8,0.75-5.8,0.75 2.4,0.75 2.8,0.75 2.3,0.75-5.8,0.75-0.7,0.75-2.7,0.75 15.3,0.75-11.9,0.75 20.8,0.75-16.9,0.75 5.8,0.75-6,0.75 3,0.75 2.3,0.75-2.5,0.75-4.8,0.75-3.6,0.75 1.4,0.75-0.2,0.75 7.4,0.75 0.1,0.75-8.7,0.75 6.2,0.75 0.5,0.75 1.1,0.75-7.1,0.75 6.4,0.75-4.6,0.75 0,0.75-0.7,0.75 0.1,0.75 4.7,0.75-5.5,0.75 2.4,0.75 1.2,0.75 5.1,0.75-12.3,0.75 0.9,0.75 8.3,0.75 1.5,0.75-10.7,0.75 8.5,0.75-8,0.75 2.3,0.75-4.6,0.75 1.8,0.75 5.7,0.75 5.9,0.75-10.4,0.75-6.6,0.75 7.5,0.75 0,0.75-5.3,0.75 2.5,0.75-5.3,0.75 2.2,0.75 4.7,0.75-3.8,0.75 7.8,0.75-1.6,0.75-8.8,0.75 1.4,0.75 6.7,0.75 0.6,0.75-8.3,0.75 1.4,0.75 6.1,0.75-1.2,0.75 2,0.75 6.2,0.75-1.6,0.75-4.1,0.75-2.5,0.75-1.9,0.75 2.7,0.75-8.1,0.75 6.2,0.75 2.9,0.75-1.6,0.75 4.9,0.75-6.3,0.75 7.2,0.75-4.6,0.75-0.8,0.75 4.2,0.75-4.5,0.75 4,0.75-1.4,0.75 2.3,0.75 1,0.75-1.5,0.75-0.5,0.75 3.6,0.75-1.2,0.75-1.7,0.75 3.8,0.75-5.7,0.75-1.4,0.75 2.5,0.75 0.8,0.75-3.5,0.75-1.9,0.75-1.1,0.75 4.6,0.75-6.9,0.75 7.4,0.75 1.2,0.75 1.1,0.75-5.1,0.75 3.3,0.75-6.1,0.75 7.8,0.75-7.5,0.75-0.9,0.75-1.5,0.75 7.3,0.75-0.7,0.75 1.2,0.75-6.6,0.75 1.4,0.75-4.2,0.75 2.7,0.75 0.2,0.75 10.3,0.75-5.1,0.75-3.9,0.75 1.3,0.75-3.1,0.75 1.4,0.75 5.1,0.75 4.4,0.75 0.3,0.75-1.5,0.75 0.4,0.75-3.2,0.75-1.1,0.75 1,0.75 0.5,0.75-3,0.75 0.4,0.75 5,0.75-2.5,0.75 0.2,0.75-1,0.75-2,0.75 6,0.75-1.8,0.75 1.9,0.75-3.3,0.75 2.3,0.75 2.6,0.75-2.3,0.75-0.4,0.75-0.4,0.75 2.5,0.75-3.2,0.75 2.6,0.75-5.8,0.75 1.6,0.75 4.4,0.75-0.3,0.75-2.4,0.75-6,0.75 4.1,0.75-2.7,0.75 0.5,0.75 2.8,0.75-2.5,0.75-2,0.75-4.2,0.75 1.1,0.75 2.5,0.75 2.2,0.75 3.2,0.75 5,0.75-6.5,0.75-2.7,0.75 3.1,0.75-3.6,0.75-0.7,0.75-0.3,0.75 3.8,0.75 1.9,0.75-0.3,0.75 0.2,0.75 0,0.75-4.8,0.75 6.8,0.75-2.8,0.75 2.3,0.75-4.6,0.75 0.9,0.75-4.7,0.75 3.1,0.75-1.4,0.75 3.2,0.75 0.9,0.75-2.5,0.75-1.6,0.75 2.4,0.75 3.7,0.75-4.4,0.75 0.9,0.75 1,0.75-3.1,0.75 0.9,0.75 2.6,0.75-5.7,0.75 5.4,0.75 1.4,0.75-6.8,0.75 6.3,0.75-5.1,0.75 4.3,0.75 1.8,0.75 0.3,0.75 3,0.75 0.5,0.75-3,0.75-1.7,0.75-4.4,0.75 3.9,0.75 1.2,0.75-3.1,0.75 1.2,0.75 4.7,0.75-4,0.75-1,0.75 4.2,0.75 1.7,0.75-3.1,0.75-3.2,0.75 3.8,0.75 3,0.75-3.4,0.75 2.7,0.75-8.1,0.75 1,0.75-0.6,0.75 4.6,0.75 0.9,0.75-1.8,0.75 2.4,0.75-0.3,0.75 0.6,0.75-2,0.75-0.8,0.75-5.1,0.75 3.4,0.75-3.9,0.75 6.1,0.75-3.5,0.75-0.2,0.75 2.2,0.75 2,0.75 1.3,0.75-1.1,0.75 1.9,0.75-6.1,0.75 1.8,0.75-4.9,0.75 5.5,0.75 0.2,0.75 0.6,0.75 1.8,0.75-0.7,0.75 2.2,0.75-8.3,0.75 4.3,0.75 1.7,0.75-4.2,0.75-0.5,0.75 6.7,0.75 0.5,0.75 0.4,0.75-4,0.75-0.2,0.75-2.1,0.75-2.4,0.75 2.2,0.75-2.2,0.75-0.4,0.75 0.7,0.75-1.4,0.75" stroke="#000" stroke-width="0.45"/>
<path d="M345.6,62l-0.1,0.75 1.9,0.75-2.2,0.75-2.6,0.75 3,0.75 7.4,0.75-0.3,0.75-0.6,0.75 0.5,0.75 2.7,0.75-6,0.75-6.7,0.75 7.2,0.75-3.2,0.75 4.6,0.75-2.7,0.75 2.8,0.75-2.6,0.75 0.3,0.75 7,0.75-6.9,0.75-0.7,0.75-2.8,0.75-0.3,0.75 4.2,0.75-0.1,0.75-0.4,0.75 2.3,0.75-1.6,0.75 3,0.75-2.3,0.75-2.5,0.75 8.1,0.75-5.8,0.75 3,0.75 1.9,0.75-1.7,0.75 2.1,0.75-0.5,0.75-1.8,0.75-1.1,0.75-0.3,0.75-0.6,0.75-3,0.75 5.9,0.75-3.9,0.75 2.7,0.75 3.9,0.75-0.6,0.75-1.4,0.75-0.8,0.75 2.8,0.75-2.7,0.75-3.5,0.75-1.8,0.75 0.6,0.75 1.2,0.75 0.9,0.75-3.4,0.75-1,0.75 1.3,0.75-3.6,0.75 4.1,0.75 3,0.75-3,0.75-2.6,0.75 2.8,0.75 4.5,0.75-3.9,0.75-2.1,0.75-2.3,0.75 2.5,0.75-4.1,0.75 5.9,0.75-2.6,0.75 0.1,0.75 6.9,0.75-6.2,0.75 4.3,0.75-2.6,0.75-0.7,0.75 0.2,0.75-1.4,0.75-4.4,0.75 8.6,0.75 1.1,0.75-7.5,0.75-0.3,0.75 1.3,0.75-5.3,0.75-0.6,0.75 1.4,0.75 0.8,0.75 0,0.75 1.5,0.75 0.4,0.75 1.6,0.75-0.1,0.75 8.6,0.75-2.7,0.75-9.4,0.75 2.4,0.75 3.1,0.75 0.8,0.75-3.1,0.75 0.7,0.75 4.6,0.75-0.2,0.75-1.8,0.75 4.7,0.75-1.4,0.75 0,0.75-4.1,0.75 1.2,0.75-0.4,0.75-0.7,0.75 2.2,0.75-2.6,0.75-2.5,0.75 1.6,0.75 0.8,0.75 0,0.75 3.7,0.75-4.7,0.75 5.6,0.75-4.7,0.75 0,0.75-3.9,0.75 3.7,0.75 8.8,0.75-10,0.75 5.9,0.75 1.4,0.75 4.5,0.75 3.7,0.75-3.6,0.75-3.8,0.75-7.5,0.75-2,0.75-2,0.75 2,0.75-0.7,0.75-0.8,0.75 1.3,0.75 1.6,0.75 1,0.75 1.1,0.75 0,0.75-1.5,0.75-0.7,0.75 0.9,0.75-0.1,0.75-0.8,0.75 0.6,0.75-4.6,0.75 3.5,0.75 1.4,0.75 4.1,0.75-7.7,0.75 4.5,0.75 5.1,0.75-8.4,0.75 3.2,0.75 2.6,0.75-2.7,0.75 0,0.75 0.2,0.75 2.3,0.75-6.2,0.75 6.1,0.75-3.8,0.75-0.5,0.75 5.8,0.75 4.6,0.75-9.5,0.75 5.3,0.75-4.4,0.75 0.3,0.75 0.7,0.75-1.4,0.75-8.3,0.75 15.9,0.75 1.3,0.75 12.5,0.75-11.1,0.75-10.6,0.75-0.2,0.75-4.3,0.75 7.7,0.75-0.9,0.75 10.3,0.75 2.2,0.75-4.9,0.75 5.1,0.75-9.7,0.75 3.8,0.75-4.1,0.75 5.7,0.75-3.2,0.75 5.2,0.75-6.3,0.75-10.7,0.75 9.5,0.75 3.9,0.75-4.2,0.75-6.3,0.75 5.2,0.75-3.3,0.75 2.6,0.75 3.5,0.75-8.2,0.75 3.7,0.75-2.9,0.75 0.6,0.75 18.5,0.75-9,0.75 6.4,0.75-21.5,0.75-2.8,0.75 3.8,0.75 13.7,0.75-23.7,0.75 3.9,0.75 0,0.75 2.5,0.75 16.3,0.75-6.9,0.75 11.8,0.75-11.1,0.75 7.5,0.75-11.2,0.75 10.6,0.75-22.5,0.75 0.6,0.75 7.2,0.75 15.2,0.75-5.2,0.75 8.3,0.75-14.9,0.75 11.7,0.75-16.5,0.75-9.5,0.75 8.8,0.75 0.7,0.75 7.3,0.75-7.8,0.75 4,0.75-8,0.75 0.6,0.75 8.6,0.75 4,0.75 4.1,0.75 0.2,0.75 2.2,0.75 3.8,0.75-13.5,0.75 2,0.75 7.1,0.75 0.6,0.75-4.9,0.75 1.8,0.75 6.3,0.75-5.3,0.75 2.8,0.75-8.3,0.75-3.1,0.75 2.3,0.75-1.6,0.75 3.5,0.75-2.8,0.75 6.1,0.75-5.1,0.75-2,0.75 6.9,0.75-1.4,0.75-6.8,0.75 4.9,0.75 4.4,0.75 4.5,0.75 4.4,0.75-5.9,0.75 0,0.75 4.4,0.75-4,0.75-4.3,0.75-0.7,0.75-1.7,0.75-1.4,0.75-0.5,0.75 2.2,0.75-4.8,0.75 2.1,0.75 2.5,0.75 1.9,0.75-3.2,0.75 0.8,0.75 1.5,0.75-0.5,0.75 6.9,0.75-6.2,0.75-4,0.75 2.2,0.75-1.5,0.75 1.7,0.75-2,0.75-2.9,0.75 6.2,0.75-1.6,0.75 1.5,0.75-0.6,0.75 0,0.75 5,0.75-8.5,0.75 4.5,0.75-0.1,0.75 4.9,0.75-2.9,0.75 2.4,0.75-1.1,0.75 0,0.75-3.8,0.75-4.1,0.75-1.4,0.75 10.3,0.75-1.4,0.75-3.1,0.75 3.5,0.75-1.6,0.75-5.3,0.75-2.2,0.75-1.7,0.75-3.3,0.75 2.7,0.75 4.4,0.75 1.5,0.75-5.1,0.75 5.1,0.75 3.2,0.75-1.5,0.75-1.4,0.75-1.3,0.75 3.9,0.75-0.2,0.75 1.5,0.75 0.5,0.75-2.5,0.75 2.3,0.75-4.9,0.75 0.1,0.75-9.1,0.75 11.6,0.75 7,0.75-4,0.75-2.2,0.75 1.7,0.75 2.4,0.75-0.5,0.75-0.5,0.75-5.2,0.75-0.4,0.75-3.5,0.75 2,0.75-3.6,0.75-0.3,0.75 8.5,0.75-2.9,0.75 5.8,0.75-5.5,0.75 5.2,0.75 2,0.75-9.8,0.75-0.6,0.75 5.2,0.75-1.6,0.75-6.4,0.75 7.6,0.75-0.4,0.75 1.5,0.75-1.9,0.75-2.2,0.75 2,0.75 1.4,0.75 8.8,0.75-1.2,0.75-17.3,0.75 9.8,0.75 0.7,0.75-4.9,0.75 7.3,0.75-3.5,0.75 0.4,0.75-1.5,0.75 2.9,0.75-3.6,0.75 0,0.75-1.8,0.75 3.4,0.75-3.4,0.75-3.4,0.75 8.1,0.75 0.8,0.75-0.1,0.75 4.8,0.75-1.4,0.75-0.4,0.75-1.4,0.75-3.4,0.75 8.3,0.75-4.5,0.75 3.4,0.75-3.2,0.75 1,0.75-3.6,0.75-4.2,0.75 2.6,0.75-5.1,0.75 10.3,0.75-2.3,0.75-1.6,0.75 1.7,0.75 2,0.75-6.7,0.75 0.1,0.75 0.7,0.75-0.8,0.75 1.6,0.75-2.9,0.75-3,0.75 5.8,0.75 1.7,0.75-1.7,0.75 3.7,0.75-5.6,0.75-0.7,0.75-3.9,0.75 1.3,0.75 5.3,0.75 1.6,0.75 0.2,0.75-4.8,0.75 2.4,0.75-0.8,0.75-0.7,0.75-2.9,0.75-7.4,0.75 6,0.75 2.1,0.75-2.7,0.75 1.6,0.75 2.9,0.75-3.2,0.75 3,0.75-1.6,0.75 7.8,0.75-4,0.75-3.1,0.75 3,0.75-0.5,0.75-2.4,0.75 0,0.75 6.8,0.75-6.8,0.75-0.7,0.75-6.8,0.75 1.1,0.75 6.5,0.75 2.1,0.75 1.1,0.75-1.5,0.75 2.5,0.75-5.2,0.75 10.1,0.75-11.3,0.75-0.3,0.75 4,0.75 10.6,0.75-8.5,0.75 1.4,0.75-2.5,0.75 2.9,0.75-1.8,0.75-0.2,0.75-4.1,0.75 3,0.75 0.9,0.75-1,0.75 1.6,0.75-1.3,0.75 0.4,0.75-0.2,0.75 3.3,0.75-8.4,0.75 3.8,0.75-3,0.75 0.5,0.75 4.5,0.75-3.7,0.75 3.5,0.75-3.4,0.75 0.8,0.75-1.6,0.75-3.8,0.75 1.7,0.75 2.9,0.75 2.8,0.75 4.4,0.75-0.7,0.75 1.6,0.75-2.8,0.75-7.4,0.75-1.7,0.75 7.9,0.75-2.1,0.75-2.7,0.75-2,0.75 3.2,0.75-1.4,0.75-2.3,0.75-0.2,0.75 3.8,0.75 1.9,0.75-5.1,0.75-0.5,0.75 17.9,0.75-1.3,0.75-5.6,0.75 2.8,0.75-0.2,0.75-7.3,0.75-7.9,0.75 6.4,0.75 13.2,0.75-0.6,0.75-10.7,0.75 1.9,0.75 4.7,0.75-7,0.75-1.8,0.75-12.7,0.75 5,0.75 10.6,0.75 2.3,0.75 2.8,0.75-3.9,0.75-1.1,0.75-10.7,0.75 3.8,0.75 4.3,0.75-3.2,0.75 7.2,0.75-8.2,0.75 5.6,0.75-3.8,0.75-0.4,0.75-0.8,0.75-0.3,0.75-4.6,0.75 5.1,0.75 6.7,0.75-2.1,0.75-10.8,0.75 2.2,0.75 6,0.75-4.5,0.75 7.3,0.75-0.9,0.75 0.8,0.75-4.2,0.75 0.8,0.75 1.7,0.75-7.6,0.75-0.9,0.75 12.7,0.75-8.8,0.75 0,0.75 5.3,0.75 6.8,0.75-1,0.75-2.4,0.75 2,0.75 3.2,0.75-5.1,0.75 3.5,0.75-8.9,0.75 0.8,0.75-0.6,0.75 1,0.75 2.5,0.75-2.2,0.75-5,0.75 5.2,0.75-7.8,0.75 3.4,0.75 1.1,0.75-4.5,0.75 3.1,0.75 5.8,0.75 4.7,0.75-9.7,0.75-0.7,0.75 2.2,0.75-0.6,0.75 1.7,0.75-6,0.75 0.5,0.75" stroke="#000" stroke-width="0.45"/>
<polygon points="333.0,190 333.0,194 327.6,199 321.3,204 319.0,208 319.1,212 319.4,217 319.8,222 320.2,226 320.6,230 320.9,235 320.9,240 320.5,244 319.9,248 319.2,253 322.3,258 328.6,262 333.0,266 333.0,270 333.0,270 333.0,266 336.4,262 341.8,258 345.2,253 345.8,248 346.4,244 346.8,240 346.8,235 346.6,230 346.2,226 345.7,222 345.3,217 345.0,212 345.0,208 343.3,204 338.0,199 333.0,194 333.0,190" fill="#000" fill-opacity="0.15" stroke="none"/>
<path d="M333.3,190l-0.1,0.75 0.1,0.75-0.5,0.75 0,0.75 0.1,0.75 0.6,0.75-0.6,0.75-0.5,0.75-1.4,0.75-2.7,0.75 4.6,0.75 0.2,0.75 3.5,0.75-2.7,0.75 1.6,0.75 14.4,0.75-15.7,0.75 6.8,0.75-4,0.75-18.7,0.75 5,0.75-3.2,0.75 2.9,0.75 6.9,0.75 2.1,0.75-9.9,0.75 5,0.75 5,0.75-6.7,0.75 13.1,0.75-1.8,0.75-0.7,0.75-0.5,0.75-6.8,0.75-2.1,0.75-4.7,0.75 2.1,0.75-1.3,0.75 9,0.75 0.2,0.75-2.3,0.75 1.9,0.75 3.4,0.75 4.9,0.75 17.1,0.75-16.1,0.75-16.4,0.75 5.6,0.75 6.3,0.75-1.8,0.75-7.7,0.75-0.7,0.75 5.2,0.75-5,0.75 6.7,0.75 10.1,0.75 4.8,0.75-2.2,0.75-5.2,0.75-9.7,0.75 10.5,0.75-8.2,0.75 9.3,0.75 2.2,0.75-0.2,0.75-3.8,0.75-1.4,0.75-5.9,0.75-4.1,0.75 11.7,0.75-7.7,0.75-8.1,0.75 8.7,0.75-3.3,0.75-22.1,0.75 42.1,0.75-18.9,0.75 3.4,0.75-1,0.75 11.1,0.75-11.7,0.75 4,0.75 9.5,0.75-8,0.75 1.9,0.75-2.3,0.75-1.7,0.75-14.8,0.75 10.1,0.75 1.6,0.75 5.5,0.75 1.4,0.75-6,0.75-0.5,0.75 0.1,0.75 0,0.75-3.2,0.75 1,0.75 1.5,0.75-0.8,0.75 0,0.75-0.1,0.75-0.2,0.75 0.7,0.75-0.3,0.75-0.4,0.75" stroke="#000" stroke-width="0.45"/>
<polygon points="333.0,435 333.0,440 327.8,444 322.3,448 321.0,453 321.5,458 321.9,462 322.0,466 321.7,471 321.2,476 320.6,480 320.2,484 320.0,489 320.1,494 320.3,498 323.7,502 329.4,507 333.0,512 333.0,512 336.6,507 341.9,502 344.6,498 344.3,494 344.2,489 344.4,484 344.9,480 345.5,476 346.0,471 346.2,466 346.1,462 345.7,458 345.2,453 342.9,448 337.5,444 333.0,440 333.0,435" fill="#000" fill-opacity="0.15" stroke="none"/>
<path d="M332.9,435l0.3,0.75-0.4,0.75 0.1,0.75 0.1,0.75 0.1,0.75 0.3,0.75-0.6,0.75 0.4,0.75-2.1,0.75-3.2,0.75 6.2,0.75 2.9,0.75-2.8,0.75-2,0.75 4.3,0.75-3.5,0.75-5.3,0.75 2.6,0.75 0,0.75 6.1,0.75-11.5,0.75-12,0.75 13.2,0.75 9.9,0.75-7.1,0.75 7,0.75-6,0.75 1.4,0.75 4.1,0.75-2.1,0.75 2.5,0.75-1.9,0.75-3.8,0.75-3.9,0.75 17.1,0.75-0.1,0.75-12.7,0.75 7.9,0.75-6.6,0.75-2.5,0.75-1.4,0.75 0.5,0.75 8.3,0.75 6,0.75-1.2,0.75 2,0.75-2.5,0.75-10.4,0.75-1.5,0.75 12.5,0.75-4,0.75 2.4,0.75-0.3,0.75-12.6,0.75 5.1,0.75 6.6,0.75-4,0.75 5.6,0.75 5.5,0.75-2.5,0.75-4.1,0.75-15.3,0.75-9.5,0.75 13.2,0.75-2.8,0.75 6.3,0.75-3,0.75 13.3,0.75-9.7,0.75 8,0.75 1,0.75-1.4,0.75-6,0.75-6.4,0.75 1.9,0.75-3.7,0.75-2.7,0.75 3.7,0.75 18.5,0.75-12.3,0.75 11.1,0.75-0.8,0.75-4.5,0.75 0.3,0.75-4.6,0.75 1.9,0.75-0.7,0.75-10.5,0.75 5.9,0.75 8.6,0.75-9.2,0.75 3.3,0.75-5.6,0.75-1.8,0.75 5.1,0.75 2,0.75 1.1,0.75-1.4,0.75 0.2,0.75 0.4,0.75-0.1,0.75 0.1,0.75" stroke="#000" stroke-width="0.45"/>
<path d="M354.2,62l-0.7,0.75 1.2,0.75 0.4,0.75 0.4,0.75 0.2,0.75 0.4,0.75 0.6,0.75-1.1,0.75-1.4,0.75-1.1,0.75 0.7,0.75 0.3,0.75 0.1,0.75 1.1,0.75 0,0.75-0.1,0.75-0.7,0.75 0,0.75 0.4,0.75 0.8,0.75-0.8,0.75-1.4,0.75-0.7,0.75 0.1,0.75 0.6,0.75-1,0.75-0.9,0.75 0.1,0.75 0.7,0.75 0.5,0.75-0.8,0.75 0,0.75-0.4,0.75-1.4,0.75 0.1,0.75 1.7,0.75 1,0.75 0.3,0.75 1.6,0.75 1.5,0.75-1,0.75 0.5,0.75 1.5,0.75 1,0.75 1,0.75-1.6,0.75-1.8,0.75-1.5,0.75-1.4,0.75-0.2,0.75 1.1,0.75-0.4,0.75-0.2,0.75-0.5,0.75 0.1,0.75 1.7,0.75 0.8,0.75 1.1,0.75 0.2,0.75 0.3,0.75 1.1,0.75 0,0.75-0.5,0.75 0.6,0.75-0.2,0.75-0.7,0.75-1.3,0.75-1.8,0.75-1,0.75 0.9,0.75-0.6,0.75-1,0.75-0.8,0.75 2.1,0.75 0.3,0.75 1.6,0.75-0.9,0.75-0.7,0.75-0.2,0.75 0.7,0.75-0.1,0.75-1,0.75-0.6,0.75 0.7,0.75 0.4,0.75-1.1,0.75-1.4,0.75-0.7,0.75-1.2,0.75-0.5,0.75-0.1,0.75-0.3,0.75 0.4,0.75 0.3,0.75 0.3,0.75 1.5,0.75 1.7,0.75 1.4,0.75 1.7,0.75 1.7,0.75 0.7,0.75-0.3,0.75-2,0.75-2.4,0.75-0.6,0.75-0.3,0.75-0.3,0.75-1,0.75 0.3,0.75 1.3,0.75 1.6,0.75 0.9,0.75 0.7,0.75 0.6,0.75 0.5,0.75-0.3,0.75-1.8,0.75-1.5,0.75 0,0.75 0,0.75-0.7,0.75 0.3,0.75 0.4,0.75-1.3,0.75-2.3,0.75-0.4,0.75 0,0.75 0.9,0.75 1.6,0.75 0.2,0.75 0.3,0.75-0.3,0.75 0.8,0.75 0.5,0.75-0.6,0.75-1,0.75-0.7,0.75 0.4,0.75 0.2,0.75-0.4,0.75-1,0.75 0.3,0.75 0.5,0.75 1.3,0.75 0.3,0.75 0.5,0.75-1.2,0.75-0.3,0.75-0.6,0.75-0.3,0.75 0.3,0.75-0.8,0.75-0.2,0.75-0.4,0.75-0.1,0.75-0.7,0.75 0.3,0.75 0.9,0.75 0.6,0.75 0,0.75-0.5,0.75-0.4,0.75-1,0.75 0.6,0.75 1,0.75 1.1,0.75 1.3,0.75 0,0.75 0.2,0.75 0.7,0.75 0.6,0.75-0.2,0.75 0.8,0.75-0.7,0.75-0.2,0.75-0.4,0.75-2.6,0.75-2.8,0.75-1.5,0.75 0.2,0.75-0.4,0.75 0.1,0.75 0.4,0.75-0.2,0.75-0.1,0.75 0.4,0.75 0.2,0.75 0,0.75 0.1,0.75 1,0.75 1.1,0.75 2,0.75-0.1,0.75 0.6,0.75-0.2,0.75-0.3,0.75 1.3,0.75 1.8,0.75 0.4,0.75 0.6,0.75-0.7,0.75-1.3,0.75-0.6,0.75-0.5,0.75-0.1,0.75 0.8,0.75 1.1,0.75 0.5,0.75-0.1,0.75-0.3,0.75-0.3,0.75-0.2,0.75 0.2,0.75-0.8,0.75-1.6,0.75 0.7,0.75 1.5,0.75 0.2,0.75 0.2,0.75-0.5,0.75-2.2,0.75-1.1,0.75 0.4,0.75 0.3,0.75 0.1,0.75 0,0.75 0.5,0.75 0.3,0.75 1.1,0.75 0.4,0.75-0.4,0.75-0.6,0.75 1.2,0.75-0.3,0.75 0.5,0.75 0,0.75-1.1,0.75-0.4,0.75-0.3,0.75-1.3,0.75 0.1,0.75 0.7,0.75 1.5,0.75-0.6,0.75-0.4,0.75-0.8,0.75 0.5,0.75 0.6,0.75-0.1,0.75-0.1,0.75 0.4,0.75-0.3,0.75 0,0.75 0.4,0.75-1,0.75-1,0.75 0,0.75 0.9,0.75 1.2,0.75 1.7,0.75 0.9,0.75-0.1,0.75-0.6,0.75-1.2,0.75-1.6,0.75-1.5,0.75-0.8,0.75 0.7,0.75 0.7,0.75 1.3,0.75 0,0.75 0.6,0.75 0.9,0.75 0.4,0.75-0.7,0.75 0.1,0.75 0.2,0.75 0.4,0.75 0,0.75-0.3,0.75-0.3,0.75-0.6,0.75 0.9,0.75-0.4,0.75-0.1,0.75 0.3,0.75 1.1,0.75 0.8,0.75 0.7,0.75 0.3,0.75-1.1,0.75-0.5,0.75-0.9,0.75-1,0.75 0.3,0.75-0.7,0.75-0.3,0.75-1,0.75-0.1,0.75 0.1,0.75 0.4,0.75 0.9,0.75-1.2,0.75-1.1,0.75-0.2,0.75-1.2,0.75-0.1,0.75 0.5,0.75 0.6,0.75 1,0.75-0.5,0.75 0.8,0.75 0.1,0.75-0.5,0.75 0.8,0.75-0.1,0.75-0.2,0.75-0.1,0.75-0.2,0.75 0.7,0.75 0.2,0.75 1.4,0.75 1.1,0.75-0.2,0.75-1.6,0.75-0.9,0.75 0.4,0.75 0.3,0.75 0.2,0.75-0.6,0.75 0.5,0.75 1.1,0.75 0.7,0.75-0.7,0.75 1.3,0.75 0.4,0.75 0,0.75-0.7,0.75-0.4,0.75-0.1,0.75-0.7,0.75-0.8,0.75-0.6,0.75-0.5,0.75-0.2,0.75 1.3,0.75 0.8,0.75 0,0.75 0.4,0.75-0.4,0.75-0.9,0.75-0.1,0.75-0.2,0.75-1.2,0.75-1.9,0.75 0.2,0.75 0.2,0.75-0.3,0.75 0.1,0.75 0.3,0.75-0.9,0.75-1.3,0.75-0.4,0.75 0.4,0.75-1,0.75 1,0.75 0.7,0.75 0.7,0.75 0.2,0.75-0.2,0.75 1,0.75 1.2,0.75 1.3,0.75 0.8,0.75-0.1,0.75-0.2,0.75-0.1,0.75-2,0.75-1,0.75-1.3,0.75 0.5,0.75 0.1,0.75-0.2,0.75 0,0.75 1,0.75 0.8,0.75 0.8,0.75-0.5,0.75-0.3,0.75-0.5,0.75 0,0.75-0.6,0.75-1.6,0.75-0.1,0.75-1,0.75 0.5,0.75 0.3,0.75 1.1,0.75 0.6,0.75 0.9,0.75-0.2,0.75 0.2,0.75 0,0.75 0.1,0.75 1.9,0.75-0.4,0.75 0.6,0.75-1.5,0.75-0.6,0.75 0.5,0.75-0.1,0.75-0.8,0.75 0,0.75-0.2,0.75 0.2,0.75 0,0.75-0.5,0.75 0.1,0.75 0.4,0.75 0.1,0.75 0.4,0.75 0.6,0.75 0.2,0.75 0.1,0.75-0.2,0.75 0.2,0.75-0.2,0.75 0.6,0.75 0,0.75-0.5,0.75-0.5,0.75 0,0.75 1.4,0.75 1.3,0.75-0.3,0.75-0.3,0.75-0.8,0.75 0.7,0.75-0.2,0.75-1.3,0.75-1.1,0.75-1.5,0.75-1.5,0.75-0.3,0.75 0.4,0.75 0.8,0.75 0.3,0.75 0.3,0.75 0.7,0.75 1,0.75 1.3,0.75 0.7,0.75-0.2,0.75-0.3,0.75-1,0.75-0.3,0.75-1.7,0.75-1,0.75-0.7,0.75 1,0.75-0.1,0.75 0.8,0.75 0.8,0.75 1.6,0.75 2,0.75 1,0.75 0.6,0.75-0.1,0.75-0.1,0.75-0.9,0.75 0.8,0.75 0.8,0.75-1.7,0.75 0.1,0.75 0.3,0.75 0.3,0.75-1.1,0.75-0.4,0.75-0.6,0.75-0.8,0.75 0.5,0.75-0.4,0.75-0.3,0.75 0.9,0.75 0.5,0.75 2.5,0.75 0.3,0.75-1.2,0.75-0.4,0.75-0.5,0.75-0.1,0.75-0.2,0.75-1,0.75-0.7,0.75-0.6,0.75-0.5,0.75-0.9,0.75 0.7,0.75 1.3,0.75-0.5,0.75 0.9,0.75 0.2,0.75-0.6,0.75-1,0.75-0.1,0.75 0.1,0.75 0.3,0.75 0.1,0.75-0.1,0.75-0.5,0.75 0.5,0.75 0,0.75-0.4,0.75 0.3,0.75-0.7,0.75-0.7,0.75-0.2,0.75 0.3,0.75 0.6,0.75 0.2,0.75-0.6,0.75 1.4,0.75 1.2,0.75 1.1,0.75 1,0.75 0.8,0.75-1.3,0.75-0.5,0.75 0,0.75 0.7,0.75-0.3,0.75 0.3,0.75-0.4,0.75-0.2,0.75 1,0.75 1.4,0.75 0.8,0.75-1.6,0.75-1.5,0.75-0.1,0.75-0.3,0.75-0.9,0.75 0,0.75-0.8,0.75 0.1,0.75 1.4,0.75 1.1,0.75 1.3,0.75 0.5,0.75-0.3,0.75-1.9,0.75-1,0.75-1.5,0.75-0.2,0.75-0.7,0.75 0.6,0.75-0.3,0.75 0.2,0.75 0.3,0.75 1.8,0.75-0.2,0.75 0.2,0.75-0.2,0.75 0.3,0.75 0.6,0.75-1,0.75-1,0.75 0.5,0.75 0.6,0.75 0.2,0.75-0.1,0.75 0.2,0.75 1,0.75 0.4,0.75 0.2,0.75 0.2,0.75 0,0.75 0.7,0.75-0.7,0.75-0.8,0.75-1.1,0.75-0.8,0.75 0.5,0.75 0.1,0.75 1,0.75 0.3,0.75-1.1,0.75-0.3,0.75 1.4,0.75 0.4,0.75-0.2,0.75 0,0.75-0.1,0.75-0.6,0.75-1.1,0.75-0.5,0.75-0.3,0.75-0.4,0.75-0.4,0.75-0.5,0.75-0.2,0.75 0,0.75 0.6,0.75 0.3,0.75 1.8,0.75 1.7,0.75-0.4,0.75 1.6,0.75-0.3,0.75-1.4,0.75-1.3,0.75-0.5,0.75 0.5,0.75 0,0.75-1.4,0.75-0.2,0.75-0.3,0.75-0.7,0.75 0.4,0.75 0.4,0.75 0.4,0.75-1.2,0.75-1.1,0.75-0.1,0.75-0.5,0.75 0.6,0.75 0.4,0.75 0,0.75 0.4,0.75 1.5,0.75-0.1,0.75-0.5,0.75-0.9,0.75 0.5,0.75 1.4,0.75 0.8,0.75 1.2,0.75 1.6,0.75 0,0.75-0.6,0.75-0.4,0.75 0.7,0.75 0.6,0.75 0.1,0.75-0.7,0.75-0.8,0.75-0.3,0.75 0.3,0.75 0.2,0.75-0.7,0.75-1.3,0.75-0.8,0.75-0.8,0.75-1.2,0.75-0.4,0.75 0.1,0.75 1,0.75 1.6,0.75-0.3,0.75-0.6,0.75 0.8,0.75 1,0.75 0.3,0.75-0.2,0.75 0.1,0.75 0.9,0.75 0.8,0.75 0,0.75-0.2,0.75 0,0.75-0.5,0.75-1.7,0.75-1,0.75-0.8,0.75-0.4,0.75-1.1,0.75 0.1,0.75-0.8,0.75 0.9,0.75 1.5,0.75 0.6,0.75 0.5,0.75-0.6,0.75-0.3,0.75-0.1,0.75 0.3,0.75-0.9,0.75-0.8,0.75 0.1,0.75 0.6,0.75 0,0.75 0.2,0.75 0.8,0.75 0.8,0.75 2.3,0.75 0,0.75-0.8,0.75 0.4,0.75-0.4,0.75-0.7,0.75 0.3,0.75 0.7,0.75 0,0.75 0,0.75 1,0.75 0.4,0.75 0,0.75-0.3,0.75 1.4,0.75-0.2,0.75-0.7,0.75-1.4,0.75-0.6,0.75-1.1,0.75-1.3,0.75-1.2,0.75-0.6,0.75 0.1,0.75-0.1,0.75 1,0.75 0.1,0.75-0.6,0.75-0.1,0.75 0.8,0.75 0.9,0.75 0,0.75 0.1,0.75 0.1,0.75 0.4,0.75 0.2,0.75 0.5,0.75 0.6,0.75-0.4,0.75 0.2,0.75-0.9,0.75-0.8,0.75 0.5,0.75-0.5,0.75-1.6,0.75-1.4,0.75-0.1,0.75 0.1,0.75 0.8,0.75 0.9,0.75 0,0.75 1,0.75 1.2,0.75 1.3,0.75-0.4,0.75 0.2,0.75-0.2,0.75 0.3,0.75 0.9,0.75-0.1,0.75-1.5,0.75-1.3,0.75-1.3,0.75 0,0.75 1.7,0.75 0.5,0.75 1.9,0.75 1.6,0.75-0.3,0.75 0.2,0.75-0.3,0.75 0,0.75 0.2,0.75-0.5,0.75-1.5,0.75-1.4,0.75-0.2,0.75 0.4,0.75-0.9,0.75-1.9,0.75-0.7,0.75 1.2,0.75 1.9,0.75 0,0.75-0.7,0.75-1,0.75-0.3,0.75 1,0.75 0,0.75 1.4,0.75-0.5,0.75 0.8,0.75 0.7,0.75-0.6,0.75-0.7,0.75 0.6,0.75 1.6,0.75 1,0.75 1.1,0.75-0.3,0.75-0.6,0.75 0.7,0.75 1,0.75-0.9,0.75-1.5,0.75-1.4,0.75-0.2,0.75-0.1,0.75" stroke="#000" stroke-width="0.45"/>
<path d="M385.5,62l-0.3,0.5-0.5,0.5-1.1,0.5 2.3,0.5 0.1,0.5-1.7,0.5-0.2,0.5-1.4,0.5 2.2,0.5-0.9,0.5-0.3,0.5 1.9,0.5-0.3,0.5-0.7,0.5-0.3,0.5 0,0.5-0.3,0.5 0.5,0.5 3.5,0.5 0.3,0.5-3.6,0.5 0.4,0.5 0.3,0.5 2,0.5-0.9,0.5-0.9,0.5-0.1,0.5-0.8,0.5 1.6,0.5-1,0.5-0.8,0.5-0.7,0.5-0.1,0.5 1.3,0.5 2.1,0.5-1.9,0.5-0.3,0.5 0.3,0.5 0.4,0.5 0.1,0.5 0.4,0.5 0.4,0.5 0.7,0.5-0.8,0.5-0.7,0.5 0.4,0.5-0.8,0.5-1.6,0.5 1.3,0.5-1.9,0.5 2.2,0.5-0.6,0.5-0.8,0.5 1,0.5-0.2,0.5 0.8,0.5 0,0.5-1.4,0.5 1.6,0.5-1.8,0.5 2.4,0.5-1.6,0.5 0.9,0.5-0.5,0.5-1.4,0.5-0.9,0.5-0.4,0.5-3.9,0.5 0.4,0.5 0.7,0.5 0.2,0.5 0.3,0.5 0.7,0.5 0.5,0.5 2.4,0.5-0.7,0.5-0.3,0.5-2,0.5 1.4,0.5 1.5,0.5 1.7,0.5 0.3,0.5 1.1,0.5 0.9,0.5-2.3,0.5 0.4,0.5 0.7,0.5-1.5,0.5 0.4,0.5-0.5,0.5 0.8,0.5-0.9,0.5 0.7,0.5 0.7,0.5 0.6,0.5-1.2,0.5-2.9,0.5 3.5,0.5 0.7,0.5-0.3,0.5-1.5,0.5-2,0.5 1.5,0.5 2.6,0.5-0.3,0.5-3.1,0.5 0.1,0.5-0.9,0.5 1.5,0.5 0.6,0.5 0,0.5-2,0.5 0.7,0.5-0.7,0.5 0.9,0.5 1.4,0.5-0.1,0.5 3.4,0.5 0,0.5-2.2,0.5-0.6,0.5 0,0.5 0.2,0.5-0.6,0.5-0.2,0.5 2.6,0.5-1.3,0.5 0.7,0.5-0.2,0.5-1.2,0.5 0.7,0.5-0.2,0.5-0.6,0.5 1.8,0.5-1.9,0.5-1.6,0.5 2.6,0.5 0.8,0.5 0,0.5 0.9,0.5-3.5,0.5 1.5,0.5 0.7,0.5 1.3,0.5 0.1,0.5 0.5,0.5 0.4,0.5-1.9,0.5-2.3,0.5 0.6,0.5-0.9,0.5 0.8,0.5 0.4,0.5 0.6,0.5 0.7,0.5 0.1,0.5-0.3,0.5-0.5,0.5 0.4,0.5 0.6,0.5 0.6,0.5-0.6,0.5-0.8,0.5 1.9,0.5-1,0.5 0.1,0.5-0.1,0.5 0.7,0.5-1.7,0.5 0.9,0.5-0.1,0.5 1.7,0.5-1.9,0.5-1.1,0.5-2.2,0.5 0.6,0.5-1.9,0.5 2.4,0.5-1.2,0.5 1.5,0.5-2.2,0.5 0.8,0.5 2.4,0.5-4.3,0.5-0.7,0.5 0.1,0.5 1.3,0.5-1.5,0.5 1.3,0.5-0.1,0.5 2.6,0.5 0.8,0.5-0.9,0.5-0.8,0.5-1,0.5-0.4,0.5 0.8,0.5-0.2,0.5 0.3,0.5-1.5,0.5 0.5,0.5 1.3,0.5-1.5,0.5-0.7,0.5-4.4,0.5 4.4,0.5 0.1,0.5 0.5,0.5-1.4,0.5 0.9,0.5 1.6,0.5-0.3,0.5 0.6,0.5 0.5,0.5-2.1,0.5-1.4,0.5 1.5,0.5-1.3,0.5-0.5,0.5 0.2,0.5 1.6,0.5 5.8,0.5 3.6,0.5 1.6,0.5 2.6,0.5 2.2,0.5-1.3,0.5-0.4,0.5-6.9,0.5-6.3,0.5-2.5,0.5-5.5,0.5-4.2,0.5-1.4,0.5 3,0.5 1.2,0.5 4.9,0.5 7.9,0.5 3,0.5 4.3,0.5 5.4,0.5 1.5,0.5 0,0.5-4.1,0.5-4.4,0.5-6,0.5-7,0.5-4.7,0.5-2.8,0.5-2.7,0.5 2.5,0.5 3.3,0.5 4.6,0.5 3.4,0.5 5.7,0.5 5.5,0.5 4.9,0.5 3,0.5-1.4,0.5-4.5,0.5-4.3,0.5-5.9,0.5-1.4,0.5-2.5,0.5-1.2,0.5 0.6,0.5 4.7,0.5 1,0.5 1,0.5-0.6,0.5-0.5,0.5-0.9,0.5-0.2,0.5-3.3,0.5 2.8,0.5 2.5,0.5-1.9,0.5 1.9,0.5 0.5,0.5 4,0.5-2,0.5-0.3,0.5-1.5,0.5 2.3,0.5 2.5,0.5 3.1,0.5-9.1,0.5 2.6,0.5 1.9,0.5 0.5,0.5-4.6,0.5-2.1,0.5 1.6,0.5 4,0.5 2.3,0.5-5.5,0.5-2.4,0.5-0.3,0.5-3.4,0.5 4.3,0.5-5.6,0.5-3.6,0.5 2.8,0.5 3.5,0.5 0,0.5-4.9,0.5-2.3,0.5 7.5,0.5 2.7,0.5-5.7,0.5 2.7,0.5-0.6,0.5 6.6,0.5 4.1,0.5-3.1,0.5 0.6,0.5 0.3,0.5-10.8,0.5-1.8,0.5 6.7,0.5-1.7,0.5 5.8,0.5 4.7,0.5-1.8,0.5-3.3,0.5-1.1,0.5-3.1,0.5 0.8,0.5 3.8,0.5-5.8,0.5 0.9,0.5-2.6,0.5-5.8,0.5 4.1,0.5-8.2,0.5 11.3,0.5-4.1,0.5-1.2,0.5 7.4,0.5 0.1,0.5 2.6,0.5 7.8,0.5-9.2,0.5-9.3,0.5 12.7,0.5-7.5,0.5 3.8,0.5-5.8,0.5 11.1,0.5-2.5,0.5-11.8,0.5-5.3,0.5 0.2,0.5 15.2,0.5 9.4,0.5-9.1,0.5 0.1,0.5 2.7,0.5-2.7,0.5-0.3,0.5-2,0.5-3,0.5-0.8,0.5 3,0.5-4.3,0.5 1,0.5 0.6,0.5 2.1,0.5-1.1,0.5-2.3,0.5 1.9,0.5 1.3,0.5 0.5,0.5-1,0.5 0.4,0.5-1,0.5-1,0.5 0.8,0.5 1.3,0.5 1.3,0.5-0.6,0.5-0.4,0.5-1.2,0.5 0.8,0.5 0,0.5 0.6,0.5-0.7,0.5-1.2,0.5-0.8,0.5-0.1,0.5 1.7,0.5-0.1,0.5-0.2,0.5 1.7,0.5-0.1,0.5 0.4,0.5 0,0.5-1,0.5 1.1,0.5 0.1,0.5-1,0.5 0,0.5 0.1,0.5-0.2,0.5-0.1,0.5-0.6,0.5 0.1,0.5 1.9,0.5-0.2,0.5 0.6,0.5-0.7,0.5-0.7,0.5-0.6,0.5-0.6,0.5 0.3,0.5 1.6,0.5 1.4,0.5-1.8,0.5 0.1,0.5-1.5,0.5 0.4,0.5 2.3,0.5-0.8,0.5-1.1,0.5 0.7,0.5-0.1,0.5 0.1,0.5 0.5,0.5-1.2,0.5 0,0.5-0.5,0.5 0.1,0.5 0.7,0.5 0.5,0.5-1.2,0.5-0.2,0.5 0.7,0.5 0.9,0.5-1.1,0.5 0,0.5 0.1,0.5 0,0.5-0.2,0.5 0.3,0.5-0.5,0.5-0.5,0.5-0.8,0.5-0.5,0.5 1.7,0.5 0.5,0.5 0.4,0.5 0.3,0.5-0.4,0.5 0.8,0.5-0.4,0.5-0.5,0.5 0.5,0.5-1.2,0.5 1,0.5-0.2,0.5-0.8,0.5-1.2,0.5 1,0.5 1.3,0.5 0.1,0.5-0.4,0.5-1.1,0.5 0,0.5 1.3,0.5-1,0.5 0.6,0.5-0.2,0.5-0.1,0.5 0.3,0.5-1,0.5 0.6,0.5-0.7,0.5 1,0.5 0,0.5 0.5,0.5 0.5,0.5 0.2,0.5-1.4,0.5 0.4,0.5 1.3,0.5-1.5,0.5 1.1,0.5-0.1,0.5-0.9,0.5 0.4,0.5-1.6,0.5-0.1,0.5-0.3,0.5 0,0.5 0.5,0.5-0.9,0.5 0.9,0.5 0.1,0.5 0.5,0.5-0.2,0.5-0.4,0.5 0.5,0.5 0.1,0.5 0.8,0.5-0.4,0.5 1.3,0.5 0.2,0.5-0.9,0.5-0.1,0.5 0.4,0.5-2.3,0.5 0.8,0.5 0,0.5-0.2,0.5-1.5,0.5 0.4,0.5-1.2,0.5 2.7,0.5 0.4,0.5-1.1,0.5-0.2,0.5 0.6,0.5 0.8,0.5 0.3,0.5 0.6,0.5-0.3,0.5-1,0.5 1.8,0.5-0.5,0.5 0.3,0.5-1,0.5-1.7,0.5 0.9,0.5 0.8,0.5-0.7,0.5 0.3,0.5 0.6,0.5 0.6,0.5-0.2,0.5-0.7,0.5-0.5,0.5 0.6,0.5 0.6,0.5-0.6,0.5 0.9,0.5-0.5,0.5 0.1,0.5 0.1,0.5-0.5,0.5 1,0.5-0.8,0.5-0.4,0.5-0.1,0.5-1.4,0.5 1,0.5 0.3,0.5-0.8,0.5 1,0.5-0.8,0.5 1.2,0.5 0.6,0.5-0.6,0.5 0.7,0.5-0.2,0.5-1.3,0.5 0.9,0.5 0.7,0.5 0.8,0.5 0.1,0.5-0.7,0.5-2.9,0.5 0.8,0.5 1.1,0.5-0.3,0.5-0.1,0.5-1,0.5 0.3,0.5 0.3,0.5 0.4,0.5 1.5,0.5-0.3,0.5 0,0.5 0.1,0.5 0.7,0.5-0.1,0.5-0.8,0.5 1,0.5 1,0.5 0.4,0.5-0.7,0.5 0.9,0.5-0.8,0.5-0.3,0.5-0.3,0.5-0.9,0.5 1.2,0.5 0.1,0.5 0,0.5-0.4,0.5 0.2,0.5-1.7,0.5-1.1,0.5 1.1,0.5-0.4,0.5 0,0.5-0.5,0.5 0,0.5 0.5,0.5-0.5,0.5-1.2,0.5 1.1,0.5-0.2,0.5-1.2,0.5 1.4,0.5 0.9,0.5 0.1,0.5-1.9,0.5 1,0.5 0.6,0.5-0.1,0.5 0.3,0.5 1,0.5-0.2,0.5-0.8,0.5 0,0.5 0.1,0.5 1.2,0.5-1,0.5 0,0.5 0.9,0.5-0.7,0.5-0.1,0.5 0.2,0.5 0.5,0.5 0.2,0.5-0.1,0.5-0.5,0.5 0.4,0.5-0.1,0.5 0,0.5-0.1,0.5-1.1,0.5 0.3,0.5-1.2,0.5-0.2,0.5 0.8,0.5 0.9,0.5-0.8,0.5 0.8,0.5-0.1,0.5 0.8,0.5-0.6,0.5-0.1,0.5-1,0.5-0.6,0.5 1.6,0.5 0.2,0.5-1.1,0.5 1,0.5-0.6,0.5-1.4,0.5 0.6,0.5 0.4,0.5 0.4,0.5-0.3,0.5-0.7,0.5 0.8,0.5 0.8,0.5 0.3,0.5-0.3,0.5-1.8,0.5-0.2,0.5-0.6,0.5-0.3,0.5 0,0.5-0.5,0.5 1.3,0.5 0.3,0.5-0.1,0.5 1.3,0.5-0.4,0.5-1.6,0.5-0.3,0.5 0,0.5 1,0.5-0.4,0.5 1,0.5-0.7,0.5-0.3,0.5-0.9,0.5 1.3,0.5-0.7,0.5 0.9,0.5-0.8,0.5 0.2,0.5-0.1,0.5 0.1,0.5 0.3,0.5-0.4,0.5 0.9,0.5-0.3,0.5-0.5,0.5 0.3,0.5 1.2,0.5-0.5,0.5-0.5,0.5-0.9,0.5 2,0.5-0.4,0.5 0,0.5-0.6,0.5 0.9,0.5 0.7,0.5 0.3,0.5 0.2,0.5-0.9,0.5 0.4,0.5-0.1,0.5 0,0.5-1,0.5 0,0.5 1.1,0.5 1.1,0.5-0.3,0.5-0.7,0.5-0.4,0.5 0.6,0.5-0.5,0.5 0.5,0.5 0.8,0.5-1.6,0.5 1.4,0.5-1.2,0.5 0.4,0.5 2.4,0.5-0.6,0.5-0.6,0.5-0.8,0.5-0.2,0.5 0.6,0.5-0.9,0.5-0.2,0.5 2.3,0.5 0,0.5 0.6,0.5-0.7,0.5-0.5,0.5 0.2,0.5-0.9,0.5-0.7,0.5 1,0.5-0.5,0.5 1.7,0.5-1,0.5-1.3,0.5-0.6,0.5 0.4,0.5-0.5,0.5 1.1,0.5 0.2,0.5-1.9,0.5-0.8,0.5-0.3,0.5 0.7,0.5 1.2,0.5 0.3,0.5-0.4,0.5 1.1,0.5-1.1,0.5-1.8,0.5 2.1,0.5 0.8,0.5-0.7,0.5-0.9,0.5 0.3,0.5-0.2,0.5-0.1,0.5 0.7,0.5 0.3,0.5 0.5,0.5-1.4,0.5 0.3,0.5-0.8,0.5-1.5,0.5 0.3,0.5-0.1,0.5-0.1,0.5-0.2,0.5 0.6,0.5 0,0.5-1,0.5 0.8,0.5 0.4,0.5-0.6,0.5 0.9,0.5 0.6,0.5 0.8,0.5-1.3,0.5 1.1,0.5 0.3,0.5-0.4,0.5 1.4,0.5-0.6,0.5-0.4,0.5 1.1,0.5-1.2,0.5-1,0.5 0.9,0.5-1.5,0.5 1.1,0.5-0.7,0.5-0.3,0.5 0,0.5 0.7,0.5 1,0.5-0.4,0.5 0.1,0.5 1.2,0.5 0.1,0.5 0.2,0.5 0,0.5 0.5,0.5-1,0.5 0.7,0.5 0.9,0.5-1.8,0.5 1.1,0.5-0.6,0.5-0.8,0.5 0.2,0.5 0.1,0.5-0.8,0.5 1.8,0.5 0.7,0.5-1.1,0.5 0.5,0.5 0,0.5-0.5,0.5 0.7,0.5-0.7,0.5 0.9,0.5-0.5,0.5-2.2,0.5 0.5,0.5 1,0.5 0.5,0.5 1.9,0.5-1.1,0.5-0.4,0.5 0.5,0.5 0.1,0.5-0.4,0.5-3.2,0.5 0.9,0.5 1.4,0.5-1.3,0.5-0.6,0.5 2.7,0.5-1.6,0.5 3.3,0.5-2.4,0.5-1.9,0.5-1.3,0.5 4.2,0.5 0,0.5 0.3,0.5 1.3,0.5-4.3,0.5 0,0.5 2.6,0.5-0.3,0.5-1.4,0.5 0.3,0.5 0.7,0.5-2.5,0.5 1.2,0.5-1.4,0.5-2.9,0.5 0.4,0.5 1,0.5 0.7,0.5 1.3,0.5-1,0.5 0.8,0.5-3.4,0.5 4.6,0.5 1,0.5-1.4,0.5-1.2,0.5-1.5,0.5-0.4,0.5-0.2,0.5 0.2,0.5 0.9,0.5-3.2,0.5 0,0.5 0.9,0.5 3.6,0.5-0.3,0.5-0.9,0.5 0.6,0.5-1,0.5 0.3,0.5 2.5,0.5-0.7,0.5-1.4,0.5 0.8,0.5-1.7,0.5-1,0.5 0.8,0.5 2.1,0.5 0.9,0.5-0.6,0.5 1.2,0.5 1.2,0.5-0.7,0.5-0.7,0.5 0,0.5 1,0.5-0.5,0.5 0.3,0.5 1.3,0.5-0.3,0.5-0.2,0.5-0.1,0.5 0,0.5-0.9,0.5-1.4,0.5-0.4,0.5 0,0.5 0.3,0.5 1.1,0.5 0.6,0.5-1,0.5-0.3,0.5 1,0.5-2,0.5 0.2,0.5 1.7,0.5 0.5,0.5-0.5,0.5-0.3,0.5-1.3,0.5 0.7,0.5 0,0.5 0.2,0.5-0.4,0.5 0.8,0.5 0.7,0.5-1,0.5 0.5,0.5-1.5,0.5 0.6,0.5-1.1,0.5 2,0.5-1,0.5-1.1,0.5 1.8,0.5 0,0.5 0.3,0.5 1.4,0.5 0.6,0.5 0.3,0.5 0.2,0.5-1.6,0.5-1,0.5 0.9,0.5-1.5,0.5-0.4,0.5-1.9,0.5 0.3,0.5 1.3,0.5-0.2,0.5 0.9,0.5 0.6,0.5-0.4,0.5 0.4,0.5-0.2,0.5-0.9,0.5-1.7,0.5 1.6,0.5-1.6,0.5-0.6,0.5-0.1,0.5 1.1,0.5 0.6,0.5 0.7,0.5-1.1,0.5-1.4,0.5 1.4,0.5 1.5,0.5 1.3,0.5-0.3,0.5-1.1,0.5 0.6,0.5-0.4,0.5 0,0.5-2,0.5-0.2,0.5 1,0.5-1.3,0.5 0.5,0.5-1.6,0.5-0.6,0.5 0.3,0.5-0.1,0.5 2.4,0.5-0.2,0.5 1.7,0.5 2.1,0.5-1.5,0.5-1.7,0.5 1.3,0.5 0.2,0.5-0.4,0.5 0.8,0.5-1.6,0.5 0.5,0.5 0.5,0.5-0.4,0.5 0.7,0.5-0.9,0.5-0.8,0.5 0.3,0.5-1.1,0.5 0.5,0.5 0.6,0.5 1,0.5-1.6,0.5-1,0.5-0.4,0.5 1.2,0.5-0.5,0.5 0,0.5-0.3,0.5 0.5,0.5 1.4,0.5-0.8,0.5-0.4,0.5 1.9,0.5-0.7,0.5 1.3,0.5-1.2,0.5 0.5,0.5 0.1,0.5-0.9,0.5-0.9,0.5-0.3,0.5 0.8,0.5 0.6,0.5-0.1,0.5-0.8,0.5-1,0.5-1.3,0.5 1.9,0.5 0,0.5 1.2,0.5-0.3,0.5-0.6,0.5 0,0.5-0.3,0.5 1,0.5-0.9,0.5 2.2,0.5 0.3,0.5-2.2,0.5 0.8,0.5 1.2,0.5 1.2,0.5-1.5,0.5-0.9,0.5 0.5,0.5-0.2,0.5-0.5,0.5 1,0.5 0.9,0.5-1.1,0.5-0.6,0.5 0.9,0.5-0.6,0.5-1.3,0.5-0.3,0.5 0.5,0.5 0.2,0.5 0.5,0.5-0.4,0.5 1.9,0.5-0.4,0.5-0.2,0.5-0.4,0.5-1,0.5 0.1,0.5 0.4,0.5-1.1,0.5 1.5,0.5 1.1,0.5-0.5,0.5 0.7,0.5 0.1,0.5 0.3,0.5-2.2,0.5 0.5,0.5 1.3,0.5-0.8,0.5-0.5,0.5 0.7,0.5-0.5,0.5 0.8,0.5 0.8,0.5-1.8,0.5-0.1,0.5-0.6,0.5-0.1,0.5-1,0.5-0.1,0.5 1.8,0.5-1,0.5 0.4,0.5 0.7,0.5 0.4,0.5 0,0.5 0.6,0.5-0.7,0.5-1.7,0.5 0.1,0.5-0.9,0.5 0.6,0.5 1.6,0.5 0.9,0.5-0.4,0.5 1.1,0.5-0.2,0.5-0.1,0.5 1,0.5-1.3,0.5-1.6,0.5 2,0.5 0.1,0.5-0.1,0.5 0.5,0.5-0.3,0.5 0.1,0.5 0.9,0.5 0,0.5-1.3,0.5-1.8,0.5 0.5,0.5-0.2,0.5 2.2,0.5-1,0.5 0.5,0.5 1.2,0.5-0.3,0.5-2.6,0.5 1.4,0.5-0.7,0.5 0.6,0.5-0.4,0.5 0.2,0.5 1.5,0.5-0.3,0.5-0.4,0.5 0.6,0.5 0,0.5 0.2,0.5 0.2,0.5-0.7,0.5-0.9,0.5 0.3,0.5 0.2,0.5 0.1,0.5-1.5,0.5-0.1,0.5 0.9,0.5-0.9,0.5 0.6,0.5-0.4,0.5-1.5,0.5 2.3,0.5 0.8,0.5-0.1,0.5-1.6,0.5-1.2,0.5 0.4,0.5 0.1,0.5-0.5,0.5 0.9,0.5-0.4,0.5 0,0.5-1,0.5-0.4,0.5-1,0.5 1.8,0.5-0.7,0.5 0.3,0.5 1.5,0.5-0.1,0.5-1.8,0.5 1.4,0.5 0.4,0.5 0,0.5 1.3,0.5-0.1,0.5" stroke="#000" stroke-width="0.45"/>
<path d="M445.3,62l1.5,0.45-0.7,0.45 0.6,0.45-1.3,0.45 2.9,0.45-2.5,0.45-0.1,0.45 1.9,0.45-0.6,0.45 1,0.45-1.2,0.45 0.7,0.45-2.9,0.45-1.7,0.45 0,0.45-0.4,0.45 0,0.45-1.6,0.45 2.6,0.45-0.7,0.45-1.6,0.45 0.9,0.45 0.6,0.45-1.2,0.45-0.7,0.45 1.2,0.45 1.5,0.45-1.8,0.45-0.3,0.45 2.4,0.45-1.9,0.45-0.4,0.45 0.6,0.45 1,0.45-0.1,0.45-0.1,0.45-0.9,0.45-0.6,0.45 2.3,0.45-0.5,0.45-1.1,0.45 1.1,0.45 1.5,0.45-0.3,0.45 1.4,0.45-0.4,0.45 0.2,0.45 0.1,0.45-2.8,0.45 1.1,0.45-2.3,0.45 1.7,0.45 1.7,0.45 1.9,0.45-1,0.45-0.1,0.45 0.4,0.45 0.8,0.45-2,0.45-0.7,0.45 1,0.45 1.8,0.45-3.4,0.45-0.5,0.45 1.6,0.45-0.6,0.45 1.3,0.45 1.2,0.45-0.1,0.45-0.7,0.45 1.4,0.45-1.3,0.45-0.1,0.45 1.5,0.45-0.4,0.45-1.3,0.45 0.4,0.45-1.6,0.45 0.7,0.45 0.9,0.45 1.2,0.45 0.3,0.45-0.9,0.45 1.9,0.45 0.3,0.45-0.1,0.45-1,0.45 1.2,0.45-3.6,0.45-1.4,0.45 2.9,0.45 2,0.45 0.1,0.45-0.6,0.45 3.1,0.45-5.6,0.45-1.6,0.45 0.7,0.45-2.8,0.45-1.8,0.45 1.2,0.45 0.7,0.45 1.1,0.45 0.2,0.45 0.6,0.45 3.6,0.45 1,0.45 0.4,0.45-0.3,0.45 3.8,0.45-1.4,0.45 1,0.45 1.1,0.45-1.3,0.45-0.9,0.45-3.3,0.45 0.3,0.45-1.6,0.45 0.7,0.45 1.9,0.45-3.2,0.45-0.2,0.45-2.4,0.45 1.8,0.45 0.9,0.45-0.5,0.45-0.3,0.45 0.7,0.45 0.4,0.45 2.3,0.45 0.2,0.45-0.5,0.45-3.2,0.45 1,0.45 0.3,0.45 0.8,0.45 0.4,0.45 0.8,0.45-1.4,0.45 0.6,0.45-0.6,0.45-1,0.45 0.7,0.45-0.8,0.45 0.4,0.45 2.7,0.45-1.3,0.45-0.1,0.45 1.8,0.45 0.1,0.45-2.1,0.45 0.2,0.45 0.5,0.45-1.4,0.45-0.8,0.45 0.1,0.45 2,0.45-0.2,0.45 1.1,0.45 0.7,0.45 2.2,0.45-1,0.45-2,0.45 0.4,0.45 0.1,0.45-1.1,0.45-1.8,0.45-0.2,0.45-0.8,0.45 1.5,0.45 2.7,0.45 0.3,0.45-0.1,0.45 2.2,0.45 1.3,0.45-3.5,0.45-2.4,0.45-0.4,0.45 1.9,0.45-2.7,0.45-1.4,0.45 2.7,0.45-1,0.45-1.5,0.45-1,0.45-0.5,0.45 1.6,0.45 0.1,0.45 0.1,0.45 0.3,0.45 3,0.45-0.8,0.45-4.4,0.45 4.3,0.45-0.4,0.45 2.3,0.45 0.3,0.45-0.9,0.45-1.4,0.45 0.1,0.45-0.4,0.45-2.1,0.45-0.7,0.45 1.5,0.45-0.5,0.45 0.2,0.45 3.4,0.45 0.6,0.45-5.6,0.45-7.1,0.45 2,0.45 1.7,0.45-1.8,0.45-2.7,0.45 0.8,0.45 3.9,0.45 5,0.45-2.2,0.45 0.8,0.45 1.4,0.45 3.1,0.45-7.3,0.45 0.5,0.45-2.2,0.45 5,0.45 2.2,0.45 8.4,0.45-3.8,0.45-3.3,0.45 3.6,0.45 2.3,0.45-1.5,0.45-3.3,0.45-4.8,0.45 1,0.45 4.2,0.45 2.3,0.45-6.3,0.45 10.4,0.45-10.5,0.45-0.4,0.45-7.3,0.45 4.1,0.45-8.8,0.45-2.7,0.45 11.5,0.45-3.2,0.45 4.9,0.45-8.2,0.45 11.5,0.45 15,0.45-6.4,0.45-3,0.45-24.6,0.45 0.5,0.45-0.3,0.45 7.9,0.45 12.4,0.45 3.7,0.45 7,0.45-4.4,0.45-12.2,0.45 12.3,0.45-13.4,0.45 0.4,0.45 10.8,0.45 7.1,0.45-7.9,0.45-0.3,0.45 4.9,0.45 9.5,0.45-20.7,0.45-4.5,0.45 16.6,0.45-19.4,0.45-8,0.45-1.2,0.45 10.2,0.45 10.4,0.45-0.4,0.45 0.8,0.45 2.6,0.45 2.5,0.45 6.6,0.45-2.4,0.45-2.9,0.45-15.3,0.45 7.7,0.45 14.4,0.45-8.9,0.45 8.1,0.45-4.1,0.45 2.4,0.45 0.3,0.45 2.8,0.45 0.8,0.45-10.9,0.45 3.4,0.45-6.8,0.45-0.6,0.45 7.4,0.45 8.5,0.45-19.9,0.45-2.3,0.45 2.8,0.45-5.7,0.45-3.4,0.45 0.8,0.45 2.7,0.45 6.4,0.45 6.3,0.45 2,0.45-2.3,0.45-12.7,0.45-16.9,0.45 9.5,0.45-2,0.45-2.8,0.45-2.5,0.45 9.7,0.45 5.5,0.45 5.7,0.45-6,0.45-2.1,0.45 12.8,0.45 1.8,0.45-8.2,0.45 0.4,0.45 1.4,0.45 6.9,0.45 5.1,0.45 3.2,0.45-2.5,0.45-20.4,0.45 0.3,0.45 12.3,0.45-0.3,0.45-3.4,0.45-10.7,0.45 11.2,0.45-1.3,0.45-12.7,0.45 4.7,0.45 4.8,0.45 1.4,0.45-15.2,0.45 5.2,0.45 10.2,0.45 0.3,0.45-2.3,0.45 2.4,0.45 10.2,0.45-11.8,0.45-4.1,0.45 8.4,0.45-14.7,0.45-4,0.45-10.8,0.45 19.2,0.45 4.1,0.45 4.7,0.45 2.8,0.45-4.2,0.45-13.1,0.45 6.6,0.45 3.4,0.45-19.4,0.45-1,0.45 5,0.45 8,0.45 2,0.45-1.7,0.45 0.1,0.45-0.8,0.45 0.6,0.45 7.4,0.45 8,0.45-5.2,0.45-4.1,0.45-4.1,0.45 5,0.45 6.6,0.45-2.3,0.45 1.7,0.45-3.7,0.45-3.6,0.45-7.1,0.45 19,0.45 4.2,0.45 2,0.45 0.5,0.45-14.8,0.45-6.5,0.45 4.1,0.45 11.9,0.45-4.5,0.45-2.1,0.45-4.6,0.45-1,0.45 1.2,0.45-6.9,0.45 0.9,0.45-1.2,0.45 2.4,0.45 2,0.45-1.8,0.45 0.2,0.45 3.2,0.45 2.6,0.45 1,0.45 0.8,0.45-0.2,0.45-0.6,0.45-0.4,0.45 0,0.45-0.3,0.45-0.5,0.45 1.8,0.45 1.4,0.45 0.4,0.45-1.4,0.45 0.3,0.45 1,0.45-2,0.45-0.4,0.45-0.6,0.45 0.7,0.45 1.4,0.45-0.9,0.45-0.6,0.45 0.6,0.45 1.5,0.45-0.6,0.45-0.6,0.45-0.3,0.45-0.6,0.45 1.3,0.45 1,0.45-1.2,0.45-1.1,0.45 1.9,0.45 0.5,0.45 1.4,0.45-0.3,0.45-1,0.45-1.7,0.45 0.7,0.45-2.1,0.45-0.6,0.45 1.4,0.45 0.4,0.45 0,0.45 1.9,0.45 2.2,0.45-0.9,0.45 0.1,0.45-0.1,0.45-1.2,0.45-0.3,0.45-1.9,0.45 0.1,0.45 1.4,0.45-0.5,0.45-0.1,0.45-0.9,0.45 1.1,0.45 0,0.45 1,0.45-0.4,0.45 0.8,0.45 0,0.45-2.6,0.45 1.6,0.45 0,0.45 1,0.45 0,0.45 0.5,0.45-0.2,0.45-1.5,0.45 0.5,0.45 0.4,0.45-2.2,0.45 0.3,0.45-2.8,0.45 2.3,0.45 0,0.45-0.9,0.45-1.5,0.45-0.4,0.45 0.6,0.45-0.5,0.45 1.5,0.45-0.3,0.45 0.2,0.45 1.3,0.45-1.9,0.45 0.5,0.45 0.1,0.45-0.5,0.45-1.6,0.45-0.4,0.45 0.7,0.45-0.9,0.45 1.6,0.45 0.3,0.45-0.2,0.45-1.1,0.45-0.2,0.45-0.7,0.45 0.2,0.45-0.7,0.45 4,0.45 0.9,0.45-2.9,0.45 0.8,0.45-0.1,0.45-0.2,0.45 1.1,0.45 0.9,0.45 2.7,0.45-1.8,0.45 0.5,0.45 0.7,0.45-1.9,0.45 1,0.45 0,0.45 1.5,0.45-3.3,0.45 0,0.45-1.4,0.45-0.6,0.45 1,0.45-1.8,0.45 1.7,0.45-0.1,0.45 0.5,0.45-0.5,0.45 1.7,0.45 0.3,0.45-2.4,0.45-0.2,0.45 0,0.45 2,0.45 0.1,0.45-1.7,0.45 1.9,0.45-1,0.45-2,0.45 1,0.45-0.7,0.45 0.2,0.45-1.6,0.45 1.5,0.45 1.2,0.45-0.4,0.45 0.1,0.45 1.3,0.45 0.9,0.45 0.6,0.45-0.8,0.45-1.1,0.45 0.6,0.45 0.2,0.45-0.2,0.45 1.3,0.45 0.4,0.45-0.7,0.45-1.7,0.45-0.6,0.45-0.2,0.45-1.1,0.45-1,0.45-0.7,0.45-1,0.45 0.9,0.45-1.7,0.45 3.2,0.45 1.5,0.45-1.7,0.45 0.3,0.45 0,0.45-0.4,0.45 0.9,0.45-1.8,0.45 0.2,0.45-2.4,0.45-0.9,0.45 1.4,0.45-1.2,0.45 0.1,0.45-0.3,0.45 2.1,0.45 1.8,0.45 0.1,0.45-1.5,0.45 1.1,0.45 0.7,0.45-2,0.45 0.2,0.45-0.9,0.45-0.5,0.45-0.4,0.45-0.6,0.45 0.2,0.45 3.2,0.45 0.1,0.45 0.2,0.45-0.9,0.45 0,0.45 0.3,0.45 1.4,0.45-1.8,0.45-0.7,0.45 0.8,0.45 2.1,0.45 1.7,0.45-0.4,0.45 0,0.45-0.5,0.45 1.6,0.45 1.3,0.45-0.5,0.45-0.9,0.45 2.5,0.45-0.2,0.45-0.8,0.45-0.3,0.45 0.9,0.45 1.2,0.45 2.1,0.45 0.3,0.45-1.5,0.45-0.3,0.45 1.3,0.45-1.5,0.45-1.8,0.45 0.4,0.45 0.6,0.45 0.1,0.45-0.8,0.45 3,0.45-1.3,0.45-2.4,0.45 0.6,0.45 1,0.45 0,0.45-4.2,0.45-0.7,0.45 2.3,0.45 0.4,0.45 0.1,0.45-0.5,0.45 1.6,0.45-3.2,0.45-2.3,0.45 2,0.45 2.9,0.45-1.1,0.45 0.4,0.45 1.2,0.45-2,0.45-0.9,0.45-0.5,0.45-1.5,0.45 0.3,0.45 1.4,0.45-0.6,0.45 0.4,0.45-2.4,0.45 1,0.45-1,0.45-1.4,0.45 1.3,0.45 1.7,0.45 0.5,0.45-0.2,0.45-0.2,0.45 1.9,0.45 0.5,0.45-0.5,0.45-0.1,0.45-0.8,0.45 0.7,0.45-0.9,0.45-2.5,0.45 1.3,0.45-0.9,0.45 1.8,0.45 1.2,0.45-2.3,0.45-0.7,0.45 0.4,0.45 0.8,0.45-0.6,0.45 2.6,0.45-1.8,0.45-0.2,0.45-1.4,0.45 1.6,0.45-0.2,0.45 1.3,0.45-0.1,0.45-0.6,0.45 0.5,0.45-2.7,0.45 0.6,0.45 0.6,0.45 2,0.45 1.9,0.45-2.1,0.45-1.4,0.45 1.2,0.45-2.1,0.45 5.3,0.45-1.1,0.45-0.6,0.45 0.6,0.45-3.1,0.45-0.3,0.45 2.1,0.45-0.5,0.45-1.3,0.45 0.6,0.45-1.8,0.45 1.6,0.45 2.8,0.45-3.7,0.45 0.5,0.45 0.9,0.45-0.3,0.45-0.7,0.45 0.8,0.45 3.4,0.45-2.7,0.45 2.3,0.45 0.3,0.45-2.7,0.45 2,0.45-0.9,0.45-0.5,0.45 3.6,0.45-1.8,0.45-0.4,0.45-0.1,0.45 0.9,0.45 4.5,0.45-3.4,0.45 3.4,0.45 0,0.45-2.6,0.45-1.1,0.45 1.8,0.45 1.5,0.45 0.6,0.45 0.3,0.45-0.1,0.45 0.7,0.45-1,0.45-0.8,0.45-1.1,0.45 0,0.45 0.3,0.45-0.7,0.45-1.7,0.45 0.4,0.45 0.1,0.45 2.9,0.45-0.6,0.45-5,0.45 3.6,0.45 3.9,0.45-0.1,0.45-0.8,0.45-3.3,0.45-1.5,0.45 0.5,0.45 0.8,0.45-2.6,0.45 1,0.45-0.6,0.45-1.5,0.45 2,0.45 0.6,0.45 0.6,0.45 2.8,0.45-1.8,0.45-1.6,0.45 2.4,0.45-1.6,0.45-2.9,0.45 1.1,0.45 0.9,0.45-1.1,0.45-1.2,0.45 1,0.45 2.2,0.45 1,0.45-3.2,0.45 0.6,0.45-0.6,0.45-2.1,0.45 0.9,0.45-1.9,0.45 3.3,0.45-0.5,0.45-0.6,0.45 2.6,0.45-0.4,0.45-0.8,0.45 0,0.45 0.6,0.45 2.8,0.45-0.2,0.45 0.7,0.45-0.4,0.45-3.1,0.45 1.3,0.45-0.4,0.45-6.4,0.45 1.2,0.45-0.4,0.45-1.3,0.45 1.2,0.45 0.3,0.45-0.1,0.45 1.6,0.45-1.4,0.45-0.8,0.45-4,0.45-1,0.45 1.9,0.45 1.7,0.45-1.1,0.45 2.3,0.45-3.4,0.45 1.9,0.45 1,0.45 1.9,0.45-0.1,0.45-0.7,0.45-1.5,0.45 1,0.45 1,0.45-2,0.45 3.2,0.45-3.6,0.45-0.6,0.45 0.8,0.45 0.9,0.45 1,0.45 1.3,0.45-0.8,0.45 0.7,0.45 0.9,0.45-2,0.45 0.5,0.45-2.9,0.45 1.5,0.45-1.6,0.45-0.8,0.45 0.9,0.45-0.9,0.45-2.6,0.45 3.1,0.45 0.2,0.45-2.2,0.45-0.2,0.45-1.4,0.45 3.5,0.45-0.2,0.45-2.3,0.45 2.9,0.45-1.6,0.45-0.2,0.45 0.6,0.45 2.4,0.45-1.3,0.45 3.5,0.45 1,0.45-2.6,0.45 0.9,0.45-2,0.45 0.8,0.45 3,0.45-0.7,0.45-2.5,0.45 2.8,0.45 2.5,0.45-1.1,0.45-1.7,0.45 1.2,0.45 2.1,0.45-2.1,0.45 2.5,0.45-3.1,0.45 1.7,0.45 2.3,0.45-1.1,0.45-6.7,0.45 1.8,0.45 2.5,0.45 0.3,0.45 0.2,0.45 2.1,0.45-4.3,0.45-1.1,0.45-0.9,0.45 2.6,0.45 1.7,0.45 4.1,0.45-2.3,0.45-2.6,0.45 3.5,0.45 1,0.45-4.3,0.45 0.1,0.45 3.6,0.45-1.8,0.45-4,0.45 3.4,0.45 0.6,0.45 1.3,0.45-2.6,0.45-1.1,0.45 1.5,0.45 0.8,0.45-1.3,0.45-2.1,0.45 2.2,0.45 1.1,0.45 0.3,0.45-0.6,0.45 1.1,0.45-3,0.45 1.2,0.45-7.6,0.45 2.7,0.45 0.6,0.45 0.6,0.45-3.7,0.45-2.1,0.45 6.4,0.45 1.3,0.45 1.4,0.45 1.8,0.45 1,0.45-1.1,0.45 0.1,0.45-0.6,0.45-2.1,0.45 1.2,0.45 4.3,0.45 4.2,0.45 2.7,0.45-6.1,0.45-5.3,0.45 2,0.45 0.6,0.45-6.6,0.45 0.2,0.45-8.8,0.45 10.1,0.45-2.1,0.45 3.1,0.45 0.3,0.45-1.5,0.45-4.3,0.45 0.1,0.45 3.8,0.45 1,0.45 0.7,0.45-1,0.45-1.4,0.45-1.7,0.45-0.7,0.45 0.3,0.45 5.6,0.45 3.9,0.45-2.5,0.45-3.2,0.45-0.9,0.45 4.5,0.45 6.5,0.45 2.2,0.45-5.1,0.45-0.6,0.45-0.5,0.45-5.4,0.45-3.1,0.45 1.7,0.45 0.1,0.45 6.1,0.45-3.6,0.45-2.5,0.45-0.4,0.45 2.5,0.45 1.5,0.45-4.4,0.45 3.8,0.45-0.1,0.45-6.1,0.45 5,0.45-0.9,0.45 1.7,0.45 1.4,0.45-1.5,0.45 0.9,0.45-0.6,0.45 1.7,0.45-1.9,0.45-1.6,0.45 3.4,0.45 0.1,0.45 1.5,0.45-3.4,0.45-0.9,0.45-2.6,0.45 1.7,0.45-1.9,0.45 1.1,0.45 1.8,0.45-2,0.45 0.2,0.45-1.5,0.45 2.3,0.45-0.6,0.45-1,0.45-0.1,0.45 1.4,0.45 0.6,0.45-2,0.45 1.8,0.45-2.7,0.45 1.5,0.45 0,0.45-3.3,0.45 1.8,0.45 3.1,0.45-0.1,0.45-1.3,0.45-1.7,0.45 1.1,0.45-0.2,0.45 2.7,0.45-1.3,0.45-1.1,0.45 1.4,0.45-0.7,0.45-0.1,0.45 1.5,0.45 1,0.45-3,0.45-1.8,0.45 2.8,0.45 2,0.45-1.1,0.45-0.7,0.45-0.5,0.45-0.9,0.45-1.1,0.45 0.3,0.45 0.4,0.45 1.3,0.45 2.2,0.45 0.9,0.45-2,0.45-2.1,0.45 0.9,0.45-0.5,0.45 0.8,0.45-0.1,0.45-1.9,0.45-0.1,0.45 5.4,0.45 0.8,0.45-3.4,0.45 1.5,0.45-0.3,0.45-0.8,0.45 0.6,0.45-1,0.45 1.2,0.45-0.8,0.45-1.8,0.45 0.6,0.45 2.4,0.45-2,0.45-0.2,0.45 1.9,0.45-1.4,0.45-0.1,0.45-0.9,0.45-0.7,0.45 1.6,0.45-0.5,0.45 0.5,0.45 1.6,0.45 0.4,0.45-2.7,0.45-1.3,0.45 1.1,0.45-0.7,0.45-0.2,0.45-0.1,0.45 0,0.45 0.9,0.45 1.2,0.45-1.8,0.45-2.1,0.45 1.2,0.45 1,0.45 1,0.45-0.1,0.45 0.6,0.45 0.3,0.45-1,0.45 1.3,0.45-2.1,0.45-2.3,0.45-0.4,0.45 2.2,0.45 0.5,0.45 0.8,0.45 1.6,0.45-1.8,0.45-0.1,0.45 2.6,0.45-3.4,0.45-0.3,0.45 3.7,0.45 0.6,0.45 0.8,0.45-1.5,0.45-2.4,0.45-0.8,0.45 0.4,0.45-0.4,0.45 0.5,0.45 3,0.45-1.5,0.45 1,0.45 0.9,0.45 0.1,0.45 1.4,0.45 0.3,0.45-2.8,0.45 0.9,0.45 0.4,0.45-0.9,0.45 1.9,0.45-0.1,0.45-0.2,0.45 1.6,0.45-6.7,0.45 2.1,0.45-0.1,0.45 1.8,0.45-3.2,0.45 0.4,0.45 0.7,0.45-0.5,0.45 1.9,0.45-1.9,0.45-0.2,0.45-0.4,0.45-0.8,0.45 0.3,0.45 0.6,0.45 1.3,0.45-1.9,0.45 0.8,0.45 1,0.45 0.3,0.45 0.5,0.45 2,0.45 2.5,0.45 3,0.45-2.2,0.45-0.9,0.45 2.8,0.45 0.3,0.45-3.1,0.45 0.4,0.45-4.4,0.45-2.2,0.45 1.2,0.45 0.3,0.45 0.9,0.45 1.1,0.45 0.5,0.45 2.4,0.45-1.6,0.45-2.6,0.45 0.6,0.45-0.9,0.45-3,0.45-0.3,0.45 1.9,0.45-1.6,0.45-3.1,0.45 1.3,0.45 1.5,0.45 0.6,0.45-1.2,0.45-0.8,0.45 1.7,0.45-2.3,0.45-0.8,0.45 1.2,0.45 2.6,0.45-1.2,0.45 0.4,0.45 2.3,0.45 1.9,0.45-1.5,0.45 1,0.45 1.5,0.45-0.9,0.45-0.3,0.45 0.1,0.45-1.6,0.45 0.2,0.45 1.2,0.45-3.5,0.45-0.5,0.45-1.5,0.45 2.9,0.45 2.3,0.45 0.2,0.45 0.6,0.45 0.8,0.45-2.4,0.45-2.3,0.45 1.7,0.45 0.3,0.45-0.2,0.45 0.9,0.45 0.8,0.45 1,0.45 3.1,0.45-0.8,0.45-0.2,0.45-3.5,0.45-1.2,0.45 1.8,0.45-0.8,0.45 1.3,0.45-0.5,0.45-0.7,0.45-0.4,0.45 1.7,0.45-0.1,0.45-3.9,0.45 4.4,0.45-0.4,0.45 0,0.45 1.1,0.45-0.7,0.45-3.3,0.45-1.1,0.45 0.4,0.45 0.1,0.45 1.4,0.45 0.3,0.45 0.8,0.45-1.1,0.45-0.9,0.45-1.7,0.45-0.8,0.45-1,0.45-0.3,0.45-1.5,0.45 1.6,0.45 0.4,0.45 3.1,0.45 1.4,0.45-0.1,0.45 0.7,0.45 0.1,0.45 1.4,0.45-1.1,0.45-2.2,0.45-1.6,0.45-2.2,0.45-0.1,0.45 0.3,0.45-1.7,0.45 1.8,0.45 1.7,0.45 1.4,0.45 0.5,0.45 0.2,0.45-1.3,0.45 1.7,0.45-0.7,0.45 2.5,0.45-1,0.45-4.2,0.45 3.2,0.45-0.1,0.45-0.9,0.45 2.5,0.45 2.2,0.45-2.1,0.45-1.1,0.45-1.2,0.45 1.8,0.45-1.2,0.45 0.6,0.45-1,0.45-0.9,0.45 1.7,0.45-0.4,0.45 2.4,0.45-0.2,0.45-0.9,0.45-2.3,0.45-0.5,0.45 2.1,0.45 0.7,0.45-1.9,0.45-0.5,0.45 3.2,0.45-1.6,0.45-1.1,0.45-0.3,0.45 1.6,0.45 1.2,0.45 2.2,0.45-2.2,0.45-0.4,0.45 2.5,0.45-2.3,0.45 1.7,0.45 0.3,0.45 0,0.45-1.4,0.45" stroke="#000" stroke-width="0.45"/>
<path d="M496.5,62l1.2,0.5-0.1,0.5 1.2,0.5 1.4,0.5-1.1,0.5 0.3,0.5 0.8,0.5 3.5,0.5-1.7,0.5-0.1,0.5-0.8,0.5 0,0.5 0.2,0.5 1.1,0.5-0.2,0.5-1.3,0.5-0.4,0.5-2.1,0.5 2.9,0.5-3.9,0.5-1.7,0.5 0.1,0.5-1.2,0.5-0.8,0.5 2,0.5 0.4,0.5-2.3,0.5 0.4,0.5 0.9,0.5 0.9,0.5 0.9,0.5 1.2,0.5 2.3,0.5-1.9,0.5 0.1,0.5 1.3,0.5 1.1,0.5 0.3,0.5-1.8,0.5 1.2,0.5-1.1,0.5 0.7,0.5 0,0.5-0.4,0.5-1.4,0.5 0.9,0.5-0.7,0.5 0.6,0.5 1.6,0.5 0.4,0.5 1.9,0.5 0.4,0.5 2.6,0.5-0.5,0.5 0.3,0.5-0.1,0.5-0.9,0.5 0,0.5-0.4,0.5 0,0.5-0.2,0.5-0.9,0.5-1.1,0.5-1.3,0.5 0.4,0.5-0.1,0.5-0.2,0.5 0.4,0.5 0.4,0.5 0.3,0.5-0.5,0.5-0.6,0.5 1.4,0.5-2,0.5-0.9,0.5 0.3,0.5-0.1,0.5-1.1,0.5 0.4,0.5-0.3,0.5-1.9,0.5-0.9,0.5-0.9,0.5 0.4,0.5 2.1,0.5-1,0.5-1,0.5 0,0.5-0.3,0.5 0.7,0.5 0.8,0.5-0.1,0.5 1.2,0.5 0.7,0.5 1.3,0.5 0,0.5 1.6,0.5-0.1,0.5 0,0.5 1.5,0.5 1.1,0.5-1.2,0.5 0,0.5-1.5,0.5 0.1,0.5-1.2,0.5-2,0.5-0.9,0.5-1.3,0.5-0.3,0.5-1.6,0.5 0.7,0.5-0.5,0.5 0.9,0.5-1,0.5-0.2,0.5 1.5,0.5-0.5,0.5-0.9,0.5-0.4,0.5 1.1,0.5 1.6,0.5 0.6,0.5-1.1,0.5-1.3,0.5 0.3,0.5-1.1,0.5-0.3,0.5-0.9,0.5 0.9,0.5-1.7,0.5-0.8,0.5-0.5,0.5-1.1,0.5 0,0.5-0.9,0.5-0.8,0.5 0.7,0.5-0.3,0.5-0.3,0.5 1,0.5 1.1,0.5 1,0.5 1,0.5 0.6,0.5 1.1,0.5 1.9,0.5-1.7,0.5 0.7,0.5-0.6,0.5-1.7,0.5 0.1,0.5 0.8,0.5 2,0.5 0.4,0.5-0.2,0.5 0,0.5 0.5,0.5 0.4,0.5 1.4,0.5-0.7,0.5 2.5,0.5-0.6,0.5-0.1,0.5 0.6,0.5 0.1,0.5-1,0.5 0.6,0.5 0.4,0.5-2.9,0.5 0.8,0.5-0.4,0.5-0.9,0.5 0.1,0.5 0.7,0.5-2.1,0.5 1.6,0.5 0.3,0.5-0.1,0.5-0.7,0.5-0.5,0.5-0.8,0.5 2.6,0.5 2.9,0.5-1.3,0.5 0.4,0.5-0.4,0.5 0.8,0.5 0.9,0.5 1.1,0.5-0.9,0.5 2.8,0.5-1.2,0.5 1.9,0.5-0.6,0.5-2.3,0.5-2.2,0.5 0.9,0.5 5.2,0.5-2.1,0.5-1.9,0.5-4.2,0.5 11.4,0.5 7.3,0.5-5.3,0.5-3.4,0.5-14.2,0.5 30.5,0.5-7.8,0.5-22,0.5 1.5,0.5 1.8,0.5-1.8,0.5 3.3,0.5 4.1,0.5 12.8,0.5-4.3,0.5 3,0.5-1.3,0.5 6.3,0.5-14.6,0.5-17.6,0.5-1.8,0.5-0.3,0.5 6.3,0.5 6.4,0.5-9.4,0.5-6.6,0.5 13.2,0.5 2.9,0.5-4.6,0.5 5.4,0.5-3.2,0.5 3.3,0.5 7.6,0.5-5.2,0.5 12.5,0.5-7.5,0.5-5.7,0.5-10.6,0.5 5.1,0.5 4.8,0.5-4.7,0.5 14.3,0.5-20.1,0.5 6.1,0.5-3.7,0.5 13.6,0.5 0,0.5 1.4,0.5-7.5,0.5 5.3,0.5-1.3,0.5-1.7,0.5-1.3,0.5-1.9,0.5-1.3,0.5 0.4,0.5-1.3,0.5 0.6,0.5 1.2,0.5 0.3,0.5-1.5,0.5 1.7,0.5 2.8,0.5-0.9,0.5-3.8,0.5-1.4,0.5-0.5,0.5-1.1,0.5 2.1,0.5-1,0.5-1.4,0.5 1.1,0.5-0.6,0.5-0.8,0.5 2.6,0.5 0.9,0.5 2.5,0.5-0.8,0.5 3.1,0.5-4.1,0.5-0.2,0.5 1.9,0.5 1.3,0.5-1.6,0.5-3,0.5 1.8,0.5-1.4,0.5 1.2,0.5 1.5,0.5-0.5,0.5-0.7,0.5-3.5,0.5 4,0.5 3.9,0.5-3.2,0.5 3.8,0.5 1.4,0.5-2.4,0.5-1.9,0.5-0.1,0.5 0.9,0.5-1.6,0.5-0.7,0.5-0.8,0.5 0.6,0.5-0.1,0.5-2.4,0.5 1.7,0.5 2.3,0.5 0.4,0.5 0,0.5 2.6,0.5-0.3,0.5 0.8,0.5-0.8,0.5 1.2,0.5-0.1,0.5-2.4,0.5-0.7,0.5 0.4,0.5-2.7,0.5-2.7,0.5 1.5,0.5-0.4,0.5-0.2,0.5-1.9,0.5 2.6,0.5 0,0.5 0.5,0.5-0.5,0.5 1.2,0.5 1.6,0.5-0.1,0.5-0.7,0.5 0.5,0.5 1.5,0.5-0.3,0.5 4.1,0.5 1.4,0.5-4.3,0.5-3.7,0.5 0.1,0.5 2,0.5 0.8,0.5-2.7,0.5 1.1,0.5-1.7,0.5-2.2,0.5 1.9,0.5-1.3,0.5 1.7,0.5-2.7,0.5-1.5,0.5-1,0.5 3.2,0.5-2.1,0.5 0.5,0.5 2.5,0.5 0.8,0.5-2,0.5 1.7,0.5 1.6,0.5 0.3,0.5 2.2,0.5 0,0.5-0.6,0.5 1.1,0.5 1.1,0.5-1.5,0.5 0,0.5 2.7,0.5-4.2,0.5-1.5,0.5-0.3,0.5-1,0.5-1.6,0.5 0.8,0.5 0.6,0.5-0.6,0.5 3.3,0.5 0.5,0.5 0.3,0.5-3,0.5 1.1,0.5-0.7,0.5 0.7,0.5 0,0.5-2,0.5 4,0.5 1.5,0.5-2.4,0.5 3,0.5-1,0.5 3.2,0.5 0,0.5-1.1,0.5-3.8,0.5 2.7,0.5-0.3,0.5-3,0.5 0.5,0.5 1.2,0.5-5.4,0.5 2,0.5 2.3,0.5-2.1,0.5 0.1,0.5 2.1,0.5-0.3,0.5-1.5,0.5-0.4,0.5 2.3,0.5 2.1,0.5 0.3,0.5-1.6,0.5 2.4,0.5 0.6,0.5 1.2,0.5-1.7,0.5 0.2,0.5-0.3,0.5-1.4,0.5 2.8,0.5-1,0.5-3,0.5 1.4,0.5-1.5,0.5-0.7,0.5-0.6,0.5-0.3,0.5-0.3,0.5 2.7,0.5-2.3,0.5 2,0.5-3.5,0.5 0.1,0.5-1.3,0.5 2,0.5-0.5,0.5-0.9,0.5-2.6,0.5 0.4,0.5 0.2,0.5-0.3,0.5 0,0.5 3.5,0.5-2.3,0.5-1,0.5-0.4,0.5-2.2,0.5 0.2,0.5-2.1,0.5 1.1,0.5 1.7,0.5-0.7,0.5-0.7,0.5-1.1,0.5-0.2,0.5-0.8,0.5-2.5,0.5 3.5,0.5 0.7,0.5 2.3,0.5-0.5,0.5 3.4,0.5 1.6,0.5 3.8,0.5-1.8,0.5-0.4,0.5 0.1,0.5 2.5,0.5 2.5,0.5-0.9,0.5-1.8,0.5 1.1,0.5-0.7,0.5 1.9,0.5 2,0.5-0.3,0.5-1.4,0.5-0.4,0.5-0.1,0.5-3,0.5 0.9,0.5 0.6,0.5-1,0.5-0.7,0.5 0,0.5-1.8,0.5-1,0.5 1.8,0.5-2.6,0.5-2.9,0.5 0.8,0.5 1,0.5 1.1,0.5 2.5,0.5 1.4,0.5-2.5,0.5 0.2,0.5 1.7,0.5 0.3,0.5-2,0.5 1.6,0.5-1.5,0.5 0.9,0.5 0.3,0.5 0,0.5 0.2,0.5-0.2,0.5-1,0.5 1.5,0.5-2.8,0.5 3.1,0.5-0.8,0.5 0.3,0.5 0.7,0.5-0.7,0.5-0.6,0.5-0.7,0.5 0.8,0.5 3,0.5-1.2,0.5-0.6,0.5-1.5,0.5 1.9,0.5-0.6,0.5 1.2,0.5-2.2,0.5-1.7,0.5-2.2,0.5 2.3,0.5 1.4,0.5-1.1,0.5-1.3,0.5-0.8,0.5 1.5,0.5 1,0.5 1.3,0.5-0.6,0.5 2.3,0.5 0.3,0.5-0.2,0.5-1,0.5 1.3,0.5 0,0.5-0.1,0.5 0.1,0.5-2.6,0.5-1.8,0.5 0.5,0.5-2.6,0.5-0.9,0.5-1.3,0.5 2.3,0.5 1.6,0.5 0.5,0.5 1.3,0.5-1.7,0.5-3.2,0.5 2.8,0.5-0.3,0.5-1.9,0.5 0,0.5 1.6,0.5 0.2,0.5-2.8,0.5-0.9,0.5 1.2,0.5-0.8,0.5 0.3,0.5-0.2,0.5-2.2,0.5-0.7,0.5 1.6,0.5 0.1,0.5-1.4,0.5 0.5,0.5 0.4,0.5 3.2,0.5 1.2,0.5 1,0.5-2.6,0.5-0.3,0.5 0.9,0.5 1.4,0.5-1,0.5-0.2,0.5 0.2,0.5 0.9,0.5-1.2,0.5-0.9,0.5 1.6,0.5 1.6,0.5-1,0.5 1.4,0.5 0.4,0.5 1.4,0.5 3.6,0.5 0.7,0.5-0.9,0.5-0.6,0.5-0.6,0.5-0.7,0.5-1.4,0.5-3.6,0.5-0.4,0.5-1.8,0.5 0.1,0.5 1.5,0.5 0.7,0.5-1.3,0.5 2.1,0.5 1.6,0.5-1.5,0.5 1.1,0.5-0.5,0.5-1.3,0.5-1.1,0.5-2,0.5-0.1,0.5 0,0.5-0.5,0.5 0.9,0.5-1.1,0.5 2.4,0.5-0.6,0.5-0.9,0.5 1.7,0.5-0.1,0.5 0.9,0.5 0.6,0.5 0.1,0.5-0.7,0.5 0.8,0.5-1.3,0.5-0.8,0.5-0.3,0.5 1.5,0.5-2.4,0.5 0.8,0.5-0.7,0.5-0.7,0.5 3.3,0.5-1.1,0.5 1.5,0.5 1.2,0.5-2,0.5 1.1,0.5-0.8,0.5 1.7,0.5-0.1,0.5-1.1,0.5 2.7,0.5 0,0.5-0.6,0.5 1.5,0.5 2.8,0.5-0.8,0.5-0.2,0.5 0.3,0.5-2.1,0.5 0.6,0.5-0.4,0.5-0.4,0.5-0.8,0.5 0.5,0.5 0.5,0.5-1.3,0.5-1.2,0.5-0.7,0.5-2.1,0.5-0.1,0.5 1.1,0.5 0.4,0.5-0.2,0.5 1.8,0.5-0.6,0.5-0.6,0.5 0.3,0.5 1.7,0.5 0.2,0.5 0.4,0.5-2,0.5 0.9,0.5 2.5,0.5-4.8,0.5 0.6,0.5 3.2,0.5 2.1,0.5-0.3,0.5-1.2,0.5 3.1,0.5-1.2,0.5-1.1,0.5 1.2,0.5-3.5,0.5-1.4,0.5-0.2,0.5-0.5,0.5 0.3,0.5-1.4,0.5 1.6,0.5 0.6,0.5-2.3,0.5-1.4,0.5-0.7,0.5 0.6,0.5 1,0.5 0,0.5-1,0.5-3.3,0.5-1.5,0.5 1.2,0.5 0.3,0.5-0.2,0.5-2,0.5 0.8,0.5 0,0.5 4.4,0.5 0.6,0.5-0.2,0.5-2.2,0.5 2.3,0.5-1,0.5-0.5,0.5 2.2,0.5-1.3,0.5-1,0.5 1.5,0.5-0.1,0.5-3,0.5 0.8,0.5-0.9,0.5 1,0.5 2.8,0.5 0.6,0.5 3.7,0.5-0.6,0.5-1.4,0.5 1.1,0.5-0.1,0.5-0.2,0.5 1.4,0.5-3.1,0.5-3,0.5 2.3,0.5-1.6,0.5-1.3,0.5 1.1,0.5-0.6,0.5 0,0.5-1.3,0.5-1.8,0.5 0.4,0.5 0.2,0.5 0.6,0.5 3.7,0.5 1.4,0.5 1.5,0.5 0.9,0.5 2.3,0.5 1,0.5 0.4,0.5 2.3,0.5 0.6,0.5-1.2,0.5-1.5,0.5 1.1,0.5 0.3,0.5 0.3,0.5 1,0.5-4.3,0.5 2,0.5 0.1,0.5-1.4,0.5-4,0.5 1.4,0.5-1.7,0.5-1.3,0.5-2.3,0.5 0.3,0.5 0.1,0.5-1.6,0.5-1.1,0.5 4.6,0.5 0.1,0.5 1.6,0.5 1,0.5-0.6,0.5 0.5,0.5 0.2,0.5 0.4,0.5 2.5,0.5-1.4,0.5-2.4,0.5 0.5,0.5-0.7,0.5 0.3,0.5-1.8,0.5-0.7,0.5-0.3,0.5-2,0.5-0.2,0.5 0.5,0.5 3,0.5-1.4,0.5-0.1,0.5 1.7,0.5-0.4,0.5 0.1,0.5 1.5,0.5-1.8,0.5-0.2,0.5-1.1,0.5-0.7,0.5 2.5,0.5-2.7,0.5 0,0.5 0.2,0.5 2.4,0.5 1.1,0.5 0.2,0.5-0.7,0.5 2.3,0.5 0.6,0.5 2,0.5-2.1,0.5 1.7,0.5-2.1,0.5 2.6,0.5-1.4,0.5 1.2,0.5-2.2,0.5 0.4,0.5-2.2,0.5 0.4,0.5 3.2,0.5-5,0.5-0.1,0.5-2.5,0.5 1.6,0.5 0.1,0.5-1.8,0.5-2.1,0.5 4.4,0.5-0.5,0.5-1.9,0.5 0.7,0.5 0.3,0.5 3.6,0.5-2.7,0.5-0.1,0.5-1,0.5-0.1,0.5 0,0.5-0.6,0.5-2,0.5 0.7,0.5-0.1,0.5 1.9,0.5 0.5,0.5-1.9,0.5-0.2,0.5 0.9,0.5-0.6,0.5 0.5,0.5 0.9,0.5 1.8,0.5-1.6,0.5 1.8,0.5-2.4,0.5 1.6,0.5 2.3,0.5-1.9,0.5 1.1,0.5 0.7,0.5-0.9,0.5-0.4,0.5-1.3,0.5 0.8,0.5-0.3,0.5 1,0.5 0.8,0.5-1.5,0.5 2.2,0.5 1.4,0.5 0.5,0.5-1.8,0.5-0.3,0.5-0.7,0.5-0.8,0.5 1.5,0.5-2,0.5 0.6,0.5-0.8,0.5-0.6,0.5-0.3,0.5-1.4,0.5 1.3,0.5 3.9,0.5-2.1,0.5-1.8,0.5 3.7,0.5 1.5,0.5-1.6,0.5-4,0.5 2.4,0.5 0.1,0.5-0.7,0.5-2.4,0.5 0.9,0.5-0.2,0.5 0.9,0.5-2.2,0.5-0.8,0.5 1.3,0.5 0.8,0.5-1.8,0.5-0.7,0.5-0.3,0.5-0.3,0.5 0.6,0.5 2.5,0.5 1.1,0.5-0.1,0.5 1.1,0.5-0.9,0.5 0.9,0.5-1.2,0.5 1.1,0.5 0.1,0.5-0.3,0.5 1.7,0.5-0.3,0.5 0.3,0.5 0.3,0.5 1.1,0.5-2.8,0.5 0.2,0.5 0.6,0.5 0.9,0.5 1.4,0.5-1.6,0.5 0.5,0.5-2.3,0.5 0,0.5-3.8,0.5 1.4,0.5-0.5,0.5 3.7,0.5-0.9,0.5-0.4,0.5-1,0.5 1.8,0.5 0.4,0.5 1.6,0.5 1.5,0.5 1.3,0.5-1.1,0.5 1.8,0.5-2.1,0.5 1.3,0.5 2.6,0.5-1.4,0.5-0.8,0.5-0.3,0.5-1,0.5-0.2,0.5-3.2,0.5 0.7,0.5 1.4,0.5-2.4,0.5-1.7,0.5 0,0.5 1.2,0.5-1.4,0.5 0.4,0.5 1.1,0.5 1,0.5-1.6,0.5-2.1,0.5 4.3,0.5-2.3,0.5-0.6,0.5 1.3,0.5-1,0.5-1,0.5-0.3,0.5-0.6,0.5 1.4,0.5 2.5,0.5-2.2,0.5-1.3,0.5 1.8,0.5-2.4,0.5 2.5,0.5 1,0.5-0.3,0.5-0.8,0.5-2.1,0.5 0.4,0.5 0.9,0.5 1.6,0.5-0.2,0.5-1.6,0.5 2.5,0.5-2.7,0.5 1.7,0.5-0.8,0.5-1.2,0.5-0.4,0.5-1.1,0.5 2.9,0.5-1.5,0.5 0.6,0.5-0.6,0.5-0.5,0.5-0.3,0.5-0.1,0.5 0.3,0.5 0.9,0.5 1.2,0.5-0.1,0.5 0.8,0.5 0.7,0.5-0.2,0.5-1.3,0.5 0.9,0.5-0.1,0.5-0.3,0.5 1.8,0.5-1.5,0.5-0.3,0.5-0.9,0.5 1.2,0.5-0.9,0.5-2.5,0.5 0.9,0.5-0.5,0.5 2.5,0.5-1.5,0.5 2.4,0.5 0.7,0.5-0.5,0.5-1.4,0.5 0.2,0.5 2,0.5 0.7,0.5-0.3,0.5-1.2,0.5-1.1,0.5 0.9,0.5 0.2,0.5 1.5,0.5-0.6,0.5-0.4,0.5 1.3,0.5-1.2,0.5 0.1,0.5 0.3,0.5-2.7,0.5 3.2,0.5-1.4,0.5-0.7,0.5-0.7,0.5-0.7,0.5 1.5,0.5 1.4,0.5-2,0.5 0.3,0.5 2.7,0.5 0,0.5-0.6,0.5 1.1,0.5 0.2,0.5-1.6,0.5 0.6,0.5 0.7,0.5-0.7,0.5 1.1,0.5-0.1,0.5-2.8,0.5-1.2,0.5 1.5,0.5-1.7,0.5-2.2,0.5 0.7,0.5-0.5,0.5-0.2,0.5 1.4,0.5-1.8,0.5-1.4,0.5 1.9,0.5 2.1,0.5-2.1,0.5-1.2,0.5-0.8,0.5-0.4,0.5 0.9,0.5 1,0.5 0.3,0.5-0.9,0.5 1.4,0.5 1.7,0.5 1.4,0.5 0.6,0.5-0.3,0.5 1.8,0.5-1.4,0.5 2,0.5-0.3,0.5 0,0.5-0.2,0.5 1.5,0.5 0.5,0.5-1.3,0.5-0.6,0.5-0.9,0.5 1.3,0.5 1.2,0.5-0.1,0.5-0.5,0.5-0.6,0.5-3.9,0.5 3.3,0.5 1.6,0.5 2.3,0.5-1.7,0.5-2,0.5-2.2,0.5 0.5,0.5 1.4,0.5 3.7,0.5-1.2,0.5-1.8,0.5-0.2,0.5-3.2,0.5-1.5,0.5 1,0.5 0.7,0.5-3.1,0.5-0.4,0.5 2.8,0.5 1.2,0.5-2.3,0.5 0.2,0.5-1.8,0.5-1.7,0.5-0.4,0.5-0.4,0.5 1.3,0.5 2.7,0.5-1.1,0.5-1.4,0.5 1.1,0.5-0.1,0.5 1.5,0.5 0.1,0.5 1.3,0.5 0.6,0.5 1.9,0.5-3,0.5 2.1,0.5 2.4,0.5-0.7,0.5-0.6,0.5-0.8,0.5-0.4,0.5-0.9,0.5-0.5,0.5-4.1,0.5 0.1,0.5 3.8,0.5-3.1,0.5 0.6,0.5 1.6,0.5 1.3,0.5-1.5,0.5 0.5,0.5 1.3,0.5-0.5,0.5 0.4,0.5-1.3,0.5-0.4,0.5 0.6,0.5-1.2,0.5-1.1,0.5 1,0.5 2.2,0.5-0.4,0.5 0.3,0.5 1.4,0.5-2.5,0.5 1.7,0.5-1.7,0.5 3,0.5-0.8,0.5 0.5,0.5 0.2,0.5 0.3,0.5" stroke="#000" stroke-width="0.45"/>
</g>
<rect x="71.5" y="62.0" width="600.2" height="600.5" fill="none" stroke="#000" stroke-width="2.7"/>
<path d="M71.50,662.5 v7 M71.50,62.0 v-7 M95.51,662.5 v4 M95.51,62.0 v-4 M119.52,662.5 v4 M119.52,62.0 v-4 M143.52,662.5 v4 M143.52,62.0 v-4 M167.53,662.5 v4 M167.53,62.0 v-4 M191.54,662.5 v7 M191.54,62.0 v-7 M215.55,662.5 v4 M215.55,62.0 v-4 M239.56,662.5 v4 M239.56,62.0 v-4 M263.56,662.5 v4 M263.56,62.0 v-4 M287.57,662.5 v4 M287.57,62.0 v-4 M311.58,662.5 v7 M311.58,62.0 v-7 M335.59,662.5 v4 M335.59,62.0 v-4 M359.60,662.5 v4 M359.60,62.0 v-4 M383.60,662.5 v4 M383.60,62.0 v-4 M407.61,662.5 v4 M407.61,62.0 v-4 M431.62,662.5 v7 M431.62,62.0 v-7 M455.63,662.5 v4 M455.63,62.0 v-4 M479.64,662.5 v4 M479.64,62.0 v-4 M503.64,662.5 v4 M503.64,62.0 v-4 M527.65,662.5 v4 M527.65,62.0 v-4 M551.66,662.5 v7 M551.66,62.0 v-7 M575.67,662.5 v4 M575.67,62.0 v-4 M599.68,662.5 v4 M599.68,62.0 v-4 M623.68,662.5 v4 M623.68,62.0 v-4 M647.69,662.5 v4 M647.69,62.0 v-4 M671.70,662.5 v7 M671.70,62.0 v-7 M71.5,662.50 h-7 M671.7,662.50 h7 M71.5,647.49 h-4 M671.7,647.49 h4 M71.5,632.48 h-4 M671.7,632.48 h4 M71.5,617.47 h-4 M671.7,617.47 h4 M71.5,602.46 h-4 M671.7,602.46 h4 M71.5,587.45 h-7 M671.7,587.45 h7 M71.5,572.44 h-4 M671.7,572.44 h4 M71.5,557.43 h-4 M671.7,557.43 h4 M71.5,542.42 h-4 M671.7,542.42 h4 M71.5,527.41 h-4 M671.7,527.41 h4 M71.5,512.40 h-7 M671.7,512.40 h7 M71.5,497.39 h-4 M671.7,497.39 h4 M71.5,482.38 h-4 M671.7,482.38 h4 M71.5,467.37 h-4 M671.7,467.37 h4 M71.5,452.36 h-4 M671.7,452.36 h4 M71.5,437.35 h-7 M671.7,437.35 h7 M71.5,422.34 h-4 M671.7,422.34 h4 M71.5,407.33 h-4 M671.7,407.33 h4 M71.5,392.32 h-4 M671.7,392.32 h4 M71.5,377.31 h-4 M671.7,377.31 h4 M71.5,362.30 h-7 M671.7,362.30 h7 M71.5,347.29 h-4 M671.7,347.29 h4 M71.5,332.28 h-4 M671.7,332.28 h4 M71.5,317.27 h-4 M671.7,317.27 h4 M71.5,302.26 h-4 M671.7,302.26 h4 M71.5,287.25 h-7 M671.7,287.25 h7 M71.5,272.24 h-4 M671.7,272.24 h4 M71.5,257.23 h-4 M671.7,257.23 h4 M71.5,242.22 h-4 M671.7,242.22 h4 M71.5,227.21 h-4 M671.7,227.21 h4 M71.5,212.20 h-7 M671.7,212.20 h7 M71.5,197.19 h-4 M671.7,197.19 h4 M71.5,182.18 h-4 M671.7,182.18 h4 M71.5,167.17 h-4 M671.7,167.17 h4 M71.5,152.16 h-4 M671.7,152.16 h4 M71.5,137.15 h-7 M671.7,137.15 h7 M71.5,122.14 h-4 M671.7,122.14 h4 M71.5,107.13 h-4 M671.7,107.13 h4 M71.5,92.12 h-4 M671.7,92.12 h4 M71.5,77.11 h-4 M671.7,77.11 h4 M71.5,62.10 h-7 M671.7,62.10 h7" stroke="#000" stroke-width="1.3" fill="none"/>
<text x="71.5" y="689.7" font-size="17.8" text-anchor="middle">0</text>
<text x="191.5" y="689.7" font-size="17.8" text-anchor="middle">50</text>
<text x="311.6" y="689.7" font-size="17.8" text-anchor="middle">100</text>
<text x="431.6" y="689.7" font-size="17.8" text-anchor="middle">150</text>
<text x="551.7" y="689.7" font-size="17.8" text-anchor="middle">200</text>
<text x="671.7" y="689.7" font-size="17.8" text-anchor="middle">250</text>
<text x="56.6" y="669.1" font-size="17.8" text-anchor="end">−10</text>
<text x="56.6" y="594.0" font-size="17.8" text-anchor="end">−5</text>
<text x="56.6" y="519.0" font-size="17.8" text-anchor="end">0</text>
<text x="56.6" y="443.9" font-size="17.8" text-anchor="end">5</text>
<text x="56.6" y="368.9" font-size="17.8" text-anchor="end">10</text>
<text x="56.6" y="293.9" font-size="17.8" text-anchor="end">15</text>
<text x="56.6" y="218.8" font-size="17.8" text-anchor="end">20</text>
<text x="56.6" y="143.7" font-size="17.8" text-anchor="end">25</text>
<text x="56.6" y="68.7" font-size="17.8" text-anchor="end">30</text>
<text x="371.6" y="716.6" font-size="22.8" text-anchor="middle">epicentral distance (km)</text>
<text transform="translate(18.3,363.3) rotate(-90)" font-size="22.8" text-anchor="middle">t_red(s)</text>
<text transform="translate(359.2,0) scale(0.971,1)" x="0" y="33.6" font-size="27.6" text-anchor="middle">2016-07-28 09:38 UTC</text>
<text x="408" y="327.5" font-size="44" font-weight="bold" text-anchor="middle" fill="#000">S</text>
<text x="406" y="325.5" font-size="44" font-weight="bold" text-anchor="middle" fill="#ff4500">S</text>
<text x="405.8" y="563.8" font-size="44" font-weight="bold" text-anchor="middle" fill="#000">P</text>
<text x="403.8" y="561.8" font-size="44" font-weight="bold" text-anchor="middle" fill="#ffff00">P</text>
<rect x="17.5" y="1.5" width="178.3" height="266.5" fill="#fff"/>
<g clip-path="url(#mc)">
<polygon points="17,0 31.5,0 31.5,1.5 28,6 25,10 22,14 17.5,19.5 17,19.5" fill="#c8c8c8"/><polyline points="31.5,1.5 28,6 25,10 22,14 17.5,19.5" fill="none" stroke="#000" stroke-width="0.9"/>
<polygon points="63.4,17.3 68.5,16.5 73.4,13.8 79.8,12.6 85.6,12.8 91.5,12.2 93.8,14.9 96.7,19.6 101.4,23.7 106,27.8 110.7,31.9 115.4,35.4 120,40.7 125.5,45.5 128.3,52.5 132.5,59.4 138,66.3 142.1,71.8 147.7,77.4 149.8,82.9 147.7,88.4 147.7,93.3 151.8,93.3 153.2,90.5 156.7,92.6 158.8,99.5 161.5,109.2 164.3,117.5 167.1,121.7 169.1,125.8 171.9,130 176.7,134.1 179.5,138.3 182.4,140.8 185.1,151.6 186.5,162.4 185.1,175.9 183.8,186.7 181.1,197.5 177,208.3 170.3,216.4 160.8,221.8 150,227.2 139.2,231.3 128.4,236.7 117.6,240.7 110.9,242.1 101.4,240.7 93.3,236.7 85.2,229.9 79.8,221.8 75.8,211 73.1,200.2 70.1,191.9 69.1,180.2 68.1,172.5 67.1,160.8 65.2,151.1 65.2,141.4 64.2,131.7 62.3,122 60.4,114.3 61.3,108.5 65.2,106.5 67.1,98.8 69.1,91 73,87.1 74.9,77.5 72,67.8 73.4,65.7 75.1,62.2 78,59.9 81,56.4 82.1,50.5 84.5,45.9 81.5,41.2 81,38.3 83.9,35.4 87.4,33 80,30 74,27.2 68.1,24.3 64,21.4" fill="#c8c8c8" stroke="#000" stroke-width="1.1" stroke-linejoin="round"/>
<polygon points="81.5,25.4 88.5,24.9 94.4,26.6 99.1,28.9 100.8,31.3 99.1,33.3 94.4,33.6 89.7,32.1 85,30.1 81.5,27.8" fill="#fff" stroke="#000" stroke-width="1"/>
<polyline points="17,41.7 25.2,43.6 33,41.7 36.8,42.7 37.8,45.6 44.6,49.4 52.3,54.3 60.1,56.2 67.9,58.2 71.7,62 73.7,66.9" fill="none" stroke="#000" stroke-width="0.9"/>
<polyline points="17,43.6 21.3,48.5 29.1,46.5" fill="none" stroke="#000" stroke-width="0.6"/>
<polyline points="63.3,89.1 64,97 65.2,104.6" fill="none" stroke="#000" stroke-width="0.7"/>
<polyline points="135.2,131.3 139,127 144.2,121.7" fill="none" stroke="#000" stroke-width="1"/>
<ellipse cx="58.2" cy="31" rx="2" ry="1.3" fill="none" stroke="#000" stroke-width="0.7"/>
<ellipse cx="103" cy="43.5" rx="0.8" ry="1.8" fill="none" stroke="#000" stroke-width="0.7"/>
<ellipse cx="129" cy="119" rx="0.8" ry="1.2" fill="none" stroke="#000" stroke-width="0.6"/>
<circle cx="77.5" cy="33" r="0.7" fill="#000"/><circle cx="70.5" cy="35" r="0.5" fill="#000"/><circle cx="76" cy="44" r="0.8" fill="#000"/>
<polyline points="91,37.5 95,40 96.5,39 95,37" fill="none" stroke="#000" stroke-width="0.8"/>
<path d="M158.5,164 q3,-2 5,0 q-2,2 1,3 q-3,2 -4,1 q2,2 4,3" fill="none" stroke="#000" stroke-width="0.8"/>
<polygon points="102.4,73.3 108.6,73.3 105.5,68.1" fill="#fff" stroke="#000" stroke-width="0.8"/>
<polygon points="68.1,124.0 74.3,124.0 71.2,118.8" fill="#fff" stroke="#000" stroke-width="0.8"/>
<polygon points="64.0,152.2 70.2,152.2 67.1,147.0" fill="#fff" stroke="#000" stroke-width="0.8"/>
<polygon points="70.0,150.9 76.2,150.9 73.1,145.7" fill="#fff" stroke="#000" stroke-width="0.8"/>
<polygon points="91.0,156.3 97.2,156.3 94.1,151.1" fill="#fff" stroke="#000" stroke-width="0.8"/>
<polygon points="98.3,160.9 104.5,160.9 101.4,155.7" fill="#fff" stroke="#000" stroke-width="0.8"/>
<polygon points="153.7,150.1 159.9,150.1 156.8,144.9" fill="#fff" stroke="#000" stroke-width="0.8"/>
<polygon points="179.3,160.3 185.5,160.3 182.4,155.1" fill="#fff" stroke="#000" stroke-width="0.8"/>
<polygon points="156.9,181.9 163.1,181.9 160.0,176.7" fill="#fff" stroke="#000" stroke-width="0.8"/>
<polygon points="74.0,180.3 80.2,180.3 77.1,175.1" fill="#fff" stroke="#000" stroke-width="0.8"/>
<polygon points="104.3,197.9 110.5,197.9 107.4,192.7" fill="#fff" stroke="#000" stroke-width="0.8"/>
<polygon points="113.7,234.6 119.9,234.6 116.8,229.4" fill="#fff" stroke="#000" stroke-width="0.8"/>
<polygon points="132.6,83.0 138.8,83.0 135.7,77.8" fill="#000" stroke="#000" stroke-width="0.8"/>
<polygon points="83.5,95.1 89.7,95.1 86.6,89.9" fill="#000" stroke="#000" stroke-width="0.8"/>
<polygon points="105.9,98.9 112.1,98.9 109.0,93.7" fill="#000" stroke="#000" stroke-width="0.8"/>
<polygon points="131.5,103.8 137.7,103.8 134.6,98.6" fill="#000" stroke="#000" stroke-width="0.8"/>
<polygon points="90.2,127.3 96.4,127.3 93.3,122.1" fill="#000" stroke="#000" stroke-width="0.8"/>
<polygon points="157.7,127.3 163.9,127.3 160.8,122.1" fill="#000" stroke="#000" stroke-width="0.8"/>
<polygon points="121.3,134.3 127.5,134.3 124.4,129.1" fill="#000" stroke="#000" stroke-width="0.8"/>
<polygon points="80.2,152.8 86.4,152.8 83.3,147.6" fill="#000" stroke="#000" stroke-width="0.8"/>
<polygon points="106.4,159.0 112.6,159.0 109.5,153.8" fill="#000" stroke="#000" stroke-width="0.8"/>
<polygon points="115.1,165.4 121.3,165.4 118.2,160.2" fill="#000" stroke="#000" stroke-width="0.8"/>
<polygon points="123.2,170.8 129.4,170.8 126.3,165.6" fill="#000" stroke="#000" stroke-width="0.8"/>
<polygon points="132.6,169.0 138.8,169.0 135.7,163.8" fill="#000" stroke="#000" stroke-width="0.8"/>
<polygon points="140.2,169.5 146.4,169.5 143.3,164.3" fill="#000" stroke="#000" stroke-width="0.8"/>
<polygon points="159.6,160.9 165.8,160.9 162.7,155.7" fill="#000" stroke="#000" stroke-width="0.8"/>
<polygon points="148.3,175.7 154.5,175.7 151.4,170.5" fill="#000" stroke="#000" stroke-width="0.8"/>
<polygon points="165.8,181.6 172.0,181.6 168.9,176.4" fill="#000" stroke="#000" stroke-width="0.8"/>
<polygon points="138.8,192.7 145.0,192.7 141.9,187.5" fill="#000" stroke="#000" stroke-width="0.8"/>
<polygon points="152.3,216.8 158.5,216.8 155.4,211.6" fill="#000" stroke="#000" stroke-width="0.8"/>
<polygon points="126.70,135.40 129.99,142.97 138.21,143.76 132.03,149.23 133.81,157.29 126.70,153.10 119.59,157.29 121.37,149.23 115.19,143.76 123.41,142.97" fill="#000"/>
<polygon points="126.70,143.30 127.82,145.96 130.69,146.20 128.51,148.09 129.17,150.90 126.70,149.40 124.23,150.90 124.89,148.09 122.71,146.20 125.58,145.96" fill="#fff"/>
</g>
<rect x="17.5" y="1.5" width="178.3" height="266.5" fill="none" stroke="#000" stroke-width="1.6"/>
</svg></body></html>
